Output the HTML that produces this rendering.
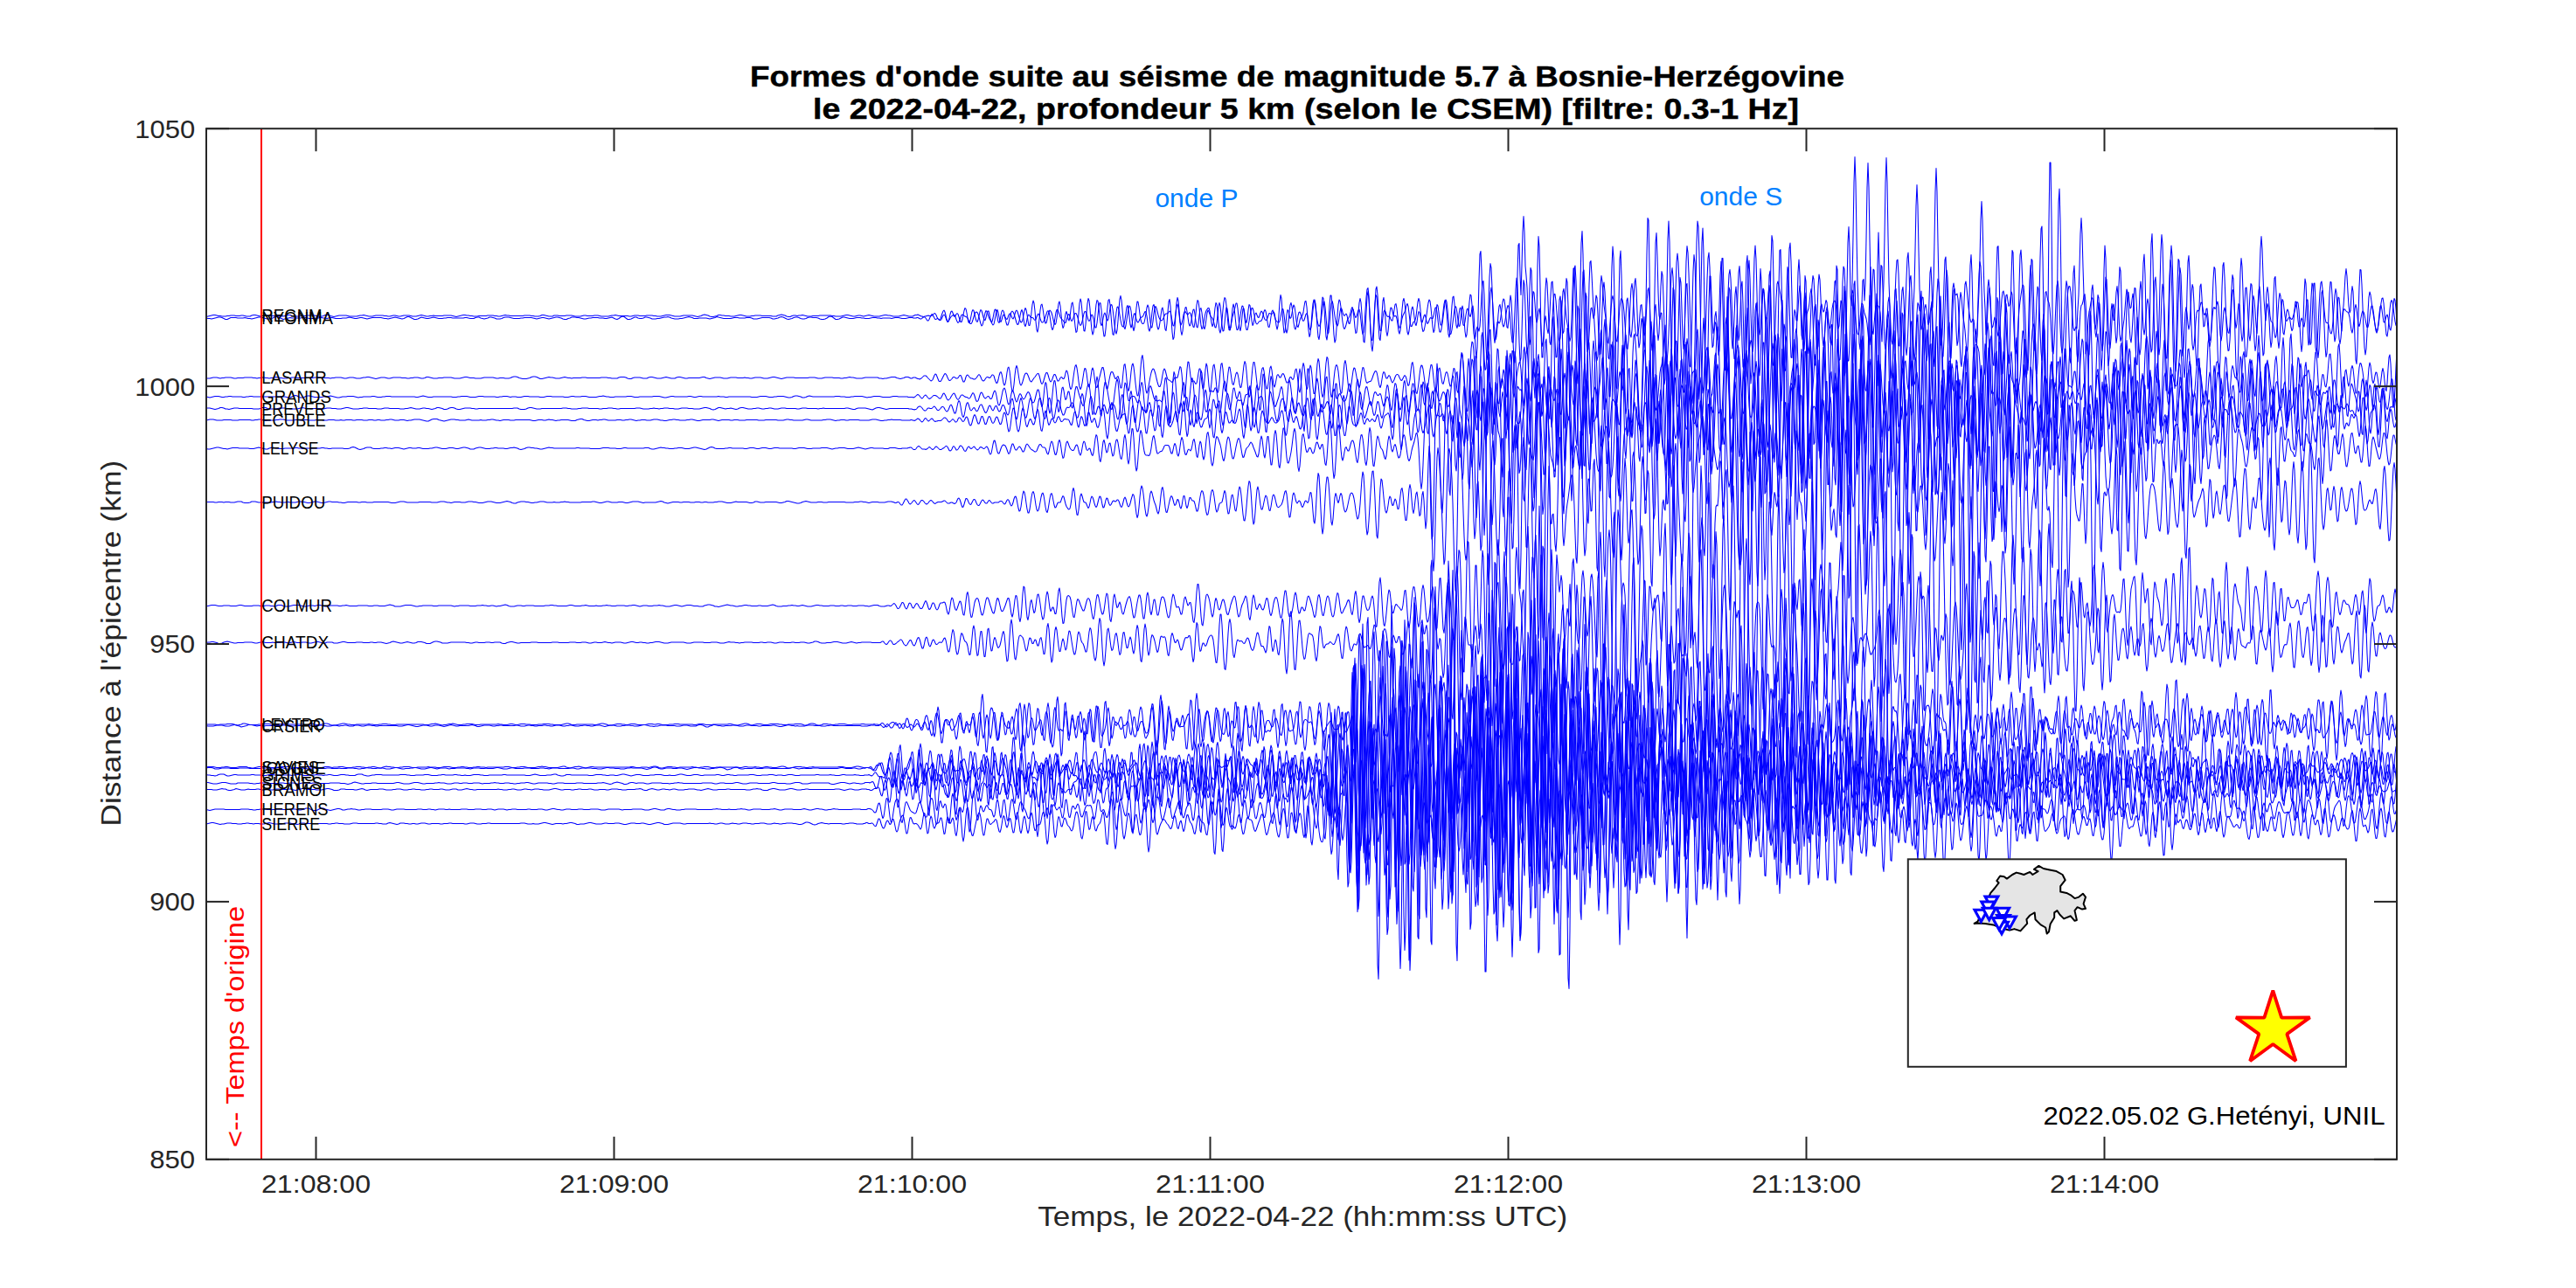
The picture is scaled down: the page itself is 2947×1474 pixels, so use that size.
<!DOCTYPE html>
<html><head><meta charset="utf-8"><title>Formes d'onde</title><style>html,body{margin:0;padding:0;background:#fff;width:2947px;height:1474px;overflow:hidden;position:relative}</style></head><body>
<svg width="2947" height="1474" viewBox="0 0 2947 1474" style="position:absolute;left:0;top:0;font-family:'Liberation Sans', sans-serif">
<rect x="0" y="0" width="2947" height="1474" fill="#ffffff"/>
<g transform="scale(0.5)" fill="none" stroke="#0000ff" stroke-width="2.1" stroke-linejoin="round"><path d="M472 725l4-1 4-1 4-1 4-1 4 0 4 1 4 1 4 0 4 1 4 0 4 0 4-1 4 0 4-1 4 0 4 0 4 1 4 0 4 0 4-1 4 0 4 1 4 1 4 0 4 0 4-2 4-1 4 0 4 1 4 1 4 1 4-1 4 0 4-1 4 0 4 1 4 0 4 0 4 0 4 0 4 0 4 0 4 1 4 0 4-1 4-1 4-1 4 0 4 2 4 1 4 0 4 0 4 0 4-1 4 0 4 0 4 0 4-1 4 0 4 0 4 0 4 0 4 1 4 1 4 1 4-1 4-1 4-2 4 0 4 0 4 2 4 1 4 1 4-1 4-1 4-1 4 0 4 0 4 0 4 0 4 1 4 1 4 0 4 0 4 0 4 0 4-1 4-1 4 0 4-1 4 1 4 1 4 1 4 0 4 0 4-1 4-1 4 0 4 0 4 0 4 0 4 1 4 0 4 1 4 0 4-1 4-1 4 0 4 1 4 1 4 0 4-1 4-1 4 0 4 0 4 0 4 1 4 1 4 0 4 0 4-1 4-1 4-1 4 1 4 1 4 1 4 0 4-1 4 0 4-1 4 1 4 0 4 0 4 0 4 0 4-1 4 0 4 0 4 0 4 0 4 1 4 1 4 1 4-1 4-1 4-1 4-1 4 0 4 1 4 0 4 1 4 0 4 1 4 0 4 0 4-1 4 0 4 0 4 0 4 0 4-1 4 0 4 0 4 0 4 1 4 0 4 1 4 0 4-1 4-1 4-1 4 1 4 0 4 1 4 0 4 0 4 0 4 0 4 0 4 0 4 0 4-1 4 0 4 0 4 0 4 1 4 0 4 1 4 0 4 0 4-1 4-2 4 0 4 1 4 1 4 1 4 0 4 0 4-2 4 0 4 0 4 1 4 0 4 0 4 0 4-1 4 0 4 0 4 0 4 1 4 1 4 0 4 0 4 0 4-1 4-1 4 0 4 1 4 0 4 0 4 0 4-1 4 0 4 0 4 1 4 1 4 0 4 0 4 0 4 0 4-1 4-1 4 0 4-1 4 1 4 1 4 0 4 0 4 0 4 0 4 0 4 1 4 0 4-1 4-1 4 0 4 0 4 1 4 0 4 0 4 0 4-1 4 0 4 0 4 0 4 1 4 0 4 1 4 0 4 0 4-1 4-1 4-1 4 0 4 0 4 1 4 1 4 1 4 0 4 0 4 0 4-1 4-1 4 0 4 0 4 0 4 0 4 0 4 1 4 1 4 1 4-1 4-1 4-2 4-1 4 1 4 1 4 2 4 1 4 0 4-1 4-1 4-2 4 0 4 1 4 0 4 1 4 0 4 0 4 1 4 0 4 0 4-1 4-1 4-1 4 0 4 1 4 1 4 1 4 0 4 0 4-1 4 0 4-1 4 0 4 0 4 0 4 1 4 0 4 0 4 0 4 0 4 0 4 1 4 0 4 0 4-2 4-1 4-1 4 1 4 1 4 2 4 1 4 0 4-2 4-1 4 0 4 1 4-1 4 0 4-1 4 1 4 1 4 1 4 0 4 0 4-1 4 0 4 0 4 0 4-1 4 0 4 0 4 0 4 0 4 0 4 0 4 1 4 0 4 1 4 0 4 0 4 0 4-1 4-1 4-1 4 0 4 1 4 1 4 1 4 0 4-1 4-1 4 0 4 1 4 1 4-1 4-1 4-1 4 1 4 1 4 1 4 0 4 0 4 0 4-1 4-1 4-1 4 0 4 1 4 0 4 1 4 1 4 0 4 0 4 0 4-1 4-1 4-1 4 1 4 1 4 1 2 0 2 0 2 0 2 0 2-1 2-1 2-1 2 0 2 0 2-1 2 1 2 1 2 1 2 1 2 0 2 1 2 0 2-1 2 0 2-1 2 0 2-1 2 1 2 0 2 0 2 0 2-2 2-2 2-2 2 1 2 3 2 5 2 4 2 2 2 0 2-3 2-6 2-6 2-5 2-2 2 4 2 8 2 9 2 6 2-1 2-7 2-10 2-6 2-1 2 4 2 6 2 3 2-2 2-4 2-2 2 2 2 6 2 7 2 5 2 0 2-6 2-10 2-10 2-6 2 2 2 9 2 13 2 9 2 1 2-6 2-10 2-10 2-4 2 2 2 8 2 9 2 7 2 2 2-5 2-9 2-9 2-5 2 2 2 7 2 8 2 6 2 1 2-6 2-9 2-6 2 0 2 8 2 10 2 7 2-1 2-8 2-11 2-8 2-1 2 7 2 12 2 10 2 2 2-6 2-11 2-9 2-3 2 2 2 7 2 7 2 4 2 1 2-4 2-6 2-3 2 0 2 5 2 5 2 2 2-4 2-7 2-7 2-2 2 3 2 7 2 7 2 7 2 4 2-1 2-5 2-11 2-10 2-6 2 4 2 11 2 14 2 11 2 0 2-11 2-19 2-18 2-9 2 6 2 18 2 24 2 19 2 5 2-11 2-19 2-20 2-12 2-2 2 10 2 14 2 13 2 7 2-1 2-8 2-10 2-7 2-4 2 2 2 4 2 7 2 9 2 8 2 3 2-3 2-12 2-18 2-15 2-5 2 10 2 20 2 21 2 10 2-4 2-15 2-14 2-5 2 7 2 10 2 4 2-8 2-17 2-14 2-3 2 12 2 21 2 22 2 14 2-2 2-17 2-25 2-23 2-10 2 7 2 22 2 26 2 18 2 1 2-15 2-25 2-23 2-12 2 5 2 19 2 27 2 22 2 10 2-6 2-19 2-24 2-20 2-10 2 2 2 14 2 19 2 17 2 6 2-4 2-12 2-10 2-3 2 6 2 8 2 4 2-4 2-12 2-13 2-8 2 1 2 10 2 16 2 19 2 15 2 6 2-8 2-21 2-27 2-23 2-8 2 10 2 21 2 25 2 16 2 4 2-8 2-13 2-14 2-12 2-6 2 2 2 10 2 19 2 18 2 8 2-8 2-21 2-23 2-15 2 1 2 12 2 16 2 13 2 6 2 3 2 0 2-3 2-9 2-12 2-13 2-6 2 5 2 15 2 19 2 13 2-1 2-13 2-18 2-13 2-4 2 4 2 8 2 8 2 6 2 4 2 2 2 1 2-2 2-4 2-5 2-4 2-1 2 0 2-1 2-3 2-2 2 2 2 9 2 12 2 10 2 1 2-12 2-18 2-16 2-4 2 9 2 16 2 16 2 7 2-4 2-9 2-11 2-6 2-1 2 3 2 3 2 1 2-3 2-2 2 2 2 8 2 13 2 10 2 1 2-11 2-20 2-20 2-11 2 3 2 15 2 22 2 18 2 8 2-3 2-11 2-13 2-9 2-6 2-3 2-3 2 0 2 7 2 13 2 14 2 8 2-5 2-17 2-20 2-12 2 3 2 18 2 24 2 18 2 6 2-9 2-19 2-24 2-19 2-10 2 3 2 15 2 22 2 21 2 13 2 1 2-8 2-12 2-11 2-7 2-7 2-8 2-9 2 0 2 12 2 23 2 21 2 7 2-11 2-22 2-17 2-1 2 13 2 15 2 5 2-10 2-19 2-13 2 2 2 16 2 19 2 11 2-4 2-12 2-11 2-2 2 5 2 5 2 1 2-5 2-6 2-4 2 2 2 5 2 7 2 5 2 2 2-1 2-4 2-6 2-5 2 0 2 2 2 0 2-2 2-3 2 3 2 12 2 16 2 9 2-8 2-25 2-30 2-16 2 8 2 28 2 32 2 19 2-3 2-18 2-21 2-11 2 3 2 10 2 7 2-2 2-10 2-12 2-7 2 4 2 14 2 18 2 12 2 3 2-7 2-9 2-6 2-2 2-3 2-7 2-14 2-11 2-1 2 14 2 26 2 27 2 15 2-6 2-21 2-28 2-21 2-9 2 5 2 13 2 16 2 14 2 9 2 4 2-3 2-8 2-15 2-17 2-13 2-1 2 13 2 23 2 24 2 14 2-3 2-19 2-26 2-20 2-7 2 7 2 13 2 14 2 12 2 8 2 3 2-5 2-13 2-15 2-8 2 2 2 8 2 6 2 2 2-3 2-2 2 4 2 10 2 8 2 1 2-8 2-14 2-10 2-1 2 7 2 8 2 4 2-3 2-7 2-7 2-2 2 9 2 18 2 19 2 11 2-5 2-20 2-30 2-29 2-19 2-3 2 18 2 37 2 44 2 35 2 11 2-19 2-42 2-48 2-33 2-6 2 19 2 33 2 31 2 18 2 0 2-13 2-17 2-13 2-4 2 3 2 7 2 4 2 1 2-1 2 1 2 5 2 4 2 0 2-10 2-15 2-12 2-2 2 11 2 19 2 17 2 9 2-2 2-9 2-11 2-7 2-4 2-4 2-6 2-9 2-4 2 6 2 16 2 18 2 12 2 0 2-5 2-5 2-1 2-3 2-9 2-17 2-16 2-8 2 7 2 19 2 24 2 18 2 8 2-2 2-9 2-12 2-15 2-15 2-13 2-7 2 3 2 15 2 22 2 22 2 13 2-5 2-21 2-24 2-14 2 3 2 15 2 18 2 11 2 0 2-12 2-19 2-17 2-9 2 7 2 20 2 28 2 23 2 7 2-13 2-28 2-31 2-20 2-2 2 18 2 27 2 22 2 6 2-10 2-20 2-15 2-2 2 11 2 17 2 12 2 1 2-9 2-15 2-12 2-3 2 6 2 9 2 4 2-7 2-13 2-5 2 17 2 40 2 43 2 20 2-24 2-68 2-87 2-59 2-7 2 44 2 73 2 74 2 55 2 26 2-3 2-31 2-54 2-66 2-59 2-31 2 10 2 47 2 61 2 48 2 16 2-12 2-22 2-14 2-1 2 4 2-3 2-12 2-17 2-16 2-8 2 2 2 17 2 25 2 21 2 2 2-23 2-33 2-19 2 12 2 43 2 52 2 40 2 7 2-36 2-75 2-91 2-67 2-4 2 73 2 45 2-66 2-78 2-36 2 36 2 78 2 22 2 27 2 56 2 52 2 23 2-14 2-39 2-44 2-25 2 3 2 25 2 30 2 13 2-8 2-17 2-7 2 15 2 33 2 31 2 8 2-26 2-51 2-53 2-27 2 12 2 45 2 54 2 36 2 6 2-23 2-38 2-35 2-20 2 0 2 16 2 27 2 30 2 25 2 12 2-9 2-32 2-42 2-32 2-7 2 18 2 28 2 22 2 12 2 11 2 16 2 13 2-9 2-43 2-64 2-51 2 0 2 58 2 89 2 82 2 35 2-30 2-87 2-114 2-91 2-27 2 53 2 115 2 125 2 83 2 7 2-65 2-102 2-94 2-51 2-3 2 31 2 42 2 38 2 32 2 33 2 32 2 20 2-9 2-43 2-64 2-55 2-23 2 13 2 29 2 25 2 16 2 14 2 24 2 35 2 32 2 3 2-43 2-82 2-87 2-46 2 26 2 93 2 119 2 84 2 4 2-81 2-121 2-94 2-20 2 57 2 91 2 71 2 18 2-32 2-53 2-38 2-6 2 24 2 35 2 25 2 6 2-16 2-34 2-41 2-34 2-10 2 25 2 53 2 54 2 27 2-10 2-32 2-25 2 8 2 34 2 28 2-21 2-82 2-114 2-83 2 5 2 108 2 170 2 157 2 72 2-46 2-137 2-161 2-111 2-23 2 54 2 81 2 54 2 9 2-15 2 1 2 43 2 69 2 51 2-12 2-85 2-127 2-109 2-41 2 48 2 117 2 134 2 93 2 19 2-56 2-98 2-98 2-65 2-20 2 20 2 48 2 67 2 72 2 63 2 29 2-24 2-76 2-99 2-82 2-35 2 15 2 48 2 61 2 69 2 74 2 66 2 27 2-39 2-99 2-126 2-104 2-49 2 13 2 67 2 99 2 104 2 79 2 32 2-15 2-49 2-64 2-67 2-65 2-49 2-13 2 34 2 70 2 72 2 41 2-4 2-29 2-25 2 3 2 23 2 15 2-21 2-59 2-67 2-33 2 27 2 76 2 87 2 57 2 3 2-46 2-68 2-65 2-41 2-11 2 21 2 46 2 56 2 51 2 30 2 0 2-30 2-55 2-63 2-49 2-15 2 32 2 68 2 78 2 53 2-2 2-61 2-94 2-80 2-18 2 56 2 101 2 94 2 42 2-27 2-81 2-100 2-79 2-29 2 31 2 79 2 94 2 71 2 23 2-29 2-65 2-68 2-38 2 4 2 32 2 30 2 4 2-25 2-35 2-17 2 20 2 52 2 64 2 44 2 4 2-38 2-60 2-57 2-32 2-6 2 10 2 11 2 10 2 16 2 31 2 46 2 48 2 33 2-2 2-45 2-80 2-89 2-64 2-13 2 43 2 81 2 90 2 73 2 37 2-13 2-65 2-95 2-84 2-29 2 37 2 75 2 61 2 10 2-37 2-49 2-21 2 22 2 50 2 47 2 20 2-16 2-43 2-52 2-45 2-22 2 8 2 37 2 52 2 47 2 24 2-7 2-31 2-36 2-24 2-5 2 10 2 8 2-3 2-14 2-10 2 5 2 21 2 27 2 25 2 19 2 6 2-15 2-41 2-52 2-38 2-2 2 36 2 47 2 27 2-6 2-31 2-27 2 5 2 48 2 69 2 50 2-8 2-78 2-117 2-102 2-36 2 49 2 111 2 21 2-53 2-106 2-124 2-58 2 58 2 124 2 106 2 53 2 85 2 15 2-38 2-67 2-53 2-3 2 49 2-39 2-101 2-119 2-56 2 56 2 119 2 101 2 52 2 57 2 7 2-21 2-27 2-17 2-3 2 2 2 2 2 2 2 13 2 28 2 38 2-82 2-53 2-105 2-124 2-57 2 57 2 124 2 105 2 53 2 136 2 30 2-15 2-48 2-63 2-62 2-51 2-31 2-2 2 34 2 65 2 77 2 60 2 24 2-14 2-39 2-50 2-57 2-57 2-46 2-13 2 38 2 85 2 100 2 73 2 10 2-180 2-44 2-87 2-102 2-48 2 48 2 102 2 87 2 44 2 50 2-6 2-10 2-16 2-18 2-7 2 11 2 21 2 14 2-5 2-19 2-14 2 5 2-8 2-50 2-98 2-115 2-54 2 54 2 115 2 98 2 50 2 88 2-1 2-24 2-50 2-66 2-54 2-7 2 55 2 97 2 93 2 44 2-23 2-70 2-77 2-48 2-11 2 14 2 13 2 0 2-3 2 13 2 40 2 57 2 47 2 10 2-32 2-58 2-60 2-38 2-7 2 16 2 23 2 20 2 15 2 13 2 7 2-2 2-6 2 2 2 19 2 24 2 10 2-20 2-58 2-39 2-76 2-89 2-42 2 42 2 89 2 76 2 39 2 59 2-23 2-36 2-35 2-13 2 20 2 49 2 60 2 44 2 5 2-43 2-81 2-88 2-60 2-2 2 60 2 96 2 89 2 49 2-2 2-42 2-58 2-51 2-28 2-2 2 14 2 13 2-3 2-16 2-14 2 6 2 32 2 47 2 40 2 17 2-12 2-30 2-33 2-27 2-18 2-14 2-14 2-10 2 2 2 24 2 49 2 62 2 50 2 9 2-42 2-81 2-83 2-49 2 3 2 50 2 76 2 74 2 48 2 12 2-26 2-61 2-87 2-92 2-66 2-6 2 73 2 143 2 166 2 120 2 14 2-113 2-204 2-212 2-133 2 0 2 129 2 206 2 207 2 133 2 17 2-101 2-179 2-189 2-131 2-32 2 73 2 138 2 146 2 96 2 21 2-45 2-73 2-66 2-40 2-19 2-8 2 1 2 13 2 27 2 31 2 23 2 7 2-4 2-5 2 4 2-43 2-33 2-65 2-76 2-36 2 36 2 76 2 65 2 33 2 101 2-11 2-35 2-33 2-18 2-9 2-11 2-11 2 0 2 20 2 32 2 20 2-12 2-36 2-31 2 7 2 54 2 71 2 40 2-29 2-93 2-107 2-56 2 29 2 95 2 101 2 50 2-17 2-57 2-51 2-17 2 16 2 22 2 0 2-28 2-36 2-14 2 22 2 46 2 42 2 16 2-8 2-15 2-13 2-14 2-23 2-28 2-18 2 7 2 32 2 43 2 31 2 9 2-19 2-38 2-42 2-26 2 1 2 27 2 40 2 40 2 31 2 14 2-14 2-51 2-77 2-68 2-20 2 45 2 96 2 104 2 63 2-14 2-91 2-127 2-100 2-23 2 61 2 105 2 100 2 60 2 15 2-20 2-47 2-72 2-85 2-77 2-38 2 22 2 80 2 108 2 95 2 52 2-1 2-48 2-80 2-92 2-77 2-34 2 24 2 74 2 93 2 73 2 24 2-28 2-61 2-70 2-55 2-23 2 16 2 56 2 78 2 70 2 31 2-26 2-77 2-93 2-68 2-15 2 38 2 64 2 61 2 40 2 13 2-10 2-26 2-29 2-20 2-6 2 2 2-2 2-9 2-9 2 1 2 12 2 12 2 4 2-4 2 0 2 12 2 24 2 27 2 13 2-11 2-37 2-53 2-51 2-30 2 4 2 42 2 69 2 74 2 53 2 9 2-43 2-78 2-81 2-52 2-7 2 34 2 53 2 54 2 40 2 21 2-1 2-23 2-42 2-45 2-29 2 2 2 30 2 37 2 19 2-9 2-27 2-20 2 3 2 28 2 36 2 19 2-10 2-37 2-44 2-31 2-1 2 28 2 44 2 38 2 12 2-18 2-36 2-35 2-14 2 10 2 27 2 29 2 20 2-52 2-26 2-53 2-62 2-29 2 29 2 62 2 53 2 26 2 23 2-23 2-16 2 7 2 30 2 40 2 23 2-12 2-45 2-59 2-42 2-4 2 38 2 59 2 50 2 17 2-18 2-40 2-36 2-18 2 4 2 17 2 17 2 10 2 2 2-3 2-4 2-2 2 1 2 3 2 1 2-4 2-7 2-8 2-8 2-7 2-6 2 2 2 17 2 34 2 39 2 22 2-16 2-53 2-62 2-36 2 11 2 50 2 58 2 33 2-10 2-44 2-55 2-33 2 6 2 42 2 56 2 43 2 13 2-20 2-40 2-44 2-35 2-21 2-4 2 17 2 37 2 49 2 45 2 25 2-8 2-36 2-53 2-48 2-27 2 1 2 28 2 45 2 42 2 21 2-9 2-32 2-38 2-23 2 2 2 23 2 31 2 22 2-42 2-16 2-31 2-37 2-17 2 17 2 37 2 31 2 16 2-5 2-36 2-20 2 12 2 46 2 63 2 48 2 9 2-39 2-69 2-68 2-40 2 1 2 34 2 51 2 52 2 40 2 17 2-13 2-38 2-46 2-35 2-12 2 7 2 15 2 15 2 13 2 13 2 12 2 10 2 4 2-3 2-10 2-16 2-18 2-16 2-11 2-1 2 12 2 24 2 27 2 21 2 4 2-14 2-24 2-24 2-16 2-5 2 5 2 13 2 16 2 15 2 9 2-1"/><path d="M472 728l4 1 4 0 4 1 4-1 4-1 4-1 4-1 4 0 4 1 4 2 4 2 4 0 4-2 4-2 4 0 4 0 4 0 4 1 4 0 4 0 4 0 4-1 4 1 4 1 4 0 4 1 4-1 4-1 4-1 4-1 4 0 4 1 4 1 4 1 4 1 4 0 4-1 4-1 4-2 4-1 4 0 4 2 4 2 4 2 4-1 4-1 4-1 4-1 4 1 4 0 4 0 4 0 4 0 4 0 4-1 4 0 4 0 4 1 4 1 4 0 4 0 4 0 4-1 4 0 4-1 4 0 4 1 4 0 4 1 4-1 4-1 4 0 4 1 4 1 4 0 4 0 4 0 4-1 4 0 4 0 4-1 4-1 4 1 4 1 4 1 4 0 4-1 4-1 4 0 4 1 4 1 4 1 4-1 4-1 4-1 4 0 4 0 4 0 4 0 4 0 4 1 4 1 4 0 4 1 4-1 4-1 4-1 4-1 4 1 4 1 4 1 4 1 4-1 4-2 4-2 4 0 4 2 4 2 4 2 4 0 4-1 4-2 4-2 4 1 4 1 4 1 4 0 4-1 4-1 4-1 4 1 4 1 4 1 4 0 4 0 4-1 4 0 4-1 4 0 4 0 4 1 4 0 4 0 4 0 4 0 4 0 4 0 4-1 4 0 4 1 4 1 4 0 4 0 4-2 4-1 4 0 4 2 4 1 4 1 4-1 4-1 4-2 4 0 4 1 4 1 4 2 4 0 4 0 4-1 4-2 4-1 4 0 4 0 4 1 4 1 4 1 4 0 4 0 4 0 4-1 4 0 4-1 4 0 4 0 4 0 4 0 4 1 4 1 4 1 4-1 4-1 4-1 4 0 4 1 4 1 4 1 4-1 4-1 4-1 4-1 4 0 4 1 4 1 4 2 4 1 4 0 4-2 4-1 4-2 4 0 4 0 4 1 4 0 4 1 4 1 4 1 4 0 4-1 4-1 4 0 4-1 4 0 4 0 4 0 4 1 4 0 4 0 4 1 4 0 4-1 4-1 4-1 4 2 4 2 4 1 4-2 4-3 4-2 4 1 4 3 4 3 4 0 4-1 4-2 4-2 4 0 4 2 4 1 4 0 4-1 4-2 4 0 4 1 4 1 4 2 4 0 4 0 4-1 4 0 4-1 4-1 4-1 4 0 4-1 4 1 4 2 4 1 4 1 4 0 4 0 4-1 4 0 4-1 4-1 4-1 4-1 4 1 4 1 4 2 4 0 4 0 4-1 4 0 4 0 4 0 4 0 4 1 4 1 4-1 4-1 4-1 4-2 4 1 4 1 4 1 4 1 4 0 4 0 4 0 4 0 4-1 4-1 4 0 4 0 4 1 4 0 4 0 4 0 4-1 4 0 4 0 4 1 4 2 4 0 4 0 4-1 4-1 4-1 4 0 4 0 4 0 4 0 4 1 4 2 4 0 4-1 4-1 4-2 4-1 4 1 4 2 4 2 4 1 4-1 4-1 4-2 4-1 4 0 4 1 4 2 4 1 4 0 4-1 4-2 4-1 4 0 4 1 4 0 4 0 4 1 4 2 4 1 4 0 4-1 4-2 4-3 4-1 4 1 4 3 4 3 4 0 4-1 4-2 4-2 4 0 4 1 4 1 4 1 4 0 4 0 4-1 4-1 4 0 4 0 4 1 4 0 4 1 4 0 4 0 4-1 4-1 4 0 4 0 4 1 4 0 4 1 4-1 4 0 4 0 4 0 4 0 4 1 4-1 4-1 4 0 4 0 4 1 4 1 4 0 4 0 4-1 4-1 2 0 2 0 2 0 2 0 2 1 2 0 2 0 2 0 2-1 2 0 2 1 2 1 2 1 2 0 2-2 2-1 2-2 2 1 2 2 2 3 2 3 2 0 2-3 2-5 2-4 2-3 2 1 2 4 2 4 2 3 2 0 2-2 2 0 2 2 2 2 2 0 2-2 2-5 2-4 2-2 2 2 2 5 2 6 2 3 2-1 2-3 2-4 2-3 2-2 2-1 2-1 2 0 2 4 2 6 2 5 2 3 2-2 2-5 2-6 2-5 2-1 2 1 2 2 2 1 2 1 2 1 2 2 2 5 2 5 2 3 2 0 2-3 2-6 2-7 2-6 2-4 2-1 2 1 2 4 2 6 2 9 2 7 2 5 2-2 2-8 2-11 2-9 2-5 2 2 2 6 2 6 2 5 2 3 2 3 2 5 2 3 2-2 2-9 2-12 2-9 2-3 2 7 2 10 2 9 2 2 2-5 2-8 2-4 2 2 2 7 2 9 2 6 2 0 2-6 2-9 2-9 2-6 2-2 2 2 2 4 2 7 2 7 2 7 2 4 2-1 2-7 2-12 2-10 2-4 2 7 2 14 2 13 2 4 2-6 2-11 2-8 2-2 2 3 2 3 2 1 2 0 2 1 2 3 2 2 2-2 2-6 2-5 2-2 2 4 2 7 2 6 2 3 2 0 2-3 2-4 2-6 2-6 2-6 2-2 2 3 2 9 2 14 2 12 2 6 2-4 2-11 2-13 2-12 2-6 2 0 2 5 2 6 2 6 2 3 2 2 2 2 2 3 2 3 2 0 2-5 2-8 2-6 2-1 2 5 2 7 2 4 2-2 2-6 2-7 2-3 2 0 2 4 2 6 2 8 2 6 2 4 2-2 2-7 2-9 2-9 2-5 2 0 2 5 2 7 2 8 2 2 2-3 2-7 2-5 2 2 2 8 2 12 2 8 2 0 2-11 2-18 2-18 2-10 2 1 2 15 2 23 2 23 2 15 2-1 2-16 2-25 2-25 2-16 2-2 2 13 2 24 2 25 2 18 2 2 2-12 2-21 2-19 2-12 2-1 2 7 2 12 2 12 2 9 2 5 2 1 2-5 2-11 2-15 2-14 2-4 2 9 2 18 2 17 2 7 2-6 2-14 2-10 2-3 2 5 2 9 2 6 2 1 2-3 2-5 2-3 2-1 2-1 2-3 2-5 2-4 2 1 2 9 2 16 2 14 2 5 2-7 2-17 2-20 2-14 2-3 2 8 2 15 2 16 2 12 2 6 2-4 2-12 2-16 2-14 2-4 2 11 2 21 2 18 2 3 2-16 2-27 2-23 2-6 2 16 2 29 2 30 2 17 2-4 2-22 2-31 2-27 2-12 2 7 2 21 2 27 2 22 2 9 2-9 2-20 2-21 2-13 2-1 2 10 2 14 2 13 2 6 2-2 2-11 2-14 2-10 2-1 2 11 2 16 2 13 2 2 2-10 2-18 2-15 2-2 2 11 2 18 2 15 2 4 2-8 2-15 2-14 2-6 2 3 2 6 2 5 2 2 2 2 2 5 2 8 2 8 2 1 2-10 2-19 2-19 2-9 2 7 2 20 2 24 2 14 2-1 2-17 2-22 2-14 2 2 2 17 2 20 2 12 2-6 2-20 2-23 2-10 2 8 2 20 2 20 2 11 2 0 2-8 2-12 2-14 2-12 2-9 2 1 2 10 2 18 2 17 2 9 2 0 2-8 2-12 2-13 2-10 2-7 2 0 2 6 2 11 2 11 2 7 2 2 2-2 2-3 2-2 2 0 2-1 2-4 2-8 2-9 2-4 2 3 2 11 2 14 2 11 2 1 2-9 2-15 2-12 2-3 2 5 2 8 2 7 2 4 2 2 2 2 2 0 2-3 2-9 2-11 2-8 2 1 2 12 2 18 2 17 2 7 2-8 2-18 2-22 2-16 2-5 2 9 2 17 2 19 2 13 2 3 2-7 2-13 2-12 2-7 2-1 2 4 2 7 2 7 2 3 2-2 2-7 2-7 2-2 2 7 2 14 2 13 2 4 2-7 2-17 2-20 2-18 2-7 2 9 2 24 2 29 2 23 2 6 2-14 2-30 2-33 2-20 2 3 2 24 2 35 2 28 2 8 2-15 2-32 2-33 2-22 2 0 2 22 2 35 2 33 2 18 2-6 2-25 2-31 2-25 2-11 2 3 2 14 2 18 2 16 2 12 2 4 2-3 2-7 2-8 2-5 2-3 2-4 2-7 2-9 2-4 2 6 2 18 2 22 2 14 2-2 2-18 2-27 2-23 2-10 2 9 2 27 2 36 2 27 2 2 2-26 2-43 2-37 2-11 2 18 2 36 2 36 2 21 2 1 2-20 2-32 2-32 2-20 2 4 2 28 2 38 2 30 2 4 2-22 2-37 2-31 2-8 2 18 2 32 2 28 2 10 2-10 2-22 2-22 2-11 2 1 2 8 2 8 2 3 2-1 2 0 2 6 2 14 2 15 2 6 2-8 2-22 2-25 2-20 2-6 2 10 2 22 2 26 2 19 2 6 2-8 2-17 2-19 2-15 2-5 2 8 2 16 2 15 2 4 2-8 2-14 2-10 2 2 2 10 2 11 2 2 2-7 2-8 2-3 2 6 2 9 2 6 2-2 2-6 2-5 2-1 2 2 2 0 2-6 2-10 2-9 2 0 2 11 2 18 2 17 2 10 2 0 2-7 2-12 2-15 2-17 2-15 2-8 2 5 2 18 2 23 2 21 2 12 2-1 2-9 2-16 2-16 2-14 2-8 2 3 2 12 2 18 2 13 2-1 2-15 2-21 2-10 2 9 2 24 2 26 2 13 2-6 2-23 2-29 2-23 2-17 2 2 2 22 2 35 2 30 2 13 2-6 2-15 2-7 2 4 2 6 2-11 2-30 2-40 2-31 2-3 2 32 2 59 2 59 2 31 2-12 2-47 2-55 2-40 2-12 2 15 2 30 2 34 2 27 2 13 2-7 2-22 2-28 2-19 2-4 2 12 2 18 2 15 2 6 2-4 2-11 2-14 2-13 2-7 2 3 2 13 2 23 2 26 2 19 2 1 2-25 2-47 2-50 2-26 2 17 2 59 2 71 2 46 2-9 2-59 2-75 2-45 2 10 2 56 2 67 2 35 2-16 2-60 2-73 2-47 2 7 2 68 2 103 2 91 2 29 2-56 2-121 2-126 2-67 2 24 2 92 2 102 2 59 2 0 2-39 2-40 2-16 2 10 2 20 2 10 2-14 2-34 2-40 2-29 2-2 2 29 2 53 2 56 2 36 2-1 2-37 2-53 2-41 2-8 2 23 2 37 2 25 2-4 2-37 2-51 2-34 2 9 2 56 2 80 2 63 2 15 2-40 2-76 2-78 2-51 2-7 2 35 2 61 2 67 2 52 2 19 2-25 2-63 2-77 2-54 2-5 2 42 2 64 2 55 2 26 2-6 2-31 2-37 2-25 2-2 2 14 2 11 2-8 2-25 2-20 2 6 2 38 2 54 2 38 2-2 2-43 2-60 2-48 2-13 2 22 2 44 2 44 2 27 2 3 2-18 2-29 2-31 2-23 2-8 2 11 2 29 2 36 2 26 2 3 2-19 2-31 2-28 2-16 2-5 2 3 2 9 2 19 2 28 2 32 2 23 2 2 2-20 2-39 2-45 2-35 2-11 2 17 2 36 2 35 2 22 2 9 2 1 2-6 2-17 2-25 2-22 2-2 2 21 2 31 2 19 2-6 2-30 2-38 2-29 2-6 2 24 2 46 2 49 2 24 2-15 2-42 2-39 2-9 2 24 2 37 2 21 2-16 2-49 2-58 2-35 2 9 2 50 2 69 2 56 2 26 2-3 2-24 2-38 2-46 2-50 2-41 2-16 2 21 2 55 2 72 2 62 2 26 2-25 2-68 2-77 2-44 2 12 2 60 2 65 2 27 2-30 2-64 2-53 2-3 2 53 2 79 2 57 2 2 2-55 2-86 2-78 2-38 2 18 2 69 2 99 2 94 2 51 2-22 2-95 2-133 2-109 2-33 2 60 2 122 2 123 2 66 2-18 2-83 2-99 2-61 2 0 2 49 2 55 2 27 2-12 2-28 2-10 2 23 2 44 2 33 2-11 2-61 2-86 2-64 2 0 2 69 2 103 2 78 2 8 2-58 2-82 2-51 2 6 2 50 2 57 2 27 2-18 2-53 2-53 2-18 2 30 2 56 2 37 2-12 2-56 2-56 2-11 2 52 2 88 2 70 2 8 2-63 2-99 2-82 2-22 2 42 2 76 2 66 2 25 2-17 2-40 2-38 2-16 2 8 2 26 2 28 2 10 2-16 2-35 2-35 2-18 2 9 2 34 2 50 2 53 2 36 2-2 2-53 2-92 2-98 2-60 2 13 2 89 2 133 2 120 2 51 2-45 2-116 2-129 2-82 2-2 2 67 2 97 2 81 2 32 2-29 2-75 2-83 2-50 2 10 2 64 2 81 2 52 2 1 2-40 2-47 2-23 2 7 2 17 2 1 2-25 2-37 2-18 2 18 2 48 2 52 2 31 2-4 2-28 2-33 2-19 2-7 2-5 2-14 2-21 2-11 2 17 2 50 2 63 2 45 2 0 2-48 2-71 2-62 2-27 2 12 2 42 2 52 2 41 2 17 2-13 2-33 2-32 2-11 2 12 2 23 2 14 2-5 2-20 2-20 2-12 2-5 2-2 2 5 2 19 2 37 2 45 2 31 2-2 2-42 2-68 2-67 2-36 2 6 2 46 2 67 2 62 2 36 2-2 2-37 2-55 2-48 2-21 2 7 2 23 2 24 2 19 2 16 2 11 2 2 2-12 2-23 2-24 2-13 2 2 2 10 2 11 2 6 2 6 2 12 2 21 2 21 2 6 2-23 2-50 2-59 2-41 2 2 2 52 2 89 2 85 2 39 2-34 2-88 2-97 2-57 2 3 2 53 2 69 2 53 2 14 2-24 2-44 2-39 2-12 2 22 2 41 2 37 2 8 2-31 2-52 2-41 2-3 2 38 2 54 2 38 2 1 2-35 2-52 2-40 2-8 2 30 2 53 2 51 2 22 2-18 2-50 2-60 2-46 2-8 2 34 2 63 2 63 2 32 2-14 2-46 2-47 2-23 2 5 2 13 2 1 2-15 2-17 2 1 2 27 2 47 2 47 2 24 2-13 2-54 2-74 2-61 2-13 2 45 2 82 2 75 2 26 2-33 2-69 2-66 2-33 2 9 2 40 2 53 2 49 2 29 2-2 2-39 2-63 2-64 2-32 2 17 2 59 2 73 2 50 2 3 2-43 2-64 2-48 2-4 2 40 2 56 2 34 2-10 2-46 2-46 2-20 2 11 2 26 2 21 2 13 2 16 2 25 2 23 2-3 2-45 2-77 2-72 2-24 2 42 2 90 2 93 2 58 2 2 2-44 2-69 2-72 2-56 2-28 2 11 2 52 2 79 2 76 2 41 2-12 2-58 2-74 2-56 2-18 2 19 2 40 2 35 2 16 2-3 2-12 2-9 2 4 2 15 2 16 2 8 2-7 2-20 2-29 2-27 2-17 2-3 2 11 2 26 2 39 2 45 2 36 2 9 2-34 2-75 2-89 2-61 2 5 2 81 2 122 2 106 2 36 2-49 2-108 2-112 2-70 2-12 2 33 2 54 2 61 2 61 2 53 2 30 2-10 2-55 2-83 2-75 2-34 2 23 2 65 2 71 2 37 2-13 2-49 2-54 2-31 2 6 2 38 2 56 2 50 2 19 2-22 2-51 2-53 2-30 2-2 2 13 2 9 2 4 2 12 2 29 2 40 2 30 2 6 2-24 2-44 2-49 2-38 2-12 2 17 2 41 2 50 2 40 2 17 2-12 2-36 2-48 2-45 2-24 2 11 2 47 2 67 2 55 2 8 2-49 2-84 2-73 2-17 2 49 2 85 2 68 2 18 2-31 2-48 2-36 2-14 2-2 2-7 2-12 2-5 2 18 2 42 2 51 2 32 2-5 2-42 2-60 2-46 2-11 2 25 2 46 2 39 2 10 2-20 2-35 2-25 2 4 2 35 2 46 2 26 2-16 2-53 2-62 2-38 2 6 2 45 2 59 2 42 2 11 2-22 2-39 2-33 2-7 2 24 2 40 2 25 2-13 2-52 2-66 2-43 2 9 2 62 2 87 2 70 2 23 2-32 2-63 2-62 2-35 2-1 2 20 2 17 2-2 2-18 2-14 2 13 2 44 2 60 2 44 2 2 2-44 2-68 2-58 2-21 2 22 2 45 2 40 2 15 2-14 2-29 2-28 2-11 2 14 2 37 2 43 2 28 2-6 2-44 2-63 2-49 2-10 2 35 2 62 2 57 2 24 2-18 2-52 2-59 2-33 2 10 2 52 2 64 2 44 2 0 2-46 2-73 2-70 2-36 2 18 2 71 2 99 2 82 2 24 2-46 2-95 2-98 2-57 2 4 2 56 2 78 2 62 2 22 2-19 2-42 2-38 2-13 2 13 2 25 2 13 2-11 2-33 2-37 2-22 2 7 2 37 2 58 2 56 2 28 2-16 2-54 2-67 2-45 2-5 2 31 2 41 2 26 2-2 2-20 2-19 2-1 2 21 2 31 2 22 2-2 2-24 2-29 2-19 2-3 2 4 2-2 2-9 2-6 2 12 2 30 2 34 2 14 2-12 2-30 2-26 2-8 2 9 2 17 2 18 2 13 2 2 2-16 2-39 2-48 2-31 2 9 2 53 2 78 2 69 2 31 2-21 2-66 2-86 2-73 2-32 2 19 2 57 2 70 2 54 2 26 2-1 2-22 2-35 2-44 2-41 2-25 2 3 2 32 2 50 2 46 2 23 2-12 2-40 2-49 2-37 2-9 2 24 2 49 2 53 2 32 2-5 2-41 2-55 2-43 2-13 2 15 2 27 2 24 2 12 2 2 2 2 2 10 2 14 2 10 2-4 2-21 2-32 2-30 2-15 2 7 2 27 2 34 2 23 2 4 2-15 2-22 2-16 2-5 2 5 2 10 2 12 2 14 2 8 2-4 2-19 2-26 2-18 2 1 2 20 2 23 2 14 2-1 2-11 2-8 2 4 2 12 2 4 2-13 2-26 2-23 2 0 2 29 2 44 2 30 2-4 2-41 2-56 2-39 2-1 2 41 2 60 2 51 2 19 2-20 2-47 2-50 2-32 2-5 2 18 2 26 2 20 2 9 2 1 2 0 2 5 2 9 2 9 2 2 2-8 2-21 2-30 2-29 2-15 2 9 2 32 2 41 2 33 2 11 2-13 2-25 2-25 2-13 2-4 2 2 2 3 2 2 2 0 2 4 2 8 2 15 2 15 2 6 2-11 2-22 2-23 2-9 2 9 2 20 2 16 2 5 2-7 2-13 2-10 2-5 2 2 2 7 2 10 2 11 2 7 2 0 2-9 2-15 2-16 2-9 2 0 2 10 2 15 2 18 2 14 2 5 2-6 2-17 2-22 2-16 2-2 2 10 2 16 2 12 2 1 2-7 2-8 2-3 2 7 2 13 2 13 2 3 2-12 2-23 2-25 2-13 2 4 2 20 2 29"/><path d="M472 866l4 0 4 0 4-1 4-1 4 0 4 0 4 1 4 1 4-1 4 0 4-1 4 0 4 0 4 0 4 1 4 1 4 0 4-1 4 0 4 0 4 0 4-1 4 0 4 0 4 0 4 0 4 1 4 0 4 1 4-1 4 0 4-1 4 0 4 1 4 0 4 1 4-1 4 0 4-1 4-1 4 1 4 1 4 0 4 1 4 0 4 0 4-1 4 0 4-1 4 0 4 0 4 1 4 0 4 0 4 0 4 0 4 0 4 0 4 0 4 0 4 0 4-1 4 0 4 0 4 0 4 1 4 0 4 0 4 0 4 0 4 1 4-1 4 0 4-1 4 0 4 0 4 0 4 1 4 1 4 0 4-1 4-1 4 0 4 0 4 1 4 1 4 0 4 0 4-1 4-1 4 0 4-1 4 0 4 1 4 1 4 1 4 1 4-1 4-1 4-1 4 0 4 0 4 1 4 1 4 0 4-1 4-1 4 0 4 0 4 0 4 0 4 1 4 0 4 0 4 1 4 0 4-1 4 0 4-1 4 0 4 0 4 1 4 1 4 0 4-1 4-2 4 0 4 1 4 1 4 1 4 0 4 0 4-1 4 0 4 0 4-1 4 0 4 0 4 0 4 0 4 1 4 1 4 0 4 0 4 0 4-1 4-1 4-1 4 0 4 1 4 1 4 0 4 0 4 1 4 0 4 0 4 0 4-1 4-1 4 0 4 0 4 0 4 0 4 0 4 1 4 1 4 0 4-1 4 0 4 0 4 1 4 0 4 0 4-1 4-2 4-1 4 0 4 1 4 2 4 1 4 1 4 0 4 0 4-1 4-1 4-2 4-1 4 0 4 1 4 2 4 2 4 0 4-1 4-1 4-1 4-1 4 1 4 0 4 1 4 1 4 0 4 0 4-1 4-1 4-1 4 1 4 1 4 0 4 1 4-1 4 0 4 0 4 0 4 0 4-1 4 0 4 0 4 1 4 0 4 0 4 0 4 0 4 0 4 0 4 0 4-1 4 0 4 0 4 0 4 1 4 0 4 1 4 0 4 0 4 0 4-2 4-1 4 0 4 0 4 1 4 2 4 1 4 0 4-2 4-1 4 0 4 0 4 0 4 1 4 1 4 0 4 0 4-2 4-1 4 0 4 1 4 1 4 1 4 0 4 0 4-1 4-1 4-1 4 1 4 1 4 1 4 0 4 0 4-2 4-1 4 0 4 1 4 1 4 1 4 0 4-1 4 0 4 0 4 0 4 0 4 0 4 0 4-1 4-1 4 0 4 2 4 1 4 1 4-1 4-1 4-1 4 0 4 0 4 0 4 1 4 1 4 0 4 0 4-1 4-1 4 0 4 0 4 0 4 1 4 0 4 0 4 0 4-1 4 1 4 0 4 1 4 0 4-1 4-1 4 0 4 0 4 0 4 1 4 1 4 0 4 0 4-1 4-1 4-1 4 0 4 1 4 1 4 1 4 1 4-1 4-1 4-1 4 0 4 0 4 0 4 0 4 1 4 0 4 0 4 0 4 0 4 0 4 0 4 0 4-1 4 0 4 0 4 0 4 1 4 1 4 0 4 0 4-1 4-1 4 0 4 0 4 0 4 0 4 1 4 0 4 0 4 0 4 1 4 0 4-1 4 0 4-1 4-1 4 1 4 0 4 1 4 1 4 0 4 0 4 0 4-1 4-1 4 0 4 0 4 0 4 0 4 0 4 0 4 0 4 2 4 0 4 1 4-1 4 0 4-1 4-1 4-1 4 0 4 0 4 2 4 1 4 1 4-1 4-1 2-1 2-1 2 0 2 0 2 0 2 1 2 1 2 1 2 0 2-1 2-1 2 0 2 0 2 1 2 1 2 1 2 0 2 1 2-1 2-1 2-2 2-2 2-2 2 0 2 0 2 1 2 3 2 2 2 2 2 2 2 2 2-1 2-2 2-5 2-5 2-3 2 1 2 5 2 5 2 5 2 1 2 0 2-3 2-4 2-4 2-4 2-3 2 1 2 3 2 5 2 4 2 3 2 0 2-2 2-2 2-3 2-1 2 0 2 2 2 1 2 0 2-1 2-3 2-3 2 0 2 4 2 6 2 5 2 0 2-4 2-7 2-4 2-1 2 2 2 3 2 2 2 1 2 0 2 1 2 1 2 0 2-1 2-2 2-3 2-3 2-2 2 2 2 4 2 5 2 3 2 1 2-1 2-3 2-3 2-2 2 0 2 1 2 1 2-1 2-3 2-3 2 0 2 2 2 7 2 6 2 4 2-1 2-7 2-9 2-7 2-2 2 5 2 10 2 11 2 5 2-3 2-11 2-15 2-11 2-2 2 9 2 17 2 19 2 11 2-2 2-14 2-21 2-16 2-6 2 6 2 13 2 13 2 10 2 3 2-3 2-6 2-7 2-7 2-4 2-1 2 1 2 4 2 5 2 6 2 3 2 1 2-3 2-3 2-3 2-2 2-3 2-3 2-2 2 0 2 5 2 8 2 8 2 3 2-2 2-6 2-7 2-7 2-4 2 0 2 5 2 7 2 6 2 3 2-2 2-5 2-6 2-4 2 0 2 4 2 6 2 5 2 0 2-3 2-4 2-2 2 1 2 3 2 0 2-4 2-9 2-6 2 2 2 9 2 15 2 12 2 5 2-3 2-10 2-15 2-14 2-11 2-3 2 7 2 14 2 17 2 13 2 5 2-4 2-10 2-13 2-13 2-8 2 1 2 10 2 16 2 13 2 3 2-9 2-15 2-15 2-5 2 6 2 15 2 14 2 9 2 1 2-6 2-9 2-9 2-8 2-8 2-6 2 0 2 8 2 15 2 16 2 10 2 0 2-9 2-12 2-10 2-7 2-1 2 1 2 5 2 6 2 4 2-1 2-3 2-2 2 6 2 11 2 10 2 0 2-14 2-22 2-17 2-2 2 14 2 22 2 19 2 7 2-7 2-17 2-20 2-15 2-4 2 8 2 17 2 20 2 17 2 11 2 1 2-12 2-24 2-29 2-22 2-6 2 13 2 26 2 25 2 17 2 6 2-5 2-11 2-11 2-11 2-9 2-6 2-3 2 1 2 5 2 7 2 9 2 8 2 7 2 4 2 0 2-5 2-10 2-12 2-10 2-4 2 3 2 8 2 8 2 5 2 2 2 0 2 2 2 2 2 1 2-3 2-5 2-3 2 0 2 1 2-1 2-7 2-10 2-8 2 2 2 15 2 23 2 23 2 8 2-10 2-27 2-28 2-17 2 1 2 15 2 17 2 11 2 2 2-2 2 0 2 4 2 3 2-2 2-9 2-14 2-10 2 0 2 14 2 19 2 13 2-2 2-19 2-23 2-14 2 6 2 21 2 24 2 14 2-3 2-18 2-23 2-16 2-3 2 12 2 21 2 21 2 11 2-5 2-20 2-24 2-17 2-2 2 14 2 23 2 20 2 8 2-6 2-17 2-20 2-13 2 1 2 12 2 15 2 11 2 2 2-7 2-10 2-9 2-3 2 4 2 10 2 13 2 8 2-1 2-12 2-20 2-18 2-9 2 5 2 18 2 25 2 23 2 11 2-4 2-18 2-24 2-22 2-12 2 0 2 12 2 18 2 18 2 13 2 3 2-8 2-15 2-16 2-11 2-2 2 8 2 15 2 16 2 10 2-1 2-12 2-19 2-16 2-4 2 9 2 18 2 16 2 5 2-6 2-11 2-10 2-2 2 3 2 4 2 0 2-4 2-4 2-1 2 3 2 6 2 7 2 5 2 0 2-3 2-6 2-4 2 0 2 4 2 2 2-3 2-10 2-10 2-2 2 11 2 20 2 18 2 5 2-11 2-23 2-22 2-11 2 7 2 20 2 22 2 11 2-4 2-19 2-21 2-11 2 5 2 19 2 25 2 16 2 0 2-16 2-27 2-25 2-12 2 6 2 22 2 28 2 23 2 9 2-6 2-20 2-27 2-25 2-14 2 3 2 21 2 29 2 26 2 13 2-4 2-17 2-21 2-18 2-11 2-3 2 4 2 11 2 19 2 20 2 12 2-2 2-19 2-27 2-21 2-7 2 9 2 20 2 21 2 16 2 6 2-5 2-13 2-16 2-14 2-7 2 1 2 9 2 11 2 12 2 9 2 3 2-6 2-14 2-16 2-10 2 1 2 10 2 13 2 9 2 3 2-2 2-1 2-1 2 0 2-3 2-5 2-6 2-5 2-4 2-1 2 3 2 9 2 12 2 10 2 4 2-6 2-13 2-12 2-5 2 2 2 8 2 5 2 0 2-4 2-3 2 2 2 6 2 6 2 3 2-3 2-4 2-6 2-4 2-2 2 0 2 2 2 5 2 4 2 3 2-1 2-4 2-4 2-3 2 2 2 6 2 9 2 7 2-2 2-12 2-19 2-17 2-4 2 11 2 22 2 23 2 14 2 2 2-9 2-16 2-18 2-15 2-7 2 1 2 8 2 14 2 16 2 12 2 6 2-3 2-11 2-16 2-17 2-11 2 0 2 11 2 19 2 19 2 12 2-3 2-14 2-20 2-15 2-2 2 10 2 14 2 11 2 2 2-7 2-10 2-9 2-2 2 4 2 9 2 12 2 8 2-1 2-12 2-16 2-12 2 1 2 13 2 20 2 17 2 5 2-14 2-28 2-29 2-17 2 2 2 18 2 29 2 32 2 30 2 19 2 0 2-23 2-41 2-45 2-34 2-16 2 2 2 20 2 36 2 46 2 44 2 26 2 0 2-31 2-52 2-59 2-45 2-8 2 39 2 72 2 73 2 35 2-23 2-69 2-80 2-52 2-2 2 46 2 72 2 67 2 33 2-16 2-55 2-64 2-39 2 3 2 33 2 36 2 18 2-8 2-20 2-14 2 7 2 25 2 25 2 6 2-22 2-38 2-33 2-7 2 23 2 37 2 31 2 9 2-11 2-19 2-17 2-12 2-11 2-9 2-1 2 17 2 34 2 36 2 13 2-25 2-50 2-46 2-12 2 28 2 48 2 38 2 8 2-21 2-29 2-17 2 2 2 11 2-1 2-17 2-25 2-10 2 20 2 45 2 49 2 27 2-10 2-47 2-63 2-48 2-8 2 43 2 73 2 60 2 7 2-59 2-93 2-74 2-8 2 66 2 108 2 98 2 46 2-23 2-84 2-112 2-96 2-40 2 36 2 94 2 102 2 60 2-8 2-59 2-68 2-39 2 2 2 30 2 33 2 25 2 17 2 13 2 3 2-26 2-62 2-82 2-59 2 8 2 89 2 136 2 121 2 41 2-61 2-135 2-144 2-85 2 9 2 87 2 116 2 88 2 23 2-43 2-77 2-68 2-25 2 23 2 57 2 60 2 36 2-6 2-52 2-74 2-60 2-9 2 49 2 78 2 55 2 0 2-43 2-45 2-7 2 31 2 34 2 1 2-40 2-54 2-32 2 12 2 46 2 52 2 31 2-2 2-25 2-30 2-15 2 7 2 21 2 14 2-12 2-41 2-49 2-24 2 26 2 68 2 77 2 50 2 0 2-46 2-70 2-64 2-38 2-6 2 18 2 30 2 35 2 43 2 47 2 38 2 6 2-43 2-86 2-88 2-39 2 37 2 97 2 99 2 41 2-41 2-95 2-91 2-36 2 29 2 66 2 62 2 36 2 10 2-5 2-12 2-19 2-26 2-24 2-12 2-4 2-10 2-28 2-37 2-18 2 34 2 94 2 123 2 92 2 7 2-88 2-143 2-133 2-71 2 5 2 65 2 97 2 99 2 68 2 11 2-47 2-75 2-56 2-4 2 37 2 38 2 1 2-41 2-54 2-28 2 15 2 43 2 47 2 36 2 22 2 10 2-8 2-30 2-51 2-57 2-40 2-8 2 32 2 59 2 64 2 46 2 12 2-21 2-43 2-45 2-35 2-21 2-7 2 7 2 21 2 34 2 39 2 32 2 17 2-6 2-27 2-46 2-53 2-46 2-19 2 22 2 64 2 86 2 72 2 25 2-36 2-81 2-91 2-65 2-17 2 28 2 58 2 65 2 52 2 28 2 0 2-20 2-31 2-33 2-31 2-28 2-18 2-7 2 6 2 20 2 32 2 39 2 35 2 22 2 3 2-16 2-29 2-34 2-30 2-21 2-14 2-13 2-11 2 3 2 32 2 66 2 82 2 68 2 21 2-41 2-98 2-128 2-114 2-55 2 29 2 107 2 152 2 142 2 85 2-4 2-94 2-152 2-153 2-97 2-10 2 67 2 113 2 121 2 96 2 41 2-29 2-92 2-108 2-65 2 10 2 66 2 65 2 13 2-49 2-76 2-51 2 9 2 68 2 93 2 71 2 17 2-33 2-53 2-42 2-20 2-11 2-18 2-31 2-30 2-10 2 23 2 60 2 87 2 89 2 53 2-16 2-91 2-134 2-125 2-67 2 13 2 91 2 137 2 137 2 85 2 1 2-78 2-116 2-104 2-65 2-30 2-5 2 20 2 59 2 97 2 105 2 69 2 7 2-49 2-74 2-72 2-61 2-51 2-33 2 0 2 42 2 73 2 79 2 62 2 39 2 15 2-15 2-63 2-112 2-133 2-93 2 9 2 128 2 193 2 163 2 51 2-79 2-158 2-154 2-87 2-8 2 47 2 75 2 87 2 92 2 78 2 30 2-49 2-124 2-148 2-103 2-8 2 86 2 132 2 115 2 55 2-17 2-75 2-91 2-66 2-13 2 35 2 52 2 36 2 3 2-24 2-30 2-15 2 14 2 41 2 55 2 42 2 0 2-57 2-98 2-99 2-52 2 20 2 84 2 110 2 95 2 53 2 1 2-42 2-65 2-68 2-58 2-44 2-32 2-14 2 20 2 69 2 108 2 111 2 60 2-23 2-101 2-131 2-102 2-34 2 36 2 77 2 81 2 57 2 20 2-16 2-39 2-46 2-30 2-3 2 23 2 29 2 13 2-12 2-29 2-22 2-2 2 19 2 24 2 11 2-7 2-16 2-5 2 17 2 32 2 30 2 10 2-20 2-50 2-69 2-63 2-21 2 41 2 90 2 98 2 57 2-3 2-50 2-70 2-64 2-44 2-15 2 21 2 58 2 76 2 61 2 7 2-55 2-90 2-71 2-13 2 46 2 71 2 54 2 15 2-17 2-32 2-29 2-22 2-12 2 1 2 16 2 25 2 22 2 5 2-14 2-24 2-19 2-1 2 19 2 28 2 23 2 6 2-15 2-25 2-24 2-17 2-15 2-15 2-8 2 11 2 40 2 62 2 59 2 27 2-20 2-54 2-63 2-47 2-20 2-1 2 4 2 5 2 9 2 26 2 47 2 57 2 47 2 15 2-27 2-63 2-78 2-64 2-27 2 19 2 49 2 53 2 33 2 8 2-3 2 3 2 14 2 14 2-5 2-34 2-54 2-52 2-23 2 18 2 52 2 61 2 45 2 13 2-19 2-39 2-42 2-30 2-8 2 11 2 21 2 18 2 9 2 4 2 4 2 8 2 8 2 1 2-4 2-6 2-8 2-17 2-31 2-42 2-31 2 4 2 51 2 81 2 76 2 41 2-6 2-43 2-60 2-61 2-50 2-33 2-16 2 6 2 29 2 53 2 70 2 70 2 45 2 3 2-43 2-79 2-90 2-67 2-19 2 37 2 74 2 75 2 43 2-1 2-35 2-44 2-32 2-7 2 13 2 22 2 18 2 4 2-12 2-25 2-21 2 0 2 28 2 45 2 32 2-3 2-42 2-55 2-35 2 1 2 29 2 34 2 19 2 3 2-1 2 2 2 2 2-6 2-16 2-15 2 0 2 18 2 22 2 9 2-11 2-27 2-33 2-31 2-21 2 6 2 47 2 83 2 85 2 38 2-39 2-104 2-114 2-66 2 12 2 76 2 92 2 63 2 8 2-45 2-71 2-62 2-21 2 31 2 69 2 74 2 47 2-2 2-48 2-73 2-67 2-36 2 2 2 31 2 42 2 42 2 34 2 23 2 4 2-18 2-36 2-39 2-22 2 4 2 24 2 28 2 14 2-9 2-26 2-26 2-10 2 13 2 33 2 37 2 19 2-11 2-39 2-47 2-28 2 8 2 43 2 58 2 44 2 8 2-37 2-73 2-78 2-45 2 14 2 70 2 92 2 72 2 25 2-23 2-53 2-61 2-53 2-33 2-6 2 21 2 40 2 43 2 36 2 22 2 7 2-10 2-32 2-53 2-55 2-31 2 17 2 62 2 80 2 56 2 5 2-46 2-71 2-59 2-23 2 14 2 38 2 39 2 25 2 7 2-9 2-18 2-15 2-4 2 6 2 10 2 9 2 3 2-2 2-10 2-20 2-28 2-23 2 0 2 32 2 54 2 51 2 20 2-21 2-51 2-54 2-32 2-2 2 23 2 31 2 27 2 20 2 10 2-2 2-15 2-26 2-27 2-17 2-1 2 12 2 15 2 15 2 15 2 18 2 20 2 11 2-11 2-36 2-52 2-43 2-13 2 29 2 55 2 56 2 29 2-7 2-32 2-36 2-26 2-12 2 0 2 5 2 13 2 20 2 25 2 17 2-2 2-26 2-37 2-26 2 3 2 31 2 38 2 20 2-8 2-27 2-27 2-10 2 6 2 13 2 8 2 1 2 0 2 7 2 14 2 12 2-1 2-20 2-34 2-29 2-9 2 18 2 36 2 38 2 21 2-2 2-24 2-33 2-27 2-8 2 17 2 32 2 29 2 5 2-23 2-39 2-31 2-7 2 23 2 37 2 34 2 17 2-4 2-19 2-26 2-23 2-15 2-3 2 7 2 15 2 19 2 17 2 11 2-1 2-16 2-28 2-28 2-9 2 20 2 43 2 45 2 16 2-26 2-58 2-58 2-24 2 26 2 62 2 66 2 37 2-11 2-54 2-70 2-54 2-11 2 36 2 62 2 58 2 27 2-13 2-42 2-47 2-27 2 4 2 26 2 26 2 11 2-6 2-12 2-8 2 0 2 1 2-3 2-7 2-3 2 11 2 22 2 24 2 10 2-12 2-33 2-39 2-24 2 3 2 27 2 36 2 26 2 5 2-13 2-21 2-12 2 1 2 13 2 13 2 2 2-11 2-22 2-25 2-17 2-1 2 19 2 34 2 41 2 33 2 11 2-20 2-44 2-53 2-38 2-6 2 27 2 45 2 39 2 13 2-14 2-27 2-21 2-3 2 14 2 17 2 7 2-8 2-17 2-16 2-6 2 7 2 19 2 22 2 15 2 0 2-15 2-24 2-20 2-10 2 1 2 8 2 11 2 16 2 20 2 16 2 5 2-14 2-26 2-26 2-12 2 7 2 18 2 16 2 6 2-5 2-12 2-8 2 1 2 11 2 15 2 9 2-4 2-16 2-17 2-8 2 9 2 20 2 19 2 4 2-18 2-32 2-27 2-6 2 21 2 39 2 40 2 21 2-8 2-36 2-48 2-38"/><path d="M472 908l4 1 4 1 4-1 4-1 4-1 4 0 4 0 4 1 4 1 4 0 4-1 4 0 4-1 4 0 4 1 4 0 4 0 4 0 4 0 4 0 4 1 4 0 4-1 4 0 4-1 4 0 4 1 4 0 4 0 4 0 4 0 4 0 4 0 4 0 4 0 4 0 4 0 4 0 4 0 4 0 4 0 4 0 4-1 4 1 4 0 4 1 4 1 4 0 4-2 4-2 4-1 4 1 4 3 4 1 4 0 4-1 4-2 4-1 4 0 4 1 4 1 4 1 4 0 4 0 4 0 4 0 4-1 4 0 4-1 4 0 4-1 4 1 4 1 4 1 4 1 4 0 4-1 4-1 4 0 4 0 4-1 4 0 4 0 4 0 4 1 4 1 4 1 4-1 4 0 4-1 4 0 4 0 4 0 4 0 4-1 4 0 4 1 4 1 4 0 4 0 4-1 4 0 4-1 4 0 4 0 4 1 4 0 4 0 4 0 4 0 4 0 4 0 4 0 4 0 4 0 4 0 4 0 4 0 4 0 4 1 4 0 4-1 4-1 4-1 4 1 4 1 4 1 4 0 4 0 4-1 4 0 4 0 4 0 4 0 4 0 4 0 4 0 4 0 4 0 4 0 4 1 4 0 4 0 4-1 4 0 4-1 4 0 4 0 4 0 4 1 4 1 4 0 4 0 4 0 4-1 4-1 4 0 4 0 4 1 4 0 4 0 4 0 4 0 4 0 4 0 4 1 4 0 4-1 4 0 4-1 4 0 4 0 4 1 4 1 4-1 4 0 4 0 4 1 4 0 4 0 4-1 4-1 4 0 4 0 4 1 4 0 4 0 4 0 4 0 4 0 4 1 4 0 4 0 4-1 4-1 4 0 4 0 4 1 4 0 4 0 4 0 4 0 4 0 4 0 4 1 4 0 4 0 4-1 4-1 4 0 4 1 4 0 4 0 4 0 4-1 4 0 4 0 4 1 4 1 4 0 4 0 4 0 4 0 4-1 4-1 4 0 4-1 4 1 4 1 4 0 4 1 4 0 4 0 4-1 4 0 4 0 4 0 4 0 4 0 4 0 4-1 4 0 4 0 4 1 4 1 4 0 4 0 4-1 4 0 4 0 4 0 4 0 4 0 4 0 4 0 4-1 4 0 4 0 4 0 4 1 4 1 4 1 4 0 4-1 4-1 4-1 4 0 4 1 4 0 4 0 4 0 4 0 4 0 4 0 4 0 4-1 4 0 4 1 4 1 4 0 4-1 4-1 4 0 4 1 4 0 4 0 4 0 4 0 4 0 4 0 4 0 4 0 4-1 4 1 4 0 4 0 4 1 4 0 4-1 4 0 4 0 4 0 4 0 4 0 4 0 4 0 4 0 4 0 4 0 4 0 4 0 4 1 4 0 4 0 4 0 4-1 4-1 4 0 4 0 4 0 4 1 4 1 4 0 4 0 4-1 4 0 4-1 4 0 4 0 4 0 4 1 4 1 4 1 4 0 4-1 4-2 4-1 4 0 4 1 4 1 4 2 4 0 4-1 4-2 4-1 4 1 4 1 4 0 4 0 4 0 4 0 4 0 4 0 4 0 4 0 4 0 4 0 4 0 4 0 4-1 4 0 4 0 4 1 4 0 4 0 4 1 4 0 4 0 4-1 4 0 4-1 4 0 4 0 4 0 4 0 4 1 4 1 4 1 4-1 4 0 4-1 4-1 4 0 4 0 4 0 4 1 4 1 4 0 4 0 4 0 4 0 4-1 4-1 4 0 4 0 4 1 4 0 4 0 4 0 2 0 2 0 2 0 2 0 2 1 2 0 2 0 2 0 2 0 2 0 2 1 2-1 2-1 2-2 2-2 2-1 2 1 2 2 2 3 2 2 2 1 2-2 2-3 2-2 2-1 2 2 2 3 2 2 2 2 2-1 2-1 2-2 2-2 2-2 2 0 2 0 2 1 2 1 2 2 2 2 2 1 2 0 2-3 2-4 2-4 2-1 2 3 2 4 2 5 2 3 2 1 2-2 2-2 2-4 2-3 2-3 2-2 2 1 2 4 2 5 2 3 2 2 2-2 2-3 2-4 2-2 2 0 2 1 2 2 2 1 2 1 2 0 2 1 2 2 2 0 2-2 2-4 2-4 2-3 2 2 2 5 2 7 2 5 2 1 2-2 2-6 2-7 2-5 2-1 2 3 2 5 2 4 2 2 2-1 2-2 2-2 2 0 2 3 2 3 2 0 2-3 2-7 2-6 2-3 2 3 2 9 2 11 2 9 2 2 2-4 2-8 2-10 2-10 2-6 2-2 2 4 2 9 2 12 2 10 2 3 2-4 2-11 2-10 2-7 2 1 2 6 2 9 2 7 2 3 2-3 2-7 2-6 2-3 2 2 2 5 2 4 2 2 2-2 2-3 2-5 2-4 2-3 2 1 2 4 2 6 2 7 2 6 2 1 2-2 2-6 2-8 2-8 2-6 2 0 2 7 2 13 2 13 2 6 2-7 2-17 2-20 2-12 2 3 2 18 2 23 2 19 2 8 2-6 2-16 2-21 2-20 2-12 2 1 2 15 2 23 2 21 2 12 2-4 2-16 2-20 2-15 2-2 2 8 2 13 2 8 2-2 2-9 2-8 2 0 2 11 2 14 2 11 2 2 2-10 2-15 2-16 2-8 2 0 2 6 2 8 2 7 2 6 2 7 2 6 2 4 2-2 2-8 2-11 2-13 2-10 2-6 2 2 2 13 2 20 2 22 2 13 2-3 2-19 2-28 2-25 2-12 2 9 2 25 2 31 2 22 2 3 2-15 2-26 2-24 2-12 2 1 2 8 2 11 2 12 2 11 2 11 2 7 2 1 2-7 2-11 2-16 2-16 2-13 2-7 2 7 2 21 2 29 2 24 2 9 2-12 2-26 2-28 2-15 2 2 2 14 2 15 2 10 2 0 2-4 2-4 2-2 2 0 2 0 2 1 2 3 2 5 2 5 2 1 2-7 2-14 2-17 2-9 2 4 2 18 2 24 2 18 2 6 2-9 2-17 2-18 2-13 2-5 2 3 2 8 2 8 2 8 2 4 2 2 2 1 2 1 2-1 2-1 2 0 2 2 2 2 2-5 2-13 2-20 2-16 2-2 2 17 2 31 2 34 2 22 2-1 2-25 2-39 2-35 2-17 2 6 2 22 2 28 2 24 2 14 2 2 2-10 2-17 2-20 2-17 2-8 2 7 2 18 2 21 2 16 2 3 2-11 2-20 2-22 2-17 2-5 2 10 2 23 2 30 2 28 2 13 2-8 2-27 2-38 2-33 2-15 2 6 2 22 2 27 2 23 2 13 2 4 2-3 2-8 2-13 2-13 2-9 2-3 2 2 2 1 2-4 2-5 2 0 2 9 2 16 2 18 2 12 2 1 2-11 2-19 2-21 2-15 2-6 2 6 2 14 2 16 2 15 2 11 2 4 2-6 2-14 2-17 2-12 2-1 2 9 2 11 2 5 2-4 2-8 2-5 2 5 2 13 2 11 2 3 2-7 2-10 2-7 2-1 2 0 2-4 2-7 2-5 2 5 2 17 2 21 2 12 2-7 2-22 2-24 2-8 2 13 2 25 2 20 2-2 2-25 2-34 2-22 2 3 2 29 2 41 2 32 2 7 2-21 2-37 2-34 2-15 2 7 2 22 2 23 2 15 2 3 2-4 2-7 2-6 2-6 2-9 2-9 2-5 2 5 2 16 2 20 2 15 2-1 2-16 2-24 2-21 2-9 2 6 2 15 2 19 2 16 2 12 2 6 2-1 2-11 2-20 2-28 2-27 2-13 2 11 2 35 2 48 2 38 2 11 2-22 2-45 2-48 2-28 2 0 2 25 2 35 2 30 2 16 2 1 2-11 2-21 2-26 2-20 2-7 2 11 2 21 2 22 2 16 2 7 2-1 2-11 2-21 2-26 2-20 2-2 2 19 2 31 2 26 2 10 2-10 2-22 2-19 2-7 2 5 2 10 2 7 2 0 2-5 2-5 2-1 2 4 2 6 2 5 2 2 2 0 2-1 2-4 2-8 2-13 2-11 2-3 2 10 2 22 2 26 2 15 2-2 2-19 2-29 2-24 2-9 2 7 2 19 2 22 2 16 2 5 2-6 2-13 2-15 2-12 2-6 2 1 2 9 2 12 2 12 2 8 2 1 2-6 2-11 2-10 2-4 2 1 2 4 2 3 2 0 2-3 2-1 2 4 2 10 2 10 2 5 2-7 2-15 2-17 2-10 2 3 2 15 2 20 2 16 2 4 2-11 2-20 2-20 2-11 2 2 2 12 2 16 2 15 2 12 2 4 2-5 2-16 2-22 2-19 2-5 2 12 2 23 2 23 2 13 2-1 2-14 2-20 2-18 2-11 2 0 2 10 2 17 2 19 2 14 2 2 2-11 2-21 2-20 2-8 2 8 2 18 2 16 2 5 2-10 2-17 2-13 2 0 2 13 2 19 2 14 2 2 2-11 2-16 2-14 2-6 2 3 2 8 2 10 2 7 2 2 2-3 2-7 2-7 2-4 2 1 2 5 2 9 2 10 2 7 2 2 2-5 2-15 2-20 2-21 2-10 2 4 2 28 2 45 2 44 2 21 2-14 2-45 2-59 2-51 2-26 2 3 2 26 2 41 2 49 2 46 2 31 2 6 2-24 2-47 2-53 2-43 2-20 2 4 2 29 2 47 2 49 2 32 2 1 2-32 2-51 2-44 2-19 2 13 2 37 2 49 2 40 2 13 2-25 2-56 2-64 2-40 2 8 2 56 2 73 2 50 2 3 2-39 2-51 2-30 2 3 2 24 2 21 2 1 2-19 2-24 2-14 2 1 2 11 2 16 2 19 2 23 2 26 2 20 2 1 2-28 2-53 2-60 2-40 2 1 2 38 2 54 2 44 2 23 2 5 2 1 2 0 2-6 2-23 2-43 2-53 2-41 2-9 2 29 2 57 2 63 2 50 2 24 2-6 2-33 2-53 2-56 2-40 2-8 2 24 2 36 2 28 2 13 2 7 2 12 2 13 2-1 2-24 2-38 2-29 2 0 2 28 2 35 2 17 2-8 2-22 2-19 2-6 2 6 2 12 2 9 2 3 2-5 2-11 2-10 2 0 2 14 2 22 2 19 2 3 2-17 2-31 2-32 2-15 2 12 2 34 2 38 2 24 2-3 2-27 2-40 2-37 2-19 2 11 2 43 2 63 2 53 2 14 2-44 2-89 2-91 2-43 2 33 2 96 2 111 2 72 2 2 2-63 2-96 2-86 2-44 2 8 2 46 2 58 2 45 2 23 2 7 2-2 2-3 2-9 2-16 2-21 2-19 2-15 2-16 2-21 2-22 2-3 2 34 2 71 2 83 2 55 2 0 2-58 2-90 2-82 2-43 2 5 2 40 2 49 2 34 2 12 2-1 2 5 2 19 2 20 2 1 2-30 2-50 2-42 2-7 2 31 2 46 2 27 2-13 2-45 2-43 2-3 2 46 2 69 2 44 2-11 2-59 2-69 2-39 2 10 2 45 2 52 2 37 2 14 2-9 2-30 2-50 2-56 2-37 2 3 2 46 2 69 2 63 2 37 2 6 2-21 2-48 2-69 2-71 2-48 2 1 2 53 2 81 2 74 2 39 2-3 2-29 2-32 2-23 2-17 2-24 2-34 2-34 2-15 2 14 2 41 2 55 2 58 2 47 2 20 2-15 2-53 2-76 2-72 2-43 2 1 2 41 2 65 2 69 2 52 2 18 2-27 2-68 2-82 2-59 2-2 2 57 2 88 2 72 2 20 2-34 2-60 2-52 2-24 2-4 2-1 2-6 2 2 2 27 2 62 2 75 2 49 2-11 2-76 2-111 2-96 2-37 2 37 2 94 2 103 2 64 2 4 2-42 2-48 2-28 2-7 2-4 2-21 2-35 2-31 2-6 2 34 2 64 2 71 2 48 2 7 2-29 2-50 2-55 2-44 2-27 2-11 2 3 2 13 2 27 2 47 2 62 2 52 2 15 2-31 2-59 2-52 2-29 2-12 2-13 2-19 2-6 2 31 2 72 2 85 2 50 2-14 2-73 2-92 2-62 2-9 2 36 2 51 2 41 2 21 2 5 2-3 2-10 2-21 2-35 2-38 2-22 2 17 2 58 2 75 2 48 2-12 2-72 2-94 2-63 2 0 2 59 2 84 2 68 2 29 2-14 2-45 2-59 2-58 2-44 2-18 2 17 2 49 2 72 2 79 2 63 2 22 2-41 2-100 2-129 2-102 2-29 2 56 2 113 2 116 2 72 2 10 2-39 2-57 2-47 2-26 2-8 2 3 2 7 2 3 2-4 2-15 2-23 2-16 2 12 2 57 2 93 2 87 2 25 2-72 2-144 2-143 2-61 2 48 2 120 2 119 2 60 2-7 2-44 2-44 2-28 2-24 2-30 2-32 2-13 2 28 2 67 2 78 2 48 2-5 2-56 2-78 2-67 2-32 2 14 2 56 2 77 2 61 2 11 2-43 2-68 2-47 2-4 2 26 2 23 2-3 2-24 2-19 2 12 2 49 2 70 2 61 2 22 2-39 2-96 2-127 2-109 2-42 2 53 2 133 2 162 2 127 2 47 2-48 2-122 2-151 2-126 2-55 2 33 2 105 2 132 2 104 2 37 2-40 2-93 2-101 2-68 2-6 2 58 2 94 2 86 2 40 2-25 2-84 2-117 2-105 2-49 2 38 2 124 2 175 2 160 2 76 2-51 2-170 2-228 2-194 2-74 2 75 2 187 2 212 2 146 2 34 2-67 2-123 2-129 2-96 2-41 2 25 2 81 2 104 2 82 2 21 2-46 2-83 2-75 2-29 2 24 2 57 2 56 2 30 2-4 2-30 2-42 2-39 2-19 2 10 2 34 2 41 2 24 2-5 2-26 2-21 2 3 2 25 2 22 2-8 2-41 2-52 2-32 2 10 2 49 2 72 2 64 2 24 2-35 2-87 2-102 2-62 2 14 2 87 2 119 2 95 2 28 2-51 2-113 2-130 2-95 2-14 2 78 2 140 2 141 2 83 2-3 2-78 2-123 2-128 2-95 2-27 2 57 2 124 2 140 2 101 2 22 2-57 2-111 2-120 2-83 2-13 2 56 2 97 2 89 2 43 2-16 2-63 2-74 2-46 2 5 2 53 2 68 2 46 2 4 2-33 2-49 2-47 2-35 2-21 2-4 2 15 2 41 2 62 2 71 2 54 2 12 2-41 2-84 2-93 2-70 2-25 2 15 2 44 2 66 2 78 2 72 2 38 2-15 2-63 2-86 2-75 2-40 2 5 2 40 2 50 2 37 2 22 2 19 2 23 2 15 2-15 2-53 2-71 2-50 2-5 2 43 2 67 2 57 2 21 2-26 2-60 2-66 2-35 2 22 2 74 2 90 2 56 2-11 2-71 2-89 2-61 2-10 2 27 2 37 2 29 2 16 2 10 2 8 2 9 2 8 2 11 2 9 2-3 2-27 2-55 2-63 2-43 2-1 2 46 2 78 2 80 2 55 2 14 2-27 2-55 2-68 2-66 2-50 2-18 2 23 2 62 2 86 2 82 2 49 2-5 2-62 2-101 2-100 2-55 2 14 2 79 2 104 2 77 2 13 2-53 2-81 2-61 2-10 2 39 2 54 2 34 2 2 2-19 2-20 2-13 2-11 2-11 2-8 2 5 2 20 2 25 2 15 2-4 2-18 2-17 2-5 2 7 2 9 2 3 2-6 2-9 2-3 2 7 2 11 2 9 2-1 2-9 2-10 2-4 2 4 2 9 2 3 2-8 2-17 2-12 2 6 2 24 2 28 2 13 2-14 2-28 2-23 2-2 2 20 2 28 2 19 2-4 2-28 2-38 2-29 2-5 2 21 2 35 2 32 2 20 2 5 2-9 2-19 2-23 2-21 2-7 2 8 2 18 2 16 2 2 2-15 2-27 2-24 2-4 2 26 2 53 2 59 2 33 2-20 2-67 2-85 2-59 2-9 2 43 2 69 2 67 2 40 2 1 2-37 2-58 2-53 2-22 2 18 2 42 2 37 2 9 2-17 2-23 2-6 2 14 2 23 2 14 2-5 2-21 2-28 2-21 2-11 2 2 2 16 2 30 2 35 2 27 2 1 2-32 2-47 2-32 2 4 2 37 2 42 2 16 2-22 2-47 2-44 2-14 2 25 2 52 2 53 2 29 2-7 2-38 2-48 2-35 2-8 2 17 2 26 2 22 2 7 2-7 2-17 2-14 2-1 2 18 2 31 2 25 2 3 2-25 2-44 2-41 2-23 2 5 2 30 2 45 2 44 2 28 2 4 2-19 2-33 2-37 2-35 2-25 2-11 2 8 2 31 2 46 2 47 2 33 2 8 2-20 2-42 2-48 2-38 2-16 2 8 2 23 2 27 2 24 2 18 2 14 2 7 2-7 2-23 2-33 2-29 2-13 2 12 2 33 2 39 2 25 2 1 2-24 2-36 2-32 2-18 2 2 2 19 2 32 2 36 2 29 2 8 2-20 2-41 2-43 2-23 2 7 2 28 2 29 2 13 2-7 2-19 2-17 2-3 2 17 2 33 2 33 2 13 2-20 2-50 2-57 2-35 2 7 2 43 2 58 2 47 2 19 2-11 2-32 2-42 2-41 2-30 2-12 2 15 2 42 2 61 2 59 2 33 2-14 2-61 2-86 2-73 2-30 2 28 2 70 2 81 2 60 2 17 2-28 2-57 2-62 2-43 2-10 2 20 2 38 2 40 2 29 2 12 2-7 2-20 2-25 2-22 2-14 2-2 2 10 2 19 2 19 2 13 2-1 2-14 2-22 2-18 2-5 2 15 2 30 2 31 2 14 2-15 2-40 2-47 2-29 2 6 2 39 2 54 2 45 2 16 2-17 2-43 2-51 2-39 2-11 2 15 2 34 2 38 2 28 2 12 2-5 2-16 2-21 2-22 2-17 2-9 2 6 2 21 2 27 2 18 2-1 2-20 2-24 2-14 2 6 2 19 2 16 2 4 2-10 2-13 2-6 2 1 2 2 2-3 2-4 2 5 2 16 2 21 2 10 2-9 2-25 2-26 2-16 2 0 2 13 2 19 2 18 2 15 2 8 2-1 2-14 2-24 2-26 2-16 2 5 2 25 2 34 2 24 2 3 2-18 2-26 2-22 2-9 2 3 2 8 2 8 2 7 2 7 2 11 2 12 2 8 2-4 2-18 2-25 2-22 2-6 2 12 2 24 2 24 2 12 2-6 2-18 2-22 2-12 2 4 2 19 2 23 2 12 2-5 2-19 2-20 2-10 2 6 2 14 2 13 2 3 2-9 2-14 2-10 2 1 2 12 2 17 2 14 2 5 2-4 2-14 2-19 2-20 2-13 2 2 2 21 2 32 2 30 2 10 2-15"/><path d="M472 934l4 0 4 0 4 1 4 1 4 1 4-1 4-1 4-2 4 0 4 1 4 2 4 0 4 1 4-1 4-1 4-1 4 0 4 0 4 1 4 0 4 0 4 0 4 0 4 0 4 0 4 0 4 1 4 0 4 0 4 0 4-1 4-2 4 0 4 0 4 2 4 1 4 0 4 0 4 0 4 0 4-1 4-1 4 0 4 0 4 0 4 1 4 0 4 1 4 0 4 0 4 0 4 0 4-1 4-1 4-1 4 1 4 1 4 0 4 0 4 1 4-1 4 0 4 0 4 0 4 0 4 1 4 0 4-1 4-1 4 0 4 0 4 1 4 0 4 0 4 1 4 0 4 0 4-1 4-1 4-1 4 0 4 1 4 1 4 1 4 0 4 0 4 0 4-1 4 0 4-1 4 0 4 0 4 1 4 0 4 0 4 0 4 0 4 1 4 0 4 0 4-1 4-1 4 0 4 0 4 1 4 0 4 0 4 0 4 0 4 0 4 1 4 0 4 0 4-1 4 0 4-1 4-1 4 1 4 1 4 1 4 0 4 0 4-1 4-1 4 0 4 1 4 0 4 1 4 1 4-1 4-1 4-2 4 0 4 1 4 1 4 2 4 0 4-1 4-2 4-1 4 0 4 1 4 2 4 1 4 0 4-1 4-1 4-1 4 0 4 0 4 0 4 1 4 0 4 1 4 0 4-1 4 0 4 0 4 0 4 0 4 0 4 0 4 0 4 0 4 0 4 0 4 0 4 0 4 0 4 0 4 0 4 0 4 0 4 0 4 0 4-1 4 0 4 0 4 2 4 1 4 0 4 0 4-1 4-2 4-1 4 0 4 1 4 1 4 1 4 0 4 0 4-1 4 0 4 0 4 0 4 0 4 0 4 0 4 0 4 0 4 0 4 0 4 0 4-1 4 0 4 0 4 1 4 0 4 1 4 0 4 0 4 0 4-1 4 0 4-1 4 0 4 0 4 0 4 1 4 0 4 0 4 0 4 0 4 0 4 1 4 0 4-1 4 0 4 0 4-1 4 0 4 0 4 1 4 0 4 1 4 0 4-1 4 0 4 0 4 0 4 0 4 0 4 0 4 0 4 0 4-1 4 0 4 0 4 1 4 1 4 0 4 0 4 0 4-1 4 0 4-1 4 1 4 0 4 1 4-1 4 0 4-1 4 0 4 0 4 1 4 0 4 0 4 1 4 0 4 0 4-1 4-1 4 0 4 0 4 0 4 1 4 0 4 0 4 1 4 0 4 0 4 0 4-1 4-1 4-1 4 0 4 1 4 1 4 2 4 1 4-1 4-2 4-2 4 0 4 1 4 1 4 1 4-1 4 0 4-1 4 1 4 1 4 1 4-1 4-2 4-1 4 0 4 1 4 1 4 1 4 0 4 0 4-1 4 0 4-1 4 0 4 1 4 1 4 0 4-1 4 0 4-1 4 0 4 1 4 1 4 0 4 0 4-1 4-1 4 0 4 0 4 1 4 0 4 0 4 0 4 0 4 0 4 1 4 0 4-1 4-1 4 0 4 0 4 1 4 0 4 0 4 0 4 0 4 0 4 1 4-1 4 0 4-1 4 1 4 0 4 0 4 0 4 0 4 0 4 0 4 0 4 0 4 0 4 0 4 0 4-1 4 0 4 1 4 1 4 1 4 0 4-2 4-1 4 0 4 0 4 0 4 0 4 1 4 1 4 1 4 1 4-2 4-2 4-1 4 0 4 1 4 1 4 1 4 1 4-1 4-1 4 0 4 0 4 0 4 0 4 0 4 0 4 0 4 0 2 0 2 0 2 0 2 0 2 0 2 1 2 0 2 0 2 0 2 1 2 0 2 1 2-1 2 0 2-2 2-3 2-1 2-1 2 0 2 2 2 2 2 3 2 2 2 1 2 0 2-2 2-3 2-1 2 0 2 1 2 0 2 0 2-2 2-2 2-1 2 2 2 3 2 3 2 1 2 0 2-2 2-2 2-3 2-1 2 0 2 2 2 4 2 3 2 2 2-1 2-3 2-5 2-5 2-2 2 3 2 6 2 6 2 5 2 0 2-6 2-10 2-9 2-4 2 3 2 10 2 13 2 9 2 3 2-4 2-10 2-11 2-7 2-2 2 4 2 7 2 6 2 2 2-2 2-3 2-2 2 1 2 4 2 3 2 0 2-3 2-5 2-5 2-2 2 0 2 4 2 5 2 5 2 4 2 1 2-3 2-5 2-6 2-3 2 1 2 5 2 4 2 2 2-3 2-5 2-3 2 0 2 5 2 5 2 3 2-1 2-4 2-6 2-4 2 0 2 3 2 6 2 6 2 6 2 2 2-3 2-9 2-12 2-10 2-4 2 5 2 12 2 15 2 12 2 4 2-6 2-12 2-15 2-11 2-5 2 5 2 10 2 13 2 11 2 6 2 0 2-7 2-12 2-13 2-10 2-3 2 6 2 13 2 15 2 10 2 4 2-4 2-10 2-13 2-12 2-8 2-1 2 6 2 12 2 13 2 11 2 6 2-2 2-9 2-14 2-14 2-9 2 0 2 10 2 15 2 14 2 8 2-1 2-10 2-13 2-11 2-7 2 0 2 5 2 8 2 9 2 7 2 5 2 0 2-4 2-7 2-5 2-2 2 1 2 0 2-2 2-5 2-4 2 0 2 3 2 8 2 9 2 9 2 5 2 0 2-6 2-12 2-16 2-14 2-7 2 4 2 16 2 24 2 21 2 9 2-6 2-19 2-21 2-16 2-6 2 5 2 10 2 13 2 10 2 4 2-3 2-8 2-7 2-1 2 4 2 5 2 2 2-4 2-7 2-4 2 3 2 8 2 8 2 2 2-5 2-7 2-7 2-2 2 0 2 0 2 0 2 3 2 7 2 11 2 10 2 3 2-6 2-16 2-19 2-13 2-3 2 9 2 16 2 19 2 17 2 7 2-6 2-18 2-25 2-21 2-6 2 10 2 22 2 24 2 15 2 1 2-12 2-18 2-15 2-6 2 2 2 8 2 8 2 4 2 0 2 1 2 3 2 3 2-2 2-8 2-10 2-4 2 5 2 12 2 13 2 2 2-12 2-20 2-15 2 0 2 18 2 27 2 22 2 3 2-14 2-26 2-26 2-15 2 0 2 13 2 22 2 23 2 17 2 4 2-8 2-18 2-22 2-18 2-10 2 4 2 17 2 23 2 18 2 6 2-10 2-17 2-14 2-3 2 7 2 10 2 3 2-8 2-15 2-10 2 1 2 16 2 22 2 18 2 7 2-7 2-18 2-21 2-16 2-7 2 3 2 11 2 14 2 12 2 10 2 5 2 2 2-5 2-13 2-20 2-20 2-11 2 5 2 20 2 29 2 24 2 10 2-10 2-22 2-23 2-11 2 2 2 11 2 7 2-1 2-8 2-7 2 0 2 11 2 18 2 18 2 9 2-6 2-19 2-24 2-18 2-7 2 3 2 9 2 12 2 13 2 14 2 12 2 5 2-4 2-14 2-17 2-13 2-5 2 1 2 1 2-1 2 0 2 7 2 17 2 20 2 16 2 3 2-14 2-26 2-30 2-22 2-4 2 15 2 28 2 29 2 18 2 5 2-7 2-16 2-18 2-15 2-10 2-3 2-1 2-1 2 2 2 9 2 22 2 27 2 21 2 1 2-21 2-32 2-27 2-13 2 3 2 10 2 10 2 9 2 10 2 13 2 10 2 4 2-6 2-12 2-14 2-12 2-6 2-3 2 2 2 5 2 8 2 11 2 13 2 11 2 3 2-8 2-18 2-19 2-10 2 4 2 13 2 14 2 6 2-5 2-11 2-8 2-1 2 6 2 9 2 8 2 5 2 2 2-4 2-9 2-14 2-12 2-2 2 10 2 18 2 17 2 5 2-10 2-20 2-16 2-4 2 10 2 17 2 12 2 3 2-7 2-9 2-6 2-1 2 2 2 3 2-1 2-4 2-6 2-4 2-1 2 6 2 14 2 20 2 16 2 5 2-15 2-30 2-34 2-23 2 0 2 23 2 35 2 31 2 15 2-8 2-26 2-28 2-15 2 6 2 24 2 24 2 11 2-8 2-22 2-24 2-17 2-4 2 9 2 18 2 23 2 21 2 11 2-3 2-18 2-26 2-23 2-10 2 6 2 17 2 19 2 13 2 5 2-3 2-7 2-7 2-8 2-7 2-5 2-1 2 5 2 11 2 11 2 5 2-2 2-10 2-13 2-7 2 1 2 9 2 14 2 10 2 4 2-5 2-10 2-12 2-10 2-8 2-4 2 2 2 9 2 18 2 21 2 17 2 4 2-12 2-25 2-28 2-20 2-4 2 14 2 26 2 24 2 11 2-7 2-20 2-20 2-9 2 9 2 22 2 21 2 11 2-5 2-15 2-18 2-17 2-13 2-9 2-2 2 10 2 23 2 28 2 24 2 12 2-4 2-17 2-26 2-30 2-25 2-14 2 4 2 22 2 35 2 34 2 21 2 3 2-17 2-27 2-29 2-20 2-5 2 9 2 18 2 19 2 11 2 0 2-9 2-12 2-8 2 1 2 11 2 16 2 12 2 0 2-14 2-23 2-22 2-13 2 3 2 16 2 32 2 37 2 27 2 4 2-25 2-47 2-50 2-34 2-3 2 25 2 34 2 27 2 13 2 9 2 18 2 26 2 18 2-10 2-46 2-65 2-57 2-22 2 20 2 50 2 60 2 47 2 19 2-11 2-34 2-38 2-29 2-12 2 9 2 24 2 27 2 10 2-16 2-32 2-26 2 3 2 33 2 44 2 27 2-6 2-36 2-43 2-25 2 2 2 25 2 33 2 23 2 1 2-20 2-26 2-11 2 11 2 21 2 9 2-14 2-27 2-16 2 11 2 37 2 41 2 17 2-25 2-59 2-59 2-26 2 27 2 65 2 69 2 40 2-6 2-39 2-51 2-38 2-16 2 1 2 5 2 2 2-2 2 5 2 24 2 45 2 57 2 46 2 7 2-49 2-100 2-117 2-82 2-3 2 87 2 142 2 130 2 56 2-35 2-95 2-97 2-54 2-3 2 22 2 14 2-5 2-7 2 22 2 58 2 66 2 30 2-33 2-77 2-73 2-24 2 34 2 60 2 36 2-16 2-54 2-46 2 5 2 64 2 85 2 48 2-27 2-91 2-99 2-48 2 29 2 87 2 96 2 55 2-17 2-78 2-95 2-63 2-3 2 52 2 78 2 68 2 34 2-9 2-41 2-55 2-47 2-27 2-2 2 19 2 32 2 36 2 30 2 18 2-1 2-22 2-38 2-41 2-25 2 3 2 29 2 44 2 43 2 27 2 0 2-33 2-60 2-67 2-47 2-3 2 47 2 88 2 100 2 73 2 11 2-61 2-112 2-118 2-82 2-20 2 42 2 89 2 110 2 102 2 63 2 3 2-63 2-114 2-130 2-99 2-28 2 59 2 123 2 136 2 93 2 18 2-55 2-97 2-100 2-71 2-22 2 31 2 65 2 68 2 40 2 4 2-19 2-19 2-4 2 7 2 4 2-10 2-29 2-38 2-29 2-6 2 20 2 34 2 37 2 32 2 28 2 18 2-2 2-31 2-54 2-56 2-36 2-6 2 20 2 35 2 42 2 42 2 32 2 12 2-16 2-45 2-61 2-43 2 2 2 51 2 69 2 36 2-27 2-76 2-74 2-21 2 51 2 94 2 85 2 30 2-33 2-73 2-76 2-53 2-16 2 17 2 40 2 47 2 41 2 25 2 8 2-8 2-19 2-24 2-26 2-24 2-16 2-6 2 9 2 22 2 28 2 26 2 16 2 0 2-19 2-34 2-32 2-12 2 16 2 31 2 27 2 11 2-2 2-5 2-9 2-18 2-28 2-29 2-15 2 18 2 50 2 64 2 45 2-3 2-59 2-88 2-75 2-21 2 47 2 95 2 98 2 50 2-20 2-78 2-90 2-58 2-4 2 37 2 45 2 27 2 2 2-9 2 0 2 19 2 33 2 28 2-3 2-47 2-82 2-81 2-33 2 43 2 108 2 125 2 83 2 2 2-78 2-121 2-114 2-67 2-7 2 47 2 79 2 90 2 81 2 59 2 25 2-19 2-69 2-108 2-118 2-85 2-22 2 48 2 98 2 120 2 114 2 76 2 9 2-72 2-133 2-148 2-104 2-21 2 66 2 128 2 141 2 103 2 31 2-44 2-100 2-119 2-104 2-63 2-4 2 57 2 106 2 126 2 104 2 43 2-38 2-103 2-123 2-94 2-39 2 15 2 47 2 61 2 67 2 67 2 55 2 17 2-37 2-81 2-96 2-76 2-36 2 9 2 53 2 87 2 103 2 86 2 29 2-50 2-115 2-125 2-69 2 18 2 87 2 98 2 51 2-22 2-78 2-87 2-45 2 22 2 80 2 104 2 84 2 29 2-35 2-85 2-105 2-83 2-33 2 28 2 74 2 85 2 53 2-4 2-55 2-69 2-34 2 29 2 77 2 79 2 32 2-37 2-91 2-105 2-67 2 12 2 94 2 133 2 98 2 0 2-105 2-151 2-109 2-1 2 102 2 144 2 105 2 16 2-71 2-109 2-86 2-20 2 48 2 82 2 63 2 5 2-60 2-94 2-72 2-5 2 69 2 110 2 97 2 44 2-19 2-73 2-103 2-97 2-54 2 20 2 87 2 110 2 71 2-7 2-71 2-85 2-44 2 17 2 60 2 61 2 31 2-4 2-23 2-29 2-34 2-40 2-41 2-22 2 15 2 59 2 85 2 76 2 29 2-39 2-90 2-95 2-49 2 19 2 70 2 70 2 28 2-23 2-47 2-32 2 1 2 29 2 34 2 22 2 2 2-15 2-30 2-38 2-35 2-14 2 17 2 41 2 49 2 36 2 17 2 0 2-17 2-39 2-59 2-59 2-25 2 32 2 81 2 87 2 43 2-28 2-88 2-98 2-49 2 36 2 108 2 123 2 67 2-32 2-117 2-142 2-101 2-17 2 64 2 111 2 112 2 81 2 33 2-16 2-59 2-88 2-96 2-75 2-32 2 19 2 63 2 92 2 96 2 75 2 26 2-43 2-106 2-131 2-94 2-5 2 87 2 131 2 98 2 13 2-67 2-95 2-64 2-3 2 48 2 62 2 45 2 13 2-18 2-41 2-51 2-47 2-26 2 11 2 51 2 74 2 63 2 17 2-34 2-65 2-57 2-23 2 17 2 40 2 37 2 10 2-27 2-51 2-42 2 0 2 54 2 86 2 69 2 11 2-57 2-98 2-88 2-35 2 33 2 80 2 86 2 47 2-12 2-62 2-77 2-45 2 9 2 57 2 72 2 49 2 4 2-42 2-74 2-77 2-47 2 4 2 60 2 97 2 101 2 66 2 1 2-76 2-134 2-144 2-90 2 10 2 115 2 174 2 160 2 77 2-34 2-126 2-163 2-136 2-63 2 22 2 85 2 112 2 100 2 63 2 16 2-29 2-56 2-60 2-46 2-26 2-9 2 3 2 11 2 17 2 22 2 18 2 12 2 6 2 4 2 6 2 6 2 1 2-12 2-25 2-26 2-13 2 7 2 19 2 15 2 2 2-8 2-10 2-3 2 4 2 9 2 12 2 18 2 18 2 7 2-19 2-42 2-45 2-21 2 16 2 46 2 50 2 28 2-7 2-39 2-50 2-35 2-1 2 35 2 58 2 52 2 22 2-22 2-59 2-71 2-52 2-14 2 27 2 53 2 62 2 56 2 35 2 4 2-32 2-60 2-71 2-61 2-34 2 8 2 57 2 95 2 99 2 56 2-20 2-93 2-124 2-96 2-23 2 56 2 106 2 108 2 69 2 6 2-60 2-101 2-100 2-56 2 8 2 60 2 79 2 64 2 32 2 2 2-19 2-30 2-34 2-34 2-30 2-21 2-2 2 23 2 48 2 56 2 38 2-3 2-42 2-60 2-48 2-12 2 26 2 46 2 39 2 13 2-17 2-29 2-16 2 8 2 25 2 19 2-8 2-36 2-47 2-33 2 3 2 43 2 69 2 68 2 37 2-16 2-66 2-92 2-81 2-34 2 31 2 85 2 103 2 73 2 11 2-53 2-88 2-82 2-41 2 13 2 57 2 73 2 54 2 10 2-35 2-61 2-53 2-21 2 17 2 47 2 55 2 38 2 2 2-38 2-60 2-52 2-17 2 30 2 57 2 55 2 27 2-10 2-36 2-46 2-39 2-19 2 5 2 27 2 37 2 29 2 11 2-8 2-14 2-4 2 10 2 14 2-6 2-36 2-53 2-37 2 7 2 51 2 65 2 41 2 3 2-24 2-28 2-19 2-15 2-18 2-16 2-5 2 14 2 29 2 32 2 25 2 7 2-14 2-31 2-31 2-15 2 9 2 25 2 18 2-3 2-21 2-22 2-5 2 17 2 29 2 26 2 8 2-10 2-19 2-18 2-10 2-4 2-6 2-10 2-9 2 1 2 17 2 33 2 40 2 31 2 3 2-35 2-61 2-59 2-27 2 17 2 53 2 59 2 35 2-2 2-31 2-37 2-22 2 0 2 13 2 11 2 5 2-1 2 1 2 5 2 6 2-1 2-11 2-15 2-12 2-3 2 7 2 12 2 12 2 12 2 13 2 12 2 5 2-11 2-28 2-40 2-35 2-12 2 21 2 47 2 57 2 43 2 8 2-29 2-52 2-55 2-39 2-12 2 17 2 43 2 56 2 48 2 23 2-12 2-44 2-58 2-48 2-17 2 19 2 42 2 41 2 21 2 1 2-9 2-9 2-6 2-8 2-16 2-20 2-15 2-1 2 17 2 29 2 27 2 13 2-4 2-15 2-13 2-7 2-6 2-12 2-17 2-13 2 1 2 20 2 29 2 26 2 13 2-4 2-15 2-15 2-8 2-2 2-1 2-5 2-13 2-16 2-12 2-1 2 15 2 28 2 36 2 34 2 20 2-2 2-31 2-51 2-57 2-40 2-10 2 24 2 49 2 57 2 45 2 20 2-9 2-32 2-39 2-33 2-15 2-1 2 5 2 4 2 1 2 6 2 17 2 24 2 21 2 9 2-6 2-12 2-14 2-14 2-15 2-18 2-15 2-3 2 13 2 28 2 31 2 20 2 1 2-16 2-21 2-15 2-2 2 5 2 5 2 1 2-3 2-1 2 1 2 3 2 1 2-3 2-6 2-3 2 3 2 7 2 6 2 2 2-2 2-1 2 2 2 6 2 3 2-4 2-15 2-21 2-15 2 2 2 26 2 38 2 30 2 4 2-27 2-44 2-38 2-16 2 14 2 34 2 38 2 28 2 8 2-14 2-31 2-36 2-27 2-5 2 21 2 40 2 39 2 16 2-14 2-35 2-36 2-20 2 0 2 16 2 21 2 21 2 13 2 4 2-8 2-13 2-10 2-3 2 1 2-1 2-7 2-9 2-3 2 10 2 18"/><path d="M472 962l4-1 4-1 4 0 4 0 4 1 4 1 4 0 4 0 4 0 4-1 4 0 4 0 4 0 4 0 4 1 4 0 4 0 4 0 4-1 4 0 4 0 4 0 4 0 4 0 4 0 4 1 4 0 4-1 4 0 4-1 4 0 4 1 4 1 4 1 4-1 4 0 4 0 4 0 4 0 4-1 4 0 4-1 4 0 4 0 4 1 4 1 4 0 4 0 4 0 4 0 4-1 4 0 4 0 4 1 4 0 4-1 4 0 4 0 4 1 4 0 4 0 4 0 4-1 4 0 4 0 4 0 4 1 4 0 4 0 4-1 4 0 4 0 4 0 4 1 4 0 4 0 4-1 4 1 4 0 4-1 4 0 4 0 4 0 4 1 4 0 4-1 4 0 4 0 4 0 4 1 4 0 4 0 4-1 4 0 4 0 4 1 4 0 4-1 4 0 4 1 4 0 4 0 4-1 4 0 4-1 4 0 4 1 4 1 4 0 4 0 4-1 4 0 4 0 4 1 4 1 4-1 4 0 4-1 4-1 4 0 4 0 4 0 4 1 4 1 4 1 4 1 4 0 4-2 4-2 4-1 4 0 4 0 4 2 4 1 4 1 4 1 4-1 4-1 4-1 4-1 4 0 4 0 4 1 4 0 4 1 4 0 4 0 4 0 4-1 4-1 4 1 4 1 4 0 4 0 4 0 4 0 4-1 4 1 4 0 4 0 4-1 4 0 4-1 4 0 4 1 4 1 4 0 4 1 4-1 4-1 4 0 4 0 4 0 4 1 4 0 4 0 4-1 4 0 4 0 4 0 4 0 4 0 4 0 4 0 4 0 4 1 4 1 4 0 4-1 4-1 4 0 4 0 4 1 4 0 4-1 4-1 4 1 4 0 4 1 4 1 4-1 4 0 4-1 4 0 4 0 4 0 4 0 4 1 4 1 4 0 4 0 4-2 4-1 4-1 4 0 4 2 4 1 4 1 4 0 4-1 4-1 4 0 4 0 4 1 4-1 4 0 4-1 4 0 4 1 4 1 4 0 4 0 4 0 4 0 4-1 4 0 4 0 4 1 4 0 4-1 4 0 4-1 4 0 4 1 4 1 4 1 4-1 4 0 4-1 4 0 4 0 4 1 4 0 4 0 4-1 4-1 4 0 4 0 4 1 4 1 4 0 4 1 4 0 4-1 4-1 4 0 4-1 4 0 4 1 4 0 4 1 4 0 4 0 4 0 4-1 4 0 4-1 4 0 4 1 4 1 4 1 4 0 4-1 4-1 4 0 4 0 4 0 4 0 4-1 4 0 4 1 4 1 4 1 4-1 4-1 4 0 4 0 4 0 4 0 4 1 4 0 4-1 4 0 4 0 4 1 4 0 4 0 4 0 4-1 4 0 4 0 4 0 4 0 4 0 4 0 4 1 4 0 4 0 4 0 4-1 4 0 4 0 4 0 4 0 4 0 4 0 4 1 4 0 4 0 4 0 4-1 4-1 4 0 4 1 4 0 4 1 4 0 4 0 4 0 4 0 4 0 4-1 4-1 4 0 4 1 4 1 4 0 4 0 4 0 4 0 4 0 4 0 4-1 4 0 4-1 4 0 4 0 4 1 4 1 4 1 4-1 4 0 4-1 4 0 4 0 4 1 4 0 4-1 4 0 4 0 4 0 4 0 4 0 4 1 4 0 4 0 4 0 4 0 4 0 4-1 4-1 4 0 4 0 4 1 4 1 4 1 4 0 4-1 4 0 4-1 4 0 4-1 4 1 4 0 4 0 4 0 4 0 4 1 4 0 2 0 2 0 2 0 2 0 2 0 2 0 2 0 2-1 2 0 2 1 2 0 2 1 2-1 2-1 2-2 2-1 2 1 2 1 2 3 2 2 2 1 2-2 2-3 2-3 2-1 2 2 2 3 2 2 2-1 2-2 2-2 2-1 2 1 2 3 2 2 2 1 2-1 2 0 2-1 2 0 2 0 2 0 2-1 2-2 2-2 2-2 2 0 2 1 2 2 2 3 2 3 2 1 2-1 2-2 2-2 2-2 2 2 2 2 2 3 2 0 2-2 2-5 2-3 2 0 2 2 2 3 2 3 2 1 2-2 2-4 2-4 2-1 2 3 2 7 2 7 2 3 2-1 2-6 2-8 2-7 2-3 2 3 2 6 2 7 2 5 2 0 2-5 2-7 2-5 2 0 2 5 2 7 2 6 2 0 2-5 2-7 2-5 2-1 2 3 2 6 2 5 2 2 2-2 2-4 2-6 2-3 2 1 2 5 2 6 2 5 2 0 2-5 2-9 2-9 2-4 2 2 2 8 2 13 2 13 2 8 2-2 2-12 2-16 2-15 2-9 2 1 2 10 2 14 2 14 2 11 2 4 2-4 2-11 2-17 2-15 2-7 2 3 2 12 2 15 2 10 2 3 2-5 2-7 2-5 2-1 2 4 2 5 2 4 2-1 2-6 2-11 2-11 2-6 2 4 2 14 2 18 2 12 2 2 2-9 2-17 2-14 2-7 2 5 2 11 2 12 2 5 2-3 2-6 2-5 2-1 2 3 2 5 2 2 2-2 2-5 2-6 2-2 2 3 2 5 2 4 2 0 2-2 2-3 2-1 2 0 2 1 2 0 2 0 2 2 2 5 2 5 2 1 2-7 2-12 2-10 2-2 2 8 2 14 2 11 2 3 2-7 2-11 2-7 2 2 2 7 2 9 2 4 2-3 2-9 2-11 2-8 2 0 2 8 2 10 2 5 2-2 2-6 2-2 2 4 2 8 2 8 2 2 2-4 2-9 2-11 2-12 2-8 2-1 2 8 2 17 2 22 2 17 2 6 2-11 2-23 2-25 2-19 2-5 2 9 2 15 2 18 2 15 2 8 2 1 2-6 2-10 2-10 2-7 2-3 2-1 2-1 2-2 2 0 2 7 2 13 2 15 2 10 2-2 2-16 2-23 2-18 2-5 2 8 2 16 2 16 2 13 2 7 2-1 2-8 2-15 2-16 2-13 2-4 2 7 2 17 2 21 2 15 2 1 2-12 2-18 2-16 2-8 2 1 2 9 2 14 2 15 2 9 2-2 2-15 2-23 2-17 2-1 2 18 2 28 2 22 2 5 2-14 2-25 2-23 2-10 2 6 2 16 2 16 2 9 2 1 2-4 2-4 2-6 2-8 2-8 2-6 2 4 2 13 2 20 2 16 2 2 2-16 2-27 2-25 2-10 2 11 2 26 2 29 2 15 2-6 2-21 2-22 2-12 2 5 2 15 2 15 2 4 2-8 2-14 2-10 2-1 2 8 2 12 2 10 2 4 2-1 2-6 2-6 2-5 2-2 2 0 2-2 2-7 2-9 2-4 2 6 2 19 2 22 2 17 2 2 2-15 2-25 2-25 2-13 2 3 2 17 2 22 2 18 2 7 2-6 2-15 2-17 2-10 2 1 2 8 2 10 2 6 2 0 2-3 2-3 2 0 2 3 2 3 2 1 2-3 2-7 2-10 2-9 2-4 2 5 2 16 2 21 2 19 2 6 2-12 2-25 2-26 2-14 2 6 2 20 2 23 2 11 2-6 2-19 2-20 2-8 2 6 2 18 2 20 2 13 2 1 2-11 2-17 2-15 2-8 2 3 2 8 2 8 2 5 2 3 2 1 2 1 2-3 2-4 2-4 2-3 2 2 2 5 2 4 2 2 2 0 2-1 2-2 2-3 2-7 2-9 2-6 2 0 2 9 2 18 2 19 2 11 2-4 2-16 2-20 2-16 2-4 2 6 2 11 2 10 2 3 2-5 2-6 2-3 2 4 2 8 2 9 2 7 2 1 2-6 2-14 2-18 2-15 2-2 2 12 2 25 2 25 2 15 2-2 2-20 2-31 2-26 2-12 2 9 2 25 2 30 2 23 2 6 2-11 2-22 2-24 2-18 2-6 2 6 2 14 2 18 2 18 2 12 2 2 2-9 2-17 2-21 2-17 2-5 2 9 2 22 2 24 2 16 2 0 2-16 2-23 2-21 2-10 2 1 2 11 2 16 2 17 2 15 2 10 2 0 2-12 2-20 2-20 2-14 2-1 2 9 2 14 2 12 2 6 2 2 2 0 2 0 2 0 2-2 2-6 2-8 2-9 2-3 2 4 2 10 2 9 2 3 2-4 2-6 2-3 2 1 2 4 2 2 2-2 2-3 2-1 2 2 2 3 2 1 2-5 2-7 2-4 2 5 2 11 2 11 2 4 2-4 2-9 2-10 2-5 2-2 2-1 2-2 2-2 2 3 2 10 2 19 2 19 2 10 2-8 2-25 2-34 2-30 2-12 2 12 2 32 2 40 2 33 2 15 2-9 2-27 2-35 2-32 2-19 2-2 2 13 2 23 2 29 2 25 2 13 2-2 2-14 2-19 2-17 2-9 2-5 2-3 2-2 2-1 2 7 2 13 2 17 2 13 2 5 2-5 2-8 2-10 2-11 2-13 2-12 2-6 2 6 2 19 2 25 2 19 2 5 2-10 2-17 2-15 2-8 2 0 2 2 2 2 2-1 2-4 2-2 2 2 2 9 2 14 2 15 2 6 2-8 2-19 2-19 2-7 2 9 2 15 2 6 2-13 2-25 2-21 2 1 2 26 2 44 2 42 2 23 2-7 2-35 2-51 2-47 2-23 2 6 2 26 2 28 2 15 2 5 2 12 2 30 2 41 2 22 2-25 2-74 2-92 2-63 2 0 2 66 2 97 2 77 2 21 2-39 2-67 2-49 2-1 2 38 2 43 2 14 2-26 2-50 2-45 2-19 2 13 2 36 2 46 2 46 2 35 2 13 2-22 2-58 2-76 2-59 2-10 2 50 2 88 2 83 2 32 2-38 2-91 2-97 2-51 2 20 2 81 2 105 2 80 2 23 2-39 2-81 2-91 2-74 2-35 2 16 2 62 2 85 2 77 2 39 2-7 2-38 2-45 2-31 2-15 2-14 2-25 2-29 2-13 2 19 2 47 2 53 2 38 2 19 2 8 2 3 2-12 2-40 2-69 2-69 2-36 2 12 2 45 2 50 2 42 2 39 2 40 2 31 2 0 2-44 2-75 2-74 2-46 2-8 2 20 2 38 2 48 2 56 2 55 2 36 2-1 2-45 2-80 2-94 2-71 2-18 2 49 2 106 2 125 2 93 2 20 2-65 2-129 2-140 2-91 2 0 2 92 2 140 2 120 2 43 2-47 2-106 2-108 2-59 2 10 2 65 2 82 2 64 2 28 2-12 2-41 2-58 2-62 2-50 2-19 2 23 2 58 2 71 2 60 2 31 2-2 2-30 2-47 2-49 2-36 2-20 2-6 2 5 2 16 2 28 2 33 2 28 2 18 2 8 2-4 2-18 2-33 2-36 2-19 2 11 2 34 2 35 2 9 2-22 2-34 2-25 2-6 2 3 2 2 2 9 2 35 2 65 2 67 2 17 2-63 2-120 2-109 2-30 2 59 2 103 2 80 2 17 2-37 2-50 2-25 2 13 2 32 2 18 2-11 2-31 2-29 2-8 2 12 2 16 2 11 2 6 2 7 2 10 2 6 2-4 2-15 2-21 2-18 2-10 2 3 2 21 2 34 2 37 2 20 2-12 2-47 2-62 2-46 2-5 2 42 2 69 2 60 2 19 2-32 2-62 2-54 2-14 2 35 2 62 2 49 2 3 2-47 2-76 2-65 2-19 2 42 2 89 2 95 2 54 2-17 2-77 2-95 2-59 2-1 2 36 2 29 2 0 2-11 2 20 2 68 2 84 2 39 2-48 2-118 2-123 2-58 2 32 2 93 2 96 2 52 2-5 2-41 2-45 2-24 2 1 2 16 2 15 2 5 2-7 2-16 2-19 2-16 2-3 2 15 2 33 2 38 2 21 2-11 2-42 2-50 2-30 2 8 2 42 2 56 2 44 2 16 2-15 2-42 2-56 2-55 2-40 2-15 2 12 2 35 2 60 2 82 2 92 2 71 2 5 2-87 2-160 2-169 2-96 2 25 2 132 2 168 2 121 2 25 2-64 2-102 2-81 2-29 2 20 2 44 2 47 2 38 2 22 2-5 2-41 2-71 2-71 2-35 2 19 2 64 2 77 2 61 2 32 2 4 2-22 2-44 2-58 2-57 2-38 2-7 2 24 2 46 2 54 2 48 2 20 2-19 2-50 2-50 2-11 2 42 2 62 2 27 2-44 2-96 2-83 2-6 2 90 2 137 2 95 2-13 2-119 2-150 2-88 2 26 2 118 2 138 2 85 2 1 2-72 2-107 2-100 2-59 2 2 2 65 2 98 2 88 2 39 2-15 2-48 2-56 2-47 2-31 2-9 2 24 2 51 2 52 2 15 2-37 2-71 2-60 2 0 2 74 2 112 2 82 2-4 2-96 2-132 2-90 2-1 2 78 2 99 2 63 2 5 2-33 2-41 2-28 2-13 2-4 2 1 2 7 2 15 2 25 2 24 2 8 2-16 2-32 2-31 2-17 2 3 2 19 2 30 2 27 2 13 2-11 2-30 2-36 2-20 2 16 2 51 2 62 2 29 2-38 2-97 2-106 2-50 2 44 2 121 2 138 2 89 2 3 2-80 2-126 2-124 2-76 2 3 2 78 2 120 2 103 2 37 2-39 2-79 2-65 2-20 2 20 2 28 2 18 2 12 2 20 2 29 2 12 2-40 2-104 2-127 2-70 2 57 2 189 2 237 2 156 2-16 2-184 2-254 2-203 2-72 2 61 2 146 2 165 2 133 2 72 2-1 2-64 2-100 2-99 2-68 2-22 2 18 2 36 2 33 2 18 2 7 2 11 2 26 2 41 2 40 2 20 2-12 2-48 2-75 2-88 2-76 2-28 2 47 2 122 2 153 2 115 2 21 2-87 2-157 2-159 2-96 2 5 2 100 2 155 2 146 2 81 2-13 2-99 2-142 2-131 2-77 2-6 2 61 2 107 2 126 2 115 2 71 2-1 2-83 2-146 2-162 2-120 2-37 2 56 2 130 2 160 2 139 2 74 2-15 2-92 2-133 2-123 2-72 2-3 2 53 2 78 2 68 2 35 2 1 2-13 2-8 2 1 2-4 2-26 2-50 2-48 2-10 2 42 2 76 2 70 2 29 2-23 2-64 2-78 2-62 2-23 2 29 2 71 2 87 2 64 2 11 2-46 2-79 2-72 2-29 2 19 2 46 2 36 2 10 2-10 2-9 2 6 2 19 2 19 2 8 2-11 2-27 2-32 2-25 2-11 2 2 2 13 2 21 2 30 2 35 2 30 2 11 2-18 2-48 2-65 2-57 2-23 2 26 2 66 2 83 2 69 2 31 2-17 2-62 2-92 2-95 2-68 2-9 2 63 2 119 2 132 2 91 2 12 2-73 2-126 2-127 2-76 2 0 2 65 2 93 2 77 2 36 2-4 2-28 2-38 2-41 2-38 2-18 2 21 2 59 2 75 2 48 2-11 2-77 2-112 2-93 2-24 2 63 2 124 2 121 2 56 2-37 2-104 2-110 2-51 2 31 2 90 2 91 2 41 2-30 2-81 2-88 2-49 2 8 2 52 2 63 2 45 2 18 2-4 2-14 2-22 2-27 2-24 2-9 2 16 2 33 2 27 2-3 2-40 2-56 2-37 2 12 2 59 2 78 2 56 2 4 2-50 2-74 2-58 2-17 2 23 2 43 2 37 2 21 2 4 2-10 2-19 2-25 2-22 2-11 2 8 2 25 2 31 2 22 2 4 2-11 2-22 2-25 2-20 2-7 2 11 2 25 2 26 2 10 2-15 2-32 2-25 2 2 2 32 2 39 2 18 2-16 2-36 2-28 2 0 2 24 2 23 2 1 2-22 2-26 2-8 2 15 2 31 2 26 2 3 2-21 2-35 2-27 2-1 2 29 2 45 2 36 2 8 2-24 2-44 2-45 2-32 2-10 2 12 2 29 2 40 2 43 2 37 2 20 2-4 2-31 2-53 2-60 2-49 2-23 2 12 2 42 2 63 2 67 2 50 2 13 2-32 2-63 2-62 2-33 2 2 2 22 2 19 2 7 2-5 2-4 2 6 2 21 2 32 2 30 2 13 2-19 2-50 2-60 2-40 2 5 2 48 2 67 2 48 2 1 2-47 2-67 2-46 2 2 2 48 2 63 2 39 2-5 2-39 2-40 2-16 2 13 2 25 2 16 2-3 2-20 2-25 2-22 2-9 2 9 2 27 2 37 2 29 2 6 2-17 2-26 2-13 2 9 2 19 2 6 2-21 2-45 2-47 2-21 2 19 2 56 2 71 2 56 2 20 2-21 2-52 2-62 2-53 2-30 2 2 2 30 2 49 2 52 2 41 2 19 2-7 2-36 2-57 2-63 2-45 2-8 2 38 2 72 2 81 2 61 2 15 2-40 2-82 2-93 2-65 2-7 2 49 2 79 2 69 2 33 2-6 2-28 2-30 2-25 2-20 2-17 2-9 2 5 2 20 2 24 2 15 2-2 2-12 2-4 2 14 2 26 2 14 2-16 2-48 2-55 2-30 2 15 2 53 2 64 2 44 2 5 2-29 2-42 2-36 2-19 2-3 2 7 2 12 2 15 2 16 2 14 2 8 2-1 2-10 2-15 2-13 2-7 2-1 2 3 2 3 2 6 2 13 2 18 2 12 2-5 2-24 2-31 2-18 2 3 2 18 2 23 2 16 2 6 2-3 2-7 2-8 2-8 2-7 2-6 2-1 2 8 2 13 2 9 2-3 2-15 2-17 2-3 2 16 2 25 2 17 2-4 2-23 2-28 2-14 2 6 2 21 2 23 2 13 2-2 2-14 2-18 2-15 2-7 2 0 2 8 2 15 2 20 2 19 2 11 2-3 2-21 2-34 2-35 2-21 2 4 2 30 2 41 2 37 2 22 2 3 2-13 2-29 2-41 2-41 2-27 2 3 2 32 2 48 2 44 2 25 2 1 2-21 2-33 2-34 2-24 2-7 2 6 2 15 2 14 2 13 2 13 2 16 2 16 2 6 2-11 2-29 2-38 2-32 2-10 2 17 2 38 2 43 2 29 2 5 2-21 2-35 2-32 2-16 2 6 2 23 2 24 2 10 2-10 2-25 2-21 2 2 2 29 2 40 2 26 2-9 2-39 2-46 2-25 2 8 2 30 2 28 2 11 2-5 2-8 2-1 2 5 2 2 2-7 2-12 2-7 2 0 2 5 2 3 2-4 2-4 2 4 2 15 2 20 2 11 2-8 2-26 2-32 2-22 2-1 2 22 2 36 2 33 2 15 2-8 2-24 2-24 2-14 2-4 2-3 2-6 2-7 2 2 2 15 2 28 2 30 2 21 2 1 2-22 2-40 2-41 2-24 2 6 2 30 2 38 2 29 2 5 2-15 2-25 2-20 2-8 2 5 2 14 2 14 2 9 2-1 2-8 2-8"/><path d="M472 1027l4 1 4 0 4-1 4-1 4-1 4-1 4 0 4 1 4 1 4 1 4 0 4 1 4-1 4-1 4-1 4 0 4 0 4 0 4 1 4 0 4 0 4 0 4 0 4 0 4 1 4 0 4 0 4-1 4-1 4-1 4 1 4 1 4 1 4 1 4 0 4-2 4-1 4-1 4 1 4 1 4 0 4 1 4 0 4 0 4-1 4 0 4 0 4 0 4 0 4 0 4-1 4 0 4 1 4 0 4 1 4 0 4-1 4 0 4 0 4 0 4 0 4 0 4 0 4 0 4 0 4-1 4 0 4 1 4 0 4 1 4 0 4-1 4 0 4 0 4 0 4 0 4 0 4 0 4 1 4 0 4 0 4-1 4-2 4-1 4 1 4 2 4 2 4 1 4-1 4-1 4-2 4-1 4 0 4 0 4 2 4 1 4 0 4 0 4 0 4-1 4 0 4-1 4 0 4 1 4 0 4 1 4-1 4-1 4 0 4 0 4 1 4 1 4 1 4-1 4-1 4-1 4 0 4 1 4 0 4 0 4-1 4 0 4 1 4 1 4 0 4 0 4 0 4-1 4 0 4-1 4-1 4 0 4 1 4 1 4 1 4 0 4 0 4-1 4-1 4 0 4 0 4 1 4 1 4 0 4-1 4-1 4-1 4 0 4 1 4 1 4 2 4 0 4 0 4-2 4-1 4-1 4 0 4 1 4 1 4 1 4 0 4 0 4-1 4 0 4-1 4 0 4 1 4 0 4 0 4 0 4 1 4 0 4-1 4-1 4 0 4-1 4 1 4 1 4 2 4 1 4-1 4-1 4-2 4-1 4 0 4 1 4 0 4 1 4 0 4 1 4 1 4 0 4-1 4-1 4-1 4-1 4 1 4 0 4 1 4 0 4 0 4 0 4 0 4 0 4 0 4 0 4 0 4 0 4 0 4 0 4 0 4-1 4 0 4 1 4 0 4 0 4 0 4 0 4 0 4 1 4 0 4 0 4 0 4 0 4 0 4-1 4-1 4 0 4 0 4 0 4 1 4 0 4 0 4 0 4 1 4 0 4 0 4-1 4-1 4 0 4 1 4 0 4 0 4 0 4 0 4 0 4 0 4 0 4 0 4 0 4-1 4 0 4 0 4 2 4 1 4 0 4-1 4-1 4-1 4-1 4 1 4 0 4 1 4 0 4 1 4 0 4 0 4-1 4 0 4-1 4 0 4 0 4 1 4 1 4 0 4 0 4-1 4-1 4-1 4 0 4 1 4 1 4 1 4 1 4 1 4-1 4-2 4-2 4-1 4 1 4 2 4 1 4 0 4 0 4 0 4 0 4-1 4 0 4-1 4 0 4 1 4 0 4 0 4 0 4 0 4 0 4 0 4 1 4 0 4-1 4-1 4 0 4 0 4 1 4 1 4 0 4-1 4-1 4 0 4 0 4 1 4 1 4 0 4-1 4-1 4 0 4 0 4 1 4 0 4 0 4 0 4 0 4 0 4 0 4 0 4 1 4 0 4-1 4-1 4 0 4 0 4 0 4 1 4 1 4 0 4 0 4-1 4 0 4 0 4 0 4 0 4-1 4 0 4 0 4 0 4 1 4 1 4 1 4-1 4-1 4 0 4-1 4 0 4 0 4 0 4 1 4 1 4 0 4 0 4 0 4-1 4-1 4-1 4 1 4 1 4 1 4 1 4-1 4-1 4-1 4 0 4 1 4 0 4 0 4 0 4 0 4 0 4 1 4 0 4 0 4-2 4 0 4 0 4 0 4 1 4 1 2 0 2 0 2 0 2-1 2 0 2 0 2 0 2 0 2 0 2 0 2-1 2 0 2-1 2 0 2 1 2 2 2 2 2 0 2 0 2-2 2-3 2-2 2-1 2 1 2 2 2 2 2 2 2 0 2 0 2 0 2 1 2-1 2-1 2-2 2-2 2 1 2 2 2 2 2 1 2-1 2-2 2-3 2-1 2 1 2 2 2 2 2 2 2 0 2 0 2-2 2-1 2-1 2-2 2-2 2 0 2 2 2 4 2 4 2 1 2-1 2-3 2-5 2-2 2 2 2 3 2 4 2 0 2-2 2-3 2-4 2-1 2 1 2 2 2 4 2 4 2 2 2-1 2-4 2-4 2-2 2 1 2 3 2 1 2-1 2-2 2-2 2 1 2 3 2 2 2 2 2-1 2-2 2-3 2-1 2 1 2 1 2 2 2 0 2-2 2-2 2-1 2 3 2 5 2 7 2 3 2-2 2-10 2-11 2-8 2-1 2 7 2 10 2 9 2 4 2 0 2-5 2-6 2-5 2-3 2-1 2 1 2 1 2 4 2 5 2 6 2 4 2-2 2-7 2-8 2-6 2 0 2 5 2 6 2 3 2 0 2-3 2-3 2-2 2 1 2 3 2 4 2 4 2 0 2-4 2-6 2-6 2-2 2 2 2 3 2 3 2 3 2 2 2 1 2 1 2 2 2 1 2 0 2-2 2-5 2-5 2-4 2-1 2 1 2 4 2 2 2 0 2 0 2 2 2 6 2 6 2 2 2-6 2-10 2-9 2-5 2 2 2 9 2 11 2 8 2 1 2-6 2-12 2-12 2-4 2 6 2 13 2 14 2 9 2-2 2-11 2-13 2-10 2-3 2 4 2 6 2 5 2 3 2 2 2 1 2 0 2-3 2-5 2-4 2-1 2 4 2 9 2 8 2 3 2-5 2-11 2-11 2-5 2 2 2 9 2 8 2 2 2-2 2-3 2 1 2 7 2 7 2 2 2-7 2-15 2-17 2-9 2 3 2 16 2 22 2 17 2 4 2-11 2-19 2-16 2-4 2 8 2 13 2 8 2-2 2-10 2-9 2-1 2 9 2 13 2 8 2-2 2-11 2-15 2-9 2-1 2 7 2 13 2 13 2 10 2 2 2-10 2-19 2-20 2-7 2 11 2 23 2 23 2 10 2-10 2-24 2-28 2-19 2 1 2 21 2 32 2 29 2 14 2-6 2-24 2-29 2-24 2-10 2 5 2 14 2 16 2 13 2 7 2 2 2 0 2 0 2 1 2-1 2-5 2-11 2-15 2-11 2-3 2 8 2 13 2 13 2 7 2 0 2-2 2-2 2-1 2 0 2-3 2-4 2-5 2-2 2 0 2 0 2 0 2 1 2 4 2 8 2 6 2 0 2-8 2-10 2-5 2 4 2 11 2 11 2 3 2-7 2-15 2-14 2-7 2 5 2 12 2 14 2 8 2 1 2-5 2-6 2-2 2 2 2 2 2-4 2-9 2-11 2-3 2 8 2 16 2 15 2 3 2-11 2-17 2-9 2 4 2 15 2 16 2 7 2-7 2-17 2-21 2-15 2-3 2 11 2 21 2 23 2 17 2 5 2-7 2-18 2-20 2-16 2-6 2 2 2 5 2 6 2 6 2 9 2 13 2 11 2 4 2-7 2-14 2-16 2-12 2-6 2 2 2 9 2 15 2 14 2 9 2 1 2-6 2-10 2-11 2-9 2-8 2-3 2 3 2 9 2 13 2 12 2 7 2-1 2-7 2-8 2-5 2-2 2-2 2-3 2-4 2-3 2 2 2 4 2 6 2 5 2 5 2 6 2 5 2 1 2-7 2-15 2-17 2-9 2 7 2 18 2 19 2 6 2-12 2-21 2-16 2 0 2 19 2 27 2 19 2 0 2-19 2-28 2-23 2-9 2 8 2 23 2 29 2 21 2 5 2-14 2-29 2-30 2-18 2 0 2 17 2 27 2 23 2 12 2 1 2-6 2-9 2-10 2-14 2-17 2-16 2-7 2 8 2 24 2 31 2 26 2 9 2-12 2-26 2-27 2-18 2-3 2 9 2 14 2 13 2 6 2-1 2-5 2-4 2 0 2 4 2 6 2 3 2-2 2-7 2-9 2-7 2-1 2 5 2 7 2 4 2-4 2-6 2-1 2 10 2 19 2 16 2 3 2-16 2-31 2-34 2-20 2 3 2 28 2 42 2 39 2 19 2-8 2-30 2-39 2-32 2-14 2 7 2 22 2 27 2 20 2 6 2-7 2-12 2-10 2-2 2 5 2 4 2 0 2-6 2-8 2-7 2-3 2 1 2 6 2 11 2 16 2 13 2 4 2-11 2-20 2-20 2-12 2-1 2 9 2 16 2 21 2 18 2 6 2-13 2-29 2-30 2-14 2 8 2 27 2 31 2 21 2 1 2-15 2-25 2-20 2-9 2 4 2 10 2 9 2 5 2 2 2 4 2 8 2 8 2 3 2-8 2-17 2-18 2-10 2 5 2 14 2 13 2 4 2-5 2-9 2-3 2 5 2 10 2 10 2 6 2-1 2-6 2-12 2-15 2-13 2-6 2 3 2 12 2 15 2 15 2 11 2 4 2-4 2-9 2-11 2-8 2-6 2-7 2-9 2-9 2-1 2 12 2 24 2 38 2 37 2 17 2-15 2-40 2-51 2-51 2-43 2-32 2-10 2 29 2 76 2 105 2 95 2 52 2-7 2-64 2-99 2-108 2-86 2-38 2 21 2 71 2 94 2 88 2 56 2 12 2-35 2-75 2-89 2-68 2-9 2 57 2 93 2 75 2 11 2-55 2-79 2-49 2 10 2 53 2 51 2 13 2-31 2-49 2-32 2 8 2 42 2 52 2 29 2-14 2-49 2-54 2-25 2 25 2 63 2 61 2 15 2-47 2-87 2-74 2-17 2 54 2 99 2 95 2 43 2-35 2-101 2-117 2-75 2 6 2 85 2 125 2 108 2 44 2-42 2-113 2-136 2-99 2-17 2 74 2 130 2 122 2 57 2-28 2-87 2-90 2-52 2-3 2 24 2 22 2 7 2 9 2 32 2 63 2 64 2 21 2-57 2-121 2-131 2-72 2 27 2 111 2 138 2 99 2 21 2-53 2-85 2-67 2-19 2 22 2 29 2 2 2-30 2-39 2-16 2 26 2 61 2 68 2 45 2 5 2-38 2-70 2-80 2-59 2-18 2 32 2 70 2 84 2 69 2 33 2-9 2-44 2-68 2-78 2-70 2-36 2 15 2 69 2 99 2 87 2 42 2-19 2-66 2-81 2-59 2-18 2 18 2 36 2 33 2 21 2 9 2 6 2 9 2 11 2 2 2-22 2-44 2-53 2-37 2-2 2 38 2 67 2 70 2 42 2-2 2-39 2-52 2-43 2-28 2-16 2-5 2 13 2 36 2 43 2 27 2-3 2-24 2-21 2-4 2 12 2 17 2 15 2 7 2-8 2-33 2-58 2-61 2-27 2 34 2 90 2 107 2 73 2 10 2-53 2-85 2-82 2-53 2-15 2 16 2 35 2 41 2 37 2 24 2 12 2 4 2-4 2-9 2-15 2-18 2-19 2-16 2-13 2-9 2 1 2 16 2 31 2 33 2 25 2 10 2-5 2-19 2-34 2-46 2-47 2-27 2 12 2 53 2 76 2 65 2 27 2-19 2-48 2-50 2-34 2-12 2-4 2-8 2-15 2-7 2 22 2 56 2 71 2 48 2-1 2-50 2-75 2-65 2-25 2 20 2 51 2 45 2 9 2-33 2-43 2-8 2 51 2 86 2 66 2-1 2-79 2-120 2-106 2-44 2 32 2 92 2 111 2 88 2 40 2-10 2-50 2-70 2-70 2-50 2-20 2 13 2 33 2 36 2 23 2 10 2 11 2 28 2 45 2 37 2-2 2-61 2-109 2-115 2-68 2 18 2 107 2 157 2 137 2 55 2-49 2-123 2-136 2-94 2-26 2 34 2 72 2 88 2 85 2 59 2 11 2-54 2-107 2-114 2-69 2 9 2 75 2 95 2 72 2 26 2-11 2-28 2-28 2-21 2-16 2-11 2-9 2-10 2-15 2-17 2-8 2 16 2 46 2 65 2 55 2 18 2-33 2-70 2-74 2-44 2 0 2 31 2 37 2 27 2 16 2 14 2 13 2 5 2-7 2-17 2-17 2-15 2-14 2-18 2-20 2-11 2 10 2 36 2 53 2 44 2 16 2-9 2-14 2-9 2-19 2-59 2-98 2-89 2-17 2 91 2 169 2 164 2 79 2-42 2-133 2-151 2-103 2-26 2 39 2 71 2 76 2 55 2 20 2-22 2-50 2-49 2-22 2 19 2 50 2 50 2 16 2-29 2-53 2-38 2 2 2 31 2 26 2-8 2-36 2-31 2 6 2 45 2 58 2 35 2-10 2-49 2-54 2-25 2 16 2 37 2 24 2-7 2-27 2-23 2-1 2 20 2 27 2 23 2 11 2 2 2-10 2-23 2-39 2-47 2-34 2 1 2 50 2 88 2 91 2 50 2-23 2-95 2-128 2-100 2-21 2 71 2 127 2 114 2 43 2-43 2-97 2-93 2-52 2 2 2 45 2 72 2 82 2 67 2 21 2-44 2-104 2-128 2-103 2-31 2 63 2 144 2 173 2 133 2 31 2-93 2-184 2-197 2-121 2 12 2 136 2 190 2 147 2 41 2-66 2-125 2-123 2-71 2 0 2 61 2 92 2 85 2 49 2-3 2-46 2-72 2-74 2-59 2-29 2 13 2 63 2 101 2 101 2 48 2-35 2-94 2-88 2-28 2 31 2 43 2 6 2-42 2-58 2-32 2 18 2 61 2 79 2 65 2 31 2-5 2-29 2-40 2-50 2-65 2-73 2-53 2 3 2 74 2 126 2 126 2 71 2-15 2-96 2-133 2-116 2-59 2 13 2 71 2 103 2 106 2 79 2 28 2-36 2-95 2-122 2-104 2-43 2 32 2 91 2 110 2 86 2 27 2-40 2-85 2-79 2-28 2 35 2 72 2 60 2 8 2-51 2-83 2-69 2-17 2 44 2 80 2 76 2 38 2-4 2-30 2-39 2-40 2-42 2-35 2-13 2 21 2 50 2 58 2 45 2 16 2-17 2-48 2-64 2-54 2-17 2 33 2 68 2 68 2 34 2-12 2-39 2-38 2-18 2-5 2-14 2-32 2-33 2-5 2 38 2 67 2 65 2 41 2 7 2-22 2-43 2-53 2-55 2-41 2-17 2 13 2 39 2 50 2 47 2 37 2 25 2 7 2-27 2-69 2-91 2-64 2 12 2 94 2 127 2 76 2-29 2-121 2-137 2-66 2 42 2 121 2 130 2 76 2-6 2-74 2-105 2-96 2-54 2 2 2 53 2 82 2 82 2 53 2 9 2-30 2-52 2-56 2-47 2-34 2-17 2 11 2 52 2 87 2 87 2 34 2-49 2-109 2-106 2-39 2 46 2 95 2 81 2 19 2-53 2-91 2-72 2-8 2 68 2 114 2 106 2 44 2-44 2-120 2-148 2-114 2-30 2 64 2 129 2 139 2 97 2 29 2-39 2-81 2-90 2-70 2-36 2-9 2 5 2 12 2 27 2 55 2 85 2 84 2 39 2-38 2-107 2-125 2-83 2-7 2 62 2 91 2 72 2 28 2-15 2-33 2-24 2-1 2 12 2 0 2-26 2-44 2-36 2-2 2 35 2 56 2 51 2 32 2 8 2-19 2-44 2-61 2-60 2-35 2 3 2 41 2 67 2 75 2 58 2 16 2-32 2-62 2-64 2-43 2-20 2-3 2 8 2 20 2 35 2 47 2 44 2 25 2-8 2-40 2-57 2-46 2-12 2 27 2 48 2 34 2-3 2-35 2-37 2-8 2 31 2 48 2 27 2-19 2-59 2-59 2-14 2 47 2 85 2 66 2 2 2-65 2-89 2-56 2 5 2 52 2 59 2 37 2 7 2-12 2-23 2-30 2-32 2-25 2-2 2 25 2 39 2 33 2 13 2-7 2-13 2-11 2-5 2-5 2-6 2-9 2-9 2-8 2-8 2-7 2-5 2 3 2 18 2 39 2 52 2 46 2 16 2-31 2-70 2-85 2-69 2-25 2 26 2 64 2 73 2 53 2 25 2 6 2 0 2-5 2-24 2-61 2-91 2-84 2-27 2 55 2 120 2 129 2 79 2 3 2-62 2-89 2-84 2-57 2-27 2 1 2 27 2 47 2 65 2 74 2 63 2 24 2-40 2-96 2-114 2-79 2-7 2 62 2 93 2 78 2 31 2-16 2-42 2-42 2-27 2-10 2-1 2 5 2 14 2 30 2 38 2 27 2-7 2-50 2-71 2-50 2 4 2 56 2 73 2 47 2-1 2-35 2-40 2-21 2 0 2 8 2 1 2-6 2 0 2 15 2 26 2 16 2-13 2-42 2-46 2-14 2 31 2 60 2 55 2 20 2-19 2-41 2-41 2-27 2-13 2-4 2-1 2 1 2 8 2 21 2 40 2 56 2 52 2 21 2-33 2-86 2-105 2-77 2-15 2 47 2 84 2 85 2 57 2 20 2-16 2-39 2-50 2-51 2-39 2-16 2 14 2 42 2 56 2 45 2 14 2-26 2-52 2-51 2-23 2 14 2 40 2 41 2 23 2-1 2-15 2-19 2-17 2-12 2-8 2-5 2 2 2 10 2 18 2 22 2 19 2 6 2-17 2-39 2-46 2-28 2 15 2 59 2 75 2 49 2-7 2-63 2-86 2-65 2-13 2 39 2 69 2 65 2 34 2-5 2-36 2-45 2-34 2-12 2 4 2 10 2 8 2 7 2 10 2 17 2 18 2 11 2 1 2-9 2-16 2-19 2-19 2-17 2-10 2 5 2 20 2 28 2 20 2-3 2-24 2-23 2 4 2 42 2 60 2 37 2-21 2-84 2-113 2-85 2-8 2 82 2 136 2 123 2 55 2-35 2-98 2-112 2-78 2-22 2 35 2 70 2 73 2 47 2 2 2-38 2-54 2-38 2-4 2 24 2 33 2 21 2 1 2-16 2-20 2-14 2-2 2 8 2 11 2 8 2 2 2 2 2 5 2 5 2-1 2-14 2-23 2-20 2-4 2 19 2 33 2 31 2 12 2-10 2-27 2-28 2-18 2-2 2 9 2 9 2 4 2 1 2 4 2 12 2 19 2 18 2 6 2-12 2-31 2-41 2-33 2-6 2 29 2 52 2 51 2 23 2-18 2-45 2-50 2-31 2-2 2 23 2 37 2 36 2 21 2-2 2-22 2-30 2-21 2-6 2 8 2 14 2 12 2 8 2 0 2-8 2-15 2-16 2-7 2 10 2 23 2 25 2 16 2 1 2-11 2-17 2-19 2-18 2-11 2-1 2 11 2 18 2 15 2 3 2-7 2-9 2-2 2 10 2 16 2 12 2 0 2-15 2-27 2-27 2-14 2 8 2 29 2 33 2 22 2 0 2-18 2-25 2-18 2-6 2 5 2 9 2 9 2 8 2 8 2 8 2 4 2-3 2-11 2-18 2-17 2-11 2 0 2 10 2 18 2 21 2 16 2 8 2-3 2-14 2-20 2-20 2-11 2 0 2 9 2 10 2 6"/><path d="M472 1149l4 0 4 0 4 0 4 0 4 1 4 0 4-1 4 0 4 0 4 1 4-1 4 0 4 0 4 1 4 0 4 0 4-1 4-1 4 0 4 0 4 2 4 1 4 0 4 0 4-1 4-2 4 0 4 0 4 1 4 1 4 0 4 0 4 0 4 0 4 0 4 0 4 0 4-1 4 0 4-1 4 1 4 0 4 1 4 0 4 0 4-1 4 0 4 1 4 0 4 0 4 0 4-1 4-1 4 0 4 1 4 0 4 1 4 1 4 0 4-1 4-1 4-1 4 0 4 1 4 1 4 1 4 0 4-1 4-1 4-1 4 0 4 1 4 0 4 0 4 0 4 1 4 0 4 1 4 0 4-1 4-1 4 0 4 0 4 0 4 0 4 0 4 1 4 0 4-1 4 0 4 0 4 1 4 0 4 0 4 0 4-1 4 0 4 0 4 0 4 0 4 0 4 0 4 0 4 0 4 1 4 1 4 0 4 0 4-1 4-1 4-1 4 0 4 0 4 1 4 1 4 0 4 0 4 0 4 0 4 0 4 0 4-1 4 0 4 0 4 0 4 0 4 0 4 0 4 1 4 0 4 0 4 0 4-1 4-1 4 0 4 0 4 1 4 1 4 0 4 1 4-1 4-1 4 0 4 0 4 0 4 1 4 0 4 0 4-1 4-1 4 0 4 0 4 1 4 0 4 1 4 1 4 0 4 0 4-1 4-1 4-1 4 0 4 0 4 1 4 1 4 1 4 0 4 0 4-1 4-1 4-1 4-1 4 1 4 1 4 2 4 1 4 0 4-2 4-1 4-1 4 0 4 0 4 1 4 0 4 1 4 1 4 0 4-1 4 0 4-1 4-1 4 0 4 0 4 1 4 1 4 0 4 0 4 0 4-1 4 1 4 0 4 0 4-1 4 0 4-1 4 1 4 0 4 1 4 0 4 0 4 0 4 0 4 0 4 0 4-1 4 0 4 0 4 0 4 0 4 0 4-1 4 0 4 1 4 1 4 1 4 0 4-1 4-1 4-1 4 0 4 1 4 1 4 0 4 0 4 0 4-1 4 0 4 0 4 1 4 1 4 0 4-1 4-1 4-1 4 0 4 0 4 0 4 1 4 1 4 1 4-1 4 0 4 0 4 0 4 0 4 0 4 0 4-1 4-1 4-1 4 1 4 2 4 1 4 1 4-1 4-1 4-1 4 0 4 0 4 0 4 1 4 0 4-1 4 0 4 0 4 0 4 1 4 0 4 0 4-1 4 0 4 0 4 1 4 0 4-1 4 0 4 1 4 0 4 0 4 0 4-1 4 0 4-1 4 0 4 0 4 1 4 1 4 1 4 0 4 0 4-1 4-1 4-1 4 1 4 0 4 0 4 0 4 0 4 0 4 1 4 1 4 0 4-1 4-2 4 0 4 1 4 1 4 0 4 0 4-1 4 0 4 0 4 0 4 0 4 0 4 0 4 1 4 1 4 0 4-1 4-1 4-2 4 0 4 1 4 1 4 1 4 1 4 1 4 0 4-1 4-2 4-1 4-1 4 1 4 1 4 1 4 0 4 0 4 0 4-1 4 0 4 0 4 1 4 0 4 0 4-1 4 0 4 0 4 0 4 0 4 0 4 0 4 0 4 0 4 0 4 1 4 0 4 0 4 0 4 0 4-1 4 0 4 0 4-1 4 0 4 1 4 0 4 1 4 1 4-1 4-1 4 0 4 0 4 0 4 1 4 0 4 0 4 0 4-1 4-1 4 0 2 0 2 0 2 1 2 0 2 1 2 1 2 0 2-1 2-1 2 0 2 2 2 3 2 2 2 0 2-3 2-4 2-4 2-3 2 0 2 3 2 3 2 4 2 2 2-1 2-2 2-3 2-2 2-1 2 2 2 3 2 3 2 2 2-1 2-3 2-3 2-3 2 0 2 1 2 2 2 3 2 2 2 1 2-1 2-2 2-3 2-2 2-1 2 1 2 2 2 3 2 1 2 1 2-2 2-1 2-1 2 0 2 0 2 0 2 0 2-1 2-1 2-1 2 0 2 2 2 2 2 2 2 0 2 0 2-1 2-1 2 0 2 1 2 1 2 1 2-1 2-2 2-5 2-4 2-1 2 3 2 6 2 7 2 5 2-1 2-6 2-7 2-6 2 0 2 3 2 5 2 4 2 2 2-1 2-4 2-4 2-3 2 0 2 3 2 5 2 4 2 2 2 0 2-3 2-4 2-4 2-2 2 1 2 3 2 3 2 1 2 0 2-3 2-3 2-1 2 2 2 3 2 2 2 0 2-1 2-1 2 0 2 0 2 0 2 0 2-1 2-2 2 0 2 0 2 2 2 3 2 2 2-1 2-4 2-4 2-2 2 2 2 5 2 5 2 3 2-2 2-6 2-8 2-5 2-1 2 6 2 11 2 10 2 7 2-1 2-9 2-15 2-13 2-8 2 3 2 10 2 15 2 13 2 9 2 0 2-8 2-14 2-14 2-10 2-3 2 5 2 12 2 14 2 10 2 4 2-2 2-8 2-11 2-11 2-8 2-2 2 6 2 12 2 14 2 10 2 3 2-7 2-12 2-13 2-10 2-2 2 6 2 11 2 10 2 6 2-1 2-5 2-5 2-1 2 0 2 0 2-5 2-6 2-4 2 2 2 8 2 8 2 6 2 3 2 3 2 1 2-2 2-9 2-15 2-16 2-7 2 7 2 18 2 22 2 14 2 1 2-12 2-18 2-14 2-5 2 5 2 8 2 6 2 1 2 0 2 4 2 5 2 4 2-3 2-9 2-10 2-5 2 2 2 6 2 8 2 6 2 3 2-3 2-8 2-8 2-6 2 1 2 7 2 11 2 7 2-1 2-7 2-9 2-5 2 1 2 7 2 6 2 3 2-2 2-4 2-4 2-1 2 1 2 1 2-1 2-3 2 0 2 3 2 6 2 6 2 2 2-4 2-8 2-8 2-3 2 4 2 8 2 7 2 3 2-2 2-6 2-8 2-7 2-6 2 2 2 9 2 17 2 17 2 9 2-6 2-18 2-23 2-18 2-8 2 5 2 13 2 18 2 17 2 13 2 4 2-7 2-14 2-18 2-14 2-5 2 4 2 9 2 8 2 6 2 5 2 8 2 8 2 4 2-6 2-15 2-20 2-16 2-4 2 9 2 18 2 19 2 11 2 1 2-7 2-10 2-9 2-8 2-4 2 2 2 7 2 8 2 5 2-2 2-6 2-6 2 1 2 7 2 10 2 3 2-6 2-13 2-10 2 0 2 10 2 13 2 5 2-5 2-11 2-8 2 0 2 4 2 3 2 0 2 1 2 6 2 9 2 8 2 0 2-7 2-13 2-13 2-10 2-4 2 2 2 8 2 13 2 15 2 12 2 6 2-2 2-11 2-15 2-16 2-11 2-3 2 4 2 12 2 15 2 14 2 6 2-3 2-8 2-8 2-2 2 0 2-2 2-8 2-11 2-7 2 5 2 17 2 19 2 12 2-1 2-12 2-16 2-13 2-2 2 9 2 14 2 13 2 2 2-11 2-19 2-17 2-9 2 4 2 16 2 22 2 21 2 14 2 1 2-12 2-21 2-25 2-21 2-12 2 3 2 19 2 31 2 30 2 16 2-5 2-23 2-29 2-22 2-7 2 9 2 17 2 16 2 10 2 0 2-7 2-10 2-9 2-6 2 2 2 9 2 12 2 11 2 1 2-9 2-13 2-12 2-3 2 3 2 8 2 9 2 7 2 2 2 0 2-2 2-2 2-2 2-5 2-7 2-10 2-8 2-2 2 8 2 18 2 21 2 14 2-1 2-14 2-20 2-16 2-5 2 4 2 10 2 7 2 3 2-3 2-3 2 1 2 4 2 7 2 3 2-3 2-6 2-5 2-1 2 3 2 2 2-4 2-10 2-10 2 1 2 15 2 27 2 23 2 5 2-19 2-37 2-37 2-22 2 6 2 32 2 45 2 39 2 17 2-12 2-32 2-38 2-31 2-17 2 0 2 15 2 28 2 34 2 26 2 7 2-14 2-27 2-23 2-9 2 6 2 11 2 5 2-6 2-11 2-5 2 4 2 13 2 13 2 9 2 4 2-2 2-6 2-9 2-10 2-9 2-6 2-2 2 1 2 4 2 8 2 12 2 15 2 12 2 8 2-2 2-11 2-21 2-29 2-29 2-16 2 8 2 33 2 46 2 39 2 18 2-7 2-25 2-33 2-34 2-28 2-18 2-1 2 22 2 41 2 50 2 35 2 6 2-27 2-46 2-42 2-21 2 3 2 18 2 22 2 18 2 13 2 4 2-5 2-12 2-14 2-7 2 3 2 11 2 7 2-1 2-8 2-6 2 3 2 10 2 10 2 0 2-12 2-18 2-15 2-3 2 12 2 23 2 24 2 15 2 0 2-17 2-29 2-26 2-10 2 10 2 24 2 23 2 9 2-10 2-20 2-15 2-4 2 15 2 23 2 17 2-3 2-21 2-25 2-7 2 20 2 39 2 26 2-17 2-62 2-72 2-38 2 20 2 70 2 92 2 75 2 29 2-30 2-76 2-89 2-65 2-22 2 16 2 32 2 34 2 39 2 52 2 57 2 37 2-10 2-59 2-82 2-70 2-38 2-6 2 13 2 22 2 34 2 57 2 80 2 80 2 39 2-33 2-99 2-123 2-95 2-36 2 20 2 54 2 66 2 65 2 56 2 40 2 15 2-12 2-39 2-63 2-72 2-62 2-22 2 30 2 73 2 78 2 40 2-18 2-56 2-50 2-7 2 44 2 68 2 46 2-11 2-75 2-108 2-84 2-10 2 78 2 130 2 115 2 43 2-41 2-95 2-104 2-70 2-19 2 29 2 61 2 69 2 59 2 38 2 6 2-34 2-73 2-90 2-66 2-5 2 64 2 101 2 82 2 22 2-47 2-81 2-64 2-7 2 52 2 77 2 54 2-4 2-71 2-109 2-88 2-13 2 82 2 141 2 122 2 31 2-77 2-135 2-111 2-23 2 68 2 107 2 76 2 1 2-70 2-95 2-63 2 8 2 77 2 109 2 84 2 20 2-49 2-92 2-105 2-94 2-61 2-1 2 82 2 154 2 178 2 123 2 7 2-119 2-191 2-174 2-83 2 30 2 104 2 107 2 58 2 2 2-21 2-2 2 30 2 40 2 16 2-32 2-77 2-90 2-61 2-1 2 62 2 91 2 72 2 23 2-20 2-34 2-27 2-15 2-12 2-16 2-17 2-13 2-8 2 3 2 21 2 47 2 64 2 55 2 12 2-50 2-97 2-99 2-56 2 13 2 70 2 93 2 76 2 33 2-15 2-53 2-65 2-43 2 1 2 36 2 37 2-1 2-48 2-58 2-12 2 59 2 105 2 84 2 8 2-81 2-126 2-104 2-22 2 75 2 131 2 112 2 28 2-66 2-114 2-96 2-34 2 27 2 60 2 64 2 58 2 43 2 14 2-29 2-73 2-93 2-70 2-12 2 56 2 98 2 91 2 38 2-33 2-81 2-82 2-37 2 25 2 67 2 68 2 34 2-11 2-41 2-56 2-54 2-38 2-9 2 27 2 59 2 73 2 64 2 35 2-9 2-53 2-79 2-72 2-34 2 15 2 45 2 38 2 2 2-33 2-35 2 7 2 67 2 100 2 81 2 10 2-75 2-126 2-120 2-63 2 11 2 74 2 102 2 88 2 39 2-20 2-55 2-45 2-8 2 20 2 4 2-42 2-73 2-47 2 30 2 108 2 127 2 67 2-27 2-98 2-110 2-71 2-17 2 25 2 43 2 47 2 47 2 45 2 41 2 28 2-8 2-65 2-121 2-135 2-81 2 25 2 135 2 191 2 170 2 81 2-40 2-147 2-198 2-172 2-79 2 33 2 117 2 142 2 108 2 39 2-25 2-50 2-26 2 23 2 46 2 18 2-49 2-107 2-116 2-74 2-1 2 72 2 121 2 125 2 78 2 3 2-58 2-69 2-37 2-4 2 2 2-23 2-45 2-35 2 4 2 42 2 47 2 13 2-30 2-46 2-10 2 57 2 111 2 110 2 43 2-56 2-140 2-162 2-117 2-30 2 54 2 102 2 104 2 78 2 43 2 18 2 3 2-12 2-38 2-71 2-96 2-87 2-40 2 34 2 100 2 128 2 100 2 27 2-58 2-114 2-115 2-64 2 14 2 85 2 120 2 103 2 32 2-62 2-136 2-143 2-69 2 46 2 135 2 144 2 71 2-36 2-109 2-108 2-43 2 36 2 78 2 65 2 15 2-31 2-44 2-23 2 7 2 19 2 7 2-20 2-38 2-33 2-2 2 42 2 77 2 79 2 46 2-13 2-77 2-116 2-116 2-66 2 21 2 114 2 163 2 138 2 45 2-70 2-143 2-138 2-67 2 17 2 63 2 57 2 24 2 3 2 8 2 30 2 41 2 30 2-1 2-38 2-63 2-70 2-59 2-35 2-1 2 38 2 84 2 125 2 128 2 69 2-44 2-154 2-202 2-160 2-52 2 69 2 159 2 186 2 149 2 58 2-53 2-140 2-167 2-119 2-26 2 61 2 99 2 81 2 33 2-12 2-28 2-9 2 22 2 36 2 7 2-52 2-95 2-75 2 6 2 97 2 128 2 67 2-50 2-134 2-121 2-17 2 107 2 163 2 115 2-6 2-130 2-194 2-162 2-45 2 108 2 220 2 232 2 131 2-32 2-177 2-237 2-193 2-74 2 59 2 151 2 170 2 125 2 45 2-30 2-75 2-80 2-61 2-36 2-14 2 4 2 22 2 35 2 35 2 24 2 12 2 1 2-14 2-36 2-53 2-44 2 1 2 61 2 100 2 91 2 38 2-33 2-96 2-133 2-129 2-77 2 22 2 129 2 197 2 179 2 75 2-67 2-176 2-198 2-130 2-14 2 92 2 149 2 145 2 88 2-3 2-96 2-154 2-141 2-55 2 59 2 143 2 145 2 74 2-22 2-86 2-93 2-57 2-12 2 18 2 33 2 32 2 21 2 2 2-17 2-26 2-17 2 1 2 19 2 34 2 42 2 36 2 14 2-23 2-60 2-82 2-75 2-37 2 19 2 71 2 96 2 80 2 37 2-8 2-35 2-41 2-42 2-45 2-45 2-29 2 9 2 50 2 71 2 57 2 18 2-30 2-61 2-61 2-31 2 15 2 53 2 71 2 63 2 32 2-24 2-86 2-126 2-115 2-49 2 48 2 139 2 184 2 157 2 64 2-60 2-167 2-209 2-177 2-81 2 42 2 151 2 206 2 183 2 95 2-22 2-121 2-170 2-156 2-91 2 3 2 89 2 138 2 127 2 57 2-39 2-111 2-112 2-43 2 52 2 110 2 91 2 14 2-73 2-112 2-79 2 0 2 72 2 92 2 53 2-8 2-51 2-53 2-25 2 7 2 26 2 25 2 11 2-10 2-27 2-23 2 6 2 45 2 64 2 40 2-17 2-75 2-99 2-77 2-21 2 40 2 86 2 102 2 88 2 44 2-18 2-80 2-112 2-103 2-51 2 23 2 87 2 112 2 82 2 9 2-67 2-103 2-78 2-9 2 59 2 86 2 65 2 15 2-30 2-44 2-32 2-16 2-17 2-33 2-40 2-12 2 47 2 102 2 108 2 54 2-32 2-103 2-119 2-78 2-7 2 52 2 69 2 42 2 3 2-9 2 15 2 52 2 58 2 15 2-62 2-130 2-140 2-77 2 33 2 137 2 179 2 142 2 46 2-66 2-149 2-170 2-121 2-20 2 86 2 149 2 139 2 69 2-21 2-85 2-101 2-73 2-26 2 17 2 42 2 42 2 27 2 13 2 6 2 7 2 0 2-18 2-36 2-31 2 1 2 42 2 59 2 35 2-25 2-86 2-111 2-78 2 8 2 109 2 173 2 156 2 58 2-76 2-174 2-185 2-103 2 18 2 110 2 131 2 84 2 10 2-45 2-56 2-33 2-3 2 8 2 0 2-11 2-3 2 18 2 36 2 34 2 14 2-16 2-41 2-56 2-56 2-29 2 21 2 77 2 103 2 76 2 5 2-70 2-108 2-88 2-29 2 36 2 78 2 83 2 53 2 1 2-53 2-87 2-78 2-32 2 31 2 80 2 92 2 65 2 13 2-40 2-76 2-80 2-56 2-16 2 22 2 48 2 55 2 48 2 29 2 6 2-15 2-27 2-30 2-25 2-17 2-9 2-3 2 2 2 4 2 8 2 14 2 19 2 22 2 22 2 15 2 3 2-19 2-39 2-50 2-40 2-11 2 28 2 54 2 54 2 30 2-6 2-35 2-45 2-33 2-9 2 16 2 28 2 29 2 22 2 12 2 5 2-10 2-31 2-52 2-55 2-29 2 20 2 67 2 86 2 63 2 12 2-41 2-71 2-67 2-36 2 5 2 35 2 42 2 29 2 10 2-4 2-8 2-9 2-8 2-7 2-5 2-4 2-7 2-9 2-5 2 8 2 24 2 33 2 23 2-4 2-33 2-44 2-28 2 4 2 30 2 36 2 19 2-8 2-25 2-23 2-6 2 13 2 21 2 16 2 3 2-11 2-19 2-21 2-14 2-2 2 14 2 26 2 25 2 17 2 1 2-10 2-16 2-17 2-17 2-15 2-15 2-9 2 7 2 25 2 39 2 40 2 24 2-1 2-26 2-39 2-41 2-32 2-18 2 2 2 23 2 38 2 41 2 30 2 6 2-17 2-28 2-23 2-6 2 11 2 13 2 1 2-18 2-28 2-22 2-1 2 18 2 29 2 29 2 23 2 15 2 6 2-6 2-24 2-39 2-47 2-37 2-13 2 23 2 54 2 66 2 53 2 15 2-30 2-61 2-63 2-34 2 8 2 40 2 48 2 28 2-5 2-31 2-37 2-22 2 4 2 28 2 40 2 36 2 16 2-13 2-39 2-52 2-45 2-18 2 19 2 49 2 59 2 45 2 14 2-25 2-52 2-61 2-43 2-6 2 35 2 64 2 65 2 38 2-10 2-55 2-80 2-70 2-28 2 29 2 76 2 91 2 66 2 11 2-44 2-75 2-73 2-44 2-4 2 28 2 45 2 44 2 33 2 14 2-8 2-26 2-32 2-24 2-5 2 13 2 23 2 15 2-2 2-19 2-23 2-11 2 9 2 26 2 29 2 17 2-3 2-22 2-28 2-21 2-5 2 10 2 16 2 15 2 10 2 4 2-1 2-6 2-11 2-13 2-13 2-8 2 1 2 12 2 24 2 28 2 18 2-3 2-23 2-34 2-29 2-11 2 9 2 21 2 20 2 13 2 4 2 0 2-2 2-5 2-7 2-7 2-3 2 3 2 5 2 1 2-7 2-12 2-12 2-3 2 10 2 23 2 29 2 24 2 6 2-19 2-39 2-45 2-33 2-8 2 19 2 39 2 47 2 42 2 24 2-2 2-28 2-47 2-51 2-38 2-13 2 15 2 34 2 40"/><path d="M472 1387l4 0 4-1 4-1 4 0 4 0 4 1 4 1 4 0 4 0 4-1 4 0 4 0 4 0 4 1 4 0 4 0 4 0 4-1 4-1 4 0 4 1 4 1 4 0 4 0 4 0 4 0 4-1 4 0 4 0 4 0 4 1 4 0 4 0 4-1 4 0 4 0 4 1 4 0 4 1 4-1 4-2 4 0 4 0 4 2 4 1 4 0 4 0 4-1 4-1 4-1 4 0 4 0 4 0 4 1 4 1 4 1 4 0 4-1 4-1 4 0 4 0 4 1 4-1 4-1 4 0 4 1 4 1 4 1 4 0 4-1 4-1 4 0 4 0 4 0 4 0 4 1 4 0 4-1 4 0 4-1 4 1 4 1 4 0 4 0 4 0 4 0 4-1 4 0 4 0 4 0 4 0 4 0 4 1 4 0 4 0 4-1 4 0 4 0 4 1 4 0 4 0 4 0 4-1 4-1 4-1 4 1 4 1 4 2 4 0 4 0 4 0 4-1 4-1 4-1 4 0 4 0 4 0 4 1 4 1 4 1 4 0 4-1 4 0 4-1 4 0 4 0 4 0 4 0 4 0 4 1 4 0 4 0 4-1 4 0 4 0 4 0 4 0 4 0 4 0 4 0 4 1 4 1 4-1 4 0 4-1 4 0 4 0 4 0 4 0 4 0 4 1 4 0 4 0 4 0 4-1 4 0 4 0 4-1 4 1 4 0 4 1 4 0 4-1 4 0 4 1 4 1 4-1 4 0 4-1 4-1 4-1 4 1 4 2 4 1 4 0 4 0 4-1 4-1 4 0 4 0 4 1 4 0 4-1 4 0 4 0 4 0 4 0 4 1 4 0 4 0 4 0 4 0 4 0 4-1 4 0 4 0 4-1 4 0 4 1 4 0 4 1 4 0 4 0 4 0 4 0 4 0 4-1 4-1 4 0 4 1 4 1 4 0 4 0 4 0 4-1 4 0 4-1 4 1 4 1 4 0 4 0 4 0 4-1 4 1 4 0 4 0 4-1 4 0 4-1 4 1 4 0 4 1 4 0 4 0 4-1 4 0 4 0 4 0 4 0 4 1 4 0 4-1 4 0 4-1 4 0 4 1 4 1 4 1 4-1 4-1 4 0 4 0 4 1 4 0 4 0 4-1 4 0 4 0 4-1 4 1 4 0 4 1 4 1 4 0 4 0 4-1 4-1 4-1 4 0 4 1 4 1 4 1 4-1 4-1 4-1 4 0 4 0 4 1 4 1 4 0 4 0 4 1 4 0 4 0 4-2 4-1 4-1 4 0 4 1 4 1 4 2 4 0 4 1 4-1 4-1 4-1 4-1 4-1 4 1 4 1 4 0 4 1 4 1 4 0 4-1 4 0 4-1 4-1 4 0 4 1 4 0 4 1 4 0 4 0 4 0 4-1 4 0 4 1 4 0 4 0 4 0 4-1 4-1 4-1 4 1 4 2 4 1 4 0 4 0 4-1 4 0 4 0 4-1 4 0 4-1 4 1 4 0 4 1 4 0 4-1 4-1 4 1 4 1 4 1 4 0 4 0 4-1 4-1 4-1 4 0 4 1 4 0 4 1 4 0 4 0 4 0 4-1 4 0 4 0 4 1 4 0 4 0 4-1 4 0 4 1 4 0 4-1 4 0 4 0 4 1 4 0 4 0 4-1 4 0 4 0 4 0 4 1 4 0 4 1 4-1 4-1 4-1 4 0 4 0 4 2 4 1 2 0 2 0 2 0 2 0 2-1 2 0 2-1 2 0 2 0 2 1 2 0 2-1 2-2 2-2 2-1 2 2 2 3 2 4 2 3 2 0 2-2 2-4 2-4 2-4 2 0 2 3 2 6 2 4 2 2 2-3 2-5 2-5 2-1 2 2 2 5 2 4 2 1 2-3 2-4 2-3 2-1 2 2 2 4 2 3 2 3 2 0 2-1 2-4 2-5 2-5 2-3 2 3 2 6 2 7 2 4 2-1 2-4 2-6 2-4 2 0 2 3 2 6 2 5 2 2 2-2 2-5 2-6 2-3 2 0 2 0 2-1 2-1 2 1 2 6 2 10 2 8 2 3 2-6 2-13 2-13 2-6 2 2 2 9 2 10 2 6 2 2 2-4 2-6 2-6 2-5 2 1 2 8 2 12 2 10 2 1 2-12 2-20 2-16 2-5 2 10 2 19 2 19 2 10 2-1 2-10 2-12 2-11 2-6 2-3 2-1 2 2 2 7 2 10 2 11 2 8 2 1 2-5 2-9 2-11 2-10 2-5 2 0 2 4 2 7 2 7 2 6 2 7 2 4 2 1 2-6 2-11 2-11 2-7 2 1 2 7 2 9 2 9 2 4 2 0 2-3 2-5 2-5 2-6 2-6 2-5 2 0 2 8 2 15 2 14 2 6 2-7 2-15 2-17 2-10 2 1 2 12 2 20 2 20 2 7 2-10 2-25 2-29 2-17 2 2 2 21 2 27 2 21 2 6 2-10 2-18 2-14 2-4 2 9 2 13 2 8 2-3 2-13 2-16 2-10 2-1 2 9 2 13 2 16 2 13 2 7 2-3 2-13 2-20 2-19 2-9 2 6 2 16 2 16 2 7 2-3 2-6 2 0 2 7 2 8 2 0 2-13 2-21 2-19 2-6 2 13 2 25 2 27 2 16 2-1 2-15 2-21 2-17 2-8 2-2 2 1 2 2 2 7 2 13 2 15 2 11 2 1 2-10 2-15 2-12 2-5 2 2 2 5 2 6 2 5 2 5 2 4 2 0 2-5 2-8 2-8 2-6 2-2 2 2 2 5 2 11 2 15 2 12 2 3 2-9 2-17 2-18 2-11 2-1 2 7 2 11 2 12 2 9 2 6 2-1 2-8 2-14 2-16 2-9 2 2 2 17 2 23 2 19 2 4 2-13 2-24 2-20 2-6 2 9 2 14 2 8 2-2 2-7 2-4 2 6 2 11 2 9 2 2 2-5 2-9 2-8 2-7 2-6 2-4 2-2 2 4 2 9 2 14 2 14 2 8 2-1 2-9 2-13 2-12 2-10 2-7 2 0 2 8 2 15 2 18 2 13 2 0 2-14 2-21 2-19 2-6 2 9 2 19 2 17 2 6 2-8 2-14 2-12 2-1 2 10 2 15 2 11 2 0 2-9 2-14 2-11 2-7 2-1 2 1 2 4 2 8 2 12 2 12 2 9 2 2 2-5 2-12 2-15 2-14 2-8 2 3 2 10 2 11 2 6 2 0 2-2 2 3 2 8 2 7 2 0 2-10 2-15 2-12 2-3 2 6 2 8 2 6 2-2 2-5 2 0 2 10 2 17 2 16 2 3 2-14 2-28 2-28 2-18 2 0 2 17 2 28 2 28 2 19 2 3 2-14 2-22 2-22 2-12 2-2 2 3 2 6 2 9 2 14 2 13 2 7 2-5 2-15 2-16 2-7 2 5 2 11 2 9 2 2 2-4 2-8 2-8 2-4 2 1 2 7 2 9 2 11 2 6 2 1 2-6 2-8 2-9 2-6 2-6 2-5 2-3 2 2 2 10 2 15 2 14 2 7 2-2 2-9 2-10 2-7 2-4 2-5 2-6 2-5 2 3 2 12 2 18 2 17 2 5 2-11 2-20 2-18 2-8 2 5 2 14 2 11 2 3 2-4 2-6 2-3 2 3 2 6 2 4 2 1 2-4 2-8 2-9 2-6 2 1 2 9 2 14 2 12 2 4 2-5 2-11 2-12 2-8 2-5 2-1 2 3 2 9 2 13 2 13 2 9 2 0 2-10 2-19 2-20 2-13 2 0 2 14 2 20 2 17 2 8 2 0 2-4 2-6 2-10 2-15 2-14 2-6 2 6 2 16 2 17 2 9 2-1 2-7 2-6 2 0 2 4 2 4 2-1 2-9 2-12 2-10 2-2 2 4 2 6 2 7 2 7 2 10 2 10 2 5 2-4 2-14 2-18 2-13 2-3 2 7 2 14 2 16 2 10 2 1 2-8 2-12 2-13 2-9 2-3 2 3 2 9 2 12 2 13 2 9 2 2 2-4 2-12 2-15 2-15 2-9 2 2 2 13 2 16 2 12 2 4 2-2 2-5 2-4 2-4 2-4 2-6 2-5 2-1 2 6 2 12 2 12 2 4 2-10 2-19 2-19 2-6 2 12 2 24 2 25 2 11 2-7 2-20 2-22 2-12 2 0 2 8 2 10 2 9 2 5 2 1 2-2 2-6 2-10 2-11 2-4 2 6 2 20 2 26 2 19 2-1 2-27 2-40 2-35 2-10 2 18 2 34 2 35 2 20 2 4 2-10 2-19 2-22 2-21 2-11 2 4 2 17 2 20 2 12 2 0 2-8 2-8 2-4 2 1 2 3 2 2 2 2 2 3 2 3 2-2 2-10 2-18 2-15 2-1 2 19 2 31 2 27 2 9 2-12 2-25 2-27 2-20 2-10 2 1 2 13 2 23 2 26 2 21 2 8 2-9 2-24 2-30 2-24 2-9 2 9 2 22 2 26 2 20 2 8 2-3 2-12 2-17 2-21 2-19 2-9 2 10 2 29 2 36 2 24 2-5 2-33 2-46 2-34 2-1 2 32 2 47 2 38 2 9 2-20 2-35 2-33 2-26 2-9 2 12 2 26 2 34 2 33 2 25 2 9 2-8 2-25 2-40 2-51 2-52 2-30 2 5 2 49 2 81 2 87 2 56 2 1 2-59 2-94 2-92 2-54 2 2 2 59 2 93 2 88 2 45 2-19 2-71 2-86 2-56 2 0 2 54 2 70 2 43 2-15 2-65 2-77 2-44 2 16 2 77 2 110 2 101 2 39 2-56 2-141 2-163 2-99 2 21 2 128 2 161 2 108 2 9 2-83 2-121 2-98 2-34 2 35 2 75 2 78 2 57 2 36 2 16 2-12 2-61 2-109 2-125 2-86 2-1 2 96 2 159 2 161 2 92 2-17 2-110 2-139 2-100 2-27 2 28 2 42 2 28 2 14 2 16 2 33 2 47 2 36 2-6 2-61 2-101 2-92 2-32 2 53 2 120 2 131 2 80 2-10 2-97 2-135 2-104 2-18 2 71 2 105 2 60 2-28 2-90 2-73 2 14 2 111 2 147 2 93 2-19 2-130 2-186 2-162 2-71 2 50 2 155 2 199 2 159 2 47 2-77 2-148 2-130 2-52 2 23 2 45 2 17 2-18 2-20 2 13 2 50 2 58 2 28 2-14 2-37 2-22 2 8 2 25 2 7 2-33 2-60 2-51 2-10 2 33 2 52 2 47 2 32 2 22 2 8 2-15 2-42 2-56 2-42 2-12 2 18 2 35 2 40 2 37 2 20 2-10 2-39 2-51 2-35 2-7 2 15 2 29 2 40 2 50 2 45 2 11 2-48 2-99 2-99 2-40 2 50 2 116 2 117 2 55 2-27 2-82 2-93 2-75 2-48 2-18 2 25 2 85 2 134 2 137 2 74 2-31 2-125 2-160 2-128 2-57 2 14 2 57 2 65 2 50 2 38 2 44 2 62 2 64 2 32 2-24 2-80 2-106 2-99 2-73 2-40 2-4 2 43 2 97 2 135 2 131 2 73 2-15 2-90 2-122 2-109 2-74 2-33 2 11 2 56 2 94 2 99 2 59 2-7 2-61 2-72 2-40 2 1 2 25 2 22 2 8 2-5 2-7 2-7 2-8 2-8 2-1 2 18 2 40 2 41 2 7 2-50 2-95 2-92 2-33 2 56 2 131 2 156 2 116 2 21 2-92 2-180 2-197 2-132 2-12 2 106 2 172 2 163 2 98 2 6 2-77 2-120 2-104 2-41 2 38 2 85 2 81 2 29 2-41 2-90 2-96 2-54 2 12 2 72 2 91 2 66 2 15 2-18 2-11 2 25 2 44 2 13 2-68 2-146 2-161 2-88 2 46 2 171 2 225 2 176 2 42 2-117 2-218 2-203 2-83 2 73 2 173 2 169 2 75 2-47 2-128 2-134 2-69 2 30 2 107 2 124 2 75 2-13 2-95 2-131 2-105 2-29 2 59 2 117 2 123 2 88 2 35 2-20 2-75 2-120 2-137 2-108 2-30 2 65 2 140 2 168 2 139 2 60 2-49 2-149 2-198 2-168 2-63 2 78 2 198 2 239 2 170 2 14 2-157 2-258 2-238 2-114 2 50 2 176 2 218 2 179 2 97 2 3 2-79 2-144 2-179 2-166 2-101 2 3 2 111 2 184 2 196 2 143 2 42 2-65 2-142 2-164 2-132 2-70 2 1 2 62 2 103 2 116 2 104 2 63 2-8 2-96 2-159 2-149 2-54 2 80 2 178 2 181 2 92 2-40 2-143 2-172 2-127 2-39 2 47 2 105 2 122 2 99 2 43 2-25 2-77 2-81 2-41 2 13 2 36 2 12 2-27 2-38 2-4 2 45 2 58 2 14 2-54 2-88 2-45 2 53 2 138 2 142 2 52 2-80 2-178 2-183 2-97 2 31 2 132 2 165 2 127 2 44 2-42 2-96 2-99 2-60 2-13 2 13 2 19 2 19 2 33 2 49 2 43 2 3 2-49 2-77 2-57 2 1 2 58 2 78 2 55 2 9 2-29 2-42 2-34 2-19 2-17 2-33 2-46 2-28 2 31 2 105 2 142 2 111 2 16 2-98 2-173 2-171 2-93 2 19 2 114 2 150 2 129 2 73 2 8 2-51 2-92 2-107 2-94 2-56 2-3 2 46 2 76 2 80 2 67 2 42 2 14 2-15 2-36 2-47 2-54 2-64 2-63 2-31 2 36 2 107 2 131 2 81 2-23 2-121 2-153 2-91 2 33 2 146 2 180 2 109 2-32 2-157 2-196 2-133 2-8 2 106 2 161 2 137 2 58 2-40 2-106 2-112 2-56 2 22 2 74 2 74 2 32 2-20 2-54 2-65 2-53 2-25 2 13 2 58 2 94 2 105 2 69 2-9 2-98 2-146 2-125 2-46 2 41 2 93 2 97 2 68 2 31 2-3 2-30 2-47 2-51 2-39 2-14 2 10 2 24 2 17 2 1 2-7 2 2 2 28 2 54 2 59 2 32 2-27 2-94 2-138 2-127 2-53 2 55 2 146 2 181 2 146 2 68 2-26 2-102 2-145 2-145 2-106 2-45 2 20 2 69 2 98 2 104 2 91 2 69 2 36 2-5 2-61 2-119 2-152 2-127 2-50 2 50 2 125 2 148 2 122 2 67 2 3 2-56 2-105 2-130 2-119 2-69 2 13 2 102 2 163 2 164 2 92 2-28 2-138 2-183 2-143 2-41 2 68 2 133 2 135 2 83 2 6 2-67 2-110 2-102 2-41 2 38 2 90 2 77 2 17 2-40 2-48 2-9 2 35 2 43 2 4 2-48 2-71 2-46 2 9 2 53 2 59 2 25 2-14 2-25 2 1 2 35 2 45 2 13 2-40 2-75 2-72 2-36 2 1 2 25 2 38 2 55 2 72 2 74 2 39 2-25 2-89 2-115 2-86 2-26 2 32 2 61 2 63 2 51 2 40 2 26 2 0 2-35 2-70 2-81 2-58 2-2 2 59 2 94 2 84 2 32 2-37 2-86 2-91 2-50 2 14 2 68 2 91 2 76 2 31 2-24 2-72 2-94 2-86 2-48 2 7 2 60 2 93 2 102 2 80 2 31 2-35 2-98 2-125 2-99 2-30 2 46 2 92 2 91 2 56 2 11 2-23 2-43 2-53 2-47 2-26 2 11 2 46 2 61 2 46 2 3 2-45 2-67 2-51 2-4 2 45 2 61 2 40 2 0 2-32 2-36 2-22 2-7 2 2 2 8 2 19 2 28 2 25 2 2 2-26 2-40 2-31 2-6 2 21 2 31 2 24 2 5 2-14 2-16 2-4 2 16 2 23 2 14 2-11 2-36 2-48 2-38 2-7 2 31 2 59 2 62 2 42 2 7 2-27 2-52 2-61 2-48 2-19 2 17 2 45 2 52 2 36 2 10 2-14 2-24 2-22 2-14 2-9 2-3 2 5 2 12 2 14 2 8 2 2 2-2 2 1 2 1 2-5 2-18 2-28 2-25 2-1 2 33 2 55 2 49 2 15 2-23 2-45 2-39 2-22 2-9 2-9 2-9 2-2 2 23 2 51 2 62 2 44 2 2 2-45 2-68 2-56 2-21 2 18 2 32 2 19 2-8 2-20 2-5 2 26 2 48 2 44 2 11 2-28 2-50 2-45 2-21 2 6 2 17 2 12 2 5 2 7 2 16 2 23 2 14 2-4 2-24 2-36 2-33 2-11 2 21 2 48 2 50 2 22 2-19 2-49 2-52 2-32 2 0 2 30 2 49 2 50 2 30 2-7 2-48 2-69 2-58 2-13 2 41 2 80 2 81 2 43 2-21 2-78 2-98 2-68 2-4 2 59 2 88 2 68 2 18 2-31 2-53 2-45 2-17 2 8 2 21 2 23 2 17 2 5 2-9 2-20 2-23 2-15 2 3 2 21 2 32 2 30 2 13 2-11 2-37 2-46 2-29 2 4 2 35 2 42 2 24 2-8 2-31 2-29 2-6 2 22 2 40 2 32 2 2 2-34 2-57 2-52 2-20 2 25 2 56 2 62 2 39 2 5 2-26 2-41 2-39 2-25 2-7 2 8 2 15 2 14 2 8 2 4 2 6 2 12 2 20 2 18 2 3 2-22 2-44 2-51 2-30 2 9 2 46 2 60 2 44 2 8 2-26 2-42 2-35 2-18 2-1 2 8 2 12 2 17 2 23 2 27 2 18 2-3 2-30 2-46 2-43 2-19 2 15 2 43 2 50 2 35 2 7 2-20 2-37 2-39 2-26 2-1 2 24 2 39 2 30 2 5 2-22 2-35 2-26 2-1 2 22 2 31 2 21 2 0 2-18 2-22 2-13 2-1 2 8 2 9 2 6 2 1 2 0 2 0 2-2 2-4 2-6 2-6 2 1 2 10 2 13 2 10 2-1 2-9 2-12 2-6 2 0 2 2 2-3 2-10 2-8 2 1 2 15 2 26 2 26 2 16 2-3 2-23 2-34 2-37 2-29 2-11 2 14 2 38 2 48 2 43 2 20 2-7 2-29 2-39 2-39 2-26 2-9 2 10 2 24 2 33 2 31 2 17 2-4 2-22 2-30 2-22 2-3 2 14 2 19 2 14 2 5 2-5 2-11 2-11 2-6 2 0 2 4 2 4 2 1 2 0 2 2 2 6 2 9 2 7 2-1 2-9 2-16 2-14 2-6 2 6 2 15 2 17 2 8 2-8 2-21 2-21 2-5 2 19 2 36 2 32 2 10 2-21 2-42 2-41 2-21 2 6 2 25 2 31 2 24 2 12 2-3 2-11 2-13 2-7 2-2 2 0 2-4 2-8 2-9 2-3 2 6 2 13 2 14 2 7 2-1 2-6 2-5 2 1 2 6 2 5 2-5 2-17 2-21 2-11 2 10 2 30"/><path d="M472 1471l4-1 4 0 4-1 4 0 4 1 4 1 4 2 4 0 4-1 4-2 4-1 4-1 4 1 4 1 4 1 4 1 4 0 4-1 4 0 4 0 4 0 4-1 4 0 4 0 4 0 4 0 4 1 4 1 4 0 4-1 4-1 4-1 4 1 4 1 4 0 4 0 4 0 4-1 4 1 4 0 4 0 4 0 4-1 4 0 4 0 4 1 4 1 4-1 4-1 4-1 4 1 4 1 4 0 4 0 4-1 4 0 4 0 4 1 4 1 4 0 4-1 4-1 4-1 4 0 4 1 4 1 4 1 4 0 4-2 4 0 4 0 4 0 4 2 4 0 4 0 4-1 4-1 4-1 4 0 4 1 4 1 4 0 4 0 4 0 4 0 4-1 4 0 4 0 4 0 4 1 4 0 4 0 4 0 4-1 4 0 4 1 4 0 4-1 4 0 4 0 4 1 4 1 4 1 4-1 4-1 4-2 4-1 4 1 4 1 4 1 4 1 4 0 4-1 4-1 4-1 4 1 4 1 4 1 4 0 4-1 4-2 4 0 4 0 4 1 4 1 4 2 4 0 4 0 4-2 4-2 4-1 4 0 4 1 4 1 4 2 4 0 4 0 4 0 4-1 4-1 4 0 4 0 4 0 4 0 4 0 4 0 4 0 4 0 4 1 4 0 4 1 4 0 4-1 4-1 4 0 4 1 4 0 4 0 4 0 4-1 4 0 4 0 4 1 4 0 4-1 4 0 4 0 4 0 4 2 4 1 4 0 4-2 4-1 4-1 4 0 4 1 4 1 4 1 4 0 4-1 4 0 4 0 4 0 4 0 4 0 4-1 4 0 4 0 4 0 4 1 4 0 4 0 4 0 4 0 4 0 4 0 4 0 4-1 4 0 4 0 4 0 4 1 4 0 4 0 4 0 4 0 4 0 4-1 4 0 4 0 4 0 4 1 4 0 4 0 4-1 4 0 4 0 4 1 4 1 4 0 4-1 4-1 4 0 4 1 4 0 4 0 4-1 4-1 4 1 4 1 4 0 4 1 4-1 4-1 4 0 4 0 4 0 4 1 4 1 4 0 4-1 4-1 4-1 4 0 4 1 4 1 4 0 4-1 4 0 4 1 4 0 4 1 4 0 4-1 4 0 4-1 4-1 4 0 4 0 4 1 4 1 4 1 4 0 4 0 4-1 4-1 4 0 4 0 4 0 4 0 4 0 4 0 4 0 4 1 4 1 4 0 4 0 4-1 4-1 4 0 4 0 4 0 4 0 4 0 4 1 4 0 4 0 4 0 4-1 4 0 4 0 4 0 4 1 4 1 4 0 4 0 4-1 4-1 4-1 4 1 4 0 4 0 4 1 4 0 4 1 4-1 4 0 4-1 4 0 4 0 4 0 4 0 4 1 4 0 4 0 4 0 4-1 4 0 4 1 4 0 4-1 4 0 4 0 4 1 4 1 4 0 4-1 4-1 4 0 4 0 4 1 4 0 4 0 4 0 4-1 4 0 4 1 4 0 4 0 4-1 4 0 4 0 4 1 4 1 4 0 4-1 4-1 4-2 4 0 4 1 4 2 4 1 4 0 4 0 4-1 4 0 4 0 4-1 4-1 4 0 4 0 4 1 4 1 4 1 4 0 4 0 4-1 4-1 4-1 4 1 4 1 4 1 4-1 4 0 4-1 4 0 4 0 4 0 4 0 4 0 4 1 4 0 2 0 2 0 2 0 2 0 2 0 2 0 2 0 2-1 2-2 2 0 2 1 2 3 2 2 2 1 2-1 2-3 2-3 2-2 2 0 2 2 2 4 2 3 2 0 2-1 2-1 2-2 2-2 2-1 2-2 2-2 2 0 2 2 2 4 2 4 2 2 2 2 2-1 2-2 2-4 2-3 2-3 2 0 2 4 2 5 2 3 2 1 2-3 2-5 2-6 2-4 2-1 2 4 2 7 2 8 2 6 2 0 2-6 2-10 2-8 2-2 2 4 2 9 2 7 2 2 2-4 2-6 2-5 2-1 2 3 2 5 2 3 2 0 2-2 2-2 2-1 2 0 2 1 2-2 2-4 2-4 2-1 2 5 2 10 2 11 2 6 2-1 2-10 2-16 2-15 2-9 2 4 2 13 2 18 2 15 2 7 2-2 2-11 2-15 2-13 2-8 2 2 2 6 2 7 2 4 2 1 2 3 2 7 2 12 2 8 2-1 2-15 2-23 2-21 2-7 2 9 2 22 2 24 2 14 2-2 2-17 2-23 2-14 2 0 2 17 2 23 2 18 2 0 2-18 2-26 2-19 2-2 2 16 2 22 2 14 2-1 2-12 2-13 2-5 2 4 2 9 2 7 2 4 2-2 2-4 2-8 2-10 2-10 2-4 2 8 2 20 2 25 2 16 2-2 2-22 2-32 2-29 2-11 2 11 2 28 2 30 2 20 2 3 2-11 2-18 2-16 2-9 2-2 2 1 2 2 2 2 2 6 2 9 2 10 2 6 2-2 2-10 2-12 2-6 2 1 2 6 2 6 2 0 2-5 2-4 2 1 2 7 2 6 2 0 2-8 2-9 2-2 2 9 2 16 2 13 2 0 2-15 2-25 2-23 2-7 2 13 2 29 2 30 2 17 2-5 2-21 2-27 2-21 2-7 2 7 2 18 2 19 2 12 2 0 2-11 2-12 2-6 2 5 2 12 2 9 2-3 2-13 2-17 2-11 2 1 2 9 2 14 2 12 2 11 2 7 2-1 2-10 2-17 2-17 2-7 2 3 2 9 2 9 2 4 2 2 2 5 2 7 2 7 2 0 2-10 2-18 2-18 2-9 2 3 2 14 2 19 2 20 2 14 2 5 2-7 2-20 2-28 2-27 2-15 2 6 2 25 2 36 2 30 2 12 2-11 2-26 2-28 2-18 2-3 2 11 2 17 2 15 2 8 2-2 2-10 2-13 2-12 2-3 2 8 2 15 2 17 2 10 2-3 2-15 2-19 2-14 2-1 2 11 2 15 2 10 2 0 2-8 2-11 2-6 2 5 2 13 2 14 2 6 2-9 2-22 2-23 2-11 2 7 2 23 2 29 2 22 2 3 2-16 2-30 2-29 2-12 2 10 2 25 2 26 2 11 2-6 2-17 2-17 2-7 2 2 2 5 2 7 2 9 2 10 2 7 2-3 2-11 2-14 2-8 2-1 2 2 2 1 2-2 2 2 2 9 2 16 2 14 2 3 2-11 2-18 2-17 2-6 2 5 2 9 2 7 2 1 2-4 2-3 2 3 2 8 2 8 2 5 2-1 2-6 2-8 2-8 2-5 2-1 2 1 2-1 2-4 2 0 2 7 2 18 2 22 2 13 2-7 2-28 2-35 2-20 2 4 2 23 2 26 2 13 2-2 2-10 2-7 2 0 2 4 2 3 2-2 2-6 2-7 2-5 2-3 2-2 2 0 2 3 2 8 2 16 2 20 2 15 2 1 2-18 2-33 2-36 2-24 2 0 2 24 2 39 2 39 2 23 2 2 2-18 2-32 2-33 2-25 2-8 2 10 2 25 2 28 2 20 2 5 2-10 2-16 2-11 2-4 2 2 2 2 2-1 2 0 2 1 2 3 2 2 2-1 2-4 2-5 2-3 2 1 2 5 2 8 2 8 2 5 2 2 2-3 2-7 2-10 2-11 2-9 2-1 2 6 2 10 2 9 2 6 2 0 2 0 2 4 2 6 2 5 2-6 2-17 2-23 2-15 2 3 2 19 2 24 2 12 2-5 2-13 2-9 2 4 2 14 2 14 2 3 2-13 2-27 2-28 2-15 2 7 2 31 2 42 2 35 2 11 2-18 2-41 2-46 2-32 2-6 2 23 2 41 2 42 2 27 2 1 2-22 2-36 2-34 2-20 2-1 2 15 2 23 2 24 2 18 2 9 2-2 2-13 2-17 2-16 2-10 2-2 2 2 2 1 2 1 2 4 2 12 2 19 2 18 2 7 2-11 2-25 2-28 2-16 2 3 2 16 2 19 2 11 2 1 2-5 2-3 2-1 2 0 2-1 2-3 2-1 2 2 2 2 2 2 2 0 2-3 2-5 2-6 2-7 2-3 2 6 2 15 2 20 2 14 2 1 2-15 2-25 2-23 2-10 2 4 2 13 2 16 2 13 2 8 2 2 2-4 2-7 2-5 2 0 2 2 2 0 2-7 2-9 2-8 2-2 2 5 2 8 2 9 2 7 2 3 2-1 2-2 2-2 2 1 2 3 2 4 2-1 2-8 2-16 2-19 2-11 2 2 2 16 2 25 2 24 2 15 2 1 2-11 2-18 2-18 2-14 2-9 2-4 2 2 2 9 2 16 2 20 2 16 2 3 2-11 2-18 2-16 2-6 2 4 2 8 2 5 2-1 2-6 2-7 2 0 2 11 2 16 2 12 2 2 2-5 2-7 2-8 2-17 2-25 2-14 2 15 2 43 2 42 2 7 2-40 2-64 2-45 2 6 2 56 2 76 2 53 2 3 2-43 2-62 2-43 2-7 2 16 2 16 2-1 2-13 2-6 2 15 2 34 2 38 2 28 2 7 2-21 2-46 2-56 2-38 2-1 2 34 2 42 2 19 2-9 2-16 2 3 2 28 2 38 2 21 2-10 2-42 2-59 2-59 2-39 2 1 2 48 2 86 2 94 2 66 2 9 2-53 2-99 2-106 2-74 2-18 2 42 2 83 2 93 2 69 2 19 2-33 2-64 2-62 2-31 2 6 2 25 2 23 2 10 2 0 2 0 2 6 2 7 2-2 2-18 2-24 2-13 2 12 2 30 2 23 2-7 2-34 2-28 2 13 2 60 2 73 2 34 2-42 2-106 2-120 2-73 2 13 2 94 2 130 2 110 2 47 2-24 2-73 2-85 2-69 2-48 2-27 2-2 2 36 2 84 2 108 2 83 2 12 2-70 2-117 2-103 2-45 2 22 2 62 2 62 2 38 2 12 2 2 2 2 2-2 2-17 2-31 2-29 2-8 2 18 2 34 2 27 2-2 2-41 2-63 2-50 2-7 2 47 2 81 2 83 2 58 2 21 2-26 2-71 2-103 2-102 2-63 2 2 2 65 2 99 2 98 2 68 2 30 2-6 2-40 2-73 2-99 2-102 2-67 2 7 2 91 2 147 2 146 2 84 2-18 2-112 2-157 2-130 2-50 2 39 2 94 2 102 2 65 2 14 2-24 2-31 2-18 2-8 2-15 2-35 2-41 2-16 2 29 2 66 2 68 2 28 2-36 2-85 2-85 2-32 2 48 2 103 2 98 2 35 2-45 2-96 2-95 2-46 2 22 2 76 2 90 2 57 2-7 2-65 2-87 2-59 2 5 2 66 2 86 2 47 2-24 2-78 2-78 2-25 2 43 2 85 2 79 2 33 2-29 2-79 2-98 2-76 2-16 2 56 2 105 2 103 2 52 2-19 2-75 2-97 2-79 2-25 2 48 2 111 2 127 2 75 2-32 2-141 2-188 2-141 2-15 2 121 2 197 2 174 2 77 2-35 2-108 2-120 2-88 2-44 2-12 2 6 2 22 2 47 2 73 2 85 2 66 2 16 2-48 2-100 2-118 2-88 2-18 2 62 2 109 2 98 2 46 2-10 2-35 2-27 2-13 2-17 2-44 2-66 2-52 2 2 2 68 2 103 2 82 2 25 2-29 2-55 2-51 2-37 2-30 2-27 2-10 2 24 2 62 2 77 2 54 2 9 2-34 2-57 2-60 2-51 2-35 2-3 2 37 2 71 2 72 2 35 2-18 2-52 2-49 2-18 2 20 2 38 2 27 2-4 2-34 2-48 2-34 2-5 2 25 2 40 2 32 2 12 2-3 2 0 2 13 2 23 2 13 2-17 2-53 2-73 2-62 2-24 2 25 2 61 2 79 2 76 2 60 2 30 2-12 2-64 2-108 2-119 2-81 2-8 2 66 2 107 2 98 2 51 2-1 2-30 2-26 2 0 2 15 2 2 2-38 2-74 2-83 2-53 2 2 2 59 2 97 2 105 2 76 2 25 2-30 2-66 2-76 2-64 2-47 2-27 2-7 2 19 2 44 2 62 2 66 2 54 2 27 2-10 2-48 2-73 2-68 2-35 2 4 2 23 2 10 2-11 2-6 2 38 2 93 2 112 2 63 2-34 2-127 2-160 2-118 2-31 2 52 2 100 2 105 2 78 2 42 2 6 2-25 2-48 2-59 2-53 2-36 2-14 2-3 2 2 2 13 2 38 2 66 2 77 2 49 2-8 2-62 2-87 2-73 2-32 2 11 2 36 2 40 2 25 2 8 2-2 2-2 2 6 2 20 2 32 2 26 2-3 2-45 2-73 2-65 2-26 2 21 2 46 2 41 2 22 2 10 2 21 2 38 2 38 2 2 2-51 2-86 2-79 2-35 2 16 2 43 2 40 2 29 2 32 2 52 2 65 2 37 2-34 2-113 2-150 2-119 2-23 2 91 2 163 2 159 2 79 2-29 2-111 2-129 2-89 2-21 2 38 2 66 2 66 2 48 2 23 2-6 2-35 2-59 2-66 2-46 2-6 2 43 2 75 2 76 2 50 2 8 2-31 2-60 2-73 2-63 2-24 2 33 2 76 2 74 2 23 2-45 2-84 2-61 2 11 2 86 2 111 2 68 2-20 2-100 2-124 2-80 2 1 2 68 2 90 2 66 2 22 2-17 2-36 2-39 2-34 2-21 2-4 2 14 2 30 2 34 2 24 2 4 2-17 2-25 2-16 2-2 2 5 2 3 2-5 2-8 2-4 2 1 2 6 2 10 2 12 2 12 2 7 2 0 2-5 2-4 2-3 2-5 2-12 2-19 2-24 2-22 2-8 2 16 2 44 2 61 2 56 2 21 2-25 2-60 2-64 2-40 2-12 2 5 2 8 2 7 2 17 2 32 2 42 2 36 2 19 2 3 2-9 2-21 2-37 2-50 2-51 2-38 2-22 2-1 2 29 2 69 2 107 2 112 2 68 2-16 2-102 2-153 2-143 2-81 2 8 2 91 2 133 2 125 2 74 2 2 2-67 2-108 2-110 2-62 2 17 2 92 2 121 2 85 2 3 2-75 2-107 2-82 2-23 2 34 2 63 2 62 2 37 2 1 2-31 2-42 2-27 2 4 2 29 2 32 2 10 2-17 2-27 2-14 2 5 2 7 2-11 2-28 2-22 2 9 2 43 2 56 2 42 2 13 2-18 2-38 2-47 2-44 2-31 2-12 2 10 2 32 2 47 2 46 2 32 2 10 2-9 2-21 2-31 2-43 2-54 2-48 2-13 2 48 2 106 2 120 2 67 2-33 2-127 2-157 2-98 2 13 2 111 2 137 2 86 2-4 2-75 2-89 2-44 2 24 2 70 2 63 2 8 2-61 2-96 2-71 2-5 2 64 2 94 2 80 2 37 2-13 2-51 2-71 2-68 2-40 2 5 2 48 2 69 2 56 2 18 2-20 2-42 2-41 2-28 2-11 2 0 2 11 2 26 2 38 2 39 2 22 2-7 2-32 2-43 2-38 2-26 2-12 2 3 2 23 2 46 2 60 2 48 2 12 2-37 2-71 2-72 2-42 2 3 2 41 2 58 2 53 2 31 2 3 2-23 2-36 2-38 2-29 2-12 2 6 2 22 2 27 2 17 2 2 2-10 2-6 2 10 2 25 2 19 2-8 2-41 2-57 2-39 2-2 2 36 2 56 2 53 2 36 2 7 2-26 2-55 2-67 2-46 2 1 2 49 2 70 2 50 2 2 2-42 2-55 2-36 2 0 2 27 2 37 2 30 2 18 2 11 2 1 2-18 2-44 2-65 2-60 2-19 2 40 2 90 2 100 2 66 2 2 2-63 2-102 2-94 2-47 2 21 2 74 2 89 2 63 2 12 2-35 2-58 2-55 2-31 2-2 2 22 2 36 2 33 2 22 2 8 2-4 2-13 2-22 2-32 2-35 2-23 2 5 2 40 2 62 2 56 2 24 2-21 2-58 2-71 2-53 2-14 2 31 2 63 2 66 2 39 2-4 2-43 2-57 2-42 2-9 2 21 2 34 2 32 2 18 2 0 2-15 2-23 2-20 2-13 2-2 2 8 2 17 2 22 2 19 2 4 2-15 2-28 2-24 2-7 2 12 2 23 2 22 2 9 2-7 2-16 2-14 2-1 2 9 2 8 2-6 2-20 2-22 2-4 2 21 2 37 2 36 2 15 2-11 2-31 2-38 2-30 2-11 2 9 2 23 2 28 2 21 2 8 2-8 2-18 2-17 2-6 2 6 2 13 2 12 2 5 2-2 2-9 2-15 2-19 2-16 2-3 2 16 2 29 2 29 2 16 2-2 2-14 2-19 2-17 2-16 2-14 2-8 2 6 2 23 2 31 2 24 2 5 2-15 2-24 2-20 2-9 2 1 2 8 2 10 2 7 2 2 2-4 2-7 2-5 2 5 2 13 2 16 2 8 2-7 2-21 2-24 2-16 2-2 2 13 2 24 2 23 2 15 2-1 2-15 2-23 2-21 2-12 2 5 2 20 2 28 2 22 2 4 2-19 2-33 2-31 2-14 2 9 2 26 2 34 2 28 2 13 2-9 2-29 2-35 2-27 2-6 2 18 2 31 2 27 2 11 2-12 2-26 2-26 2-9 2 12 2 29 2 27 2 8 2-14 2-28 2-24 2-6 2 9 2 16 2 11 2 3 2 1 2 1 2 2 2 1 2-5 2-5 2-2 2 1 2 0 2-9 2-17 2-14 2 3 2 25 2 34 2 25 2 1 2-21 2-28 2-22 2-7 2 4 2 10 2 9 2 10 2 8 2 5 2-5 2-17 2-19 2-9 2 14 2 33 2 37 2 16 2-18 2-45 2-48 2-28 2 5 2 28 2 36 2 26 2 11 2-2 2-8 2-10 2-7 2-3 2 1 2-1 2-9 2-16 2-17 2-7 2 13 2 30 2 35 2 23 2 1 2-21 2-32 2-31 2-20 2-3 2 15 2 25 2 25 2 16 2 3 2-9 2-19 2-22 2-17 2-3 2 15 2 28 2 29 2 16 2-8 2-29 2-41 2-33 2-7 2 24 2 45 2 45 2 20 2-14 2-42 2-47 2-28 2 7 2 36 2 46 2 30 2-2 2-31 2-42 2-30 2-4 2 23 2 37 2 32 2 10 2-14 2-29 2-28 2-15 2 2 2 15 2 21 2 16 2 6 2-5 2-9 2-8 2-5 2-4 2-6 2-7 2-1 2 10 2 21 2 25 2 15 2-5 2-28 2-42 2-35 2-12 2 20 2 44 2 49 2 36 2 5 2-29 2-53 2-54 2-31 2 9 2 45 2 56 2 39 2 4 2-27 2-42 2-33 2-12 2 11 2 25 2 25 2 16 2 1 2-15 2-20 2-15 2-4 2 6 2 10 2 9 2 7 2 4 2 1 2-2 2-7 2-9 2-8 2-5 2 0 2 4 2 8 2 8 2 6 2 2 2-1 2-1"/><path d="M472 1658l4 0 4 0 4 0 4 0 4 0 4 1 4 0 4-1 4 0 4 0 4 0 4-1 4 0 4 0 4 0 4 1 4 2 4 0 4-1 4-1 4-2 4 0 4 1 4 1 4 1 4 0 4 0 4 0 4 0 4-1 4 0 4-1 4 0 4 0 4 0 4 0 4 1 4 1 4 1 4-1 4 0 4-1 4-1 4 0 4 1 4 0 4 0 4 0 4 0 4 0 4 0 4 0 4 0 4 0 4 0 4 1 4 0 4 0 4-1 4-1 4 0 4 1 4 1 4 0 4 0 4-1 4-1 4-1 4 0 4 1 4 2 4 1 4 0 4 0 4-1 4-1 4-1 4-1 4 0 4 1 4 1 4 0 4 1 4 0 4 0 4-1 4 0 4 0 4 0 4 0 4 0 4 0 4-1 4 1 4 0 4 1 4 0 4 0 4-1 4 0 4-1 4 0 4 0 4 1 4 0 4 1 4 0 4 0 4-1 4 0 4 0 4 0 4 0 4 0 4 0 4 0 4 0 4 0 4 0 4 0 4 0 4 0 4 0 4 0 4 1 4 0 4 0 4-1 4-1 4 0 4-1 4 1 4 1 4 1 4 1 4-1 4 0 4-1 4-1 4 0 4-1 4 1 4 1 4 1 4 0 4 0 4-1 4 0 4-1 4 0 4 0 4 0 4 1 4 1 4 0 4 0 4-1 4 0 4 0 4 0 4 0 4 0 4 0 4 0 4 0 4 0 4-1 4 1 4 0 4 1 4 0 4 0 4-1 4-1 4 0 4 1 4 1 4 0 4-1 4-1 4 0 4 0 4 1 4 0 4 0 4 1 4 0 4 0 4 0 4-1 4 0 4 0 4-1 4 0 4 0 4 0 4 1 4 0 4 1 4 0 4 0 4 0 4 0 4-1 4-1 4-1 4 0 4 1 4 2 4 0 4 0 4-1 4 0 4 0 4 0 4 0 4 0 4 0 4 0 4 0 4 0 4 1 4 0 4-1 4-1 4-1 4 0 4 1 4 1 4 2 4 0 4 0 4-1 4-1 4-1 4 0 4 0 4 1 4 0 4 1 4 0 4-1 4-1 4 0 4 0 4 1 4 1 4 0 4 0 4 0 4 0 4-1 4-1 4 0 4 0 4 1 4 0 4-1 4 0 4 1 4 1 4 0 4 0 4 0 4-1 4 0 4 0 4-1 4 0 4 0 4 1 4 0 4 0 4 0 4 0 4 0 4 0 4 0 4 1 4 0 4-1 4-1 4 0 4 0 4 1 4 1 4 0 4 0 4 0 4-1 4 0 4 0 4 0 4 0 4 0 4 0 4 0 4 0 4-1 4 0 4 1 4 1 4 1 4 0 4-1 4-1 4-1 4-1 4 0 4 1 4 2 4 1 4-1 4-1 4-1 4 0 4 0 4 1 4 1 4 0 4 0 4-1 4-1 4 0 4 0 4 0 4 0 4 1 4 0 4 1 4 0 4 0 4-1 4 0 4 0 4 0 4-1 4 0 4 0 4 0 4 1 4 2 4 0 4-1 4-2 4-1 4 0 4 1 4 2 4 1 4 0 4-1 4-2 4 0 4 0 4 1 4 0 4 1 4 0 4-1 4 0 4-1 4 0 4 0 4 0 4 1 4 1 4 0 4 0 4-1 4 0 4 0 4 0 4 0 4-1 4 0 4 1 4 0 4 0 2 0 2 0 2 0 2 0 2 0 2-1 2 1 2 0 2 0 2 0 2 1 2 0 2-1 2-2 2-1 2 0 2 2 2 3 2 2 2 2 2-1 2-2 2-2 2-2 2-2 2-1 2-1 2 0 2 1 2 3 2 2 2 1 2-1 2-2 2-1 2 1 2 3 2 5 2 3 2-2 2-6 2-8 2-7 2-1 2 4 2 8 2 8 2 6 2 2 2-3 2-6 2-7 2-6 2-3 2 0 2 2 2 5 2 7 2 6 2 4 2 0 2-4 2-9 2-11 2-8 2-2 2 4 2 9 2 11 2 11 2 8 2 4 2-4 2-10 2-15 2-14 2-8 2-1 2 7 2 11 2 14 2 11 2 4 2-5 2-9 2-10 2-6 2-2 2 0 2 1 2 2 2 5 2 7 2 7 2 3 2-1 2-3 2-3 2-3 2-5 2-7 2-9 2-4 2 3 2 9 2 12 2 9 2 3 2-1 2-4 2-6 2-4 2-2 2 2 2 2 2-1 2-6 2-11 2-9 2 0 2 11 2 20 2 22 2 17 2 4 2-14 2-29 2-37 2-30 2-8 2 19 2 40 2 44 2 28 2 2 2-21 2-31 2-27 2-17 2-6 2 1 2 7 2 11 2 16 2 18 2 16 2 6 2-5 2-16 2-18 2-14 2-5 2 2 2 6 2 8 2 6 2 4 2 2 2 1 2 1 2-4 2-8 2-11 2-4 2 7 2 17 2 20 2 9 2-6 2-23 2-28 2-22 2-5 2 14 2 27 2 31 2 21 2 6 2-10 2-23 2-29 2-24 2-13 2 3 2 20 2 30 2 27 2 16 2-2 2-17 2-26 2-25 2-14 2 2 2 15 2 21 2 17 2 7 2-4 2-13 2-17 2-14 2-6 2 4 2 16 2 22 2 20 2 10 2-8 2-21 2-27 2-20 2-6 2 10 2 18 2 17 2 8 2 0 2-3 2 1 2 3 2-1 2-10 2-19 2-15 2 0 2 18 2 24 2 15 2-3 2-17 2-17 2-5 2 9 2 13 2 6 2-6 2-15 2-11 2 1 2 13 2 16 2 8 2-7 2-15 2-11 2 3 2 15 2 16 2 2 2-16 2-25 2-16 2 3 2 23 2 29 2 20 2 0 2-18 2-28 2-25 2-10 2 7 2 21 2 23 2 14 2 3 2-4 2-6 2-6 2-10 2-16 2-17 2-6 2 12 2 24 2 24 2 10 2-6 2-14 2-13 2-5 2 1 2 3 2 0 2-4 2-7 2-4 2 0 2 9 2 15 2 16 2 9 2-2 2-15 2-21 2-19 2-9 2 3 2 12 2 16 2 15 2 11 2 5 2 0 2-5 2-11 2-14 2-16 2-15 2-7 2 4 2 15 2 21 2 19 2 11 2 2 2-4 2-4 2-6 2-11 2-19 2-22 2-13 2 1 2 18 2 27 2 28 2 19 2 6 2-11 2-25 2-31 2-27 2-12 2 9 2 28 2 33 2 24 2 4 2-17 2-25 2-23 2-9 2 7 2 16 2 16 2 7 2-3 2-9 2-10 2-3 2 4 2 6 2 4 2 1 2-1 2 0 2 0 2-1 2-4 2-6 2-6 2-6 2-5 2-1 2 11 2 24 2 29 2 19 2-4 2-30 2-44 2-37 2-15 2 14 2 34 2 39 2 28 2 7 2-10 2-19 2-19 2-14 2-9 2-7 2-4 2 3 2 12 2 20 2 21 2 14 2-1 2-16 2-24 2-23 2-13 2 1 2 16 2 24 2 24 2 12 2-4 2-20 2-26 2-21 2-5 2 10 2 22 2 21 2 12 2-2 2-12 2-14 2-8 2 1 2 8 2 7 2-1 2-13 2-20 2-15 2 2 2 26 2 38 2 30 2 6 2-23 2-37 2-31 2-12 2 7 2 18 2 16 2 8 2 0 2-4 2-1 2 4 2 10 2 11 2 2 2-12 2-26 2-27 2-15 2 6 2 25 2 30 2 22 2 5 2-10 2-15 2-12 2-7 2-2 2 0 2 1 2 5 2 5 2 4 2-1 2-6 2-8 2-5 2 0 2 5 2 8 2 10 2 9 2 6 2 1 2-8 2-16 2-19 2-13 2-1 2 11 2 17 2 13 2 6 2 1 2-2 2 0 2-1 2-4 2-10 2-15 2-12 2-2 2 12 2 21 2 19 2 8 2-6 2-14 2-12 2-7 2-2 2 0 2 2 2 2 2 2 2 1 2-2 2 0 2 5 2 11 2 14 2 9 2-2 2-15 2-23 2-23 2-17 2-3 2 13 2 26 2 32 2 26 2 12 2-10 2-26 2-33 2-27 2-12 2 5 2 17 2 25 2 23 2 16 2 4 2-10 2-19 2-24 2-20 2-10 2 4 2 20 2 26 2 21 2 7 2-6 2-13 2-14 2-14 2-12 2-6 2 1 2 22 2 41 2 36 2 2 2-49 2-82 2-70 2-11 2 65 2 114 2 106 2 38 2-59 2-109 2-102 2-42 2 32 2 79 2 74 2 27 2-32 2-63 2-55 2-20 2 19 2 44 2 47 2 38 2 23 2 8 2-11 2-36 2-67 2-85 2-63 2 5 2 95 2 147 2 117 2 9 2-112 2-165 2-117 2 0 2 107 2 144 2 94 2-2 2-81 2-100 2-53 2 17 2 61 2 53 2 4 2-47 2-71 2-56 2-14 2 36 2 77 2 98 2 88 2 43 2-21 2-83 2-116 2-109 2-63 2 2 2 55 2 74 2 57 2 29 2 11 2 12 2 19 2 14 2-1 2-20 2-31 2-38 2-40 2-34 2-22 2 1 2 24 2 37 2 34 2 21 2 12 2 16 2 26 2 23 2-6 2-47 2-71 2-56 2-9 2 38 2 53 2 27 2-22 2-59 2-56 2 3 2 88 2 145 2 127 2 28 2-108 2-208 2-216 2-122 2 40 2 193 2 265 2 212 2 54 2-129 2-238 2-221 2-97 2 49 2 138 2 135 2 72 2 7 2-21 2-16 2-10 2-24 2-45 2-51 2-31 2 8 2 44 2 61 2 54 2 27 2-12 2-55 2-86 2-86 2-43 2 37 2 114 2 141 2 95 2 1 2-84 2-113 2-83 2-32 2-2 2-2 2-5 2 10 2 49 2 91 2 110 2 88 2 21 2-83 2-180 2-216 2-148 2 4 2 171 2 259 2 229 2 105 2-43 2-154 2-206 2-201 2-146 2-42 2 94 2 214 2 258 2 194 2 40 2-131 2-234 2-224 2-114 2 27 2 127 2 150 2 107 2 41 2-12 2-37 2-43 2-48 2-58 2-64 2-49 2-5 2 55 2 101 2 110 2 75 2 9 2-62 2-109 2-111 2-62 2 19 2 91 2 114 2 65 2-28 2-112 2-126 2-58 2 54 2 142 2 152 2 79 2-35 2-125 2-149 2-104 2-23 2 53 2 97 2 101 2 71 2 25 2-26 2-68 2-84 2-68 2-24 2 29 2 65 2 68 2 43 2 9 2-20 2-40 2-51 2-53 2-35 2 5 2 54 2 86 2 81 2 35 2-33 2-90 2-106 2-74 2-11 2 55 2 95 2 94 2 53 2-10 2-64 2-82 2-55 2 3 2 53 2 62 2 24 2-37 2-79 2-70 2-12 2 61 2 101 2 87 2 31 2-30 2-64 2-61 2-33 2-13 2-14 2-31 2-32 2 7 2 75 2 129 2 117 2 38 2-66 2-135 2-134 2-75 2-3 2 47 2 68 2 66 2 55 2 34 2 7 2-21 2-37 2-33 2-20 2-8 2-5 2-9 2-13 2-15 2-9 2 7 2 34 2 59 2 62 2 34 2-17 2-59 2-70 2-48 2-10 2 22 2 35 2 25 2 1 2-22 2-29 2-10 2 25 2 57 2 66 2 43 2-6 2-62 2-99 2-101 2-60 2 13 2 92 2 138 2 120 2 40 2-58 2-122 2-120 2-62 2 14 2 71 2 87 2 55 2 1 2-43 2-50 2-20 2 19 2 35 2 16 2-19 2-35 2-17 2 18 2 38 2 21 2-15 2-37 2-31 2-7 2 11 2 17 2 20 2 30 2 43 2 37 2 6 2-46 2-89 2-99 2-65 2 0 2 70 2 118 2 123 2 79 2 1 2-79 2-123 2-112 2-54 2 15 2 60 2 73 2 56 2 22 2-8 2-19 2-6 2 16 2 20 2-10 2-55 2-81 2-61 2-4 2 57 2 89 2 77 2 29 2-24 2-54 2-41 2 1 2 40 2 44 2 1 2-64 2-102 2-82 2-6 2 78 2 122 2 99 2 32 2-37 2-71 2-60 2-22 2 14 2 27 2 14 2-11 2-30 2-31 2-14 2 11 2 32 2 39 2 29 2 14 2 0 2-7 2-9 2-15 2-26 2-32 2-26 2-10 2 6 2 17 2 29 2 45 2 53 2 33 2-20 2-79 2-98 2-56 2 27 2 97 2 112 2 59 2-26 2-92 2-111 2-77 2-15 2 53 2 98 2 103 2 66 2 0 2-63 2-95 2-85 2-43 2 10 2 55 2 75 2 69 2 37 2-10 2-53 2-68 2-51 2-15 2 14 2 28 2 31 2 32 2 25 2 3 2-26 2-46 2-34 2 13 2 68 2 87 2 43 2-50 2-138 2-162 2-95 2 35 2 164 2 222 2 174 2 46 2-98 2-190 2-198 2-135 2-38 2 56 2 130 2 170 2 159 2 92 2-18 2-125 2-184 2-167 2-83 2 28 2 117 2 154 2 125 2 54 2-26 2-81 2-93 2-69 2-31 2 2 2 24 2 35 2 39 2 33 2 17 2-2 2-17 2-20 2-12 2 0 2 6 2 3 2-9 2-18 2-20 2-9 2 5 2 19 2 26 2 22 2 13 2 3 2-2 2-4 2-10 2-21 2-29 2-24 2-7 2 17 2 31 2 30 2 16 2-5 2-26 2-36 2-28 2-2 2 38 2 68 2 65 2 25 2-37 2-87 2-100 2-69 2-10 2 48 2 86 2 92 2 64 2 13 2-39 2-67 2-60 2-28 2 10 2 31 2 28 2 7 2-16 2-30 2-24 2-7 2 9 2 17 2 23 2 33 2 51 2 58 2 32 2-29 2-98 2-136 2-113 2-37 2 49 2 109 2 122 2 101 2 65 2 29 2-15 2-77 2-136 2-157 2-110 2-8 2 98 2 151 2 130 2 64 2-2 2-39 2-51 2-50 2-50 2-47 2-35 2-8 2 29 2 61 2 71 2 48 2-1 2-45 2-60 2-37 2 4 2 35 2 34 2 9 2-25 2-40 2-25 2 14 2 51 2 59 2 28 2-23 2-63 2-65 2-34 2 7 2 35 2 39 2 30 2 17 2 8 2 3 2-4 2-11 2-20 2-26 2-28 2-27 2-14 2 12 2 44 2 66 2 55 2 15 2-34 2-64 2-57 2-25 2 7 2 24 2 22 2 9 2 1 2 4 2 19 2 29 2 23 2-4 2-37 2-58 2-47 2-9 2 33 2 56 2 46 2 12 2-24 2-43 2-38 2-14 2 16 2 42 2 50 2 35 2-1 2-38 2-56 2-49 2-24 2 6 2 27 2 33 2 29 2 18 2 8 2 5 2 7 2 9 2 1 2-22 2-52 2-69 2-59 2-12 2 53 2 105 2 111 2 67 2-9 2-77 2-104 2-87 2-41 2 10 2 48 2 64 2 59 2 34 2 2 2-27 2-39 2-33 2-15 2 8 2 19 2 15 2-2 2-20 2-23 2-10 2 16 2 37 2 41 2 26 2-5 2-35 2-49 2-43 2-16 2 15 2 35 2 33 2 21 2 5 2-2 2-5 2-7 2-11 2-16 2-17 2-16 2-9 2 6 2 26 2 41 2 40 2 19 2-19 2-50 2-60 2-40 2-1 2 33 2 48 2 42 2 22 2 0 2-19 2-28 2-29 2-17 2 0 2 16 2 20 2 13 2-2 2-11 2-11 2-6 2 2 2 8 2 9 2 6 2 1 2-1 2 1 2 5 2 6 2-2 2-16 2-29 2-28 2-12 2 17 2 43 2 50 2 33 2-3 2-39 2-54 2-40 2-6 2 27 2 42 2 31 2 6 2-19 2-31 2-25 2-5 2 15 2 29 2 26 2 12 2-7 2-21 2-27 2-23 2-10 2 7 2 21 2 26 2 16 2 0 2-13 2-14 2-4 2 8 2 13 2 5 2-9 2-21 2-22 2-11 2 6 2 19 2 24 2 20 2 13 2 3 2-8 2-20 2-27 2-26 2-15 2 4 2 21 2 32 2 28 2 15 2-3 2-18 2-19 2-13 2-5 2-5 2-12 2-14 2-2 2 22 2 40 2 38 2 15 2-16 2-39 2-43 2-28 2-3 2 19 2 32 2 28 2 14 2-5 2-17 2-17 2-10 2 1 2 8 2 9 2 4 2-2 2-6 2-4 2 4 2 9 2 8 2 0 2-13 2-22 2-23 2-10 2 12 2 33 2 42 2 32 2 3 2-28 2-45 2-38 2-14 2 11 2 22 2 19 2 9 2-1 2-5 2-3 2 2 2 8 2 13 2 14 2 8 2-5 2-25 2-40 2-41 2-24 2 10 2 44 2 62 2 57 2 29 2-7 2-41 2-62 2-61 2-38 2-3 2 31 2 48 2 42 2 26 2 10 2 2 2-2 2-11 2-25 2-37 2-36 2-17 2 12 2 33 2 37 2 23 2 3 2-12 2-18 2-15 2-4 2 6 2 13 2 12 2 3 2-10 2-20 2-23 2-11 2 9 2 27 2 30 2 16 2-9 2-27 2-26 2-9 2 13 2 24 2 18 2 5 2-8 2-12 2-11 2-9 2-10 2-6 2 3 2 13 2 17 2 12 2 0 2-10 2-12 2-6 2 4 2 11 2 11 2 7 2-3 2-12 2-20 2-17 2-6 2 9 2 21 2 22 2 13 2-4 2-17 2-23 2-15 2 2 2 18 2 26 2 22 2 6 2-12 2-30 2-35 2-25 2-1 2 27 2 42 2 34 2 5 2-24 2-36 2-24 2 3 2 27 2 32 2 17 2-7 2-27 2-31 2-26 2-11 2 6 2 26 2 42 2 43 2 23 2-13 2-48 2-60 2-40 2-1 2 35 2 51 2 39 2 10 2-16 2-30 2-24 2-7 2 6 2 11 2 5 2-3 2-5 2-3 2 2 2 4 2 4 2 5 2 5 2 6 2 4 2-1 2-8 2-13 2-13 2-7 2 1 2 5 2 5 2 5 2 6 2 8 2 8 2 3 2-2 2-5 2-4 2-1 2-3 2-7 2-12 2-13 2-9 2 2 2 12 2 23 2 27 2 22 2 11 2-8 2-26 2-33 2-31 2-18 2 0 2 14 2 24 2 24 2 18 2 7 2-1 2-4 2-4 2-3 2-6 2-10 2-16 2-18 2-16 2-6 2 10 2 29 2 40 2 39 2 17 2-13 2-40 2-51 2-40 2-16 2 11 2 31 2 39 2 33 2 15 2-6 2-21 2-24 2-13 2 3 2 11 2 9 2 0 2-11 2-15 2-13 2-5 2 5 2 14 2 19 2 20 2 15 2 7 2-5 2-15 2-25 2-29 2-26 2-12 2 9 2 31 2 43 2 38 2 20 2-6 2-25 2-37 2-37 2-30 2-15 2 4 2 27 2 43 2 47 2 34 2 6 2-26 2-46 2-50 2-32 2-4 2 24 2 37 2 33 2 14 2-5 2-16 2-13 2-3 2 6 2 7 2 1 2-9 2-15"/><path d="M472 1661l4 1 4 0 4 0 4 0 4-1 4-1 4 0 4 0 4 0 4 1 4 1 4 0 4 0 4-1 4-1 4-1 4 0 4 2 4 1 4 2 4-1 4-1 4-1 4-2 4 0 4 0 4 1 4 1 4 1 4-1 4 0 4 0 4 1 4-1 4 0 4 0 4 0 4 0 4 0 4 0 4 0 4 0 4-1 4 0 4 0 4 1 4 1 4 0 4 0 4 0 4-1 4 0 4 0 4 0 4 0 4 0 4 0 4 0 4-1 4 1 4 1 4 0 4-1 4 0 4-1 4 0 4 1 4 0 4 1 4 0 4 0 4-1 4-1 4 0 4 1 4 1 4-1 4 0 4-1 4 0 4 1 4 1 4 0 4 0 4-2 4 0 4 0 4 1 4 1 4 0 4-1 4-1 4 0 4 0 4 1 4 0 4 1 4 0 4-1 4 0 4 0 4 0 4 0 4 0 4 0 4 0 4 0 4 0 4 0 4 1 4 0 4 0 4-1 4-1 4-1 4 0 4 1 4 1 4 1 4 1 4 0 4-1 4-1 4-1 4 0 4 0 4 1 4 1 4 0 4-1 4-1 4 0 4 0 4 1 4 1 4 1 4-1 4-1 4-1 4-1 4 1 4 1 4 1 4 0 4-1 4 0 4 0 4 0 4 0 4 0 4-1 4-1 4 1 4 1 4 2 4 0 4-1 4-1 4-1 4 0 4 0 4 0 4 1 4 1 4 0 4-1 4 0 4-1 4 0 4 1 4 0 4 0 4 0 4 0 4 0 4 0 4-1 4 0 4 1 4 1 4 0 4 0 4-1 4-1 4 0 4 1 4 0 4 1 4 0 4-1 4 0 4 0 4-1 4 0 4 1 4 0 4 1 4 0 4-1 4-1 4 0 4 0 4 1 4 1 4 0 4-1 4 0 4-1 4 0 4 1 4 1 4 0 4 0 4-1 4 0 4-1 4 0 4 1 4 0 4 1 4 0 4-1 4-1 4 0 4 0 4 1 4 1 4 1 4-1 4-1 4-1 4 0 4 0 4 1 4 1 4 0 4 0 4-1 4 0 4-1 4 0 4 0 4 1 4 0 4 1 4 0 4 0 4-1 4-1 4-1 4 0 4 1 4 1 4 1 4 0 4 1 4-1 4 0 4-1 4-1 4 0 4 0 4 0 4 1 4 0 4 0 4 0 4 0 4 1 4 0 4 0 4-1 4-1 4 0 4 0 4 1 4 1 4 0 4 0 4 0 4-2 4-1 4 0 4 1 4 2 4 2 4 0 4-2 4-1 4-2 4 0 4 1 4 1 4 0 4 1 4 0 4-1 4 0 4 0 4 0 4-1 4 0 4 0 4 1 4 1 4 0 4 0 4-1 4-1 4 0 4 0 4 1 4 0 4 0 4 0 4 1 4 0 4-1 4 0 4 0 4 0 4 0 4 0 4-1 4 0 4 1 4 1 4 1 4 0 4-1 4-1 4-1 4-1 4 1 4 1 4 0 4 1 4-1 4 1 4 0 4 0 4 0 4-1 4-1 4 0 4 0 4 0 4 1 4 0 4 0 4 0 4 1 4 0 4 0 4-1 4 0 4-1 4 0 4 1 4 0 4 0 4 0 4 0 4 0 4 0 4 0 4 0 4 0 4 0 4 0 4 0 4 0 4 0 4 0 4 1 4 0 4 0 4 0 4-1 2 0 2-1 2 0 2 0 2 0 2 0 2 0 2 1 2 0 2 0 2 0 2-1 2-1 2 1 2 2 2 2 2 1 2-1 2-2 2-3 2-2 2 1 2 2 2 3 2 3 2 0 2-1 2-3 2-4 2-3 2-1 2 2 2 4 2 4 2 3 2-1 2-3 2-4 2-2 2-1 2 2 2 3 2 3 2 1 2-1 2-2 2-3 2-1 2 1 2 2 2 3 2 0 2-2 2-3 2-3 2 1 2 2 2 4 2 3 2 1 2-3 2-5 2-5 2-2 2 4 2 7 2 6 2 2 2-6 2-9 2-7 2 3 2 13 2 14 2 7 2-8 2-23 2-25 2-12 2 8 2 25 2 30 2 19 2 0 2-15 2-20 2-15 2-3 2 4 2 7 2 2 2-2 2-6 2-5 2-2 2 4 2 10 2 13 2 13 2 7 2-5 2-17 2-22 2-15 2-1 2 13 2 19 2 13 2 1 2-11 2-13 2-3 2 8 2 12 2 6 2-7 2-14 2-13 2-3 2 10 2 18 2 16 2 3 2-12 2-22 2-19 2-4 2 12 2 22 2 19 2 7 2-9 2-19 2-19 2-7 2 7 2 19 2 19 2 9 2-7 2-18 2-21 2-13 2 0 2 14 2 20 2 19 2 10 2-6 2-20 2-23 2-15 2 2 2 16 2 22 2 12 2-2 2-13 2-14 2-3 2 9 2 13 2 8 2-1 2-9 2-14 2-15 2-13 2-6 2 8 2 23 2 33 2 27 2 6 2-20 2-38 2-34 2-15 2 11 2 27 2 26 2 13 2-4 2-16 2-18 2-8 2 2 2 10 2 11 2 6 2-1 2-4 2-4 2-5 2-6 2-5 2 2 2 11 2 18 2 15 2 2 2-18 2-30 2-28 2-10 2 12 2 28 2 31 2 22 2 8 2-4 2-16 2-26 2-33 2-28 2-8 2 20 2 42 2 46 2 27 2-6 2-35 2-45 2-32 2-4 2 24 2 34 2 25 2 4 2-15 2-23 2-17 2-4 2 10 2 18 2 17 2 8 2-4 2-16 2-19 2-15 2-6 2 6 2 16 2 20 2 16 2 7 2-6 2-18 2-21 2-16 2-3 2 12 2 23 2 22 2 10 2-8 2-25 2-29 2-19 2 0 2 20 2 30 2 28 2 17 2 0 2-16 2-29 2-33 2-25 2-3 2 21 2 34 2 32 2 15 2-7 2-23 2-24 2-12 2 1 2 9 2 8 2 2 2-3 2-2 2 3 2 6 2 4 2 0 2-4 2-4 2-1 2 1 2-2 2-5 2-3 2 4 2 12 2 12 2 3 2-11 2-17 2-13 2 0 2 11 2 13 2 8 2-1 2-7 2-8 2-5 2-1 2 1 2 6 2 7 2 8 2 5 2 0 2-2 2-7 2-13 2-17 2-16 2-6 2 10 2 28 2 36 2 28 2 9 2-15 2-36 2-42 2-33 2-11 2 16 2 37 2 42 2 28 2 2 2-22 2-34 2-30 2-14 2 9 2 23 2 26 2 18 2 3 2-10 2-17 2-15 2-9 2 1 2 7 2 8 2 1 2-7 2-12 2-5 2 7 2 21 2 28 2 20 2 1 2-20 2-36 2-35 2-21 2 2 2 23 2 35 2 31 2 16 2-5 2-23 2-30 2-23 2-5 2 14 2 25 2 23 2 12 2-4 2-18 2-21 2-18 2-8 2 1 2 9 2 14 2 17 2 17 2 12 2 2 2-10 2-19 2-22 2-17 2-7 2 5 2 13 2 15 2 12 2 7 2 3 2 1 2-4 2-10 2-16 2-16 2-6 2 12 2 27 2 29 2 15 2-10 2-32 2-37 2-25 2-1 2 19 2 28 2 23 2 14 2 6 2-1 2-7 2-16 2-23 2-23 2-12 2 8 2 25 2 33 2 24 2 3 2-20 2-31 2-28 2-12 2 9 2 23 2 27 2 20 2 5 2-11 2-23 2-24 2-17 2 0 2 13 2 18 2 14 2 5 2-1 2-3 2 0 2 1 2 1 2-4 2-12 2-19 2-14 2-1 2 18 2 30 2 28 2 11 2-11 2-29 2-34 2-23 2-3 2 20 2 32 2 30 2 14 2-7 2-23 2-27 2-19 2-6 2 6 2 13 2 15 2 18 2 17 2 10 2-2 2-19 2-30 2-30 2-17 2 1 2 19 2 30 2 31 2 23 2 7 2-11 2-25 2-29 2-24 2-11 2 2 2 11 2 19 2 22 2 21 2 13 2-4 2-18 2-27 2-21 2-8 2 6 2 14 2 15 2 11 2 4 2-2 2-5 2-5 2-4 2-3 2-3 2-3 2-2 2 3 2 5 2 6 2 4 2 2 2-1 2 0 2 0 2-1 2-5 2-9 2-8 2-4 2 3 2 9 2 12 2 8 2 2 2-3 2-6 2-5 2-5 2-6 2-8 2-5 2 10 2 30 2 42 2 24 2-24 2-81 2-109 2-77 2 20 2 115 2 166 2 144 2 54 2-66 2-160 2-180 2-120 2-13 2 80 2 120 2 104 2 54 2 2 2-32 2-42 2-28 2-3 2 8 2-1 2-24 2-36 2-22 2 7 2 33 2 34 2 17 2 1 2-4 2 3 2 2 2-7 2-20 2-21 2-4 2 18 2 24 2 7 2-21 2-33 2-9 2 36 2 64 2 46 2-19 2-88 2-116 2-77 2 15 2 108 2 151 2 117 2 30 2-59 2-103 2-95 2-63 2-37 2-22 2-2 2 34 2 75 2 103 2 98 2 60 2-5 2-77 2-127 2-131 2-88 2-19 2 47 2 95 2 127 2 137 2 110 2 27 2-93 2-198 2-227 2-157 2-15 2 133 2 219 2 210 2 118 2-9 2-106 2-138 2-105 2-45 2 2 2 17 2 4 2-12 2-8 2 21 2 64 2 90 2 83 2 40 2-25 2-87 2-124 2-119 2-66 2 20 2 103 2 142 2 118 2 41 2-47 2-108 2-117 2-77 2-8 2 54 2 86 2 78 2 39 2-7 2-38 2-39 2-22 2-5 2-5 2-21 2-31 2-21 2 14 2 54 2 71 2 57 2 17 2-32 2-72 2-92 2-73 2-15 2 62 2 121 2 127 2 67 2-39 2-140 2-177 2-121 2 8 2 135 2 184 2 124 2 5 2-91 2-107 2-51 2 19 2 50 2 24 2-36 2-83 2-77 2-19 2 64 2 128 2 139 2 87 2-9 2-112 2-169 2-150 2-64 2 49 2 137 2 164 2 117 2 20 2-89 2-159 2-148 2-58 2 68 2 155 2 150 2 56 2-67 2-142 2-126 2-35 2 73 2 133 2 114 2 26 2-80 2-154 2-157 2-75 2 65 2 202 2 256 2 181 2-1 2-202 2-317 2-283 2-117 2 94 2 249 2 286 2 205 2 63 2-71 2-150 2-166 2-138 2-91 2-36 2 26 2 83 2 124 2 130 2 96 2 31 2-46 2-107 2-126 2-94 2-26 2 41 2 74 2 62 2 32 2 12 2 12 2 10 2-14 2-51 2-70 2-42 2 18 2 69 2 76 2 34 2-23 2-58 2-55 2-27 2 2 2 18 2 18 2 15 2 15 2 25 2 36 2 36 2 12 2-30 2-67 2-78 2-56 2-12 2 33 2 59 2 58 2 35 2 5 2-16 2-18 2-3 2 17 2 21 2 0 2-28 2-43 2-37 2-22 2-15 2-12 2 3 2 35 2 71 2 81 2 56 2 8 2-39 2-67 2-69 2-50 2-23 2 3 2 15 2 16 2 12 2 16 2 33 2 50 2 44 2 11 2-31 2-49 2-32 2-4 2 3 2-18 2-42 2-40 2-3 2 48 2 82 2 73 2 27 2-33 2-67 2-55 2-11 2 32 2 36 2 3 2-37 2-47 2-19 2 22 2 46 2 44 2 28 2 11 2-4 2-19 2-39 2-60 2-63 2-33 2 28 2 94 2 121 2 89 2 3 2-89 2-135 2-109 2-30 2 53 2 89 2 67 2 13 2-24 2-18 2 21 2 51 2 36 2-22 2-88 2-113 2-79 2 1 2 86 2 128 2 107 2 36 2-42 2-82 2-72 2-35 2-2 2 7 2 7 2 12 2 22 2 29 2 21 2 0 2-17 2-23 2-14 2 2 2 17 2 20 2 11 2-4 2-20 2-27 2-24 2-9 2 14 2 34 2 36 2 14 2-18 2-40 2-33 2 1 2 38 2 50 2 26 2-21 2-55 2-52 2-13 2 34 2 56 2 43 2-1 2-43 2-58 2-34 2 13 2 49 2 48 2 13 2-25 2-40 2-22 2 9 2 31 2 33 2 17 2-4 2-22 2-32 2-32 2-20 2 5 2 31 2 36 2 14 2-24 2-49 2-32 2 22 2 83 2 102 2 59 2-31 2-115 2-147 2-108 2-18 2 75 2 126 2 120 2 71 2 9 2-45 2-78 2-88 2-69 2-26 2 31 2 79 2 92 2 56 2-14 2-77 2-97 2-62 2 1 2 55 2 77 2 66 2 35 2 0 2-27 2-40 2-44 2-45 2-42 2-29 2 2 2 42 2 71 2 73 2 48 2 8 2-24 2-42 2-54 2-60 2-59 2-32 2 19 2 79 2 110 2 88 2 17 2-69 2-117 2-103 2-32 2 56 2 109 2 100 2 33 2-51 2-105 2-94 2-28 2 50 2 87 2 65 2 4 2-45 2-49 2-7 2 43 2 59 2 29 2-27 2-74 2-85 2-58 2-13 2 31 2 60 2 77 2 83 2 73 2 40 2-18 2-89 2-141 2-143 2-81 2 22 2 116 2 153 2 121 2 47 2-24 2-63 2-74 2-75 2-72 2-51 2-2 2 66 2 120 2 122 2 63 2-29 2-107 2-135 2-102 2-32 2 44 2 97 2 114 2 92 2 42 2-22 2-78 2-111 2-105 2-62 2 8 2 77 2 114 2 97 2 39 2-26 2-61 2-55 2-28 2-9 2-12 2-21 2-20 2 0 2 33 2 63 2 75 2 59 2 13 2-48 2-96 2-108 2-75 2-11 2 56 2 100 2 104 2 68 2 4 2-60 2-91 2-78 2-27 2 29 2 61 2 57 2 24 2-18 2-49 2-56 2-33 2 16 2 66 2 89 2 56 2-19 2-93 2-114 2-64 2 23 2 90 2 98 2 52 2-11 2-53 2-55 2-32 2-4 2 7 2 4 2-1 2 6 2 22 2 33 2 30 2 13 2-10 2-32 2-42 2-39 2-18 2 9 2 30 2 33 2 19 2-1 2-8 2 2 2 22 2 28 2 9 2-26 2-57 2-64 2-41 2 2 2 46 2 68 2 62 2 34 2-1 2-30 2-42 2-38 2-22 2-8 2-1 2-1 2 4 2 17 2 34 2 36 2 21 2-5 2-27 2-33 2-22 2-6 2 4 2 5 2 1 2 0 2 6 2 12 2 10 2 1 2-3 2 2 2 13 2 18 2 2 2-27 2-52 2-49 2-17 2 33 2 71 2 78 2 48 2-6 2-64 2-94 2-78 2-22 2 45 2 85 2 76 2 32 2-18 2-48 2-50 2-35 2-11 2 10 2 26 2 32 2 26 2 9 2-13 2-26 2-23 2-6 2 12 2 19 2 9 2-9 2-18 2-11 2 8 2 21 2 19 2 5 2-11 2-20 2-18 2-8 2 2 2 12 2 16 2 14 2 8 2 0 2-6 2-15 2-19 2-19 2-7 2 12 2 27 2 29 2 15 2-8 2-24 2-23 2-6 2 13 2 16 2 1 2-18 2-24 2-7 2 21 2 36 2 26 2-1 2-26 2-35 2-23 2 0 2 21 2 33 2 29 2 12 2-15 2-38 2-45 2-31 2 1 2 32 2 48 2 45 2 24 2-4 2-28 2-42 2-40 2-24 2 0 2 24 2 36 2 32 2 13 2-9 2-23 2-19 2-5 2 9 2 10 2 2 2-10 2-13 2-6 2 3 2 10 2 11 2 7 2 4 2 3 2 2 2-1 2-7 2-14 2-17 2-11 2-2 2 11 2 20 2 22 2 17 2 4 2-15 2-27 2-25 2-9 2 9 2 17 2 12 2 1 2-3 2 3 2 9 2 8 2-1 2-12 2-14 2-9 2-1 2 5 2 8 2 7 2 1 2-4 2-9 2-6 2 1 2 10 2 16 2 14 2 4 2-9 2-19 2-19 2-12 2 0 2 11 2 15 2 13 2 8 2 0 2-8 2-14 2-14 2-6 2 3 2 13 2 17 2 14 2 8 2-5 2-16 2-22 2-19 2-5 2 11 2 20 2 18 2 4 2-8 2-11 2-2 2 9 2 12 2 3 2-12 2-22 2-17 2-1 2 13 2 17 2 10 2 2 2 0 2 5 2 7 2 1 2-11 2-21 2-20 2-9 2 6 2 15 2 14 2 9 2 3 2 6 2 11 2 13 2 2 2-17 2-37 2-41 2-26 2 5 2 37 2 54 2 46 2 18 2-16 2-40 2-43 2-27 2-2 2 18 2 27 2 22 2 6 2-11 2-21 2-17 2-4 2 12 2 20 2 16 2 5 2-6 2-12 2-11 2-7 2-4 2-1 2 1 2 8 2 14 2 15 2 4 2-11 2-23 2-22 2-10 2 7 2 21 2 26 2 22 2 11 2-3 2-18 2-30 2-32 2-23 2-4 2 18 2 37 2 39 2 25 2 1 2-23 2-36 2-29 2-10 2 10 2 20 2 19 2 10 2 2 2-4 2-6 2-9 2-10 2-9 2-7 2-2 2 6 2 14 2 17 2 17 2 9 2-4 2-18 2-23 2-20 2-7 2 10 2 20 2 21 2 9 2-5 2-16 2-18 2-10 2 1 2 13 2 18 2 15 2 4 2-5 2-10 2-11 2-13 2-15 2-11 2 0 2 19 2 33 2 33 2 18 2-8 2-34 2-46 2-38 2-15 2 14 2 36 2 43 2 34 2 16 2-7 2-24 2-31 2-28 2-17 2-3 2 8 2 11 2 11 2 9 2 12 2 16 2 13 2 5 2-9 2-21 2-25 2-23 2-11 2 7 2 23 2 32 2 24 2 5 2-15 2-25 2-22 2-11 2 1 2 10 2 12 2 12 2 9 2 3 2-2 2-9 2-9 2-6 2 3 2 5 2 3 2-5 2-7 2-3 2 6 2 10 2 7 2-2 2-9 2-9 2-1 2 8 2 13 2 9 2-2 2-15 2-20 2-12 2 3 2 18 2 22 2 13 2-3 2-16 2-17 2-8 2 6 2 13 2 12 2 2 2-10 2-17 2-13 2-2 2 12 2 20 2 18 2 7 2-8 2-19 2-20 2-11 2 4 2 14 2 16 2 6 2-2 2-3 2 2 2 6 2 0 2-16 2-28 2-24 2-3 2 27 2 44 2 42 2 17 2-13 2-36 2-42 2-30 2-11 2 8 2 19 2 21 2 22 2 17 2 10 2-4 2-18 2-24 2-20 2-5 2 12 2 21 2 17 2 4 2-8 2-14 2-12 2-5 2 2 2 5 2 5 2 4 2 1 2-2 2-3 2 2 2 9 2 14 2 12 2 0 2-15 2-27 2-25 2-13 2 4 2 18 2 22 2 16 2 8 2 0 2-1 2 0 2 0 2-3 2-9 2-14 2-15 2-11 2 0 2 10 2 17 2 18 2 12 2 2 2-9 2-15 2-15 2-8 2 1 2 10 2 14 2 12 2 5 2-6 2-13 2-15 2-10 2-2 2 7 2 13 2 15 2 11 2 5 2-5"/><path d="M472 1756l4-1 4 0 4 0 4 0 4 1 4 1 4 0 4 0 4-1 4 0 4-1 4 0 4 1 4 1 4 0 4 0 4 0 4-1 4-1 4 0 4 0 4 0 4 0 4 2 4 0 4 1 4 0 4-1 4-1 4-1 4 0 4 0 4 0 4 0 4 1 4 0 4 1 4 0 4 0 4 0 4-1 4 0 4-1 4 0 4 0 4 0 4 0 4 1 4 0 4 1 4 0 4 0 4 0 4-1 4 0 4 0 4-1 4 0 4 0 4 0 4 0 4 1 4 0 4 1 4 0 4 0 4-1 4-1 4 0 4 0 4 1 4 1 4-1 4 0 4 0 4-1 4 0 4 0 4 1 4 1 4 0 4 0 4 0 4-1 4 0 4-1 4 0 4 0 4 1 4 0 4 1 4 0 4-1 4 0 4-1 4 0 4 1 4 1 4 1 4 0 4-2 4-1 4-1 4 1 4 0 4 1 4 0 4 1 4 0 4 0 4-1 4 0 4-1 4 0 4 0 4 0 4 1 4 1 4 0 4 0 4-1 4 0 4 0 4 0 4 0 4 0 4-1 4 1 4 0 4 0 4 0 4 1 4 0 4 0 4-1 4-1 4 0 4 0 4 0 4 1 4 1 4 0 4 0 4-1 4 0 4-1 4 0 4 1 4 0 4 1 4 0 4 0 4-1 4 0 4-1 4 0 4 1 4 0 4 0 4 1 4-1 4 0 4 0 4 0 4 0 4 0 4 0 4 0 4 0 4 0 4-1 4 0 4 0 4 1 4 1 4 0 4 0 4-1 4 0 4-1 4 0 4 0 4 1 4 1 4 0 4 0 4 0 4 0 4-1 4-1 4 0 4-1 4 1 4 0 4 1 4 1 4 0 4 0 4 0 4 0 4 0 4-1 4-1 4-1 4 0 4 2 4 1 4 1 4-1 4-1 4-1 4 0 4-1 4 1 4 1 4 1 4 1 4-1 4-1 4-1 4 0 4 1 4 0 4 0 4 0 4 0 4 0 4 0 4 0 4 0 4 0 4 0 4 0 4 0 4 0 4 0 4 0 4 0 4 0 4 0 4 0 4 0 4-1 4 0 4 1 4 1 4 0 4 0 4-1 4 0 4 0 4 0 4 1 4-1 4-1 4-1 4 0 4 1 4 2 4 1 4 0 4-1 4-1 4-1 4 0 4 0 4 1 4 0 4 1 4 0 4-1 4 0 4 0 4 0 4 0 4 0 4 0 4-1 4 1 4 0 4 1 4 0 4-1 4 0 4-1 4 0 4 0 4 1 4 1 4 0 4 0 4-1 4 0 4 0 4 0 4 0 4 0 4 0 4 0 4 0 4 0 4 0 4 0 4 0 4 1 4 0 4-1 4-1 4 0 4 1 4 0 4 0 4 0 4-1 4 1 4 0 4 1 4 0 4-1 4-1 4 0 4 1 4 0 4 1 4 0 4 0 4-1 4-1 4-1 4 0 4 1 4 2 4 1 4 0 4-1 4-1 4-1 4 0 4 0 4 0 4 1 4 0 4 1 4 0 4-1 4 0 4-1 4 1 4 0 4 0 4 0 4 0 4 0 4 0 4 0 4 0 4 0 4 0 4 0 4 0 4 0 4-1 4 0 4 0 4 1 4 1 4 0 4 0 4 0 4-1 4-1 4-1 4 0 4 1 4 1 4 1 2 1 2 0 2-1 2 0 2 0 2 0 2-1 2-1 2 1 2 3 2 2 2 0 2-3 2-4 2-3 2 0 2 1 2-1 2-2 2-3 2 0 2 6 2 10 2 12 2 8 2 1 2-8 2-15 2-18 2-14 2-6 2 3 2 11 2 18 2 21 2 18 2 8 2-8 2-25 2-32 2-25 2-6 2 18 2 28 2 24 2 10 2-3 2-9 2-7 2-4 2-2 2-5 2-9 2-13 2-11 2-1 2 14 2 29 2 32 2 19 2-6 2-29 2-38 2-29 2-11 2 10 2 22 2 25 2 20 2 12 2 2 2-8 2-17 2-21 2-19 2-10 2 3 2 17 2 26 2 23 2 10 2-7 2-22 2-24 2-16 2-2 2 9 2 12 2 11 2 7 2 2 2 1 2 1 2 1 2-3 2-7 2-9 2-9 2-5 2 2 2 7 2 8 2 7 2 4 2 0 2-1 2-1 2 0 2 1 2-2 2-6 2-7 2-7 2-4 2-1 2 4 2 9 2 12 2 12 2 7 2 0 2-6 2-8 2-9 2-12 2-14 2-10 2 3 2 18 2 25 2 17 2-2 2-17 2-19 2-7 2 9 2 15 2 9 2-6 2-15 2-13 2-3 2 9 2 14 2 11 2 4 2-5 2-12 2-11 2-5 2 3 2 10 2 12 2 8 2-1 2-10 2-13 2-11 2-4 2 3 2 7 2 8 2 7 2 10 2 13 2 10 2 1 2-16 2-30 2-35 2-24 2-1 2 24 2 40 2 40 2 27 2 9 2-11 2-25 2-36 2-37 2-28 2-8 2 17 2 33 2 38 2 29 2 11 2-6 2-18 2-22 2-23 2-16 2-6 2 7 2 15 2 16 2 10 2 2 2-5 2-6 2-1 2 4 2 4 2-1 2-7 2-10 2-10 2-4 2 4 2 11 2 13 2 14 2 7 2 0 2-8 2-16 2-18 2-14 2-3 2 9 2 18 2 17 2 9 2-2 2-10 2-10 2-4 2 3 2 6 2 2 2-2 2-6 2-7 2-6 2-1 2 4 2 11 2 12 2 8 2-1 2-9 2-12 2-8 2 1 2 8 2 9 2 3 2-5 2-9 2-9 2-4 2 3 2 10 2 13 2 11 2 3 2-8 2-15 2-12 2-6 2 2 2 6 2 8 2 6 2 5 2 3 2-1 2-6 2-7 2-6 2-2 2 3 2 7 2 8 2 4 2-3 2-10 2-12 2-6 2 3 2 12 2 15 2 10 2 2 2-6 2-12 2-14 2-13 2-7 2 4 2 16 2 22 2 15 2 1 2-14 2-19 2-12 2 0 2 9 2 12 2 6 2-2 2-6 2-4 2-2 2-3 2-5 2-5 2 0 2 8 2 12 2 12 2 9 2 5 2-2 2-12 2-21 2-25 2-20 2-4 2 17 2 34 2 40 2 27 2 2 2-27 2-42 2-39 2-16 2 11 2 29 2 30 2 16 2-2 2-13 2-15 2-7 2 4 2 10 2 8 2 0 2-9 2-15 2-13 2-3 2 11 2 19 2 19 2 8 2-6 2-17 2-18 2-11 2 2 2 11 2 14 2 8 2 0 2-8 2-10 2-6 2 0 2 6 2 8 2 6 2 2 2-5 2-8 2-9 2-2 2 5 2 13 2 15 2 9 2-3 2-19 2-28 2-23 2-7 2 17 2 32 2 35 2 21 2-1 2-23 2-36 2-34 2-17 2 10 2 32 2 39 2 27 2 3 2-21 2-33 2-30 2-15 2 4 2 20 2 25 2 17 2 4 2-8 2-12 2-7 2-2 2 2 2 2 2 1 2-2 2-1 2-1 2 1 2 2 2-1 2-5 2-8 2-7 2 5 2 20 2 30 2 23 2 1 2-29 2-47 2-43 2-17 2 15 2 38 2 39 2 25 2 7 2-5 2-13 2-15 2-16 2-11 2-5 2 2 2 4 2 4 2 3 2 1 2 2 2 3 2 4 2 4 2 6 2 4 2 1 2-5 2-13 2-17 2-15 2-8 2 5 2 19 2 27 2 26 2 15 2-6 2-24 2-33 2-28 2-12 2 6 2 20 2 26 2 22 2 12 2-1 2-12 2-20 2-20 2-9 2 7 2 19 2 18 2 6 2-11 2-23 2-21 2-7 2 12 2 23 2 25 2 15 2 0 2-13 2-20 2-19 2-12 2 0 2 11 2 16 2 12 2 3 2-7 2-13 2-11 2-1 2 11 2 18 2 14 2 2 2-11 2-20 2-16 2-5 2 7 2 15 2 14 2 6 2-7 2-17 2-19 2-7 2 13 2 29 2 33 2 18 2-14 2-44 2-53 2-33 2 7 2 48 2 67 2 53 2 9 2-45 2-80 2-74 2-27 2 37 2 79 2 77 2 38 2-10 2-40 2-49 2-43 2-30 2-11 2 14 2 40 2 51 2 36 2 1 2-35 2-48 2-30 2 6 2 30 2 31 2 13 2-5 2-8 2-3 2-8 2-28 2-46 2-34 2 18 2 85 2 114 2 74 2-20 2-113 2-150 2-113 2-30 2 58 2 119 2 139 2 121 2 66 2-18 2-105 2-163 2-165 2-110 2-17 2 79 2 151 2 183 2 159 2 79 2-38 2-145 2-199 2-176 2-95 2 11 2 108 2 175 2 194 2 143 2 24 2-126 2-234 2-235 2-118 2 60 2 203 2 235 2 146 2-3 2-128 2-171 2-120 2-16 2 73 2 97 2 57 2 2 2-28 2-20 2 0 2 6 2-14 2-44 2-61 2-43 2 13 2 83 2 129 2 115 2 38 2-61 2-129 2-138 2-94 2-30 2 28 2 73 2 101 2 108 2 81 2 23 2-44 2-94 2-109 2-87 2-37 2 24 2 72 2 87 2 66 2 23 2-11 2-26 2-21 2-16 2-23 2-44 2-59 2-44 2 8 2 72 2 109 2 92 2 29 2-41 2-83 2-83 2-55 2-18 2 11 2 39 2 64 2 70 2 45 2-11 2-63 2-78 2-45 2 7 2 43 2 42 2 13 2-22 2-35 2-16 2 16 2 41 2 45 2 31 2 8 2-13 2-35 2-50 2-61 2-59 2-38 2 6 2 63 2 108 2 114 2 74 2 4 2-62 2-100 2-112 2-96 2-47 2 35 2 122 2 156 2 103 2-18 2-131 2-163 2-91 2 38 2 136 2 142 2 60 2-46 2-103 2-86 2-27 2 17 2 20 2-6 2-20 2 2 2 55 2 102 2 107 2 48 2-57 2-161 2-199 2-140 2-6 2 135 2 214 2 194 2 92 2-43 2-148 2-179 2-122 2-14 2 80 2 104 2 49 2-32 2-70 2-27 2 61 2 128 2 118 2 30 2-88 2-174 2-184 2-111 2 16 2 138 2 198 2 166 2 63 2-52 2-120 2-121 2-77 2-30 2 1 2 14 2 30 2 55 2 80 2 75 2 27 2-45 2-100 2-99 2-41 2 36 2 88 2 89 2 45 2-15 2-68 2-99 2-99 2-59 2 20 2 113 2 170 2 151 2 61 2-58 2-147 2-173 2-137 2-58 2 37 2 119 2 156 2 124 2 35 2-66 2-123 2-106 2-26 2 68 2 117 2 88 2-9 2-119 2-170 2-122 2 16 2 166 2 237 2 178 2 20 2-146 2-231 2-204 2-95 2 31 2 121 2 156 2 146 2 105 2 44 2-36 2-115 2-158 2-137 2-56 2 44 2 103 2 93 2 31 2-31 2-45 2-5 2 58 2 90 2 66 2-1 2-72 2-106 2-101 2-70 2-34 2 6 2 54 2 108 2 140 2 122 2 52 2-43 2-121 2-151 2-125 2-61 2 14 2 75 2 107 2 103 2 62 2 3 2-50 2-67 2-45 2-7 2 18 2 16 2-2 2-21 2-24 2-14 2 8 2 28 2 36 2 24 2 0 2-19 2-18 2 2 2 23 2 26 2 6 2-31 2-63 2-69 2-31 2 36 2 100 2 114 2 60 2-37 2-120 2-136 2-77 2 21 2 103 2 132 2 99 2 31 2-34 2-75 2-87 2-82 2-65 2-34 2 15 2 74 2 114 2 112 2 62 2-11 2-71 2-87 2-63 2-28 2-11 2-15 2-24 2-12 2 28 2 81 2 120 2 120 2 71 2-23 2-132 2-212 2-214 2-120 2 42 2 198 2 270 2 220 2 73 2-94 2-199 2-204 2-120 2-4 2 84 2 118 2 99 2 52 2 1 2-45 2-79 2-89 2-62 2 0 2 76 2 127 2 123 2 60 2-37 2-124 2-159 2-129 2-46 2 54 2 127 2 145 2 104 2 27 2-46 2-84 2-79 2-45 2-8 2 12 2 14 2 4 2-8 2-12 2 2 2 33 2 64 2 66 2 27 2-36 2-85 2-89 2-46 2 23 2 73 2 77 2 31 2-34 2-76 2-69 2-18 2 46 2 88 2 83 2 36 2-22 2-65 2-74 2-60 2-34 2-5 2 27 2 60 2 77 2 65 2 19 2-35 2-72 2-73 2-39 2 4 2 33 2 40 2 32 2 21 2 16 2 7 2-12 2-35 2-48 2-34 2 0 2 32 2 37 2 13 2-11 2-16 2 4 2 22 2 21 2 3 2-17 2-18 2-3 2 12 2 10 2-6 2-27 2-40 2-37 2-14 2 23 2 60 2 79 2 63 2 19 2-37 2-74 2-77 2-46 2 0 2 36 2 43 2 22 2-6 2-18 2-6 2 20 2 36 2 26 2-5 2-37 2-44 2-23 2 13 2 35 2 32 2 4 2-27 2-37 2-25 2 3 2 31 2 41 2 27 2-7 2-42 2-49 2-20 2 32 2 71 2 65 2 17 2-46 2-84 2-78 2-37 2 13 2 52 2 68 2 62 2 39 2 6 2-28 2-56 2-67 2-57 2-25 2 18 2 56 2 74 2 66 2 34 2-8 2-47 2-71 2-75 2-56 2-16 2 35 2 79 2 92 2 67 2 14 2-37 2-64 2-62 2-43 2-22 2-5 2 13 2 34 2 56 2 62 2 42 2-3 2-57 2-90 2-76 2-17 2 60 2 104 2 81 2 5 2-74 2-102 2-65 2 7 2 65 2 78 2 51 2 10 2-22 2-40 2-44 2-39 2-26 2-3 2 28 2 52 2 55 2 35 2 0 2-33 2-46 2-39 2-23 2-11 2-3 2 4 2 20 2 40 2 52 2 43 2 15 2-19 2-44 2-52 2-47 2-34 2-16 2 12 2 42 2 62 2 57 2 28 2-12 2-42 2-45 2-25 2-1 2 12 2 8 2-3 2-9 2-2 2 11 2 20 2 19 2 6 2-10 2-22 2-26 2-15 2 4 2 27 2 37 2 28 2 2 2-29 2-46 2-44 2-17 2 23 2 53 2 57 2 30 2-13 2-46 2-54 2-35 2-5 2 21 2 31 2 29 2 18 2 8 2-1 2-6 2-12 2-18 2-21 2-18 2-5 2 9 2 20 2 22 2 14 2 2 2-8 2-9 2-5 2 2 2 5 2 1 2-7 2-14 2-13 2-8 2-1 2 7 2 13 2 18 2 21 2 18 2 6 2-8 2-19 2-26 2-26 2-21 2-9 2 5 2 20 2 26 2 27 2 23 2 15 2 4 2-13 2-35 2-48 2-41 2-9 2 34 2 62 2 55 2 18 2-28 2-54 2-50 2-25 2 6 2 25 2 32 2 31 2 30 2 25 2 10 2-19 2-52 2-68 2-56 2-17 2 33 2 68 2 73 2 47 2 7 2-30 2-51 2-50 2-31 2-7 2 17 2 30 2 32 2 24 2 8 2-7 2-18 2-23 2-22 2-15 2-3 2 13 2 27 2 32 2 21 2-3 2-27 2-39 2-28 2 0 2 28 2 41 2 26 2-4 2-30 2-37 2-23 2 4 2 26 2 32 2 22 2 1 2-21 2-29 2-20 2-2 2 14 2 19 2 13 2 6 2 1 2 0 2-2 2-6 2-12 2-18 2-16 2-8 2 9 2 24 2 31 2 23 2 3 2-20 2-35 2-30 2-7 2 22 2 38 2 30 2 1 2-32 2-46 2-34 2-2 2 33 2 52 2 47 2 20 2-16 2-46 2-56 2-43 2-12 2 24 2 48 2 53 2 34 2 3 2-25 2-39 2-35 2-18 2 2 2 14 2 17 2 11 2 4 2 1 2 3 2 6 2 3 2-5 2-15 2-16 2-5 2 12 2 24 2 20 2 2 2-22 2-37 2-30 2-5 2 26 2 45 2 39 2 12 2-19 2-36 2-29 2-9 2 10 2 16 2 7 2-6 2-12 2-11 2 0 2 11 2 23 2 27 2 21 2 4 2-16 2-30 2-35 2-30 2-20 2-4 2 15 2 35 2 48 2 46 2 24 2-7 2-37 2-50 2-45 2-25 2-1 2 20 2 32 2 33 2 25 2 9 2-6 2-15 2-16 2-14 2-12 2-13 2-10 2 1 2 17 2 32 2 32 2 14 2-13 2-33 2-36 2-22 2 1 2 17 2 25 2 21 2 13 2 1 2-9 2-17 2-18 2-11 2-1 2 8 2 13 2 14 2 12 2 7 2 0 2-11 2-19 2-21 2-14 2 0 2 14 2 20 2 15 2 5 2-5 2-8 2-6 2 1 2 5 2 7 2 4 2-2 2-11 2-17 2-14 2-2 2 10 2 14 2 11 2 6 2 7 2 8 2 7 2-7 2-24 2-31 2-19 2 7 2 30 2 34 2 18 2-6 2-22 2-23 2-11 2-1 2 4 2 2 2 3 2 8 2 14 2 15 2 7 2-6 2-14 2-14 2-7 2-2 2-1 2-4 2-2 2 5 2 14 2 15 2 7 2-5 2-12 2-9 2 1 2 9 2 9 2 0 2-13 2-22 2-19 2-3 2 17 2 30 2 27 2 10 2-11 2-21 2-18 2-6 2 4 2 6 2 2 2-2 2-2 2 4 2 7 2 5 2-2 2-8 2-11 2-8 2 1 2 13 2 21 2 19 2 4 2-15 2-31 2-30 2-14 2 7 2 26 2 30 2 24 2 9 2-7 2-19 2-25 2-24 2-12 2 4 2 20 2 27 2 24 2 8 2-9 2-22 2-23 2-13 2 1 2 11 2 14 2 10 2 2 2-6 2-11 2-11 2-3 2 8 2 16 2 19 2 12 2-3 2-20 2-29 2-26 2-7 2 15 2 27 2 27 2 16 2 4 2-5 2-11 2-17 2-25 2-24 2-13 2 7 2 27 2 33 2 26 2 8 2-9 2-19 2-18 2-11 2-2 2 3 2 3 2-2 2-4 2-5 2 1 2 9 2 17 2 19 2 12 2-5 2-22 2-32 2-26 2-5 2 20 2 32 2 29 2 13 2-6 2-19 2-23 2-19 2-12 2-2 2 11 2 21 2 23 2 17 2 2 2-12 2-20 2-18 2-9 2 2 2 10 2 11 2 5 2-3 2-6 2-5 2 1 2 6 2 7 2 5 2 1 2 0 2-3 2-6 2-8 2-8 2-4 2-1 2 4 2 7 2 10 2 11 2 9 2 4 2-4 2-11 2-15 2-16 2-11 2-3 2 4 2 12 2 18 2 19 2 16 2 6 2-8 2-21 2-27 2-21 2-8 2 10 2 23 2 25 2 17 2 1 2-15 2-22 2-17 2-1 2 13 2 17 2 8 2-6 2-15 2-11 2 1 2 14 2 18 2 8 2-7 2-21 2-21 2-11 2 6 2 20 2 23 2 16 2 4 2-6 2-13 2-17 2-17 2-11 2 0 2 12 2 16 2 11 2 3 2-1 2 0"/><path d="M472 1758l4-1 4 0 4 0 4 1 4 2 4 0 4 0 4-1 4-1 4 0 4 0 4 0 4 0 4 1 4 0 4 0 4 0 4 0 4-1 4 0 4 0 4 0 4 0 4 0 4 1 4 0 4 0 4 0 4 0 4 0 4 0 4-1 4 0 4 0 4 0 4 2 4 0 4 0 4-1 4-1 4-1 4 0 4 0 4 1 4 1 4 1 4 0 4 0 4-1 4 0 4-1 4 0 4 0 4 0 4 0 4 1 4 0 4 1 4-1 4-1 4 0 4 0 4 1 4 0 4 0 4 0 4 0 4 0 4-1 4 0 4 0 4 1 4 0 4 0 4 0 4-1 4 1 4 0 4 0 4 0 4-1 4 0 4 0 4 0 4 1 4 0 4 1 4 0 4-1 4 0 4-1 4-1 4 1 4 0 4 1 4 0 4 0 4-1 4 0 4 0 4 0 4 1 4 1 4 0 4 0 4-1 4-1 4-1 4 0 4 1 4 1 4 1 4 0 4-1 4 0 4 0 4-1 4 0 4-1 4 0 4 1 4 1 4 1 4 0 4 0 4-1 4-1 4-1 4 0 4 1 4 1 4 1 4-1 4-1 4 0 4 0 4 0 4 1 4 1 4-1 4 0 4 0 4-1 4 0 4 0 4 0 4 0 4 0 4 1 4 0 4 1 4-1 4-1 4 0 4 0 4 0 4 1 4 0 4 0 4-1 4 1 4 0 4 0 4 0 4-1 4-1 4 0 4 1 4 1 4 1 4 0 4 0 4-1 4-1 4-1 4 1 4 1 4 0 4 0 4 0 4 0 4-1 4 0 4 0 4 0 4 1 4 0 4 0 4 0 4 0 4-1 4 0 4 0 4 1 4 0 4 1 4-1 4-1 4 0 4 0 4 0 4 1 4 0 4 0 4 0 4 0 4 0 4-1 4 0 4 0 4 1 4 1 4 0 4-1 4-1 4 0 4 0 4 0 4 0 4 0 4 1 4 0 4 0 4 1 4 0 4 0 4-1 4-1 4-1 4 0 4 1 4 0 4 0 4 1 4 0 4 0 4 1 4 0 4 0 4-1 4-1 4 0 4-1 4 1 4 0 4 0 4 0 4 0 4 0 4 1 4 1 4 1 4-1 4-1 4-2 4-1 4 0 4 1 4 2 4 1 4 0 4-1 4-1 4 0 4 0 4 0 4 1 4 0 4 0 4-1 4 0 4 0 4 1 4 1 4 1 4-1 4-1 4-1 4-1 4 0 4 0 4 1 4 0 4 1 4 0 4 1 4 0 4 0 4-1 4 0 4-1 4 0 4-1 4-1 4 1 4 1 4 2 4 2 4-1 4-1 4-2 4-1 4-1 4 1 4 2 4 1 4 0 4-1 4 0 4 0 4 0 4 0 4-1 4 0 4 1 4 0 4 0 4 0 4-1 4 0 4 0 4 0 4 1 4 0 4 0 4 0 4 0 4 0 4 0 4 0 4 0 4 0 4 0 4-1 4-1 4 0 4 1 4 1 4 1 4-1 4 0 4-1 4 1 4 0 4 0 4 0 4-1 4 0 4 0 4 0 4 1 4 0 4 0 4 0 4 0 4 0 4 0 4 0 4 0 4 0 4 0 4-1 4-1 4 0 4 1 4 1 4 0 4 0 4 0 4-1 4 0 4 1 4 1 4 0 4-1 4-1 2 0 2-1 2 0 2 0 2 0 2 1 2 0 2 1 2 1 2 2 2 1 2 1 2 0 2-1 2-4 2-6 2-5 2-2 2 2 2 6 2 7 2 6 2 4 2 2 2-1 2-4 2-8 2-12 2-11 2-4 2 7 2 15 2 19 2 14 2 2 2-10 2-20 2-22 2-13 2 0 2 12 2 19 2 16 2 9 2 1 2-4 2-6 2-6 2-6 2-6 2-6 2-6 2-6 2-3 2 5 2 15 2 23 2 20 2 7 2-12 2-27 2-29 2-19 2 0 2 20 2 28 2 22 2 5 2-11 2-17 2-14 2-3 2 4 2 7 2 3 2-1 2-5 2-5 2-3 2 4 2 11 2 15 2 10 2 1 2-11 2-18 2-18 2-12 2-2 2 7 2 15 2 16 2 16 2 10 2 2 2-8 2-16 2-20 2-20 2-12 2 2 2 18 2 31 2 30 2 17 2-5 2-25 2-34 2-28 2-14 2 5 2 18 2 22 2 18 2 13 2 6 2 2 2-4 2-10 2-19 2-22 2-16 2-1 2 14 2 21 2 17 2 6 2-3 2-6 2-5 2-4 2-2 2-1 2 2 2 4 2 3 2-2 2-9 2-12 2-10 2-3 2 10 2 20 2 25 2 16 2-1 2-19 2-28 2-23 2-7 2 8 2 15 2 15 2 8 2 4 2 2 2 1 2-2 2-8 2-14 2-15 2-10 2 3 2 16 2 22 2 20 2 9 2-8 2-21 2-25 2-19 2-3 2 15 2 26 2 25 2 12 2-9 2-24 2-26 2-16 2 1 2 15 2 21 2 17 2 6 2-8 2-14 2-13 2-4 2 6 2 11 2 9 2 2 2-7 2-11 2-10 2-3 2 3 2 8 2 7 2 5 2 3 2 1 2 2 2-1 2-4 2-9 2-10 2-6 2-1 2 7 2 10 2 9 2 7 2 1 2-2 2-6 2-7 2-8 2-6 2-3 2 3 2 8 2 9 2 7 2 1 2-3 2-4 2-3 2-1 2-2 2-3 2-3 2 1 2 6 2 7 2 4 2 1 2-3 2-7 2-11 2-16 2-11 2 2 2 21 2 36 2 37 2 16 2-15 2-43 2-53 2-40 2-10 2 21 2 42 2 45 2 32 2 10 2-10 2-23 2-26 2-21 2-12 2-7 2-3 2 0 2 10 2 22 2 29 2 25 2 8 2-12 2-29 2-33 2-23 2-5 2 14 2 26 2 24 2 11 2-8 2-20 2-22 2-11 2 7 2 20 2 24 2 14 2-1 2-15 2-18 2-12 2-1 2 6 2 6 2 0 2-5 2-5 2-1 2 6 2 10 2 9 2 4 2-3 2-6 2-6 2-4 2-1 2-2 2-3 2-3 2-1 2 4 2 8 2 10 2 7 2 1 2-5 2-9 2-10 2-8 2-3 2 4 2 10 2 13 2 11 2 4 2-5 2-14 2-20 2-18 2-5 2 11 2 24 2 26 2 16 2-2 2-16 2-23 2-19 2-8 2 3 2 12 2 15 2 13 2 7 2-3 2-14 2-18 2-12 2 0 2 14 2 20 2 17 2 8 2-5 2-14 2-18 2-16 2-9 2-2 2 6 2 12 2 17 2 18 2 12 2 0 2-12 2-19 2-19 2-13 2-4 2 4 2 10 2 16 2 19 2 18 2 9 2-6 2-22 2-31 2-28 2-13 2 9 2 29 2 37 2 31 2 12 2-10 2-26 2-32 2-28 2-17 2-4 2 9 2 22 2 32 2 33 2 23 2 3 2-20 2-35 2-39 2-26 2-6 2 13 2 25 2 26 2 19 2 11 2 3 2-6 2-14 2-18 2-13 2-5 2 2 2-1 2-5 2-5 2 5 2 20 2 29 2 24 2 5 2-17 2-31 2-30 2-17 2 2 2 15 2 19 2 13 2 4 2-5 2-8 2-6 2-3 2 0 2 4 2 8 2 10 2 6 2-3 2-10 2-12 2-8 2 1 2 10 2 10 2 3 2-7 2-13 2-10 2 0 2 9 2 15 2 13 2 8 2 1 2-5 2-10 2-15 2-18 2-15 2-6 2 7 2 21 2 29 2 26 2 12 2-7 2-25 2-31 2-24 2-5 2 13 2 22 2 18 2 5 2-9 2-14 2-9 2 2 2 12 2 13 2 8 2-3 2-13 2-17 2-11 2-1 2 10 2 15 2 15 2 9 2 1 2-9 2-17 2-20 2-16 2-2 2 15 2 26 2 23 2 10 2-7 2-18 2-19 2-12 2-2 2 7 2 9 2 8 2 6 2 3 2 0 2-3 2-9 2-11 2-9 2 1 2 13 2 21 2 20 2 8 2-6 2-19 2-28 2-29 2-25 2-13 2 8 2 35 2 55 2 56 2 36 2-1 2-39 2-64 2-65 2-42 2-2 2 35 2 50 2 40 2 16 2-2 2-6 2-3 2-10 2-26 2-34 2-13 2 31 2 71 2 69 2 8 2-77 2-138 2-125 2-38 2 86 2 180 2 194 2 115 2-24 2-158 2-225 2-187 2-59 2 98 2 203 2 199 2 98 2-42 2-147 2-169 2-108 2-1 2 95 2 138 2 109 2 34 2-46 2-88 2-88 2-58 2-16 2 26 2 57 2 59 2 23 2-26 2-48 2-13 2 53 2 100 2 77 2-11 2-109 2-160 2-135 2-51 2 52 2 132 2 156 2 121 2 45 2-35 2-85 2-93 2-62 2-18 2 13 2 10 2-18 2-44 2-36 2 13 2 76 2 115 2 105 2 50 2-24 2-82 2-108 2-94 2-53 2-4 2 29 2 35 2 21 2 18 2 40 2 72 2 81 2 48 2-13 2-71 2-105 2-114 2-102 2-66 2 4 2 101 2 188 2 219 2 156 2 8 2-167 2-279 2-258 2-115 2 71 2 194 2 203 2 124 2 27 2-29 2-40 2-35 2-46 2-71 2-84 2-64 2-12 2 49 2 89 2 95 2 63 2 9 2-40 2-63 2-53 2-27 2 0 2 15 2 22 2 27 2 33 2 29 2 6 2-36 2-76 2-84 2-42 2 39 2 118 2 146 2 95 2-13 2-125 2-177 2-148 2-57 2 50 2 129 2 160 2 139 2 77 2-6 2-81 2-124 2-131 2-107 2-67 2-16 2 41 2 97 2 138 2 149 2 119 2 53 2-41 2-141 2-213 2-218 2-131 2 27 2 190 2 274 2 221 2 54 2-133 2-229 2-182 2-34 2 104 2 152 2 105 2 17 2-50 2-84 2-91 2-86 2-61 2-2 2 84 2 161 2 181 2 114 2-17 2-142 2-201 2-165 2-68 2 35 2 101 2 120 2 105 2 66 2 13 2-43 2-82 2-91 2-70 2-33 2 7 2 49 2 90 2 112 2 97 2 32 2-64 2-151 2-182 2-133 2-15 2 117 2 198 2 180 2 75 2-60 2-145 2-141 2-60 2 42 2 106 2 102 2 38 2-49 2-121 2-140 2-95 2 9 2 128 2 205 2 190 2 83 2-72 2-193 2-224 2-153 2-22 2 109 2 182 2 166 2 72 2-51 2-132 2-124 2-37 2 63 2 103 2 54 2-45 2-116 2-96 2 5 2 119 2 166 2 113 2-4 2-120 2-177 2-152 2-67 2 40 2 122 2 151 2 126 2 61 2-18 2-82 2-111 2-94 2-43 2 18 2 58 2 57 2 16 2-36 2-63 2-34 2 37 2 108 2 128 2 68 2-42 2-138 2-159 2-95 2 10 2 86 2 98 2 59 2 11 2-13 2-8 2 5 2 9 2-4 2-27 2-49 2-59 2-41 2 8 2 69 2 105 2 89 2 21 2-56 2-105 2-107 2-68 2-6 2 63 2 116 2 126 2 77 2-13 2-103 2-142 2-114 2-36 2 53 2 111 2 112 2 60 2-9 2-57 2-60 2-37 2-13 2-7 2-9 2 1 2 25 2 45 2 41 2 10 2-24 2-38 2-25 2 2 2 17 2 11 2-10 2-29 2-24 2 1 2 33 2 49 2 39 2 10 2-16 2-30 2-33 2-28 2-20 2-6 2 8 2 16 2 13 2 6 2 4 2 11 2 23 2 33 2 31 2 17 2-11 2-48 2-87 2-104 2-78 2-4 2 92 2 160 2 164 2 95 2-13 2-115 2-169 2-155 2-86 2 8 2 88 2 127 2 119 2 76 2 16 2-38 2-72 2-80 2-65 2-33 2 2 2 28 2 37 2 34 2 30 2 27 2 22 2 6 2-22 2-49 2-57 2-37 2 3 2 41 2 56 2 39 2 5 2-19 2-24 2-15 2-7 2-9 2-13 2-6 2 13 2 29 2 25 2-3 2-34 2-47 2-27 2 16 2 63 2 88 2 72 2 14 2-63 2-124 2-135 2-86 2 2 2 90 2 140 2 132 2 75 2-6 2-75 2-104 2-85 2-32 2 17 2 37 2 20 2-11 2-20 2 4 2 43 2 64 2 49 2 6 2-38 2-62 2-60 2-40 2-12 2 21 2 46 2 54 2 40 2 13 2-15 2-31 2-32 2-24 2-12 2 2 2 16 2 25 2 23 2 7 2-20 2-40 2-37 2-3 2 46 2 78 2 68 2 15 2-56 2-105 2-105 2-55 2 20 2 81 2 103 2 82 2 33 2-16 2-48 2-49 2-32 2-12 2-9 2-24 2-39 2-35 2 0 2 59 2 107 2 112 2 62 2-24 2-105 2-141 2-118 2-43 2 47 2 113 2 126 2 84 2 13 2-48 2-77 2-72 2-50 2-23 2 2 2 24 2 41 2 52 2 48 2 30 2 2 2-29 2-54 2-62 2-43 2 4 2 51 2 71 2 50 2 3 2-37 2-54 2-45 2-29 2-12 2 5 2 32 2 65 2 82 2 61 2 1 2-70 2-109 2-94 2-32 2 39 2 79 2 71 2 28 2-17 2-37 2-24 2-1 2 16 2 16 2 2 2-12 2-21 2-19 2-7 2 10 2 25 2 28 2 16 2-4 2-20 2-27 2-25 2-16 2-1 2 21 2 39 2 38 2 15 2-14 2-31 2-23 2-4 2 3 2-10 2-28 2-26 2 2 2 38 2 59 2 50 2 22 2-9 2-36 2-54 2-58 2-43 2-8 2 31 2 55 2 56 2 32 2 3 2-18 2-23 2-16 2-8 2-7 2-12 2-17 2-16 2-8 2 6 2 25 2 37 2 36 2 19 2-5 2-22 2-25 2-18 2-16 2-21 2-23 2-11 2 20 2 51 2 58 2 35 2-8 2-45 2-55 2-39 2-10 2 15 2 30 2 31 2 23 2 10 2-6 2-17 2-19 2-11 2 1 2 6 2 3 2-7 2-14 2-13 2 0 2 17 2 30 2 29 2 11 2-15 2-33 2-31 2-10 2 16 2 28 2 19 2 0 2-17 2-23 2-18 2-9 2 4 2 21 2 37 2 39 2 17 2-21 2-55 2-58 2-29 2 16 2 48 2 48 2 23 2-10 2-26 2-20 2-3 2 14 2 13 2 0 2-16 2-21 2-12 2 4 2 15 2 18 2 11 2 1 2-7 2-10 2-5 2 4 2 10 2 8 2-5 2-19 2-24 2-11 2 14 2 36 2 38 2 13 2-24 2-46 2-42 2-11 2 23 2 44 2 39 2 15 2-16 2-33 2-31 2-13 2 6 2 16 2 12 2 3 2 1 2 8 2 13 2 8 2-8 2-25 2-32 2-21 2 5 2 34 2 50 2 42 2 7 2-36 2-64 2-62 2-28 2 20 2 58 2 70 2 52 2 12 2-31 2-56 2-57 2-37 2-7 2 18 2 36 2 43 2 37 2 19 2-7 2-31 2-43 2-36 2-14 2 13 2 33 2 35 2 22 2 2 2-13 2-22 2-22 2-19 2-11 2 2 2 17 2 26 2 24 2 13 2-2 2-8 2-7 2-4 2-11 2-26 2-37 2-30 2-1 2 38 2 67 2 69 2 38 2-12 2-59 2-80 2-64 2-22 2 27 2 60 2 59 2 32 2-6 2-33 2-38 2-23 2-1 2 15 2 18 2 15 2 10 2 5 2 0 2-9 2-18 2-21 2-14 2-2 2 9 2 12 2 11 2 8 2 8 2 9 2 11 2 7 2-5 2-22 2-33 2-29 2-8 2 17 2 35 2 36 2 16 2-8 2-25 2-26 2-12 2 2 2 10 2 10 2 7 2 7 2 5 2 1 2-7 2-12 2-10 2-2 2 8 2 9 2 1 2-9 2-13 2-8 2 7 2 20 2 23 2 16 2 2 2-13 2-22 2-27 2-25 2-16 2 2 2 26 2 46 2 47 2 27 2-9 2-42 2-57 2-45 2-15 2 18 2 39 2 40 2 22 2-1 2-15 2-13 2-3 2 4 2 2 2-9 2-19 2-20 2-6 2 13 2 29 2 29 2 15 2-6 2-20 2-24 2-15 2-5 2 4 2 8 2 8 2 4 2 1 2 2 2 4 2 7 2 7 2 2 2-4 2-12 2-16 2-14 2-8 2 4 2 16 2 23 2 22 2 11 2-6 2-25 2-33 2-27 2-8 2 15 2 32 2 35 2 24 2 6 2-12 2-23 2-29 2-26 2-18 2-4 2 11 2 23 2 31 2 31 2 22 2 4 2-19 2-36 2-41 2-31 2-12 2 14 2 33 2 42 2 35 2 18 2-5 2-25 2-36 2-39 2-31 2-11 2 17 2 42 2 52 2 37 2 7 2-24 2-41 2-36 2-16 2 4 2 15 2 14 2 3 2-6 2-9 2-2 2 12 2 28 2 31 2 18 2-8 2-34 2-49 2-45 2-24 2 7 2 38 2 57 2 55 2 31 2-6 2-42 2-57 2-47 2-17 2 16 2 36 2 36 2 21 2 1 2-15 2-25 2-26 2-14 2 9 2 30 2 36 2 24 2-3 2-28 2-40 2-34 2-14 2 11 2 31 2 39 2 33 2 13 2-11 2-30 2-37 2-29 2-12 2 5 2 15 2 21 2 20 2 19 2 17 2 8 2-3 2-17 2-27 2-25 2-15 2-4 2 3 2 5 2 6 2 13 2 22 2 27 2 20 2 1 2-20 2-34 2-32 2-14 2 7 2 21 2 20 2 9 2-2 2-9 2-6 2-1 2 3 2 4 2 2 2 1 2 1 2 2 2 0 2-2 2-6 2-10 2-11 2-6 2 4 2 16 2 24 2 21 2 4 2-15 2-29 2-30 2-16 2 7 2 26 2 33 2 23 2 0 2-22 2-34 2-25 2-2 2 22 2 33 2 26 2 7 2-15 2-29 2-28 2-15 2 2 2 17 2 21 2 15 2 4 2-3 2-4 2-1 2-1 2-3 2-8 2-7 2-3 2 2 2 4 2 1 2-1 2 0 2 4 2 6 2 4 2 1 2-2 2-1 2-1 2-2 2-4 2-6 2-6 2-1 2 3 2 8 2 8 2 6 2 1 2-5 2-7 2-6 2 0 2 5 2 4 2-2 2-8 2-6 2 4 2 13 2 15 2 5 2-8 2-16 2-16 2-8 2 1 2 7 2 10 2 11 2 11 2 8 2 0 2-8 2-14 2-16 2-12 2-5 2 7 2 18 2 22 2 13 2-3 2-15 2-19 2-9 2 2 2 9 2 8 2 3 2-1 2-2 2-2 2-3 2-6 2-5 2 1 2 10 2 17 2 16 2 4 2-13 2-25 2-26 2-13 2 4 2 18 2 24 2 20 2 12 2 1 2-12 2-21 2-23 2-15 2-2 2 15 2 24 2 23 2 13 2-2 2-17 2-26 2-27 2-16 2 4"/><path d="M472 1773l4 1 4 0 4 1 4 0 4 1 4-1 4-2 4-1 4 0 4 0 4 2 4 2 4 0 4-1 4-1 4-1 4 0 4 1 4 0 4 0 4 0 4 0 4 0 4 0 4 0 4-1 4 0 4 1 4 0 4 0 4 0 4 1 4 0 4 0 4-1 4-1 4 0 4 0 4 1 4 0 4 0 4 0 4 0 4 0 4 0 4 0 4 0 4 0 4 1 4-1 4 0 4-1 4 0 4 0 4 1 4 1 4 0 4 0 4-1 4 0 4 0 4 0 4-1 4 1 4 0 4 0 4 1 4-1 4 0 4-1 4 0 4 1 4 1 4 0 4 0 4-1 4-1 4 0 4 0 4 1 4 0 4 1 4 0 4 0 4 0 4-2 4-1 4 0 4 0 4 2 4 1 4 1 4 0 4-1 4-1 4 0 4-1 4 0 4 0 4 0 4 1 4 0 4 0 4 0 4 0 4 0 4 0 4 0 4 0 4 0 4-1 4 0 4 0 4 0 4 1 4 0 4 1 4 0 4 0 4-1 4 0 4 0 4 0 4 0 4-1 4 0 4 0 4 1 4 1 4 0 4 0 4 0 4-1 4 0 4-1 4 0 4 1 4 0 4 0 4 0 4 0 4-1 4 0 4 1 4 0 4 1 4 0 4-1 4 1 4 0 4 0 4-1 4-1 4 0 4 0 4 0 4 1 4 0 4 1 4 0 4 0 4-1 4 0 4 0 4 0 4 0 4 0 4 0 4 0 4-1 4 0 4 1 4 0 4 0 4 0 4 0 4 0 4 0 4 0 4 0 4 0 4 0 4 1 4 0 4 0 4-1 4-1 4-1 4 1 4 1 4 1 4 0 4 0 4 0 4-1 4 0 4 0 4-1 4-1 4 0 4 2 4 1 4 1 4 0 4-1 4-2 4 0 4 0 4 1 4 0 4 0 4 0 4 0 4 0 4 0 4 0 4 0 4 0 4 1 4 0 4 0 4-1 4-1 4 0 4 0 4 0 4 1 4 0 4 1 4 0 4-1 4 0 4 0 4 1 4 0 4-1 4-1 4-1 4 0 4 1 4 1 4 1 4 1 4-1 4-1 4-1 4 0 4 0 4 1 4 1 4 0 4 0 4 0 4-1 4 0 4 0 4-1 4 0 4 0 4 0 4 1 4 1 4 0 4 0 4-1 4 1 4 0 4 0 4-1 4-1 4-1 4 0 4 1 4 1 4 1 4 0 4 0 4-1 4-1 4 0 4 0 4 1 4 1 4 0 4-1 4 0 4 0 4 0 4 0 4 0 4 0 4-1 4 0 4 1 4 1 4 0 4-1 4-1 4 0 4 1 4 0 4 1 4 0 4-1 4 0 4 0 4 0 4 0 4 0 4 0 4-1 4 0 4 0 4 1 4 1 4 0 4 0 4-1 4 0 4 0 4 0 4-1 4 0 4 0 4 1 4 1 4-1 4 0 4 0 4 1 4 0 4-1 4-1 4 0 4 0 4 1 4 1 4 0 4 0 4-1 4 0 4 0 4 0 4 0 4 0 4 0 4 0 4 0 4-1 4 0 4 1 4 0 4 0 4 0 4 0 4 0 4-1 4 1 4 0 4 1 4 0 4 0 4-1 4-1 4 0 4 1 4 0 4 0 4 0 4 0 4-1 4 1 4 0 4 1 4 0 4 0 2-1 2 0 2 0 2 0 2 0 2-1 2 1 2 1 2 1 2-1 2-2 2-3 2-2 2 0 2 3 2 3 2 3 2 1 2-1 2 0 2 0 2 2 2 1 2 0 2-4 2-6 2-7 2-5 2-1 2 7 2 12 2 15 2 11 2 0 2-11 2-20 2-21 2-13 2 2 2 18 2 25 2 21 2 5 2-9 2-18 2-15 2-8 2 0 2 5 2 7 2 7 2 5 2 2 2-5 2-10 2-9 2-1 2 10 2 17 2 12 2 2 2-11 2-18 2-16 2-9 2 2 2 11 2 18 2 15 2 6 2-7 2-14 2-14 2-4 2 6 2 11 2 10 2 1 2-7 2-10 2-7 2-2 2 3 2 6 2 7 2 7 2 6 2 2 2-6 2-13 2-16 2-10 2 1 2 14 2 19 2 14 2 4 2-5 2-9 2-11 2-10 2-8 2-3 2 5 2 11 2 14 2 8 2 1 2-7 2-9 2-10 2-8 2-3 2 5 2 12 2 14 2 11 2 0 2-9 2-12 2-9 2-3 2-1 2-2 2-3 2-3 2 4 2 12 2 17 2 16 2 7 2-5 2-14 2-18 2-18 2-17 2-11 2-1 2 15 2 30 2 36 2 28 2 7 2-20 2-40 2-44 2-28 2-2 2 23 2 37 2 36 2 21 2 2 2-17 2-30 2-33 2-22 2-4 2 15 2 27 2 29 2 20 2 6 2-10 2-19 2-22 2-19 2-10 2 1 2 13 2 20 2 19 2 9 2-3 2-13 2-13 2-9 2-1 2 3 2 4 2 2 2 2 2 6 2 7 2 4 2-4 2-12 2-12 2-7 2 2 2 9 2 8 2 5 2 1 2-1 2 1 2 3 2 3 2 1 2-6 2-12 2-13 2-10 2 0 2 11 2 21 2 23 2 14 2-1 2-20 2-29 2-27 2-12 2 9 2 28 2 34 2 23 2 1 2-21 2-33 2-29 2-12 2 8 2 23 2 27 2 23 2 9 2-8 2-22 2-23 2-14 2 2 2 13 2 14 2 6 2-4 2-8 2-4 2 2 2 4 2 2 2-1 2 0 2 3 2 4 2 0 2-7 2-13 2-10 2 1 2 16 2 22 2 14 2 0 2-15 2-20 2-14 2-5 2 3 2 6 2 6 2 7 2 8 2 7 2 4 2-2 2-7 2-11 2-9 2-4 2 2 2 7 2 8 2 5 2 3 2 0 2-2 2-4 2-6 2-6 2-3 2 2 2 4 2 5 2 0 2-4 2-2 2 3 2 10 2 13 2 7 2-5 2-15 2-20 2-16 2-8 2 5 2 15 2 22 2 21 2 16 2 2 2-15 2-29 2-32 2-20 2 1 2 25 2 36 2 34 2 16 2-9 2-32 2-43 2-36 2-11 2 19 2 43 2 48 2 32 2 1 2-30 2-47 2-42 2-21 2 7 2 30 2 41 2 38 2 21 2-5 2-33 2-48 2-44 2-18 2 17 2 44 2 48 2 31 2 0 2-26 2-32 2-23 2-7 2 5 2 8 2 4 2 2 2 4 2 8 2 9 2 8 2 1 2-9 2-16 2-17 2-8 2 5 2 17 2 20 2 13 2-1 2-13 2-19 2-16 2-8 2 5 2 16 2 20 2 18 2 8 2-7 2-19 2-26 2-21 2-5 2 11 2 24 2 25 2 17 2 4 2-13 2-24 2-27 2-19 2-2 2 19 2 33 2 32 2 14 2-10 2-29 2-33 2-22 2-4 2 11 2 20 2 20 2 16 2 11 2 3 2-7 2-17 2-23 2-19 2-6 2 11 2 23 2 22 2 9 2-9 2-22 2-24 2-12 2 6 2 25 2 34 2 27 2 4 2-23 2-41 2-41 2-20 2 10 2 33 2 39 2 27 2 9 2-9 2-18 2-21 2-21 2-17 2-8 2 5 2 21 2 28 2 22 2 3 2-14 2-19 2-10 2 3 2 8 2 2 2-8 2-16 2-13 2-2 2 13 2 25 2 28 2 19 2 0 2-23 2-38 2-37 2-19 2 8 2 33 2 42 2 34 2 11 2-16 2-34 2-36 2-21 2-2 2 17 2 25 2 21 2 10 2-3 2-15 2-16 2-8 2 3 2 10 2 11 2 7 2 1 2-4 2-10 2-15 2-15 2-6 2 6 2 19 2 24 2 18 2 3 2-13 2-21 2-20 2-8 2 5 2 14 2 13 2 5 2-5 2-9 2-3 2 7 2 11 2 5 2-10 2-23 2-21 2-4 2 17 2 31 2 28 2 11 2-10 2-24 2-27 2-18 2-3 2 12 2 20 2 19 2 9 2-6 2-12 2-8 2 0 2 3 2-5 2-16 2-20 2-4 2 27 2 55 2 55 2 18 2-44 2-92 2-91 2-36 2 40 2 84 2 78 2 32 2-10 2-22 2-9 2 2 2-11 2-43 2-71 2-60 2-2 2 77 2 129 2 116 2 36 2-71 2-147 2-148 2-76 2 28 2 118 2 151 2 114 2 24 2-75 2-133 2-121 2-48 2 41 2 99 2 101 2 56 2-9 2-61 2-82 2-70 2-29 2 24 2 66 2 77 2 53 2 4 2-43 2-65 2-54 2-15 2 24 2 47 2 48 2 37 2 18 2-15 2-59 2-94 2-94 2-45 2 35 2 109 2 146 2 134 2 69 2-29 2-126 2-178 2-160 2-81 2 26 2 117 2 161 2 148 2 78 2-25 2-113 2-140 2-93 2-8 2 56 2 71 2 46 2 12 2-11 2-23 2-21 2-9 2 7 2 20 2 19 2 4 2-16 2-32 2-40 2-29 2 7 2 64 2 101 2 82 2-3 2-102 2-147 2-104 2-1 2 91 2 126 2 95 2 29 2-42 2-90 2-95 2-58 2-1 2 49 2 77 2 83 2 73 2 39 2-24 2-94 2-137 2-116 2-39 2 48 2 88 2 66 2 29 2 29 2 75 2 113 2 80 2-38 2-180 2-261 2-222 2-74 2 117 2 257 2 286 2 195 2 39 2-114 2-207 2-221 2-160 2-54 2 62 2 157 2 193 2 151 2 37 2-96 2-175 2-151 2-42 2 86 2 151 2 112 2-2 2-117 2-154 2-83 2 52 2 162 2 166 2 55 2-102 2-191 2-153 2-15 2 126 2 182 2 125 2 1 2-108 2-140 2-89 2 2 2 72 2 80 2 30 2-41 2-79 2-52 2 35 2 125 2 149 2 72 2-70 2-184 2-191 2-91 2 48 2 140 2 141 2 74 2-8 2-54 2-46 2-8 2 24 2 23 2-13 2-57 2-76 2-60 2-11 2 47 2 94 2 110 2 81 2 14 2-67 2-117 2-106 2-36 2 47 2 83 2 50 2-23 2-69 2-46 2 29 2 95 2 98 2 39 2-38 2-89 2-98 2-73 2-29 2 26 2 83 2 114 2 96 2 25 2-68 2-133 2-134 2-64 2 38 2 122 2 148 2 113 2 41 2-35 2-99 2-146 2-159 2-120 2-22 2 103 2 194 2 205 2 129 2 20 2-68 2-107 2-109 2-105 2-104 2-90 2-39 2 50 2 144 2 196 2 171 2 71 2-57 2-151 2-164 2-100 2-4 2 65 2 74 2 35 2-19 2-47 2-32 2 11 2 52 2 64 2 39 2-5 2-43 2-55 2-38 2-6 2 24 2 41 2 40 2 26 2 0 2-36 2-67 2-79 2-56 2 4 2 77 2 121 2 108 2 42 2-42 2-97 2-96 2-53 2 2 2 40 2 46 2 31 2 6 2-11 2-14 2-8 2-5 2-7 2-10 2-3 2 18 2 41 2 44 2 19 2-24 2-54 2-56 2-33 2-6 2 14 2 29 2 44 2 54 2 41 2-3 2-60 2-93 2-75 2-12 2 63 2 109 2 107 2 61 2-17 2-100 2-154 2-141 2-52 2 78 2 173 2 178 2 86 2-44 2-137 2-146 2-81 2 11 2 83 2 103 2 68 2 2 2-64 2-90 2-62 2 5 2 67 2 85 2 50 2-6 2-45 2-47 2-23 2-2 2-1 2-11 2-20 2-6 2 22 2 50 2 57 2 35 2-7 2-51 2-74 2-60 2-15 2 43 2 78 2 66 2 12 2-48 2-68 2-37 2 22 2 55 2 33 2-29 2-75 2-66 2 5 2 89 2 124 2 88 2-2 2-90 2-131 2-107 2-37 2 41 2 89 2 92 2 55 2 6 2-31 2-47 2-41 2-22 2 0 2 17 2 25 2 24 2 14 2-10 2-41 2-57 2-41 2 12 2 76 2 108 2 81 2 4 2-83 2-130 2-110 2-32 2 53 2 100 2 86 2 35 2-15 2-36 2-25 2-7 2 3 2-3 2-11 2-15 2-14 2-12 2-9 2 1 2 22 2 45 2 50 2 26 2-17 2-53 2-55 2-27 2 12 2 32 2 23 2 2 2-12 2-4 2 13 2 15 2-2 2-26 2-30 2-4 2 32 2 43 2 19 2-21 2-44 2-28 2 10 2 35 2 28 2-2 2-23 2-18 2 3 2 10 2-4 2-22 2-22 2 0 2 28 2 41 2 33 2 7 2-23 2-43 2-47 2-30 2 3 2 46 2 77 2 75 2 33 2-37 2-99 2-124 2-97 2-29 2 54 2 124 2 151 2 124 2 49 2-43 2-118 2-148 2-129 2-69 2 9 2 81 2 123 2 117 2 68 2-2 2-60 2-81 2-63 2-20 2 17 2 34 2 24 2 5 2-13 2-23 2-26 2-20 2 1 2 38 2 74 2 78 2 38 2-33 2-96 2-117 2-83 2-15 2 55 2 97 2 99 2 62 2 4 2-45 2-70 2-63 2-36 2-2 2 23 2 35 2 37 2 32 2 20 2-1 2-30 2-54 2-56 2-25 2 21 2 56 2 63 2 41 2 7 2-23 2-42 2-42 2-28 2-8 2 10 2 18 2 19 2 13 2 4 2-2 2-2 2 7 2 14 2 13 2-3 2-24 2-36 2-31 2-11 2 14 2 31 2 34 2 26 2 12 2-6 2-21 2-25 2-17 2 1 2 15 2 12 2-6 2-22 2-22 2-3 2 21 2 30 2 21 2 3 2-10 2-15 2-12 2-6 2 2 2 7 2 7 2-1 2-11 2-15 2-5 2 14 2 28 2 29 2 13 2-17 2-44 2-51 2-33 2 5 2 42 2 59 2 49 2 16 2-18 2-39 2-39 2-22 2 0 2 12 2 10 2 1 2-5 2-2 2 5 2 9 2 9 2 8 2 12 2 16 2 13 2-1 2-28 2-51 2-55 2-29 2 19 2 63 2 78 2 52 2 3 2-44 2-66 2-54 2-18 2 22 2 44 2 42 2 17 2-12 2-28 2-25 2-10 2 5 2 12 2 10 2 5 2 1 2 1 2 4 2 7 2 7 2 0 2-14 2-27 2-32 2-18 2 12 2 41 2 56 2 41 2 2 2-42 2-69 2-57 2-14 2 38 2 67 2 60 2 22 2-22 2-53 2-59 2-37 2 0 2 34 2 53 2 46 2 22 2-9 2-34 2-46 2-42 2-21 2 12 2 45 2 60 2 46 2 6 2-37 2-65 2-63 2-31 2 12 2 48 2 64 2 53 2 22 2-13 2-37 2-46 2-40 2-23 2-5 2 14 2 28 2 32 2 28 2 16 2 3 2-11 2-22 2-25 2-22 2-12 2 2 2 16 2 23 2 18 2 3 2-12 2-18 2-11 2 6 2 20 2 24 2 12 2-11 2-31 2-36 2-20 2 8 2 31 2 34 2 19 2-3 2-15 2-14 2-8 2-3 2-3 2-5 2-4 2 4 2 10 2 10 2 4 2-3 2-4 2-2 2-1 2-1 2-1 2 2 2 8 2 12 2 6 2-9 2-23 2-27 2-15 2 6 2 22 2 23 2 15 2 7 2 3 2 3 2 2 2-7 2-14 2-19 2-16 2-13 2-11 2-6 2 4 2 23 2 43 2 49 2 32 2-5 2-45 2-67 2-57 2-21 2 22 2 51 2 49 2 26 2-3 2-20 2-21 2-14 2-6 2-3 2-1 2 3 2 8 2 11 2 11 2 8 2 2 2-9 2-19 2-23 2-18 2-3 2 12 2 26 2 34 2 31 2 15 2-10 2-37 2-51 2-45 2-19 2 15 2 46 2 54 2 42 2 12 2-19 2-37 2-37 2-24 2-7 2 4 2 13 2 19 2 23 2 22 2 12 2-7 2-27 2-37 2-31 2-7 2 22 2 41 2 42 2 22 2-8 2-32 2-38 2-28 2-10 2 6 2 15 2 18 2 19 2 18 2 15 2 7 2-5 2-21 2-31 2-32 2-18 2 7 2 28 2 37 2 27 2 4 2-17 2-24 2-20 2-7 2 4 2 10 2 10 2 6 2 3 2 1 2 0 2 0 2-1 2-3 2-7 2-9 2-9 2-6 2 2 2 12 2 20 2 18 2 7 2-7 2-17 2-18 2-11 2-1 2 5 2 5 2 6 2 8 2 7 2 3 2-4 2-11 2-13 2-6 2 5 2 15 2 19 2 13 2-2 2-18 2-25 2-20 2-4 2 12 2 21 2 19 2 9 2-2 2-7 2-5 2 1 2 0 2-12 2-24 2-25 2-6 2 23 2 43 2 44 2 21 2-10 2-37 2-44 2-34 2-14 2 8 2 22 2 30 2 29 2 20 2 4 2-12 2-23 2-23 2-16 2-3 2 9 2 14 2 12 2 1 2-9 2-12 2-5 2 8 2 20 2 20 2 9 2-8 2-23 2-27 2-19 2-5 2 11 2 21 2 23 2 16 2 5 2-7 2-14 2-16 2-11 2-2 2 6 2 9 2 5 2-2 2-6 2-4 2 2 2 8 2 10 2 6 2-1 2-8 2-12 2-11 2-6 2 0 2 10 2 17 2 18 2 10 2-5 2-21 2-28 2-21 2-4 2 17 2 31 2 32 2 15 2-9 2-30 2-34 2-21 2 3 2 23 2 30 2 21 2 2 2-15 2-25 2-20 2-5 2 12 2 22 2 21 2 10 2-8 2-23 2-28 2-20 2 0 2 20 2 31 2 26 2 10 2-8 2-19 2-21 2-18 2-10 2 1 2 13 2 21 2 21 2 10 2-2 2-13 2-19 2-19 2-14 2-4 2 11 2 24 2 27 2 18 2 0 2-16 2-25 2-24 2-14 2 0 2 14 2 23 2 21 2 10 2-5 2-16 2-17 2-8 2 1 2 6 2 2 2 0 2 2 2 8 2 12 2 6 2-5 2-17 2-19 2-7 2 8 2 19 2 18 2 5 2-10 2-16 2-16 2-8 2 1 2 11 2 16 2 18 2 12 2 4 2-6 2-15 2-19 2-21 2-19 2-10 2 4 2 24 2 40 2 40 2 22 2-9 2-35 2-44 2-33 2-9 2 12 2 20 2 18 2 12 2 6 2 4 2 0 2-6 2-7 2-5 2 1 2 3 2-2 2-8 2-7 2 0 2 6 2 8 2 4 2-1 2-3 2-2 2 0 2 4 2 6 2 6 2-1 2-10 2-19 2-17 2-4 2 14 2 27 2 26 2 14 2-5 2-22 2-28 2-23 2-9 2 8 2 21 2 25 2 20 2 9 2-8 2-23 2-30 2-27 2-8 2 16 2 38 2 42 2 26 2-3 2-32 2-45 2-36 2-13 2 13 2 31 2 34 2 22 2 2 2-16 2-23 2-18 2-4 2 9 2 13 2 9 2-1 2-8 2-8 2-1 2 7 2 10 2 6 2-3 2-10 2-14 2-11 2-1 2 10 2 18 2 17"/><path d="M472 1791l4 0 4 1 4 1 4 1 4 0 4 0 4-1 4-1 4-1 4 0 4 0 4 1 4 1 4 1 4 0 4 0 4 0 4-2 4 0 4 0 4 0 4 0 4 0 4 0 4 1 4 0 4 1 4 0 4-1 4 0 4-1 4 0 4 0 4 0 4 0 4 1 4 0 4 0 4 0 4 0 4 0 4-1 4 0 4 0 4 1 4 0 4 0 4-1 4 0 4 0 4 1 4 1 4 0 4-1 4-1 4 0 4 0 4 0 4 1 4 0 4-1 4 0 4 0 4 0 4 1 4 0 4 0 4 0 4 0 4 0 4-1 4 0 4 0 4 0 4 0 4 0 4 1 4 0 4 0 4 1 4 1 4-1 4-1 4-2 4-1 4 1 4 1 4 1 4 1 4 0 4-1 4 0 4 0 4 0 4-1 4 0 4 0 4 1 4 0 4 0 4 0 4 0 4 0 4 0 4 0 4 0 4 0 4-1 4-1 4 0 4 1 4 1 4 1 4 0 4 0 4 0 4-1 4-1 4-1 4 0 4 0 4 1 4 1 4 1 4 0 4-1 4 0 4 0 4 0 4 0 4-1 4 0 4-1 4 1 4 0 4 0 4 1 4 1 4 0 4 0 4-1 4-1 4 0 4 0 4 1 4 0 4-1 4 0 4 0 4 1 4 0 4 0 4-1 4 0 4 0 4 0 4 1 4 1 4-1 4 0 4 0 4 0 4-1 4 0 4-1 4 1 4 0 4 1 4 0 4 0 4-1 4 0 4 0 4 1 4 0 4 1 4 0 4-1 4 0 4-1 4 0 4 0 4-1 4 0 4 1 4 1 4 1 4 0 4-1 4-1 4 0 4 0 4 0 4 0 4 0 4 1 4 0 4 1 4 0 4-1 4-1 4 0 4 0 4 0 4 1 4 0 4 0 4 0 4 0 4 0 4 0 4-1 4 0 4 0 4 0 4 1 4 0 4 0 4 0 4 0 4 0 4 0 4 0 4-1 4 0 4 0 4-1 4 1 4 1 4 1 4 1 4-1 4-2 4-1 4-1 4 1 4 1 4 1 4 2 4 0 4-1 4-2 4-1 4 0 4 1 4 1 4-1 4 0 4 0 4 0 4 1 4 1 4 0 4-1 4-1 4 0 4 0 4 0 4 0 4 0 4 1 4 0 4 0 4 0 4 1 4-1 4 0 4-1 4 0 4-1 4 1 4 0 4 1 4 0 4 0 4 0 4 0 4 0 4 0 4 0 4 0 4 0 4 0 4-1 4 0 4 0 4 0 4 0 4 0 4 1 4 1 4 0 4-1 4-1 4 0 4 0 4 1 4 0 4 0 4 0 4 0 4-1 4-1 4 0 4 1 4 1 4 1 4 0 4 0 4-1 4-1 4 0 4 0 4 0 4 0 4 1 4 0 4 0 4 0 4 0 4 0 4 0 4-1 4-1 4 0 4 1 4 1 4 0 4 0 4 0 4 0 4 1 4 0 4 0 4-1 4-1 4-1 4 0 4 0 4 1 4 2 4 0 4 0 4 0 4-1 4-1 4 0 4 0 4 0 4 0 4 0 4 0 4 0 4 0 4 0 4 0 4 2 4 1 4 0 4-1 4-1 4-1 4-1 4 0 4 0 4 1 4 1 4 1 4-1 4-1 4 0 4 1 4 0 4 1 4 0 4-1 2-1 2-1 2 0 2 0 2 0 2 0 2 1 2-1 2-1 2-1 2 1 2 4 2 6 2 4 2 1 2-4 2-8 2-9 2-7 2 0 2 6 2 10 2 11 2 5 2-2 2-9 2-10 2-7 2-1 2 6 2 9 2 6 2-1 2-7 2-9 2-6 2 3 2 12 2 15 2 8 2-5 2-16 2-17 2-6 2 8 2 16 2 12 2 0 2-10 2-13 2-8 2 2 2 8 2 9 2 4 2-2 2-6 2-4 2-1 2 4 2 6 2 6 2 0 2-4 2-5 2-3 2 2 2 1 2-4 2-10 2-10 2-1 2 13 2 21 2 17 2 4 2-13 2-21 2-15 2-1 2 13 2 15 2 6 2-9 2-15 2-11 2 0 2 9 2 12 2 7 2-1 2-4 2 0 2 9 2 13 2 7 2-8 2-26 2-34 2-26 2-3 2 22 2 40 2 43 2 28 2 3 2-21 2-35 2-35 2-24 2-8 2 6 2 14 2 17 2 16 2 14 2 13 2 10 2 4 2-5 2-15 2-22 2-24 2-17 2-7 2 4 2 13 2 22 2 23 2 19 2 8 2-7 2-14 2-13 2-7 2-1 2-4 2-11 2-14 2-9 2 5 2 20 2 26 2 19 2 4 2-11 2-19 2-17 2-5 2 7 2 13 2 12 2 1 2-7 2-12 2-10 2-5 2-2 2 0 2 3 2 8 2 15 2 17 2 12 2 1 2-12 2-21 2-22 2-14 2-3 2 9 2 15 2 16 2 13 2 8 2 1 2-6 2-13 2-17 2-15 2-5 2 7 2 16 2 17 2 12 2 3 2-6 2-12 2-16 2-13 2-7 2 4 2 14 2 21 2 20 2 8 2-8 2-23 2-27 2-19 2-2 2 14 2 26 2 27 2 18 2 0 2-19 2-32 2-29 2-14 2 7 2 21 2 25 2 20 2 11 2 3 2-3 2-11 2-22 2-27 2-23 2-7 2 14 2 32 2 37 2 25 2 4 2-17 2-28 2-30 2-20 2-6 2 11 2 21 2 23 2 14 2 2 2-8 2-11 2-8 2-2 2-1 2-1 2-3 2-3 2-1 2 3 2 6 2 7 2 5 2 3 2-1 2-5 2-9 2-8 2-3 2 5 2 9 2 10 2 5 2-4 2-11 2-12 2-8 2 1 2 9 2 11 2 9 2 5 2 2 2-1 2-5 2-7 2-9 2-9 2-8 2-6 2 3 2 16 2 26 2 24 2 6 2-19 2-36 2-34 2-12 2 14 2 32 2 34 2 18 2-2 2-18 2-22 2-18 2-9 2-1 2 1 2 4 2 6 2 12 2 16 2 16 2 9 2-5 2-18 2-22 2-18 2-4 2 9 2 14 2 10 2 4 2-3 2-6 2-6 2-4 2-2 2 4 2 9 2 14 2 12 2 4 2-6 2-16 2-19 2-12 2-2 2 6 2 6 2 2 2 0 2 4 2 12 2 16 2 12 2-1 2-16 2-23 2-17 2-1 2 13 2 17 2 7 2-7 2-14 2-10 2 1 2 8 2 10 2 8 2 10 2 10 2 5 2-10 2-27 2-33 2-21 2 8 2 34 2 45 2 29 2 1 2-26 2-39 2-33 2-16 2 6 2 25 2 34 2 29 2 12 2-10 2-26 2-30 2-22 2-6 2 7 2 17 2 20 2 22 2 17 2 6 2-10 2-23 2-28 2-20 2-5 2 5 2 11 2 12 2 12 2 13 2 12 2 8 2-2 2-12 2-16 2-12 2-4 2 3 2 1 2-4 2-9 2-5 2 4 2 15 2 21 2 19 2 11 2-3 2-17 2-25 2-22 2-10 2 3 2 10 2 9 2 4 2 4 2 8 2 14 2 15 2 8 2-6 2-21 2-31 2-28 2-12 2 10 2 27 2 34 2 27 2 11 2-7 2-24 2-31 2-29 2-16 2 4 2 23 2 32 2 30 2 19 2 3 2-12 2-26 2-33 2-28 2-15 2 4 2 20 2 26 2 22 2 14 2 6 2 0 2-3 2-6 2-13 2-17 2-19 2-15 2-3 2 10 2 22 2 23 2 15 2 2 2-13 2-21 2-18 2-5 2 14 2 26 2 23 2 5 2-17 2-31 2-28 2-12 2 10 2 25 2 26 2 16 2 1 2-11 2-15 2-11 2-6 2-6 2-4 2-1 2 8 2 19 2 22 2 12 2-8 2-24 2-28 2-15 2 6 2 24 2 28 2 17 2-3 2-21 2-30 2-25 2-8 2 13 2 27 2 31 2 22 2 5 2-15 2-27 2-27 2-17 2 0 2 11 2 21 2 23 2 15 2-1 2-17 2-28 2-24 2-9 2 14 2 36 2 41 2 28 2 1 2-29 2-50 2-54 2-40 2-10 2 25 2 59 2 74 2 61 2 19 2-35 2-71 2-69 2-33 2 7 2 27 2 16 2-3 2-5 2 21 2 61 2 80 2 51 2-30 2-123 2-165 2-121 2-7 2 118 2 187 2 173 2 86 2-32 2-132 2-177 2-149 2-61 2 45 2 123 2 140 2 98 2 27 2-41 2-81 2-90 2-72 2-33 2 13 2 57 2 85 2 89 2 64 2 15 2-46 2-102 2-127 2-107 2-42 2 41 2 108 2 134 2 114 2 55 2-16 2-70 2-82 2-60 2-30 2-24 2-42 2-53 2-30 2 35 2 110 2 157 2 145 2 72 2-39 2-149 2-207 2-180 2-73 2 64 2 163 2 178 2 106 2-6 2-92 2-109 2-61 2 14 2 71 2 81 2 44 2-22 2-97 2-138 2-107 2 3 2 141 2 221 2 173 2 9 2-177 2-265 2-191 2-2 2 183 2 251 2 177 2 21 2-116 2-174 2-154 2-92 2-15 2 59 2 124 2 153 2 121 2 28 2-77 2-139 2-128 2-67 2 3 2 54 2 82 2 91 2 78 2 38 2-24 2-81 2-110 2-100 2-58 2 1 2 61 2 105 2 119 2 90 2 23 2-55 2-101 2-91 2-36 2 16 2 33 2 11 2-19 2-26 2-1 2 37 2 65 2 59 2 17 2-40 2-82 2-82 2-39 2 27 2 85 2 109 2 87 2 21 2-64 2-132 2-147 2-98 2-4 2 94 2 153 2 148 2 80 2-13 2-93 2-128 2-110 2-54 2 18 2 73 2 92 2 73 2 37 2 4 2-17 2-41 2-71 2-99 2-96 2-41 2 49 2 131 2 160 2 121 2 38 2-44 2-92 2-103 2-93 2-79 2-59 2-22 2 36 2 101 2 141 2 132 2 78 2-6 2-84 2-134 2-134 2-84 2-8 2 59 2 84 2 63 2 25 2 8 2 21 2 38 2 26 2-25 2-89 2-117 2-82 2-1 2 80 2 119 2 98 2 35 2-35 2-75 2-66 2-17 2 36 2 54 2 16 2-54 2-108 2-96 2-18 2 84 2 151 2 147 2 79 2-6 2-68 2-90 2-86 2-77 2-67 2-55 2-26 2 20 2 75 2 120 2 138 2 115 2 54 2-32 2-113 2-159 2-144 2-72 2 20 2 80 2 89 2 63 2 34 2 19 2 5 2-17 2-41 2-49 2-29 2 8 2 40 2 47 2 28 2-8 2-40 2-59 2-57 2-35 2 5 2 56 2 97 2 105 2 65 2-12 2-90 2-133 2-120 2-58 2 27 2 99 2 130 2 108 2 39 2-43 2-107 2-122 2-85 2-6 2 79 2 136 2 138 2 71 2-49 2-164 2-209 2-146 2-2 2 146 2 220 2 184 2 69 2-61 2-136 2-128 2-64 2 2 2 20 2-11 2-52 2-49 2 15 2 110 2 178 2 170 2 76 2-66 2-196 2-250 2-200 2-66 2 91 2 205 2 233 2 170 2 45 2-88 2-177 2-186 2-112 2 4 2 106 2 149 2 113 2 27 2-64 2-115 2-104 2-44 2 32 2 90 2 105 2 69 2-5 2-80 2-111 2-71 2 19 2 99 2 112 2 42 2-63 2-129 2-109 2-15 2 87 2 132 2 95 2 6 2-76 2-103 2-67 2-2 2 51 2 64 2 44 2 9 2-24 2-42 2-40 2-18 2 12 2 32 2 28 2 1 2-23 2-26 2 2 2 37 2 50 2 28 2-20 2-57 2-56 2-23 2 13 2 22 2 8 2-4 2 9 2 40 2 61 2 41 2-16 2-76 2-98 2-65 2 4 2 66 2 90 2 71 2 26 2-24 2-66 2-90 2-83 2-31 2 53 2 127 2 146 2 88 2-24 2-135 2-182 2-138 2-19 2 110 2 178 2 146 2 35 2-91 2-157 2-133 2-33 2 85 2 159 2 154 2 70 2-54 2-158 2-194 2-141 2-27 2 94 2 171 2 176 2 113 2 13 2-78 2-127 2-123 2-80 2-20 2 33 2 65 2 74 2 60 2 30 2-2 2-30 2-47 2-49 2-31 2-3 2 27 2 44 2 39 2 14 2-16 2-38 2-41 2-19 2 15 2 45 2 51 2 27 2-14 2-52 2-65 2-48 2-7 2 39 2 72 2 73 2 42 2-11 2-59 2-80 2-66 2-23 2 28 2 64 2 71 2 51 2 13 2-22 2-48 2-60 2-61 2-45 2-5 2 50 2 98 2 103 2 51 2-33 2-95 2-96 2-43 2 17 2 40 2 19 2-12 2-17 2 16 2 61 2 77 2 49 2-15 2-76 2-104 2-88 2-40 2 14 2 58 2 83 2 91 2 75 2 36 2-22 2-77 2-106 2-96 2-51 2 2 2 45 2 66 2 66 2 54 2 39 2 20 2-2 2-29 2-55 2-72 2-67 2-40 2 1 2 38 2 61 2 66 2 57 2 34 2 3 2-34 2-66 2-71 2-45 2 4 2 46 2 59 2 37 2-4 2-38 2-46 2-29 2 4 2 33 2 51 2 49 2 33 2 2 2-36 2-68 2-77 2-53 2-3 2 45 2 69 2 57 2 23 2-8 2-19 2-6 2 11 2 16 2-4 2-35 2-59 2-53 2-22 2 18 2 43 2 47 2 40 2 32 2 29 2 24 2 2 2-39 2-84 2-103 2-75 2-5 2 73 2 119 2 110 2 52 2-19 2-75 2-93 2-70 2-19 2 30 2 58 2 49 2 21 2-9 2-20 2-17 2-10 2-4 2-3 2 0 2 7 2 11 2 9 2 1 2-10 2-14 2-8 2 4 2 10 2 7 2-2 2-7 2 0 2 13 2 20 2 15 2-2 2-22 2-34 2-34 2-18 2 7 2 32 2 42 2 30 2 4 2-19 2-24 2-13 2 7 2 19 2 14 2-3 2-24 2-35 2-27 2-4 2 22 2 33 2 28 2 10 2-3 2-5 2-1 2 3 2-3 2-13 2-20 2-18 2-9 2 2 2 10 2 16 2 21 2 20 2 9 2-12 2-29 2-32 2-12 2 17 2 38 2 33 2 8 2-22 2-35 2-23 2-2 2 15 2 12 2-3 2-16 2-8 2 14 2 34 2 34 2 10 2-21 2-38 2-32 2-12 2 9 2 18 2 18 2 12 2 4 2-5 2-14 2-16 2-9 2 4 2 15 2 17 2 9 2 1 2-5 2-7 2-9 2-11 2-12 2-3 2 10 2 21 2 21 2 9 2-10 2-24 2-23 2-13 2 2 2 13 2 16 2 14 2 13 2 9 2 2 2-12 2-25 2-30 2-20 2 4 2 28 2 40 2 33 2 9 2-22 2-43 2-43 2-17 2 18 2 45 2 45 2 20 2-13 2-38 2-43 2-27 2-3 2 20 2 32 2 29 2 18 2 3 2-6 2-8 2-10 2-15 2-26 2-32 2-23 2 3 2 34 2 57 2 57 2 35 2-1 2-38 2-61 2-65 2-48 2-17 2 21 2 56 2 74 2 67 2 30 2-21 2-63 2-75 2-51 2-8 2 30 2 46 2 39 2 20 2 1 2-15 2-23 2-21 2-11 2 1 2 12 2 16 2 13 2 5 2-3 2-11 2-12 2-7 2 0 2 5 2 4 2 0 2-3 2 0 2 3 2 4 2 2 2 1 2 1 2 3 2 3 2-4 2-11 2-12 2-5 2 6 2 15 2 15 2 11 2 1 2-8 2-16 2-22 2-22 2-14 2 5 2 28 2 46 2 46 2 22 2-17 2-51 2-64 2-47 2-11 2 27 2 49 2 53 2 37 2 13 2-16 2-39 2-49 2-39 2-12 2 23 2 45 2 47 2 26 2-6 2-34 2-48 2-40 2-14 2 19 2 45 2 51 2 33 2 2 2-31 2-49 2-43 2-19 2 10 2 30 2 31 2 22 2 9 2-1 2-8 2-14 2-18 2-17 2-8 2 7 2 18 2 22 2 16 2 1 2-15 2-27 2-31 2-20 2 4 2 31 2 47 2 42 2 17 2-17 2-43 2-49 2-36 2-12 2 14 2 31 2 40 2 35 2 23 2 3 2-18 2-34 2-42 2-37 2-20 2 8 2 36 2 52 2 45 2 15 2-21 2-45 2-41 2-14 2 19 2 34 2 25 2 0 2-24 2-32 2-22 2 0 2 21 2 32 2 26 2 11 2-5 2-17 2-20 2-17 2-10 2-3 2 3 2 8 2 13 2 14 2 11 2 5 2-3 2-14 2-19 2-17 2-7 2 8 2 21 2 26 2 19 2 4 2-17 2-31 2-33 2-16 2 8 2 29 2 34 2 21 2-1 2-18 2-22 2-15 2-1 2 6 2 8 2 3 2-2 2-2 2 1 2 7 2 8 2 7 2 2 2-5 2-10 2-14 2-15 2-11 2-2 2 11 2 24 2 27 2 18 2 0 2-15 2-23 2-17 2-7 2 1 2 2 2-2 2-2 2 3 2 11 2 15 2 11 2 1 2-9 2-11 2-3 2 9 2 13 2 5 2-11 2-23 2-25 2-15 2-1 2 15 2 27 2 30 2 25 2 9 2-9 2-24 2-30 2-24 2-9 2 7 2 17 2 18 2 8 2-2 2-9 2-8 2 0 2 10 2 13 2 11 2 3 2-7 2-15 2-19 2-15 2-7 2 3 2 10 2 14 2 15 2 14 2 9 2 2 2-7 2-12 2-13 2-12 2-9 2-5 2-2 2 4 2 11 2 15 2 16 2 12 2 2 2-10 2-18 2-21 2-14 2-1 2 14 2 21 2 19 2 10 2-5 2-16 2-22 2-20 2-10 2 7 2 23 2 31 2 26 2 5 2-18 2-34 2-33 2-17 2 6 2 24 2 31 2 24 2 8 2-10 2-22 2-26 2-18 2-4 2 11 2 23 2 26 2 17 2-1 2-21 2-30 2-24 2-4 2 19 2 30 2 21 2 1 2-16 2-19 2-11 2 3 2 9 2 5 2-3 2-6 2-1 2 11 2 14 2 9 2-6 2-16 2-17 2-10 2 0 2 7 2 7 2 7 2 9 2 10 2 9 2 3 2-9 2-19 2-20 2-13 2 0 2 13 2 19 2 20 2 11 2-1 2-11 2-18 2-17 2-7 2 6 2 15 2 14 2 5 2-8 2-16 2-15 2-5 2 10 2 20 2 21 2 15 2 1 2-14 2-24 2-26 2-19 2-5 2 10 2 24 2 30 2 27 2 14 2-5 2-21 2-31 2-30 2-17 2 0 2 13 2 19 2 18 2 15 2 14 2 11 2 1 2-14 2-26 2-28 2-15 2 0 2 10 2 12 2 7 2 7 2 13 2 18 2 16 2 4 2-14 2-27 2-28 2-18 2-3 2 10 2 17 2 18 2 12 2 5 2 0 2-2 2-1 2 0 2-1"/><path d="M472 1807l4 0 4 0 4 0 4 1 4 0 4 0 4-1 4-1 4-1 4 1 4 0 4 2 4 1 4 0 4-1 4-1 4-2 4 1 4 1 4 1 4 0 4 0 4-1 4-1 4 1 4 0 4 0 4 0 4-1 4 0 4 1 4 1 4 0 4-1 4 0 4 0 4 1 4 0 4-1 4-1 4 0 4 0 4 1 4 0 4 0 4 0 4-1 4 0 4 1 4 1 4 1 4-1 4-1 4-1 4-1 4 0 4 1 4 1 4 0 4 0 4 0 4 0 4 1 4 0 4 0 4 0 4-1 4-1 4-1 4 0 4 1 4 1 4 2 4 0 4 0 4-1 4-2 4 0 4 0 4 1 4 0 4 0 4 0 4 0 4 1 4 0 4-1 4-1 4-1 4 1 4 2 4 1 4-1 4-1 4 0 4 0 4 0 4 0 4-1 4 0 4 0 4 1 4 1 4 0 4 0 4 0 4-1 4 0 4-1 4 0 4 0 4 1 4 1 4 0 4 0 4-1 4 0 4-1 4 0 4 1 4 0 4 0 4 1 4 0 4 0 4-1 4 0 4-1 4 0 4 1 4 0 4 0 4 0 4-1 4 0 4 1 4 1 4 0 4 0 4-1 4-1 4 0 4 0 4 2 4 0 4 0 4-1 4-1 4-1 4 1 4 1 4 0 4 1 4 0 4-1 4 0 4 0 4 0 4 0 4 0 4 0 4 0 4 0 4 0 4 0 4 0 4-1 4 1 4 0 4 1 4 0 4 0 4-1 4 0 4-1 4 0 4 1 4 1 4 0 4 0 4-1 4-1 4 0 4 1 4 0 4 1 4-1 4-1 4 0 4 0 4 1 4 0 4 1 4 0 4 0 4 0 4-1 4-1 4-1 4 0 4 1 4 1 4 1 4 0 4-1 4 0 4 0 4 0 4 1 4 0 4-1 4 0 4-1 4 0 4 1 4 0 4 0 4 0 4-1 4 0 4 1 4 1 4 0 4 0 4-1 4 0 4 0 4 0 4 1 4 0 4-1 4-1 4 0 4 0 4 0 4 1 4 0 4 1 4 0 4 0 4-1 4 0 4 0 4 0 4 0 4-1 4 0 4-1 4 1 4 2 4 1 4 0 4-2 4-1 4-1 4 1 4 1 4 1 4 0 4-1 4-1 4 0 4 1 4 0 4 1 4-1 4-1 4 0 4 1 4 1 4 0 4 0 4 0 4-1 4 0 4-1 4 0 4 0 4 0 4 1 4 1 4 0 4 1 4-1 4-1 4-1 4-1 4 1 4 1 4 1 4 0 4 0 4-1 4 0 4 0 4 0 4 0 4-1 4 0 4 1 4 0 4 0 4 0 4 0 4 0 4 0 4 0 4 0 4 1 4 0 4 0 4-1 4-1 4 0 4-1 4 1 4 0 4 2 4 1 4 0 4 0 4-2 4-1 4-1 4 0 4 1 4 1 4 1 4 0 4 0 4 0 4-1 4-1 4-1 4 0 4 1 4 1 4 1 4 0 4 0 4-1 4 0 4-1 4 0 4 1 4 0 4 0 4 0 4 0 4 0 4 0 4 0 4 0 4 0 4 0 4 0 4 0 4 0 4 0 4-1 4 0 4 0 4 1 4 1 4 1 4-1 4-1 4-1 4 0 4 1 4 1 4 0 4 0 4-1 4-1 4 0 2 0 2 0 2 0 2 1 2 0 2 0 2 1 2 1 2 0 2-1 2-1 2-2 2 0 2 0 2-1 2-2 2 0 2 3 2 8 2 7 2 2 2-7 2-14 2-12 2-4 2 7 2 16 2 17 2 11 2 0 2-11 2-20 2-22 2-16 2-3 2 14 2 27 2 28 2 15 2-3 2-17 2-20 2-15 2-6 2 2 2 7 2 11 2 10 2 5 2-6 2-14 2-12 2-1 2 11 2 18 2 12 2-2 2-14 2-19 2-13 2 1 2 13 2 18 2 16 2 8 2-5 2-16 2-24 2-23 2-11 2 9 2 29 2 38 2 28 2 4 2-25 2-42 2-38 2-16 2 13 2 33 2 35 2 24 2 4 2-13 2-24 2-24 2-17 2-4 2 7 2 14 2 12 2 9 2 4 2 2 2 3 2 1 2-4 2-12 2-15 2-12 2-2 2 10 2 18 2 17 2 8 2-4 2-12 2-15 2-12 2-6 2 3 2 13 2 19 2 16 2 3 2-14 2-23 2-20 2-5 2 10 2 17 2 17 2 8 2-2 2-10 2-13 2-12 2-5 2 3 2 12 2 15 2 13 2 5 2-7 2-14 2-14 2-7 2 2 2 5 2 4 2-3 2-4 2 0 2 8 2 14 2 11 2 1 2-11 2-15 2-11 2-2 2 8 2 11 2 8 2 0 2-7 2-10 2-8 2 0 2 8 2 10 2 7 2 0 2-5 2-7 2-7 2-4 2 1 2 8 2 15 2 15 2 5 2-13 2-26 2-29 2-14 2 7 2 28 2 34 2 26 2 6 2-13 2-27 2-28 2-19 2-1 2 14 2 21 2 16 2 4 2-7 2-11 2-10 2-6 2 1 2 8 2 17 2 18 2 12 2-4 2-22 2-32 2-28 2-13 2 9 2 30 2 38 2 33 2 15 2-12 2-33 2-41 2-31 2-7 2 19 2 35 2 30 2 11 2-9 2-21 2-17 2-5 2 4 2 6 2 3 2 1 2 1 2 3 2 4 2 0 2-2 2-3 2-2 2 0 2 1 2-1 2-3 2-6 2-3 2 4 2 11 2 11 2 4 2-6 2-15 2-14 2-8 2 2 2 12 2 19 2 18 2 10 2-4 2-17 2-24 2-21 2-9 2 6 2 17 2 21 2 18 2 9 2-2 2-8 2-12 2-15 2-15 2-12 2-3 2 10 2 21 2 23 2 12 2-3 2-13 2-13 2-5 2 0 2-2 2-7 2-12 2-6 2 10 2 24 2 28 2 15 2-7 2-26 2-32 2-20 2 1 2 20 2 26 2 15 2-4 2-18 2-18 2-4 2 11 2 17 2 11 2-3 2-10 2-10 2-4 2 1 2 0 2-2 2-1 2 6 2 13 2 13 2 5 2-7 2-20 2-24 2-16 2 1 2 21 2 34 2 27 2 8 2-17 2-33 2-33 2-18 2 5 2 24 2 30 2 24 2 9 2-9 2-21 2-25 2-18 2-2 2 17 2 27 2 23 2 5 2-18 2-32 2-30 2-12 2 12 2 28 2 30 2 20 2 5 2-6 2-11 2-12 2-12 2-15 2-18 2-15 2-3 2 13 2 28 2 34 2 26 2 8 2-11 2-26 2-29 2-25 2-13 2 4 2 17 2 24 2 19 2 7 2-7 2-13 2-10 2-1 2 7 2 5 2-4 2-15 2-15 2-2 2 17 2 27 2 23 2 5 2-13 2-23 2-23 2-14 2-3 2 4 2 6 2 9 2 14 2 22 2 23 2 11 2-10 2-31 2-39 2-34 2-15 2 9 2 33 2 48 2 47 2 24 2-10 2-41 2-55 2-46 2-18 2 13 2 35 2 42 2 35 2 15 2-6 2-22 2-25 2-20 2-10 2-2 2 5 2 8 2 10 2 10 2 5 2-3 2-6 2-5 2 3 2 9 2 10 2 2 2-8 2-18 2-19 2-12 2 2 2 16 2 22 2 20 2 7 2-5 2-14 2-13 2-9 2-4 2 1 2 5 2 8 2 8 2 3 2-3 2-9 2-10 2-6 2 2 2 11 2 17 2 13 2 2 2-12 2-23 2-22 2-9 2 10 2 26 2 29 2 16 2-7 2-27 2-33 2-19 2 3 2 22 2 25 2 13 2 2 2-3 2 4 2 6 2-2 2-23 2-37 2-33 2-7 2 27 2 49 2 48 2 24 2-6 2-29 2-39 2-32 2-17 2 1 2 14 2 20 2 18 2 11 2 5 2-1 2-3 2-4 2-5 2-6 2-10 2-12 2-8 2 1 2 15 2 23 2 21 2 7 2-11 2-24 2-30 2-20 2 4 2 25 2 34 2 22 2-5 2-28 2-29 2-9 2 20 2 38 2 31 2 2 2-33 2-61 2-63 2-35 2 20 2 81 2 115 2 97 2 26 2-65 2-124 2-124 2-69 2-1 2 44 2 59 2 65 2 79 2 89 2 64 2-10 2-104 2-163 2-148 2-66 2 37 2 113 2 136 2 117 2 76 2 24 2-35 2-101 2-149 2-150 2-84 2 22 2 120 2 155 2 124 2 58 2 0 2-38 2-64 2-84 2-88 2-59 2-2 2 46 2 61 2 40 2 6 2-10 2-5 2 18 2 36 2 36 2 14 2-25 2-61 2-75 2-53 2-2 2 50 2 66 2 38 2-7 2-30 2-12 2 22 2 36 2 17 2-20 2-49 2-57 2-40 2 1 2 50 2 89 2 89 2 45 2-25 2-91 2-130 2-129 2-80 2 14 2 132 2 217 2 217 2 115 2-51 2-205 2-277 2-232 2-89 2 96 2 239 2 270 2 172 2 5 2-141 2-195 2-153 2-61 2 25 2 77 2 89 2 77 2 52 2 22 2-13 2-52 2-83 2-90 2-57 2 6 2 77 2 117 2 104 2 36 2-55 2-119 2-118 2-56 2 31 2 94 2 110 2 85 2 35 2-28 2-94 2-143 2-140 2-66 2 60 2 172 2 198 2 116 2-23 2-130 2-143 2-70 2 25 2 71 2 41 2-26 2-70 2-51 2 20 2 87 2 100 2 43 2-45 2-104 2-93 2-13 2 79 2 120 2 81 2-5 2-83 2-110 2-87 2-36 2 16 2 52 2 68 2 64 2 42 2 13 2-12 2-18 2-5 2 8 2 2 2-30 2-67 2-80 2-60 2-20 2 21 2 60 2 95 2 118 2 111 2 68 2-7 2-92 2-166 2-193 2-153 2-45 2 88 2 184 2 205 2 151 2 58 2-39 2-119 2-160 2-155 2-98 2-3 2 95 2 152 2 144 2 75 2-19 2-94 2-117 2-88 2-25 2 38 2 74 2 69 2 36 2-5 2-32 2-37 2-31 2-25 2-26 2-25 2-3 2 50 2 112 2 141 2 94 2-29 2-176 2-260 2-214 2-53 2 143 2 265 2 260 2 144 2-9 2-127 2-173 2-161 2-120 2-61 2 15 2 100 2 161 2 156 2 82 2-20 2-98 2-115 2-83 2-29 2 14 2 30 2 17 2-1 2 1 2 30 2 63 2 73 2 40 2-16 2-70 2-98 2-93 2-54 2 10 2 72 2 100 2 75 2 18 2-35 2-55 2-41 2-8 2 26 2 41 2 37 2 16 2-13 2-45 2-73 2-84 2-59 2 5 2 85 2 142 2 143 2 78 2-31 2-131 2-171 2-126 2-23 2 78 2 123 2 101 2 38 2-24 2-62 2-63 2-32 2 12 2 41 2 35 2 5 2-23 2-24 2-2 2 15 2 12 2-5 2-14 2-3 2 15 2 16 2-8 2-36 2-38 2-2 2 46 2 73 2 56 2 5 2-48 2-80 2-75 2-41 2 12 2 65 2 92 2 74 2 8 2-74 2-118 2-89 2 3 2 104 2 153 2 115 2 13 2-99 2-159 2-140 2-59 2 40 2 111 2 126 2 84 2 8 2-61 2-90 2-73 2-26 2 25 2 66 2 92 2 88 2 39 2-48 2-135 2-171 2-123 2-13 2 101 2 163 2 150 2 84 2 8 2-47 2-71 2-77 2-70 2-52 2-26 2-2 2 10 2 16 2 31 2 66 2 102 2 107 2 52 2-53 2-158 2-196 2-137 2-5 2 130 2 192 2 153 2 43 2-66 2-116 2-97 2-39 2 15 2 44 2 42 2 19 2-11 2-32 2-33 2-13 2 20 2 47 2 52 2 34 2 0 2-38 2-61 2-57 2-28 2 15 2 48 2 56 2 38 2-1 2-38 2-55 2-40 2-3 2 34 2 52 2 47 2 26 2-3 2-33 2-52 2-52 2-32 2-3 2 22 2 36 2 38 2 36 2 31 2 19 2-6 2-39 2-69 2-75 2-48 2 5 2 67 2 107 2 104 2 51 2-33 2-105 2-129 2-93 2-15 2 64 2 108 2 101 2 49 2-20 2-69 2-76 2-45 2 1 2 36 2 40 2 23 2 0 2-9 2-5 2 2 2 0 2-10 2-24 2-32 2-27 2-1 2 39 2 71 2 73 2 36 2-25 2-78 2-99 2-69 2-7 2 55 2 85 2 72 2 31 2-19 2-55 2-66 2-50 2-10 2 32 2 55 2 52 2 29 2 6 2-7 2-17 2-35 2-60 2-72 2-51 2 8 2 81 2 126 2 114 2 51 2-31 2-96 2-125 2-111 2-63 2 4 2 70 2 111 2 114 2 80 2 25 2-37 2-83 2-100 2-81 2-38 2 9 2 41 2 51 2 48 2 40 2 30 2 14 2-5 2-23 2-30 2-31 2-34 2-34 2-25 2-3 2 28 2 48 2 52 2 39 2 17 2-4 2-23 2-39 2-44 2-39 2-23 2 0 2 25 2 45 2 51 2 37 2 9 2-26 2-49 2-51 2-32 2 1 2 32 2 47 2 40 2 18 2-6 2-18 2-22 2-19 2-19 2-20 2-16 2-7 2 3 2 15 2 26 2 39 2 48 2 44 2 17 2-28 2-70 2-88 2-69 2-22 2 31 2 70 2 78 2 56 2 17 2-25 2-48 2-50 2-31 2-4 2 21 2 34 2 32 2 13 2-13 2-32 2-34 2-19 2 3 2 19 2 25 2 26 2 28 2 23 2 6 2-29 2-62 2-73 2-42 2 19 2 78 2 98 2 62 2-8 2-70 2-86 2-54 2 2 2 43 2 49 2 26 2-3 2-17 2-14 2 0 2 12 2 14 2 9 2 0 2-12 2-26 2-34 2-31 2-10 2 21 2 50 2 62 2 47 2 7 2-38 2-65 2-57 2-22 2 19 2 39 2 29 2 1 2-21 2-20 2 0 2 25 2 39 2 36 2 16 2-17 2-50 2-69 2-63 2-27 2 27 2 77 2 97 2 76 2 24 2-38 2-81 2-92 2-71 2-25 2 27 2 64 2 73 2 52 2 18 2-13 2-29 2-30 2-21 2-11 2-3 2-2 2-2 2-5 2-6 2-5 2 2 2 15 2 30 2 38 2 32 2 9 2-23 2-49 2-53 2-37 2-9 2 17 2 30 2 34 2 28 2 20 2 11 2-2 2-16 2-31 2-38 2-30 2-3 2 28 2 45 2 31 2 0 2-27 2-30 2-8 2 18 2 29 2 15 2-12 2-33 2-32 2-9 2 18 2 33 2 25 2 6 2-10 2-18 2-16 2-11 2-4 2 6 2 17 2 22 2 17 2 0 2-20 2-33 2-30 2-11 2 17 2 38 2 43 2 25 2-5 2-33 2-43 2-31 2-5 2 13 2 19 2 14 2 9 2 13 2 18 2 15 2-3 2-27 2-43 2-34 2-7 2 23 2 37 2 29 2 9 2-6 2-10 2-3 2 4 2 1 2-11 2-26 2-31 2-18 2 8 2 34 2 46 2 38 2 16 2-12 2-32 2-38 2-32 2-18 2-3 2 11 2 21 2 29 2 30 2 23 2 9 2-10 2-27 2-38 2-37 2-22 2 4 2 29 2 41 2 33 2 12 2-7 2-18 2-19 2-13 2-8 2-1 2 6 2 12 2 11 2 3 2-10 2-22 2-22 2-8 2 14 2 36 2 42 2 27 2-2 2-31 2-45 2-38 2-15 2 9 2 24 2 22 2 11 2 2 2 3 2 8 2 7 2-1 2-13 2-18 2-12 2 0 2 10 2 10 2 1 2-8 2-11 2-4 2 9 2 18 2 15 2-1 2-13 2-13 2-4 2 7 2 8 2-1 2-11 2-11 2-2 2 12 2 18 2 10 2-5 2-20 2-22 2-10 2 10 2 27 2 31 2 20 2-3 2-28 2-43 2-39 2-13 2 22 2 52 2 55 2 28 2-14 2-52 2-60 2-40 2 0 2 35 2 50 2 44 2 23 2 1 2-17 2-29 2-36 2-35 2-25 2-4 2 19 2 36 2 39 2 29 2 14 2 0 2-13 2-23 2-33 2-34 2-24 2-4 2 18 2 33 2 35 2 26 2 12 2-1 2-15 2-25 2-28 2-22 2-10 2 5 2 14 2 19 2 19 2 16 2 7 2-2 2-10 2-15 2-16 2-11 2-5 2 2 2 7 2 7 2 6 2 4 2 9 2 12 2 11 2 0 2-16 2-27 2-23 2-8 2 9 2 20 2 22 2 14 2 3 2-6 2-13 2-15 2-10 2-3 2 6 2 12 2 13 2 9 2 1 2-7 2-12 2-11 2-7 2-2 2 1 2 1 2 1 2 6 2 15 2 23 2 20 2 4 2-20 2-37 2-38 2-22 2 3 2 22 2 30 2 28 2 20 2 11 2-1 2-13 2-23 2-28 2-22 2-8 2 6 2 16 2 17 2 14 2 9 2 7 2 6 2-1 2-9 2-17 2-20 2-13 2-2 2 11 2 16 2 14 2 5 2-4 2-6 2-2 2 6 2 7 2 2 2-9 2-17 2-16 2-6 2 7 2 18 2 16 2 8 2-2 2-5 2-2 2 3 2 4 2-2 2-12 2-18 2-19 2-11 2 3 2 21 2 35 2 35 2 18 2-6 2-28 2-39 2-34 2-17 2 4 2 24 2 32 2 27 2 11 2-10 2-23 2-23 2-14 2 2 2 16 2 25 2 24 2 13 2-4 2-24 2-37 2-38 2-25 2 1 2 30 2 52 2 54 2 35 2-1 2-38 2-58 2-52 2-23 2 11 2 33 2 36 2 22 2 7 2-1 2-5 2-7 2-11 2-14 2-14 2-8 2 1 2 10 2 17 2 16 2 10 2 2 2-4 2-8 2-8 2-7 2-9 2-12 2-14 2-10 2 3 2 22 2 35 2 36 2 20 2-4 2-28 2-40 2-40 2-25 2-3 2 22 2 39 2 38 2 23 2-3 2-26 2-33 2-21 2 1 2 19 2 22 2 11 2-5 2-17 2-17 2-8 2 4 2 12 2 15 2 10 2 3 2-3 2-6 2-8 2-8 2-9 2-7 2-2 2 6 2 13 2 16 2 12 2 2 2-7 2-11 2-12 2-9 2-5 2 0 2 4 2 7 2 10 2 10 2 6 2-2 2-12 2-16 2-10 2 4 2 16 2 18 2 8 2-6 2-16 2-16 2-10 2-2 2 6 2 13 2 17 2 16 2 7 2-7 2-22 2-26 2-18 2 1 2 20 2 27 2 21 2 4 2-14 2-22 2-17 2-4 2 10 2 16 2 11 2 3 2-6 2-10 2-11 2-6 2 1 2 8 2 11 2 8 2 2 2-7 2-9 2-6 2 0 2 4 2 5 2 3 2 1 2-1 2 0 2-1 2-3 2-7 2-8 2-4 2 4 2 15 2 20 2 13 2-1 2-16 2-25 2-21"/><path d="M472 1853l4 1 4 1 4-1 4-1 4-1 4 0 4 0 4 0 4 0 4 0 4 1 4 0 4 0 4 0 4 0 4 0 4 0 4 0 4 0 4-1 4 0 4 0 4 0 4 0 4 1 4 0 4 1 4 0 4-1 4 0 4-1 4 0 4 0 4 0 4 1 4 0 4 0 4 0 4 0 4-1 4 0 4 0 4 0 4 1 4 0 4 0 4 0 4-1 4 0 4 0 4 0 4 1 4 1 4 0 4-1 4-1 4-2 4 0 4 1 4 2 4 2 4 0 4 0 4-2 4-2 4-1 4 0 4 2 4 1 4 1 4 1 4-1 4-1 4-1 4-1 4 0 4 1 4 2 4 0 4-1 4-1 4 0 4-1 4 1 4 0 4 1 4 1 4 0 4-1 4 0 4-1 4 0 4 0 4 0 4 1 4 0 4 0 4 0 4 0 4 0 4-1 4 0 4 0 4 0 4 1 4 1 4 0 4-1 4-1 4 0 4 0 4 0 4 0 4 1 4 0 4 0 4 0 4 0 4 0 4 0 4-1 4 0 4 0 4 1 4 0 4 0 4-1 4 0 4 1 4 0 4 1 4-1 4-1 4 0 4 0 4 0 4 1 4 0 4-1 4 1 4 0 4 0 4 0 4 0 4 0 4-1 4 0 4 0 4 0 4 1 4 0 4 0 4 0 4-1 4 0 4 0 4 0 4 1 4 0 4 0 4-1 4 0 4 0 4 1 4 1 4-1 4-1 4 0 4 0 4 0 4 1 4 1 4-1 4 0 4-1 4 0 4 0 4 1 4 0 4 0 4 0 4 0 4 0 4-1 4 0 4 1 4 0 4 0 4 0 4-1 4 0 4 0 4 1 4 1 4 0 4-1 4-1 4-1 4 0 4 1 4 1 4 0 4 1 4 0 4-1 4-1 4 0 4 0 4 1 4 0 4 0 4 0 4-1 4 0 4 0 4 1 4 0 4 0 4 0 4-1 4 0 4 0 4 0 4 0 4 1 4 1 4 0 4 0 4-1 4-1 4 0 4 0 4 0 4 0 4 0 4 0 4 1 4 1 4-1 4 0 4 0 4 0 4 0 4-1 4 0 4 0 4 0 4 0 4 0 4 1 4 1 4 0 4 0 4-1 4-1 4-1 4 0 4 1 4 1 4 1 4 0 4 0 4-2 4-1 4 0 4 1 4 1 4 0 4 1 4 0 4 0 4-1 4 0 4-1 4 0 4 0 4 0 4 0 4 0 4 0 4 1 4 0 4 0 4 0 4 0 4 0 4 0 4 0 4 0 4-1 4 0 4-1 4 1 4 0 4 1 4 0 4 0 4 0 4-1 4 1 4 0 4 0 4 0 4-1 4 0 4-1 4 1 4 0 4 1 4 1 4 0 4-1 4-1 4 0 4 0 4 0 4 0 4 1 4 0 4 0 4 0 4 0 4-1 4 0 4-1 4 1 4 1 4 1 4 0 4-1 4-1 4 0 4 0 4 0 4 0 4 1 4 0 4 0 4 0 4 0 4-1 4-1 4 1 4 1 4 1 4 0 4-1 4-1 4-1 4 0 4 1 4 0 4 1 4 1 4 0 4-1 4 0 4-1 4-1 4 1 4 0 4 1 4 0 4 0 4 0 4 0 4 0 4 0 4 0 4-1 4 0 4 0 4 0 4 0 2 1 2 0 2 0 2 0 2 0 2 0 2 0 2-1 2-1 2 0 2 0 2 1 2 0 2 2 2 2 2 3 2 1 2-1 2-6 2-8 2-6 2-1 2 6 2 12 2 11 2 6 2-4 2-13 2-16 2-12 2-1 2 9 2 16 2 17 2 11 2 2 2-9 2-14 2-13 2-10 2-5 2-2 2 1 2 7 2 13 2 16 2 13 2 4 2-7 2-15 2-14 2-10 2-2 2 3 2 5 2 5 2 5 2 3 2 2 2 1 2 1 2 2 2 0 2-2 2-6 2-7 2-8 2-3 2 1 2 6 2 8 2 7 2 6 2 4 2 2 2 0 2-5 2-8 2-12 2-10 2-7 2-1 2 4 2 11 2 16 2 17 2 12 2-2 2-15 2-20 2-15 2-2 2 7 2 7 2 2 2-5 2-4 2 2 2 12 2 17 2 12 2 1 2-15 2-24 2-22 2-7 2 10 2 22 2 20 2 9 2-5 2-10 2-10 2-4 2 1 2 6 2 4 2-4 2-14 2-17 2-7 2 12 2 28 2 30 2 17 2-5 2-24 2-32 2-25 2-8 2 9 2 21 2 23 2 14 2-1 2-12 2-14 2-6 2 3 2 7 2 4 2-2 2-6 2-5 2-2 2 3 2 4 2 3 2 0 2 1 2 4 2 8 2 4 2-4 2-13 2-16 2-7 2 5 2 15 2 16 2 6 2-9 2-17 2-14 2-2 2 12 2 18 2 15 2 4 2-8 2-14 2-16 2-10 2-2 2 7 2 13 2 15 2 10 2 2 2-7 2-12 2-12 2-8 2-2 2 3 2 5 2 5 2 3 2 4 2 5 2 7 2 5 2 2 2-4 2-12 2-19 2-20 2-13 2 4 2 25 2 36 2 32 2 12 2-15 2-36 2-38 2-21 2 6 2 23 2 24 2 11 2-4 2-11 2-5 2 4 2 8 2 4 2-2 2-8 2-9 2-4 2 0 2 4 2 5 2 3 2-2 2-3 2-2 2 4 2 10 2 10 2 1 2-10 2-17 2-14 2-1 2 12 2 17 2 11 2 1 2-8 2-12 2-6 2 0 2 4 2 3 2-3 2-6 2-3 2 3 2 9 2 11 2 6 2 1 2-4 2-7 2-6 2-6 2-3 2-1 2 1 2 0 2-1 2 1 2 6 2 10 2 10 2 5 2-5 2-14 2-16 2-10 2 2 2 10 2 12 2 4 2-2 2-3 2 1 2 6 2 7 2 4 2-1 2-6 2-10 2-13 2-16 2-12 2 0 2 17 2 28 2 27 2 14 2-6 2-21 2-23 2-16 2-5 2 5 2 9 2 9 2 9 2 6 2 2 2-7 2-17 2-18 2-7 2 12 2 30 2 31 2 16 2-12 2-33 2-38 2-24 2 1 2 21 2 29 2 23 2 9 2-5 2-13 2-12 2-4 2 2 2 1 2-5 2-10 2-8 2 3 2 12 2 18 2 14 2 6 2-6 2-13 2-16 2-15 2-8 2-1 2 8 2 15 2 16 2 11 2 3 2-4 2-7 2-8 2-10 2-11 2-9 2-1 2 8 2 15 2 14 2 9 2 0 2-5 2-7 2-6 2-6 2-6 2-7 2-3 2 4 2 10 2 13 2 10 2 2 2-5 2-8 2-8 2-5 2-3 2-4 2-1 2 6 2 12 2 15 2 7 2-5 2-19 2-24 2-16 2 3 2 23 2 34 2 27 2 4 2-21 2-37 2-32 2-14 2 9 2 25 2 29 2 20 2 4 2-11 2-20 2-17 2-5 2 8 2 14 2 9 2-3 2-13 2-14 2-7 2 3 2 12 2 17 2 18 2 10 2-3 2-17 2-26 2-25 2-13 2 4 2 20 2 28 2 26 2 15 2 0 2-14 2-24 2-26 2-18 2-6 2 10 2 21 2 24 2 17 2 1 2-12 2-19 2-15 2-6 2 7 2 15 2 14 2 6 2-5 2-15 2-15 2-9 2 2 2 13 2 16 2 12 2 2 2-6 2-11 2-12 2-7 2-1 2 5 2 10 2 11 2 8 2 0 2-9 2-16 2-15 2-6 2 5 2 16 2 22 2 15 2 2 2-14 2-25 2-22 2-7 2 14 2 25 2 23 2 9 2-12 2-25 2-24 2-10 2 9 2 24 2 26 2 16 2-1 2-17 2-27 2-27 2-17 2 0 2 17 2 30 2 32 2 21 2 4 2-13 2-23 2-25 2-23 2-17 2-8 2 8 2 26 2 38 2 34 2 14 2-13 2-31 2-34 2-25 2-9 2 6 2 13 2 17 2 17 2 18 2 14 2 5 2-9 2-23 2-35 2-33 2-12 2 17 2 40 2 44 2 31 2 4 2-24 2-42 2-43 2-20 2 14 2 43 2 45 2 22 2-17 2-46 2-46 2-25 2 10 2 40 2 52 2 41 2 11 2-23 2-45 2-47 2-34 2-15 2 3 2 24 2 47 2 66 2 61 2 24 2-36 2-88 2-96 2-60 2-1 2 48 2 64 2 50 2 26 2 12 2 12 2 11 2-2 2-32 2-66 2-78 2-51 2 7 2 65 2 91 2 71 2 24 2-23 2-45 2-44 2-34 2-24 2-11 2 9 2 34 2 47 2 39 2 12 2-21 2-43 2-47 2-36 2-17 2 7 2 34 2 59 2 68 2 47 2 2 2-45 2-65 2-52 2-20 2 2 2-2 2-26 2-45 2-28 2 29 2 106 2 162 2 152 2 69 2-60 2-183 2-242 2-212 2-101 2 44 2 171 2 235 2 213 2 116 2-15 2-122 2-159 2-126 2-60 2-7 2 20 2 35 2 49 2 53 2 32 2-10 2-40 2-31 2 18 2 65 2 69 2 21 2-53 2-101 2-93 2-38 2 28 2 66 2 64 2 38 2 16 2 6 2-5 2-26 2-52 2-61 2-33 2 28 2 85 2 99 2 54 2-26 2-92 2-114 2-84 2-25 2 35 2 75 2 90 2 85 2 63 2 23 2-37 2-95 2-117 2-83 2-9 2 56 2 70 2 34 2-10 2-22 2 10 2 54 2 72 2 37 2-38 2-111 2-136 2-86 2 28 2 145 2 192 2 131 2-15 2-160 2-219 2-155 2-7 2 135 2 192 2 144 2 30 2-76 2-127 2-110 2-47 2 28 2 82 2 94 2 54 2-14 2-68 2-80 2-51 2-4 2 34 2 52 2 49 2 33 2 7 2-18 2-35 2-38 2-26 2-13 2-3 2 9 2 25 2 47 2 58 2 44 2-3 2-64 2-112 2-115 2-62 2 31 2 124 2 178 2 163 2 72 2-68 2-199 2-250 2-182 2-22 2 146 2 232 2 202 2 93 2-22 2-95 2-116 2-110 2-87 2-47 2 9 2 66 2 100 2 92 2 51 2-2 2-44 2-63 2-63 2-48 2-21 2 19 2 66 2 93 2 76 2 12 2-69 2-118 2-104 2-32 2 53 2 99 2 82 2 22 2-38 2-54 2-20 2 35 2 64 2 43 2-25 2-99 2-133 2-99 2-6 2 103 2 176 2 183 2 115 2-2 2-130 2-217 2-226 2-147 2-8 2 136 2 234 2 246 2 167 2 24 2-133 2-234 2-234 2-133 2 19 2 143 2 182 2 125 2 15 2-78 2-102 2-51 2 27 2 75 2 58 2-4 2-68 2-88 2-55 2 14 2 80 2 104 2 72 2 3 2-68 2-102 2-94 2-51 2 3 2 55 2 95 2 112 2 94 2 40 2-40 2-118 2-154 2-129 2-49 2 47 2 118 2 140 2 109 2 47 2-22 2-76 2-105 2-98 2-56 2 12 2 73 2 96 2 70 2 12 2-38 2-55 2-41 2-18 2-10 2-15 2-14 2 9 2 49 2 80 2 79 2 41 2-16 2-70 2-100 2-101 2-74 2-26 2 34 2 88 2 117 2 105 2 60 2-4 2-58 2-85 2-78 2-46 2-10 2 12 2 14 2 3 2-3 2 7 2 31 2 57 2 67 2 48 2 5 2-50 2-90 2-96 2-64 2-10 2 42 2 74 2 77 2 56 2 20 2-24 2-57 2-62 2-35 2 8 2 45 2 54 2 33 2-4 2-40 2-59 2-57 2-35 2 3 2 47 2 83 2 92 2 62 2 4 2-60 2-98 2-90 2-44 2 7 2 32 2 27 2 16 2 22 2 43 2 54 2 36 2-2 2-37 2-48 2-44 2-37 2-31 2-22 2 1 2 32 2 59 2 69 2 58 2 30 2-7 2-49 2-81 2-91 2-71 2-24 2 32 2 82 2 106 2 93 2 47 2-15 2-66 2-91 2-83 2-49 2-6 2 34 2 56 2 56 2 41 2 18 2-3 2-18 2-28 2-32 2-26 2-9 2 13 2 25 2 16 2-11 2-34 2-32 2 0 2 50 2 83 2 75 2 21 2-55 2-118 2-132 2-85 2 7 2 101 2 150 2 130 2 54 2-33 2-93 2-104 2-74 2-29 2 10 2 31 2 39 2 42 2 39 2 23 2-9 2-40 2-46 2-20 2 18 2 43 2 42 2 17 2-12 2-37 2-53 2-54 2-37 2 0 2 47 2 82 2 88 2 55 2 1 2-54 2-86 2-84 2-54 2-11 2 34 2 64 2 74 2 58 2 21 2-24 2-57 2-63 2-41 2-6 2 24 2 37 2 34 2 23 2 10 2-5 2-16 2-24 2-27 2-23 2-15 2-1 2 14 2 28 2 35 2 34 2 24 2 3 2-19 2-39 2-44 2-35 2-13 2 11 2 29 2 35 2 26 2 5 2-16 2-26 2-16 2 8 2 34 2 40 2 18 2-24 2-60 2-67 2-39 2 8 2 51 2 71 2 63 2 33 2-6 2-44 2-65 2-61 2-35 2 4 2 37 2 56 2 50 2 26 2-6 2-33 2-42 2-33 2-11 2 14 2 32 2 34 2 21 2-5 2-30 2-43 2-36 2-15 2 15 2 40 2 57 2 57 2 34 2-12 2-65 2-97 2-85 2-31 2 42 2 95 2 104 2 69 2 6 2-52 2-83 2-80 2-46 2 0 2 38 2 57 2 51 2 26 2-5 2-28 2-31 2-15 2 11 2 27 2 19 2-7 2-35 2-44 2-26 2 9 2 37 2 41 2 22 2 0 2-11 2-5 2 3 2 1 2-10 2-23 2-22 2-10 2 8 2 23 2 24 2 13 2-7 2-22 2-23 2-12 2 6 2 22 2 29 2 24 2 10 2-9 2-23 2-27 2-24 2-14 2-2 2 9 2 18 2 20 2 15 2 2 2-8 2-12 2-6 2 8 2 18 2 21 2 9 2-12 2-36 2-49 2-39 2-7 2 35 2 61 2 60 2 29 2-10 2-40 2-47 2-33 2-14 2 3 2 14 2 21 2 24 2 23 2 14 2-1 2-19 2-32 2-31 2-14 2 7 2 24 2 27 2 19 2 9 2-2 2-11 2-19 2-19 2-11 2 1 2 14 2 19 2 13 2-2 2-15 2-18 2-11 2 5 2 15 2 15 2 5 2-4 2-6 2 3 2 10 2 10 2-4 2-21 2-30 2-21 2-1 2 20 2 28 2 22 2 11 2 3 2-1 2-5 2-15 2-23 2-25 2-17 2 2 2 23 2 37 2 37 2 17 2-14 2-38 2-41 2-21 2 6 2 22 2 23 2 13 2 2 2-2 2 0 2 0 2-3 2-8 2-12 2-9 2-4 2 3 2 7 2 10 2 12 2 10 2 3 2-6 2-14 2-13 2-7 2 1 2 6 2 6 2 3 2-1 2 1 2 8 2 13 2 9 2-6 2-22 2-25 2-15 2 3 2 19 2 23 2 14 2 1 2-10 2-11 2-1 2 8 2 11 2 1 2-15 2-27 2-24 2-1 2 26 2 41 2 33 2 4 2-25 2-41 2-35 2-11 2 18 2 37 2 37 2 17 2-10 2-30 2-33 2-20 2 1 2 17 2 23 2 17 2 5 2-8 2-13 2-9 2-2 2 4 2 3 2 1 2 0 2 2 2 5 2 3 2-2 2-8 2-10 2-9 2-3 2 4 2 13 2 20 2 20 2 13 2 0 2-18 2-34 2-39 2-28 2-1 2 28 2 44 2 41 2 22 2-4 2-23 2-30 2-25 2-13 2 1 2 11 2 14 2 12 2 6 2 0 2-4 2-5 2-3 2 0 2 1 2 1 2-1 2-2 2-3 2-4 2-1 2 4 2 8 2 11 2 9 2-1 2-13 2-20 2-19 2-5 2 12 2 25 2 26 2 13 2-5 2-21 2-29 2-24 2-6 2 14 2 29 2 29 2 15 2-6 2-21 2-24 2-14 2 0 2 10 2 12 2 4 2-3 2-5 2-2 2 6 2 8 2 5 2-1 2-6 2-6 2-5 2-1 2 1 2 3 2 4 2 3 2 1 2-3 2-8 2-7 2-2 2 5 2 12 2 13 2 9 2-1 2-12 2-19 2-16 2-3 2 12 2 21 2 16 2 2 2-15 2-23 2-20 2-4 2 16 2 31 2 32 2 16 2-8 2-28 2-37 2-32 2-14 2 5 2 22 2 34 2 34 2 25 2 6 2-15 2-33 2-38 2-29 2-5 2 19 2 32 2 25 2 5 2-15 2-19 2-7 2 13 2 25 2 18 2-4 2-28 2-36 2-23 2 6 2 28 2 34 2 18 2-5 2-21 2-21 2-10 2 5 2 15 2 14 2 8 2-2 2-11 2-17 2-15 2-6 2 9 2 21 2 24 2 16 2 0 2-16 2-27 2-26 2-15 2 2 2 19 2 27 2 24 2 11 2-3 2-15 2-19 2-14 2-8 2-3 2 2 2 5 2 10 2 16 2 16 2 9 2-6 2-20 2-24 2-17 2-4 2 10 2 20 2 23 2 18 2 7 2-10 2-22 2-26 2-19 2-4 2 10 2 19 2 17 2 10 2 2 2-2 2 0 2 1 2-3 2-10 2-13 2-10 2-2 2 6 2 8 2 4 2 1 2-2 2 0 2 3 2 6 2 8 2 9 2 4 2-3 2-14 2-25 2-24 2-11 2 11 2 29 2 33 2 21 2 1 2-17 2-24 2-21 2-11 2 1 2 12 2 18 2 14 2 6 2-6 2-13 2-13 2-5 2 5 2 9 2 6 2-1 2-7 2-8 2-4 2 5 2 11 2 11 2 8 2 1 2-6 2-10 2-11 2-8 2-4 2 1 2 4 2 6 2 6 2 5 2 3 2 1 2-1 2-1 2 0 2 1 2 0 2-3 2-7 2-10 2-6 2 0 2 10 2 14 2 12 2 2 2-11 2-17 2-13 2 0 2 13 2 20 2 15 2 3 2-8 2-16 2-15 2-10 2-2 2 2 2 5 2 8 2 10 2 11 2 7 2 0 2-7 2-12 2-13 2-10 2-4 2 5 2 15 2 20 2 15 2 2 2-13 2-23 2-22 2-12 2 6 2 19 2 22 2 16 2 4 2-7 2-10 2-10 2-7 2-4 2-3 2-3 2-3 2-3 2 2 2 10 2 18 2 18 2 11 2-3 2-16 2-21 2-17 2-10 2-3 2 4 2 9 2 15 2 15 2 14 2 6 2-1 2-10 2-15 2-16 2-13 2-7 2 3 2 9 2 13 2 13 2 10 2 5 2 0 2-4 2-5 2-6 2-9 2-11 2-13 2-9 2 0 2 12 2 21 2 22 2 18 2 6 2-7 2-19 2-23 2-21 2-12 2 0 2 10 2 16 2 17 2 16 2 9 2 2 2-7 2-16 2-20 2-15 2-4 2 10 2 17 2 12 2 1 2-6 2-6"/><path d="M472 1886l4-1 4-1 4-1 4 0 4 1 4 1 4 1 4 1 4-1 4 0 4-1 4-1 4 0 4 0 4 1 4 0 4 0 4 1 4 0 4 0 4-1 4 0 4-1 4 0 4 1 4 0 4 1 4-1 4 0 4 0 4 1 4 0 4 0 4-1 4-1 4-1 4 1 4 1 4 1 4 0 4 0 4 0 4 0 4-1 4-1 4 0 4 0 4 0 4 1 4 0 4 1 4 1 4-1 4-2 4 0 4 0 4 1 4 0 4 0 4 0 4 0 4 0 4 0 4 0 4 0 4 0 4 0 4 0 4 0 4 1 4 0 4-1 4 0 4-1 4 0 4 1 4 0 4 0 4 1 4 0 4 0 4 0 4-1 4-1 4 0 4 0 4 1 4 0 4 0 4 0 4 0 4 0 4 0 4 0 4 0 4 0 4-1 4 0 4 1 4 0 4 1 4 0 4 0 4-2 4-1 4 1 4 1 4 1 4 1 4-1 4-2 4 0 4 0 4 1 4 0 4 1 4 0 4-1 4 0 4 1 4 0 4-1 4-1 4 0 4 0 4 1 4 1 4 0 4-1 4 0 4 0 4 0 4 0 4 1 4 0 4-1 4 0 4 0 4-1 4 0 4 1 4 0 4 0 4 0 4 0 4 0 4 0 4 1 4 0 4-1 4-1 4 0 4 0 4 1 4 1 4 0 4 0 4-1 4 0 4 0 4-1 4 0 4 1 4 0 4 0 4 0 4 0 4 0 4 0 4 0 4 0 4 0 4 0 4 0 4 0 4 0 4 0 4 0 4 0 4-1 4 0 4 0 4 1 4 1 4 0 4 0 4-1 4 1 4 0 4 0 4-1 4-1 4-1 4 0 4 1 4 1 4 1 4 1 4-1 4-1 4 0 4 0 4 0 4 1 4-1 4 0 4-1 4-1 4 0 4 1 4 1 4 2 4 0 4-1 4 0 4 0 4-1 4-1 4-1 4 0 4 1 4 1 4 1 4 0 4 0 4 0 4-1 4-1 4 0 4 1 4 0 4 0 4 0 4-1 4 0 4 0 4 1 4 1 4 1 4 0 4-1 4-1 4-1 4 0 4 0 4 1 4 0 4 0 4-1 4 0 4 1 4 1 4 1 4 0 4-1 4-1 4-1 4-1 4 0 4 1 4 1 4 2 4 0 4 0 4-1 4-1 4-1 4 0 4 0 4 0 4 0 4 1 4 1 4 0 4-1 4 0 4 0 4 0 4 0 4 0 4 0 4 0 4 0 4 0 4 0 4 0 4 0 4-1 4 1 4 0 4 1 4 0 4-1 4-1 4 0 4 1 4 1 4 0 4 0 4-1 4-1 4 1 4 0 4 1 4 0 4-1 4-1 4 0 4 0 4 1 4 0 4 1 4 0 4-1 4 0 4 0 4-1 4 0 4 0 4 1 4 1 4 0 4 0 4-1 4-1 4 1 4 0 4 1 4 0 4-1 4 0 4-1 4 0 4 0 4 0 4 1 4 0 4 1 4 1 4 0 4-1 4-2 4-2 4 0 4 1 4 2 4 2 4 1 4-1 4-2 4-1 4-1 4 1 4 1 4 0 4 1 4-1 4 0 4 0 4 0 4 0 4 0 4 0 4 1 4 0 4-1 4 0 4-1 4 0 4 0 4 1 2 0 2 1 2 0 2 0 2 0 2 0 2 0 2 0 2 0 2-1 2 0 2-1 2-1 2 0 2 1 2 1 2 0 2 0 2-1 2 0 2 2 2 3 2 2 2 0 2-5 2-6 2-6 2 0 2 4 2 7 2 6 2 4 2 1 2-3 2-6 2-6 2-3 2 1 2 4 2 4 2-1 2-5 2-6 2 0 2 6 2 10 2 10 2 3 2-3 2-9 2-9 2-7 2-5 2-4 2-1 2 6 2 12 2 14 2 10 2-1 2-10 2-15 2-10 2-1 2 4 2 6 2 4 2 1 2-1 2 0 2 1 2 2 2 3 2 4 2 3 2-3 2-9 2-14 2-11 2 1 2 14 2 19 2 13 2-2 2-14 2-17 2-7 2 4 2 12 2 9 2 3 2-4 2-6 2-2 2 0 2-1 2-5 2-6 2 0 2 9 2 16 2 12 2-1 2-14 2-16 2-8 2 3 2 7 2 5 2-3 2-7 2-3 2 6 2 15 2 15 2 5 2-11 2-23 2-22 2-7 2 14 2 26 2 25 2 11 2-10 2-23 2-25 2-17 2-3 2 8 2 16 2 18 2 14 2 8 2 1 2-6 2-10 2-10 2-9 2-8 2-6 2-4 2 2 2 9 2 15 2 16 2 10 2-1 2-12 2-15 2-10 2 0 2 5 2 6 2 2 2-1 2-2 2-2 2-1 2-4 2-2 2 2 2 8 2 10 2 8 2 2 2-6 2-11 2-13 2-8 2 2 2 10 2 11 2 4 2-4 2-9 2-8 2 1 2 9 2 14 2 9 2-1 2-12 2-17 2-14 2-3 2 10 2 18 2 15 2 5 2-7 2-15 2-13 2-4 2 7 2 13 2 13 2 6 2-6 2-16 2-17 2-8 2 5 2 14 2 15 2 7 2-1 2-7 2-5 2-1 2 1 2-2 2-7 2-11 2-8 2-1 2 11 2 23 2 25 2 14 2-7 2-25 2-32 2-23 2-4 2 16 2 25 2 24 2 11 2-4 2-16 2-18 2-10 2 3 2 10 2 9 2 1 2-7 2-9 2-4 2 2 2 6 2 7 2 3 2 2 2 3 2 5 2 2 2-3 2-8 2-13 2-11 2-8 2-1 2 5 2 10 2 15 2 16 2 13 2 3 2-9 2-19 2-22 2-13 2 1 2 14 2 17 2 10 2-2 2-12 2-12 2-4 2 7 2 14 2 10 2 2 2-6 2-6 2-3 2-2 2-4 2-9 2-9 2-5 2 8 2 20 2 26 2 19 2 2 2-20 2-32 2-33 2-20 2 3 2 24 2 37 2 35 2 16 2-9 2-28 2-35 2-26 2-8 2 11 2 22 2 26 2 18 2 6 2-7 2-14 2-17 2-14 2-7 2 3 2 11 2 16 2 13 2 1 2-11 2-16 2-12 2-2 2 10 2 16 2 14 2 7 2-1 2-11 2-20 2-25 2-17 2 0 2 23 2 38 2 36 2 16 2-10 2-32 2-38 2-28 2-9 2 10 2 23 2 24 2 16 2 4 2-5 2-8 2-7 2-5 2-4 2-4 2-2 2 1 2 2 2 4 2 3 2 2 2 3 2 4 2 3 2-1 2-6 2-10 2-10 2-3 2 6 2 12 2 10 2 2 2-8 2-8 2-3 2 7 2 11 2 7 2-4 2-12 2-14 2-8 2 0 2 7 2 7 2 4 2 2 2 5 2 8 2 9 2 2 2-8 2-14 2-14 2-6 2 1 2 6 2 5 2 3 2 0 2 2 2 6 2 11 2 9 2 1 2-13 2-25 2-27 2-13 2 10 2 33 2 42 2 33 2 4 2-27 2-50 2-48 2-24 2 12 2 42 2 51 2 34 2 4 2-23 2-36 2-30 2-12 2 5 2 15 2 14 2 9 2 2 2-2 2-1 2 1 2 4 2 1 2-4 2-9 2-11 2-7 2 0 2 8 2 14 2 14 2 8 2-1 2-9 2-13 2-10 2-5 2 1 2 3 2 1 2 0 2 2 2 6 2 9 2 7 2 3 2-3 2-6 2-6 2-6 2-5 2-6 2-6 2-2 2 6 2 11 2 14 2 12 2 5 2-3 2-8 2-9 2-8 2-6 2-7 2-6 2-4 2 4 2 11 2 15 2 14 2 9 2 3 2-7 2-14 2-18 2-16 2-10 2 1 2 12 2 20 2 21 2 13 2-1 2-17 2-22 2-17 2-1 2 11 2 17 2 12 2 4 2-4 2-8 2-12 2-12 2-7 2 3 2 12 2 19 2 16 2 6 2-9 2-21 2-26 2-17 2 3 2 22 2 32 2 26 2 7 2-16 2-30 2-30 2-17 2 2 2 16 2 22 2 21 2 14 2 8 2 3 2 0 2-10 2-23 2-34 2-35 2-19 2 5 2 31 2 46 2 44 2 23 2-8 2-32 2-34 2-12 2 11 2 14 2-2 2-20 2-20 2 1 2 23 2 30 2 17 2-9 2-28 2-34 2-26 2-2 2 28 2 54 2 61 2 31 2-25 2-77 2-92 2-54 2 20 2 89 2 108 2 66 2-18 2-92 2-113 2-70 2 5 2 68 2 87 2 62 2 14 2-23 2-30 2-13 2 9 2 14 2-11 2-56 2-91 2-87 2-30 2 64 2 152 2 188 2 145 2 34 2-97 2-193 2-216 2-159 2-51 2 66 2 152 2 179 2 146 2 71 2-14 2-74 2-97 2-90 2-72 2-53 2-25 2 24 2 88 2 129 2 110 2 21 2-99 2-175 2-151 2-35 2 105 2 188 2 176 2 80 2-43 2-138 2-171 2-134 2-47 2 50 2 119 2 131 2 86 2 12 2-59 2-95 2-84 2-32 2 34 2 77 2 73 2 29 2-24 2-53 2-48 2-21 2 5 2 18 2 16 2 8 2-2 2-6 2-7 2-3 2 10 2 27 2 43 2 37 2 1 2-54 2-100 2-97 2-38 2 56 2 128 2 134 2 68 2-25 2-95 2-110 2-78 2-29 2 15 2 51 2 78 2 84 2 54 2-9 2-73 2-98 2-67 2-5 2 48 2 63 2 46 2 17 2-7 2-25 2-40 2-46 2-29 2 12 2 58 2 83 2 63 2 7 2-62 2-110 2-110 2-56 2 30 2 101 2 125 2 95 2 38 2-13 2-49 2-77 2-107 2-122 2-96 2-16 2 98 2 191 2 208 2 132 2 0 2-123 2-178 2-153 2-83 2-14 2 24 2 36 2 42 2 62 2 91 2 108 2 90 2 28 2-55 2-125 2-147 2-113 2-43 2 22 2 51 2 48 2 37 2 46 2 69 2 76 2 51 2 3 2-37 2-56 2-67 2-80 2-95 2-85 2-35 2 49 2 126 2 159 2 135 2 65 2-17 2-86 2-123 2-126 2-94 2-34 2 33 2 87 2 108 2 90 2 40 2-19 2-67 2-82 2-56 2-5 2 43 2 62 2 44 2 0 2-40 2-57 2-43 2-9 2 23 2 42 2 48 2 43 2 30 2 2 2-41 2-80 2-88 2-46 2 23 2 79 2 88 2 54 2 10 2-20 2-33 2-38 2-38 2-32 2-17 2-2 2 13 2 27 2 42 2 52 2 39 2 6 2-33 2-55 2-51 2-29 2-9 2 5 2 14 2 27 2 38 2 36 2 21 2-1 2-15 2-23 2-24 2-28 2-26 2-16 2 4 2 23 2 32 2 30 2 20 2 10 2 4 2-4 2-16 2-35 2-47 2-39 2-8 2 31 2 56 2 50 2 24 2-6 2-22 2-28 2-31 2-35 2-21 2 16 2 59 2 78 2 45 2-25 2-89 2-100 2-51 2 27 2 79 2 75 2 28 2-22 2-34 2-7 2 30 2 42 2 11 2-41 2-84 2-85 2-43 2 22 2 78 2 98 2 77 2 35 2-8 2-43 2-69 2-80 2-64 2-19 2 39 2 81 2 84 2 46 2-9 2-59 2-80 2-63 2-16 2 43 2 82 2 78 2 37 2-19 2-55 2-63 2-50 2-32 2-13 2 15 2 46 2 68 2 66 2 35 2-10 2-49 2-67 2-63 2-37 2-1 2 34 2 56 2 54 2 33 2 4 2-23 2-39 2-36 2-15 2 9 2 20 2 10 2-10 2-19 2-6 2 20 2 36 2 25 2-5 2-34 2-39 2-18 2 18 2 45 2 46 2 14 2-37 2-79 2-78 2-25 2 48 2 95 2 93 2 52 2 1 2-38 2-63 2-77 2-79 2-56 2-5 2 57 2 103 2 110 2 75 2 13 2-57 2-108 2-116 2-72 2 8 2 88 2 120 2 86 2 3 2-83 2-120 2-79 2 12 2 97 2 120 2 66 2-23 2-90 2-97 2-53 2 7 2 48 2 56 2 44 2 28 2 11 2-13 2-40 2-57 2-50 2-20 2 19 2 48 2 53 2 39 2 14 2-11 2-27 2-29 2-25 2-16 2-12 2-8 2 0 2 17 2 41 2 51 2 35 2-7 2-48 2-61 2-39 2-3 2 23 2 25 2 11 2 2 2 8 2 25 2 32 2 18 2-13 2-42 2-52 2-38 2-12 2 12 2 23 2 26 2 26 2 26 2 26 2 17 2 0 2-24 2-42 2-45 2-31 2-10 2 12 2 26 2 30 2 29 2 20 2 9 2-5 2-14 2-16 2-17 2-19 2-23 2-15 2 6 2 37 2 56 2 45 2 5 2-45 2-74 2-63 2-16 2 39 2 71 2 65 2 28 2-17 2-44 2-43 2-26 2-5 2 4 2 2 2-5 2-4 2 13 2 41 2 59 2 46 2 0 2-55 2-89 2-82 2-38 2 19 2 66 2 86 2 76 2 41 2-6 2-51 2-76 2-76 2-53 2-12 2 33 2 66 2 77 2 60 2 23 2-20 2-56 2-69 2-61 2-34 2 5 2 43 2 71 2 75 2 50 2 0 2-54 2-91 2-89 2-47 2 21 2 81 2 104 2 74 2 9 2-54 2-84 2-68 2-23 2 19 2 42 2 42 2 28 2 9 2-7 2-21 2-28 2-26 2-13 2 7 2 27 2 37 2 29 2 10 2-16 2-36 2-42 2-33 2-10 2 13 2 32 2 39 2 35 2 21 2 2 2-16 2-28 2-33 2-26 2-12 2 4 2 13 2 13 2 8 2 3 2 5 2 13 2 19 2 17 2 5 2-14 2-29 2-39 2-37 2-19 2 12 2 48 2 68 2 55 2 12 2-41 2-75 2-70 2-32 2 20 2 59 2 69 2 44 2 2 2-39 2-55 2-45 2-15 2 18 2 37 2 38 2 19 2-7 2-27 2-29 2-12 2 13 2 31 2 27 2 4 2-27 2-43 2-34 2-4 2 28 2 45 2 35 2 7 2-20 2-28 2-13 2 9 2 21 2 8 2-19 2-42 2-39 2-9 2 32 2 60 2 57 2 25 2-18 2-43 2-44 2-27 2-9 2 0 2 3 2 12 2 25 2 36 2 35 2 15 2-15 2-42 2-55 2-45 2-17 2 19 2 49 2 60 2 48 2 20 2-19 2-51 2-61 2-45 2-10 2 28 2 49 2 46 2 23 2-4 2-27 2-34 2-28 2-14 2 5 2 21 2 28 2 22 2 10 2-4 2-14 2-15 2-16 2-14 2-11 2-5 2 7 2 20 2 30 2 30 2 16 2-11 2-36 2-48 2-37 2-5 2 33 2 59 2 54 2 17 2-33 2-68 2-64 2-24 2 31 2 64 2 62 2 27 2-13 2-38 2-40 2-26 2-7 2 2 2 6 2 9 2 15 2 18 2 16 2 3 2-8 2-12 2-5 2 5 2 9 2-1 2-18 2-30 2-28 2-10 2 21 2 48 2 55 2 39 2 0 2-40 2-63 2-56 2-25 2 16 2 42 2 45 2 26 2 1 2-15 2-16 2-7 2 3 2 5 2-1 2-9 2-14 2-11 2-1 2 9 2 15 2 15 2 10 2 0 2-13 2-19 2-16 2-2 2 17 2 28 2 21 2 1 2-20 2-30 2-23 2-7 2 10 2 18 2 17 2 10 2 3 2-2 2-3 2-3 2-3 2-6 2-9 2-10 2-5 2 4 2 11 2 14 2 12 2 5 2-2 2-9 2-11 2-8 2-4 2-2 2-2 2-2 2 0 2 8 2 17 2 18 2 10 2-4 2-17 2-21 2-17 2-9 2 1 2 8 2 13 2 15 2 13 2 6 2 1 2-6 2-9 2-10 2-9 2-6 2-1 2 5 2 8 2 7 2 0 2-7 2-7 2-1 2 9 2 16 2 13 2 1 2-11 2-19 2-19 2-12 2 1 2 12 2 18 2 18 2 14 2 7 2-1 2-13 2-27 2-34 2-26 2-5 2 25 2 47 2 50 2 31 2-2 2-33 2-50 2-48 2-27 2 2 2 28 2 40 2 37 2 21 2 0 2-17 2-24 2-22 2-14 2-5 2 5 2 13 2 13 2 9 2 2 2-3 2-2 2 0 2 0 2-5 2-9 2-8 2-3 2 4 2 10 2 12 2 12 2 9 2-1 2-12 2-24 2-27 2-17 2 6 2 27 2 37 2 28 2 6 2-17 2-28 2-25 2-8 2 8 2 19 2 15 2 2 2-16 2-26 2-22 2-4 2 20 2 38 2 40 2 25 2-1 2-29 2-47 2-46 2-28 2 4 2 33 2 47 2 40 2 14 2-15 2-30 2-27 2-10 2 6 2 10 2 4 2-3 2-4 2 1 2 9 2 9 2 2 2-6 2-9 2-6 2 1 2 7 2 8 2 6 2 1 2-4 2-9 2-11 2-11 2-2 2 8 2 16 2 17 2 8 2-6 2-16 2-18 2-11 2 4 2 16 2 18 2 7 2-7 2-15 2-10 2 2 2 11 2 10 2-1 2-11 2-11 2-1 2 11 2 14 2 6 2-8 2-17 2-16 2-5 2 11 2 20 2 20 2 8 2-5 2-16 2-16 2-9 2-2 2 3 2 4 2 4 2 4 2 5 2 4 2 1 2-2 2-3 2-1 2 2 2 5 2 2 2-2 2-10 2-14 2-11 2-3 2 7 2 14 2 16 2 15 2 10 2 3 2-8 2-17 2-22 2-19 2-9 2 4 2 16 2 20 2 20 2 11 2-1 2-12 2-17 2-16 2-10 2 1 2 8 2 12 2 11 2 7 2 3 2-4 2-10 2-11 2-8 2 0 2 9 2 13 2 9 2 1 2-7 2-13 2-14 2-10 2 2 2 13 2 20 2 17 2 7 2-6 2-13 2-17 2-14 2-8 2-1 2 7 2 11 2 15 2 14 2 7 2-1 2-11 2-17 2-17 2-8 2 5 2 18 2 21 2 11 2-6 2-20 2-24 2-13 2 4 2 20 2 24 2 18 2 4 2-11 2-19 2-17 2-9 2 3 2 10 2 9 2 2 2-5 2-6 2 1 2 10 2 14 2 9 2-4 2-17 2-22 2-16 2-2 2 13 2 22 2 20 2 11 2-2 2-11 2-15 2-13 2-7 2-3 2 4 2 8 2 11 2 10 2 4 2-3 2-9 2-10 2-7 2-1 2 3 2 7 2 6 2 5 2 4 2 1 2-2 2-8 2-14 2-13 2-6 2 8 2 21 2 24 2 17 2 0 2-17 2-27 2-23 2-8 2 8 2 16 2 14 2 4 2-2 2-2 2 4 2 8 2 6 2-4 2-14 2-20 2-14 2-2 2 13 2 21 2 21 2 12 2 0 2-11 2-18 2-20 2-15 2-5 2 8 2 18 2 22 2 16 2 2 2-13 2-21 2-18 2-6 2 8 2 16 2 15 2 7 2-1 2-6 2-8 2-9 2-7"/></g>
<line x1="299" y1="147.2" x2="299" y2="1326.8" stroke="#ff0000" stroke-width="2"/>
<text x="299.3" y="368.4" font-size="19.6" text-anchor="start" fill="#000000" font-weight="normal" textLength="69.3" lengthAdjust="spacingAndGlyphs">REGNM</text>
<text x="299.3" y="371.0" font-size="19.6" text-anchor="start" fill="#000000" font-weight="normal" textLength="81.7" lengthAdjust="spacingAndGlyphs">NYONMA</text>
<text x="299.3" y="439.4" font-size="19.6" text-anchor="start" fill="#000000" font-weight="normal" textLength="74.4" lengthAdjust="spacingAndGlyphs">LASARR</text>
<text x="299.3" y="461.0" font-size="19.6" text-anchor="start" fill="#000000" font-weight="normal" textLength="79.5" lengthAdjust="spacingAndGlyphs">GRANDS</text>
<text x="299.3" y="474.5" font-size="19.6" text-anchor="start" fill="#000000" font-weight="normal" textLength="73.5" lengthAdjust="spacingAndGlyphs">PREVER</text>
<text x="299.3" y="487.7" font-size="19.6" text-anchor="start" fill="#000000" font-weight="normal" textLength="73.4" lengthAdjust="spacingAndGlyphs">ECUBLE</text>
<text x="299.3" y="520.0" font-size="19.6" text-anchor="start" fill="#000000" font-weight="normal" textLength="65.2" lengthAdjust="spacingAndGlyphs">LELYSE</text>
<text x="299.3" y="581.7" font-size="19.6" text-anchor="start" fill="#000000" font-weight="normal" textLength="73.1" lengthAdjust="spacingAndGlyphs">PUIDOU</text>
<text x="299.3" y="700.2" font-size="19.6" text-anchor="start" fill="#000000" font-weight="normal" textLength="80.7" lengthAdjust="spacingAndGlyphs">COLMUR</text>
<text x="299.3" y="742.3" font-size="19.6" text-anchor="start" fill="#000000" font-weight="normal" textLength="76.9" lengthAdjust="spacingAndGlyphs">CHATDX</text>
<text x="299.3" y="836.0" font-size="19.6" text-anchor="start" fill="#000000" font-weight="normal" textLength="72.6" lengthAdjust="spacingAndGlyphs">LEYTRO</text>
<text x="299.3" y="837.5" font-size="19.6" text-anchor="start" fill="#000000" font-weight="normal" textLength="68.1" lengthAdjust="spacingAndGlyphs">CRSIER</text>
<text x="299.3" y="885.0" font-size="19.6" text-anchor="start" fill="#000000" font-weight="normal" textLength="65.8" lengthAdjust="spacingAndGlyphs">SAVIES</text>
<text x="299.3" y="886.3" font-size="19.6" text-anchor="start" fill="#000000" font-weight="normal" textLength="73.4" lengthAdjust="spacingAndGlyphs">ICOGNE</text>
<text x="299.3" y="894.0" font-size="19.6" text-anchor="start" fill="#000000" font-weight="normal" textLength="61.0" lengthAdjust="spacingAndGlyphs">GRIMS</text>
<text x="299.3" y="903.3" font-size="19.6" text-anchor="start" fill="#000000" font-weight="normal" textLength="69.7" lengthAdjust="spacingAndGlyphs">SIONES</text>
<text x="299.3" y="910.5" font-size="19.6" text-anchor="start" fill="#000000" font-weight="normal" textLength="74.0" lengthAdjust="spacingAndGlyphs">BRAMOI</text>
<text x="299.3" y="933.3" font-size="19.6" text-anchor="start" fill="#000000" font-weight="normal" textLength="76.3" lengthAdjust="spacingAndGlyphs">HERENS</text>
<text x="299.3" y="949.5" font-size="19.6" text-anchor="start" fill="#000000" font-weight="normal" textLength="66.9" lengthAdjust="spacingAndGlyphs">SIERRE</text>
<rect x="2182.8" y="983.3" width="501.1" height="237.5" fill="#ffffff" stroke="#262626" stroke-width="2"/><path d="M2258.6 1056.9 L2262.5 1054.5 L2269.5 1040.6 L2277.3 1021.9 L2281.9 1016.5 L2286.6 1010.3 L2284.3 1008.0 L2288.1 1002.5 L2292.8 1003.3 L2295.9 1005.6 L2302.1 1001.0 L2306.8 998.6 L2311.4 999.8 L2315.3 1001.0 L2322.3 997.9 L2325.4 1001.0 L2331.6 997.1 L2327.0 994.8 L2332.4 990.9 L2337.8 994.0 L2344.8 995.5 L2352.6 997.1 L2359.6 1001.0 L2362.7 1007.2 L2357.2 1014.2 L2357.2 1020.4 L2364.2 1021.9 L2368.9 1024.3 L2373.5 1028.1 L2378.2 1026.6 L2382.9 1022.7 L2386.0 1026.6 L2383.6 1034.3 L2386.0 1039.8 L2382.1 1040.6 L2376.6 1038.2 L2373.5 1042.1 L2375.9 1053.0 L2373.5 1053.8 L2368.9 1048.3 L2361.1 1051.4 L2356.5 1046.8 L2353.4 1042.1 L2350.2 1044.4 L2350.2 1049.9 L2345.6 1057.6 L2344.0 1066.2 L2341.7 1068.5 L2340.2 1061.5 L2334.7 1058.4 L2328.5 1052.2 L2327.7 1044.4 L2322.3 1047.5 L2318.4 1052.2 L2319.2 1056.9 L2311.4 1065.4 L2304.4 1063.1 L2299.0 1064.6 L2289.7 1062.3 L2280.4 1058.4 L2271.1 1056.9 L2263.3 1056.5Z" fill="#e5e5e5" stroke="#000" stroke-width="2" stroke-linejoin="round"/><g fill="#ffffff" stroke="#0000ff" stroke-width="3.1" stroke-linejoin="miter"><path d="M2271.0 1026.1 L2285.8 1026.1 L2278.4 1039.5Z"/><path d="M2266.8 1032.0 L2281.6 1032.0 L2274.2 1045.4Z"/><path d="M2259.0 1041.3 L2273.8 1041.3 L2266.4 1054.7Z"/><path d="M2268.3 1039.3 L2283.1 1039.3 L2275.7 1052.7Z"/><path d="M2283.8 1039.3 L2298.6 1039.3 L2291.2 1052.7Z"/><path d="M2284.6 1047.5 L2299.4 1047.5 L2292.0 1060.9Z"/><path d="M2291.6 1049.0 L2306.4 1049.0 L2299.0 1062.4Z"/><path d="M2282.6 1055.3 L2297.4 1055.3 L2290.0 1068.7Z"/><path d="M2279.6 1050.5 L2294.4 1050.5 L2287.0 1063.9Z"/></g><path d="M2600.3 1133.7 L2610.2 1164.6 L2642.6 1164.4 L2616.3 1183.4 L2626.5 1214.2 L2600.3 1195.0 L2574.1 1214.2 L2584.3 1183.4 L2558.0 1164.4 L2590.4 1164.6Z" fill="#ffff00" stroke="#ff0000" stroke-width="3.8" stroke-linejoin="bevel"/>
<rect x="236.0" y="147.2" width="2506.0" height="1179.6" fill="none" stroke="#262626" stroke-width="2"/><line x1="361.5" y1="1326.8" x2="361.5" y2="1300.8" stroke="#262626" stroke-width="2"/><line x1="361.5" y1="147.2" x2="361.5" y2="173.2" stroke="#262626" stroke-width="2"/><line x1="702.5" y1="1326.8" x2="702.5" y2="1300.8" stroke="#262626" stroke-width="2"/><line x1="702.5" y1="147.2" x2="702.5" y2="173.2" stroke="#262626" stroke-width="2"/><line x1="1043.5" y1="1326.8" x2="1043.5" y2="1300.8" stroke="#262626" stroke-width="2"/><line x1="1043.5" y1="147.2" x2="1043.5" y2="173.2" stroke="#262626" stroke-width="2"/><line x1="1384.5" y1="1326.8" x2="1384.5" y2="1300.8" stroke="#262626" stroke-width="2"/><line x1="1384.5" y1="147.2" x2="1384.5" y2="173.2" stroke="#262626" stroke-width="2"/><line x1="1725.5" y1="1326.8" x2="1725.5" y2="1300.8" stroke="#262626" stroke-width="2"/><line x1="1725.5" y1="147.2" x2="1725.5" y2="173.2" stroke="#262626" stroke-width="2"/><line x1="2066.5" y1="1326.8" x2="2066.5" y2="1300.8" stroke="#262626" stroke-width="2"/><line x1="2066.5" y1="147.2" x2="2066.5" y2="173.2" stroke="#262626" stroke-width="2"/><line x1="2407.5" y1="1326.8" x2="2407.5" y2="1300.8" stroke="#262626" stroke-width="2"/><line x1="2407.5" y1="147.2" x2="2407.5" y2="173.2" stroke="#262626" stroke-width="2"/><line x1="236.0" y1="147.2" x2="262.0" y2="147.2" stroke="#262626" stroke-width="2"/><line x1="2742.0" y1="147.2" x2="2716.0" y2="147.2" stroke="#262626" stroke-width="2"/><line x1="236.0" y1="442.09999999999997" x2="262.0" y2="442.09999999999997" stroke="#262626" stroke-width="2"/><line x1="2742.0" y1="442.09999999999997" x2="2716.0" y2="442.09999999999997" stroke="#262626" stroke-width="2"/><line x1="236.0" y1="737.0" x2="262.0" y2="737.0" stroke="#262626" stroke-width="2"/><line x1="2742.0" y1="737.0" x2="2716.0" y2="737.0" stroke="#262626" stroke-width="2"/><line x1="236.0" y1="1031.9" x2="262.0" y2="1031.9" stroke="#262626" stroke-width="2"/><line x1="2742.0" y1="1031.9" x2="2716.0" y2="1031.9" stroke="#262626" stroke-width="2"/><line x1="236.0" y1="1326.8" x2="262.0" y2="1326.8" stroke="#262626" stroke-width="2"/><line x1="2742.0" y1="1326.8" x2="2716.0" y2="1326.8" stroke="#262626" stroke-width="2"/>
<text x="361.5" y="1364.5" font-size="30" text-anchor="middle" fill="#262626" font-weight="normal" textLength="125" lengthAdjust="spacingAndGlyphs">21:08:00</text>
<text x="702.5" y="1364.5" font-size="30" text-anchor="middle" fill="#262626" font-weight="normal" textLength="125" lengthAdjust="spacingAndGlyphs">21:09:00</text>
<text x="1043.5" y="1364.5" font-size="30" text-anchor="middle" fill="#262626" font-weight="normal" textLength="125" lengthAdjust="spacingAndGlyphs">21:10:00</text>
<text x="1384.5" y="1364.5" font-size="30" text-anchor="middle" fill="#262626" font-weight="normal" textLength="125" lengthAdjust="spacingAndGlyphs">21:11:00</text>
<text x="1725.5" y="1364.5" font-size="30" text-anchor="middle" fill="#262626" font-weight="normal" textLength="125" lengthAdjust="spacingAndGlyphs">21:12:00</text>
<text x="2066.5" y="1364.5" font-size="30" text-anchor="middle" fill="#262626" font-weight="normal" textLength="125" lengthAdjust="spacingAndGlyphs">21:13:00</text>
<text x="2407.5" y="1364.5" font-size="30" text-anchor="middle" fill="#262626" font-weight="normal" textLength="125" lengthAdjust="spacingAndGlyphs">21:14:00</text>
<text x="223.2" y="157.6" font-size="30" text-anchor="end" fill="#262626" font-weight="normal" textLength="69" lengthAdjust="spacingAndGlyphs">1050</text>
<text x="223.2" y="452.5" font-size="30" text-anchor="end" fill="#262626" font-weight="normal" textLength="69" lengthAdjust="spacingAndGlyphs">1000</text>
<text x="223.2" y="747.4" font-size="30" text-anchor="end" fill="#262626" font-weight="normal" textLength="52" lengthAdjust="spacingAndGlyphs">950</text>
<text x="223.2" y="1042.3" font-size="30" text-anchor="end" fill="#262626" font-weight="normal" textLength="52" lengthAdjust="spacingAndGlyphs">900</text>
<text x="223.2" y="1337.2" font-size="30" text-anchor="end" fill="#262626" font-weight="normal" textLength="52" lengthAdjust="spacingAndGlyphs">850</text>
<text x="1484" y="98.9" font-size="33" text-anchor="middle" fill="#000000" font-weight="bold" textLength="1252" lengthAdjust="spacingAndGlyphs" stroke="#000" stroke-width="0.45">Formes d'onde suite au séisme de magnitude 5.7 à Bosnie-Herzégovine</text>
<text x="1494" y="136.1" font-size="33" text-anchor="middle" fill="#000000" font-weight="bold" textLength="1128" lengthAdjust="spacingAndGlyphs" stroke="#000" stroke-width="0.45">le 2022-04-22, profondeur 5 km (selon le CSEM) [filtre: 0.3-1 Hz]</text>
<text x="1490.3" y="1402.5" font-size="32" text-anchor="middle" fill="#262626" font-weight="normal" textLength="606" lengthAdjust="spacingAndGlyphs">Temps, le 2022-04-22 (hh:mm:ss UTC)</text>
<g transform="translate(137.7,736.2) rotate(-90)"><text x="0" y="0" font-size="32" text-anchor="middle" fill="#262626" font-weight="normal" textLength="419" lengthAdjust="spacingAndGlyphs">Distance à l'épicentre (km)</text></g>
<g transform="translate(279.3,1313) rotate(-90)"><text x="0" y="0" font-size="29" text-anchor="start" fill="#ff0000" font-weight="normal" textLength="276" lengthAdjust="spacingAndGlyphs">&lt;-- Temps d'origine</text></g>
<text x="1321.4" y="236.9" font-size="30" text-anchor="start" fill="#0080ff" font-weight="normal" textLength="95" lengthAdjust="spacingAndGlyphs">onde P</text>
<text x="1944.2" y="234.8" font-size="30" text-anchor="start" fill="#0080ff" font-weight="normal" textLength="95" lengthAdjust="spacingAndGlyphs">onde S</text>
<text x="2337.5" y="1286.7" font-size="29.5" text-anchor="start" fill="#000000" font-weight="normal" textLength="391" lengthAdjust="spacingAndGlyphs">2022.05.02 G.Hetényi, UNIL</text>
</svg>
</body></html>
